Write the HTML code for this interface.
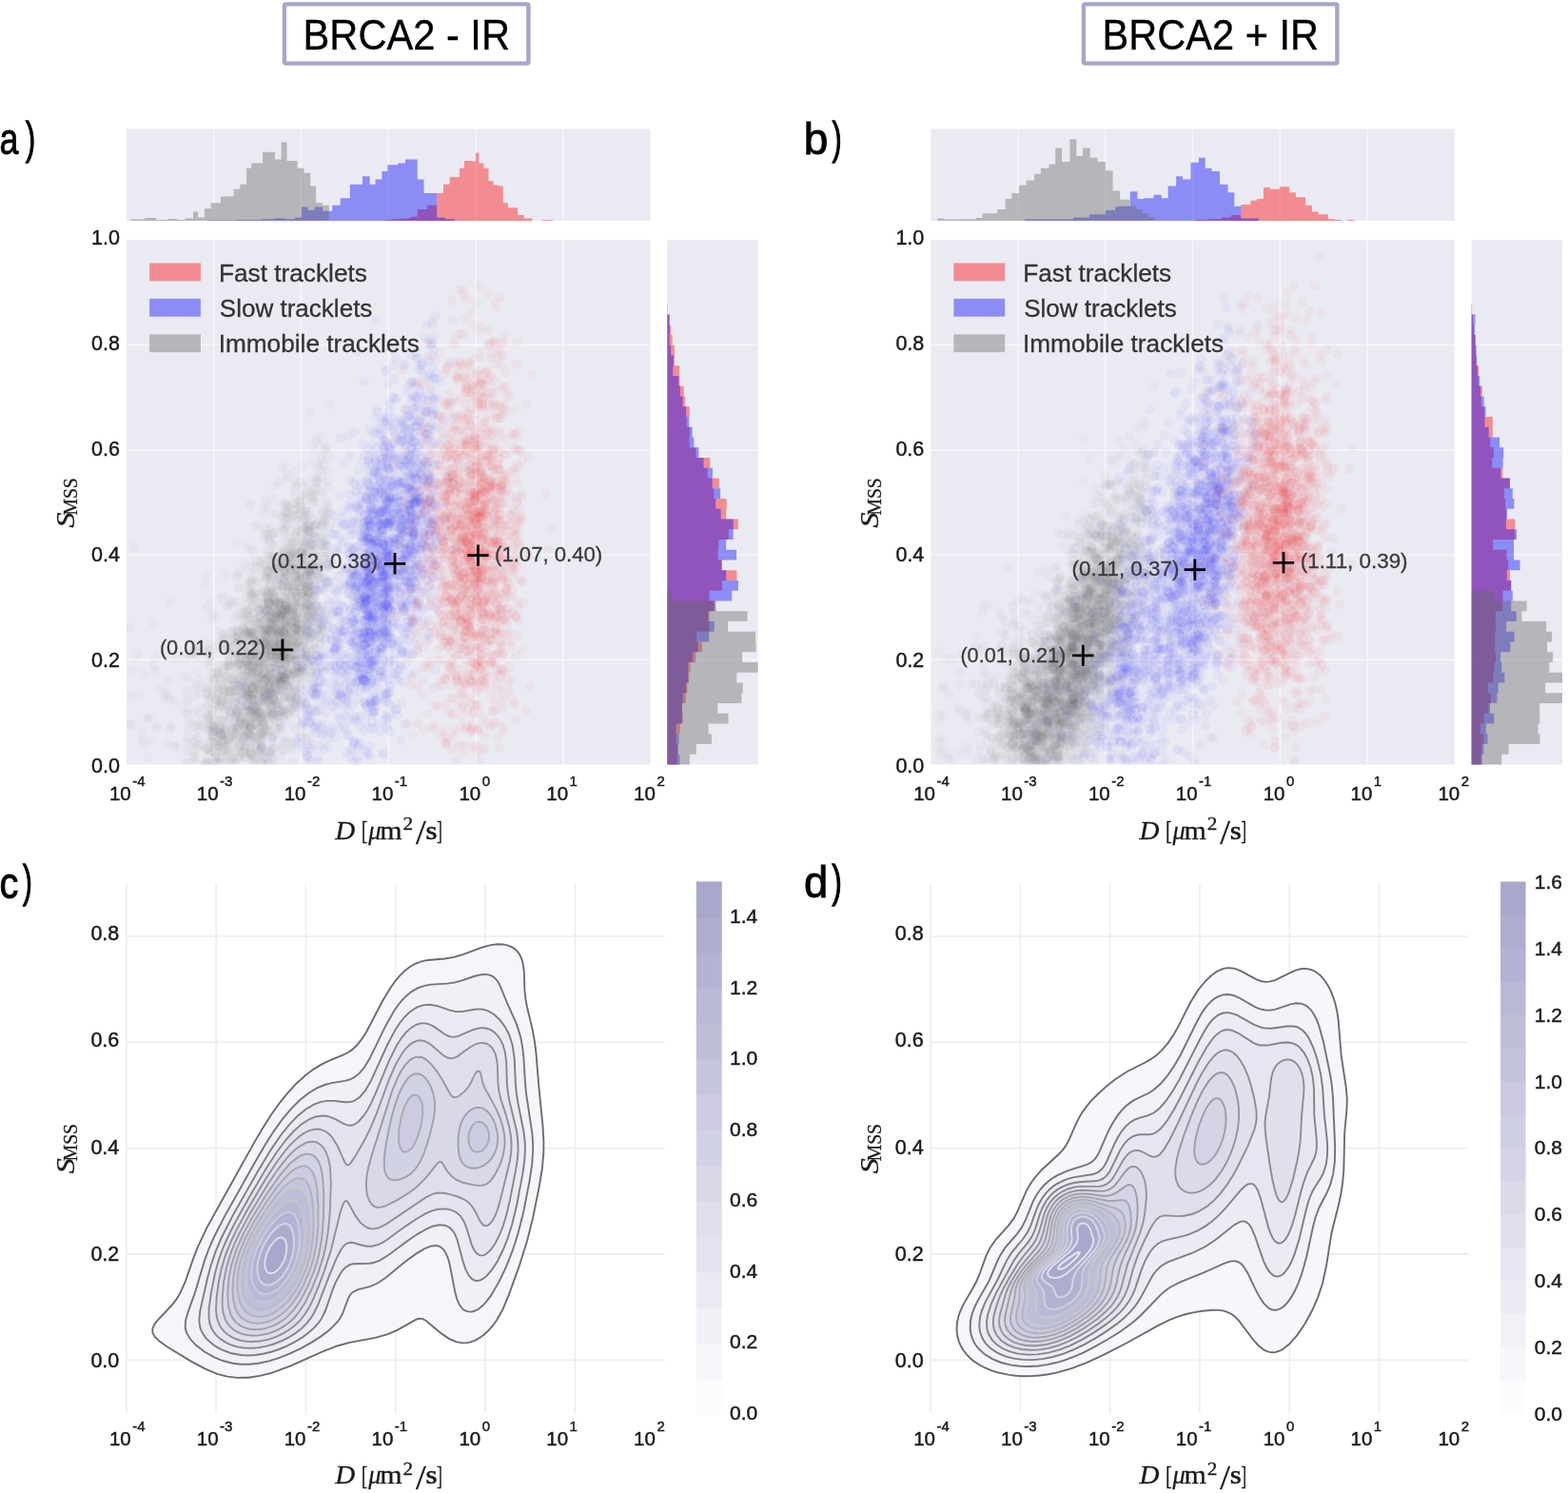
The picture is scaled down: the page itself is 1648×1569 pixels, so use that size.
<!DOCTYPE html><html><head><meta charset="utf-8"><style>html,body{margin:0;padding:0;background:#fff;}svg{display:block;}</style></head><body><svg width="1648" height="1569" viewBox="0 0 1648 1569">
<rect width="1648" height="1569" fill="#ffffff"/>
<rect x="298.9" y="4.4" width="256.5" height="62.2" fill="#fff" stroke="#A6A6CB" stroke-width="4.4" rx="1.5"/>
<text x="318.57" y="52.4" font-size="44.5" fill="#000" font-family="'Liberation Sans', Arial, Helvetica, sans-serif" textLength="217.44" lengthAdjust="spacingAndGlyphs" stroke="#000" stroke-width="0.35">BRCA2 - IR</text>
<rect x="1138.9" y="4.4" width="266.5" height="62.2" fill="#fff" stroke="#A6A6CB" stroke-width="4.4" rx="1.5"/>
<text x="1158.58" y="52.4" font-size="44.5" fill="#000" font-family="'Liberation Sans', Arial, Helvetica, sans-serif" textLength="227.47" lengthAdjust="spacingAndGlyphs" stroke="#000" stroke-width="0.35">BRCA2 + IR</text>
<text x="-0.41" y="162.4" font-size="47" fill="#000" font-family="'Liberation Sans', Arial, Helvetica, sans-serif" textLength="19.96" lengthAdjust="spacingAndGlyphs" stroke="#000" stroke-width="0.9">a</text>
<text x="27.1" y="160.6" font-size="47" fill="#000" font-family="'Liberation Sans', Arial, Helvetica, sans-serif" textLength="10.12" lengthAdjust="spacingAndGlyphs" stroke="#000" stroke-width="1.3">)</text>
<text x="844.71" y="162.3" font-size="47" fill="#000" font-family="'Liberation Sans', Arial, Helvetica, sans-serif" textLength="25.58" lengthAdjust="spacingAndGlyphs" stroke="#000" stroke-width="0.9">b</text>
<text x="874.7" y="160.5" font-size="47" fill="#000" font-family="'Liberation Sans', Arial, Helvetica, sans-serif" textLength="9.86" lengthAdjust="spacingAndGlyphs" stroke="#000" stroke-width="1.3">)</text>
<text x="-0.59" y="943.6" font-size="47" fill="#000" font-family="'Liberation Sans', Arial, Helvetica, sans-serif" textLength="19.88" lengthAdjust="spacingAndGlyphs" stroke="#000" stroke-width="0.9">c</text>
<text x="24.01" y="941.8" font-size="47" fill="#000" font-family="'Liberation Sans', Arial, Helvetica, sans-serif" textLength="9.74" lengthAdjust="spacingAndGlyphs" stroke="#000" stroke-width="1.3">)</text>
<text x="844.89" y="943.3" font-size="47" fill="#000" font-family="'Liberation Sans', Arial, Helvetica, sans-serif" textLength="25.21" lengthAdjust="spacingAndGlyphs" stroke="#000" stroke-width="0.9">d</text>
<text x="874.39" y="941.5" font-size="47" fill="#000" font-family="'Liberation Sans', Arial, Helvetica, sans-serif" textLength="10.25" lengthAdjust="spacingAndGlyphs" stroke="#000" stroke-width="1.3">)</text>
<rect x="133" y="135.5" width="550.5" height="96.5" fill="#EAEAF2"/>
<rect x="133" y="252.3" width="550.5" height="551.1" fill="#EAEAF2"/>
<rect x="701.3" y="252.3" width="95.4" height="551.1" fill="#EAEAF2"/>
<path d="M224.75 135.5V232M224.75 252.3V803.4M316.5 135.5V232M316.5 252.3V803.4M408.25 135.5V232M408.25 252.3V803.4M500 135.5V232M500 252.3V803.4M591.75 135.5V232M591.75 252.3V803.4M133 693.18H683.5M701.3 693.18H796.7M133 582.96H683.5M701.3 582.96H796.7M133 472.74H683.5M701.3 472.74H796.7M133 362.52H683.5M701.3 362.52H796.7" stroke="#F6F6FA" stroke-width="1.5" fill="none"/>
<path d="M404.75 232V231.26H411.55V232ZM411.55 232V230.24H421.74V232ZM421.74 232V229.39H431.94V232ZM431.94 232V227.69H438.73V232ZM438.73 232V220.04H448.93V232ZM448.93 232V215.8H459.12V232ZM459.12 232V203.05H465.92V232ZM465.92 232V193.71H472.71V232ZM472.71 232V186.07H482.91V232ZM482.91 232V176.72H488V232ZM488 232V169.08H495.65V232ZM495.65 232V169.42H499.89V232ZM499.89 232V160.58H503.29V232ZM503.29 232V171.62H508.39V232ZM508.39 232V176.72H513.49V232ZM513.49 232V190.31H518.58V232ZM518.58 232V194.56H523.68V232ZM523.68 232V195.41H528.78V232ZM528.78 232V213.25H533.87V232ZM533.87 232V218.35H544.07V232ZM544.07 232V225.99H550.86V232ZM550.86 232V229.39H559.36V232ZM569.55 232V231.26H581.44V232Z" fill="#ff0000" fill-opacity="0.4"/>
<path d="M218.35 232V231.43H248.93V232ZM248.93 232V231.09H274.41V232ZM274.41 232V230.24H288V232ZM288 232V229.39H299.89V232ZM299.89 232V230.24H310.09V232ZM310.09 232V228.54H316.88V232ZM316.88 232V217.5H323.68V232ZM323.68 232V220.89H330.48V232ZM330.48 232V217.5H338.97V232ZM338.97 232V221.74H349.16V232ZM349.16 232V215.8H357.66V232ZM357.66 232V208.15H367.85V232ZM367.85 232V193.71H384.84V232ZM384.84 232V185.22H388.24V232ZM388.24 232V194.56H395.04V232ZM395.04 232V188.61H401.83V232ZM401.83 232V180.97H409.99V232ZM380.97 232V185.22H388.61V232ZM388.61 232V193.71H394.56V232ZM394.56 232V188.61H401.36V232ZM401.36 232V180.12H407.3V232ZM407.3 232V173.32H418.35V232ZM418.35 232V171.62H425.99V232ZM425.99 232V167.38H438.73V232ZM438.73 232V188.61H445.53V232ZM445.53 232V203.05H459.12V232ZM459.12 232V228.54H467.61V232ZM467.61 232V230.24H477.81V232Z" fill="#0000ff" fill-opacity="0.4"/>
<path d="M136.8 232V230.58H152.09V232ZM152.09 232V229.05H163.98V232ZM163.98 232V230.92H175.87V232ZM175.87 232V229.9H186.07V232ZM186.07 232V230.92H194.56V232ZM194.56 232V229.39H203.05V232ZM203.05 232V222.59H208.15V232ZM208.15 232V228.54H214.95V232ZM214.95 232V219.19H221.74V232ZM221.74 232V213.25H231.94V232ZM231.94 232V206.45H245.53V232ZM245.53 232V198.81H252.32V232ZM252.32 232V193.71H259.12V232ZM259.12 232V176.72H264.22V232ZM264.22 232V171.62H276.11V232ZM276.11 232V159.73H288.85V232ZM288.85 232V167.38H295.65V232ZM295.65 232V149.54H301.59V232ZM301.59 232V169.08H312.64V232ZM312.64 232V176.72H319.43V232ZM319.43 232V181.82H326.23V232ZM326.23 232V195.41H332.17V232ZM332.17 232V213.25H338.97V232ZM338.97 232V215.8H345.77V232Z" fill="#666666" fill-opacity="0.4"/>
<path d="M701.3 792.65H711.45V803.4H701.3ZM701.3 781.91H712.05V792.65H701.3ZM701.3 771.16H710.53V781.91H701.3ZM701.3 760.41H714.63V771.16H701.3ZM701.3 749.67H717.67V760.41H701.3ZM701.3 738.92H716.69V749.67H701.3ZM701.3 728.17H720.78V738.92H701.3ZM701.3 717.43H722.28V728.17H701.3ZM701.3 706.68H723.86V717.43H701.3ZM701.3 695.94H725.5V706.68H701.3ZM701.3 685.19H731.16V695.94H701.3ZM701.3 674.44H738.04V685.19H701.3ZM701.3 663.7H732.15V674.44H701.3ZM701.3 652.95H745.27V663.7H701.3ZM701.3 642.2H745.54V652.95H701.3ZM701.3 631.46H751.55V642.2H701.3ZM701.3 620.71H745.65V631.46H701.3ZM701.3 609.96H758.86V620.71H701.3ZM701.3 599.22H774.41V609.96H701.3ZM701.3 588.47H758.49V599.22H701.3ZM701.3 577.72H754.62V588.47H701.3ZM701.3 566.98H755.21V577.72H701.3ZM701.3 556.23H765.74V566.98H701.3ZM701.3 545.49H775.74V556.23H701.3ZM701.3 534.74H763.23V545.49H701.3ZM701.3 523.99H763.69V534.74H701.3ZM701.3 513.25H750.39V523.99H701.3ZM701.3 502.5H755.82V513.25H701.3ZM701.3 491.75H743.65V502.5H701.3ZM701.3 481.01H746.28V491.75H701.3ZM701.3 470.26H731.4V481.01H701.3ZM701.3 459.51H724.49V470.26H701.3ZM701.3 448.77H725.03V459.51H701.3ZM701.3 438.02H721.65V448.77H701.3ZM701.3 427.27H724.76V438.02H701.3ZM701.3 416.53H720.18V427.27H701.3ZM701.3 405.78H718.77V416.53H701.3ZM701.3 395.03H714.49V405.78H701.3ZM701.3 384.29H714.08V395.03H701.3ZM701.3 373.54H708.85V384.29H701.3ZM701.3 362.8H708.89V373.54H701.3ZM701.3 352.05H706.69V362.8H701.3ZM701.3 341.3H705.07V352.05H701.3ZM701.3 330.56H703.99V341.3H701.3ZM701.3 319.81H701.8V330.56H701.3Z" fill="#ff0000" fill-opacity="0.4"/>
<path d="M701.3 792.65H714.37V803.4H701.3ZM701.3 781.91H712.69V792.65H701.3ZM701.3 771.16H713.47V781.91H701.3ZM701.3 760.41H710.56V771.16H701.3ZM701.3 749.67H716.56V760.41H701.3ZM701.3 738.92H717.08V749.67H701.3ZM701.3 728.17H717.79V738.92H701.3ZM701.3 717.43H721.06V728.17H701.3ZM701.3 706.68H723.32V717.43H701.3ZM701.3 695.94H723.22V706.68H701.3ZM701.3 685.19H727.86V695.94H701.3ZM701.3 674.44H733.75V685.19H701.3ZM701.3 663.7H745.18V674.44H701.3ZM701.3 652.95H750.71V663.7H701.3ZM701.3 642.2H744.34V652.95H701.3ZM701.3 631.46H750.54V642.2H701.3ZM701.3 620.71H769.24V631.46H701.3ZM701.3 609.96H775.99V620.71H701.3ZM701.3 599.22H763.23V609.96H701.3ZM701.3 588.47H758.65V599.22H701.3ZM701.3 577.72H774.08V588.47H701.3ZM701.3 566.98H763.17V577.72H701.3ZM701.3 556.23H770.62V566.98H701.3ZM701.3 545.49H770.64V556.23H701.3ZM701.3 534.74H757.66V545.49H701.3ZM701.3 523.99H752.18V534.74H701.3ZM701.3 513.25H757.18V523.99H701.3ZM701.3 502.5H748.64V513.25H701.3ZM701.3 491.75H748.87V502.5H701.3ZM701.3 481.01H739.56V491.75H701.3ZM701.3 470.26H734.38V481.01H701.3ZM701.3 459.51H729.3V470.26H701.3ZM701.3 448.77H727.65V459.51H701.3ZM701.3 438.02H724.22V448.77H701.3ZM701.3 427.27H721.2V438.02H701.3ZM701.3 416.53H717.55V427.27H701.3ZM701.3 405.78H714.92V416.53H701.3ZM701.3 395.03H713.26V405.78H701.3ZM701.3 384.29H707.27V395.03H701.3ZM701.3 373.54H707.97V384.29H701.3ZM701.3 362.8H705.11V373.54H701.3ZM701.3 352.05H703.66V362.8H701.3ZM701.3 341.3H703.67V352.05H701.3ZM701.3 330.56H703.36V341.3H701.3Z" fill="#0000ff" fill-opacity="0.4"/>
<path d="M701.3 792.65H724.83V803.4H701.3ZM701.3 781.91H731.75V792.65H701.3ZM701.3 771.16H747.87V781.91H701.3ZM701.3 760.41H744.54V771.16H701.3ZM701.3 749.67H765.59V760.41H701.3ZM701.3 738.92H754.3V749.67H701.3ZM701.3 728.17H779.38V738.92H701.3ZM701.3 717.43H780.76V728.17H701.3ZM701.3 706.68H774.33V717.43H701.3ZM701.3 695.94H796.7V706.68H701.3ZM701.3 685.19H780.16V695.94H701.3ZM701.3 674.44H794.49V685.19H701.3ZM701.3 663.7H794.04V674.44H701.3ZM701.3 652.95H765.04V663.7H701.3ZM701.3 642.2H785.5V652.95H701.3ZM701.3 631.46H752.71V642.2H701.3ZM701.3 620.71H705.97V631.46H701.3Z" fill="#666666" fill-opacity="0.4"/>
<clipPath id="sc0"><rect x="133" y="252.3" width="550.5" height="551.1"/></clipPath>
<g clip-path="url(#sc0)" fill="none" stroke-linecap="round" stroke-width="10.4">
<g stroke="#ff1818" stroke-opacity="0.035">
<path d="M492.5 443h0M513 690.5h0M409 617.5h0M475.5 565.5h0M468 590.5h0M462.5 506h0M472.5 473.5h0M484 606h0M492 509.5h0M497 658.5h0M494 684.5h0M507.5 517.5h0M477 380.5h0M519.5 540h0M439.5 401.5h0M504.5 540.5h0M490 466.5h0M467 659h0M518.5 601h0M541 430.5h0M480.5 485h0M520.5 471h0M526.5 456.5h0M456 598h0M444 540.5h0M468 625.5h0M461 557h0M540.5 575.5h0M499 623h0M432 646h0M547 542.5h0M510.5 443h0M480.5 632h0M518.5 583.5h0M489.5 736h0M475 501.5h0M437.5 521.5h0M506.5 595.5h0M475 538.5h0M493.5 634h0M451.5 527h0M501.5 725.5h0M504 578h0M507.5 404.5h0M489 589.5h0M451 571h0M496 671h0M496.5 478.5h0M525.5 654h0M462 487h0M515.5 764h0M489 648.5h0M471 777.5h0M529.5 590h0M485 558.5h0M510 529.5h0M527 510.5h0M509.5 713.5h0M527.5 704.5h0M542.5 459.5h0M506 419h0M461 694h0M536 628h0M489 495h0M475.5 752h0M528 763.5h0M502 390h0M414.5 647.5h0M501 461h0M438 669.5h0M533 665.5h0M553.5 425h0M532 499h0M510 663.5h0M524.5 439.5h0M440.5 578.5h0M445.5 680h0M480.5 704h0M520 623h0M502.5 495.5h0M543 382.5h0M434.5 559h0M516.5 729.5h0M520 556.5h0M498 529h0M463.5 544h0M454 361h0M444.5 730h0M462 641.5h0M509.5 561.5h0M497 566.5h0M433 712h0M540 599.5h0M498 549.5h0M466 447.5h0M474.5 578.5h0M502.5 647h0M496 328.5h0M546.5 474h0M509.5 632h0M503.5 703h0M477.5 618h0M480.5 452.5h0M516 510h0M506 343h0M497 376.5h0M525 527h0M531.5 611.5h0M432 690h0M478.5 662h0M540 558h0M490 398h0M491.5 409h0M444 591h0M472 647h0M483.5 783h0M516.5 489h0M527 640.5h0M479 689h0M501 740.5h0M501.5 768.5h0M537 716.5h0M514.5 646.5h0M506 606.5h0M469.5 739h0M518.5 422h0M527 371.5h0M528 689.5h0M523.5 775h0M479 515.5h0M522 666.5h0M448 659h0M522 569.5h0M540 737.5h0M511.5 363.5h0M548 522.5h0M553 747h0M505.5 681.5h0M446.5 486.5h0M543.5 359.5h0M492 614h0M489 536h0M493 707.5h0M448 609.5h0M423 599.5h0M527 736h0M471 679h0M469 525h0M527.5 408.5h0M467.5 608.5h0M462 371h0M481.5 721h0M440.5 633h0M423.5 388.5h0M457.5 741.5h0M557 721.5h0M543 488.5h0M460 682.5h0M466.5 422.5h0M447.5 702h0M414.5 461h0M488.5 766.5h0M476.5 766.5h0M452 632h0M460.5 467.5h0M467 714h0M412 585h0M487.5 311h0M479 798.5h0M521 745.5h0M531 352h0M427 530h0M429.5 479.5h0M504.5 301h0M549 683h0M455 766h0M521 323.5h0M472.5 461h0M495 602h0M449 506.5h0M445.5 466.5h0M483 421.5h0M478 438h0M557 584.5h0M462 670h0M495.5 429.5h0M450 750h0M437 618h0M450 448.5h0M434 772h0M555.5 480.5h0M487 575.5h0M461 437.5h0M448.5 375h0M506.5 788.5h0M475.5 599h0M525 312h0M478.5 356.5h0M534 546.5h0M543.5 649h0M467.5 393h0M428.5 760.5h0M446.5 433h0M559 393.5h0M471.5 412.5h0M527 678h0M550 611h0M406 520.5h0M527 384.5h0M487.5 386h0M549.5 633h0M515.5 376.5h0M512 478.5h0M454 409.5h0M417.5 566.5h0M511.5 456h0M516 394.5h0M537 522h0M573 518.5h0M439.5 760h0M479 394.5h0M453.5 338h0M508 755.5h0M524.5 786h0M541 587.5h0M454.5 478h0M405 479.5h0M528 724h0M530.5 478h0M541.5 756h0M530 425h0M576 577.5h0M456 581h0M426 430h0M412.5 490.5h0M484 546.5h0M544 507h0M578.5 555.5h0M464.5 572.5h0M475 316h0M444.5 714.5h0"/>
<path d="M498 541.5h0M472 501h0M508.5 699h0M519 543h0M494 608h0M506 507.5h0M475 632.5h0M513 609.5h0M459.5 589.5h0M525.5 586h0M464.5 617h0M474.5 484h0M500.5 717h0M489 491h0M506.5 519h0M531 461.5h0M500.5 665.5h0M501.5 581.5h0M485.5 552h0M489.5 662.5h0M491.5 649.5h0M503 615h0M485 745h0M527.5 704.5h0M472 531.5h0M460 547.5h0M504.5 415.5h0M512 399.5h0M511 685.5h0M443 534h0M464 476.5h0M514 425.5h0M485 382.5h0M463.5 666.5h0M473 701h0M455 575h0M479.5 609.5h0M509.5 599h0M502.5 678.5h0M538.5 626.5h0M522 566h0M488.5 463.5h0M466.5 569h0M433.5 652h0M453.5 600.5h0M493 574.5h0M498 741h0M486 710h0M501.5 468h0M510.5 638h0M459 508h0M531.5 618h0M453 696.5h0M510.5 572h0M501 630h0M541.5 593.5h0M497.5 499h0M527 508.5h0M504.5 484.5h0M503 371h0M531.5 671h0M493.5 517h0M541 497h0M515.5 624.5h0M464 633.5h0M529 651h0M518.5 494h0M516.5 473h0M489.5 412h0M467 652.5h0M410 646h0M485 626.5h0M482.5 579.5h0M484.5 451.5h0M481 394.5h0M535 552h0M487.5 729.5h0M488 335h0M548.5 542h0M479.5 646.5h0M511.5 587h0M476.5 659h0M517 525h0M517.5 673.5h0M468.5 780h0M540 741h0M460 488.5h0M469 555h0M445 566h0M503 766h0M548 518.5h0M476.5 464.5h0M473 514h0M476.5 596.5h0M452 657.5h0M478 566.5h0M483 534.5h0M439.5 685.5h0M509 560.5h0M449.5 674h0M434 557h0M439 722.5h0M494.5 562.5h0M489.5 475.5h0M517.5 720.5h0M526 681h0M509 445h0M420 639h0M524.5 597h0M546 452h0M516.5 372h0M544.5 569h0M442.5 599h0M498 457h0M529.5 430h0M531.5 733h0M492.5 689.5h0M468 456h0M476 733.5h0M451.5 479h0M433 403.5h0M494 592h0M430.5 593h0M510 535.5h0M471 748h0M511 650h0M473.5 426.5h0M527.5 636.5h0M498 705.5h0M524.5 483.5h0M528 374h0M454 537.5h0M445 588h0M546.5 473h0M416.5 599h0M497.5 402h0M464 679.5h0M494.5 441.5h0M464 438h0M488.5 507h0M449.5 518.5h0M499.5 318.5h0M465 721h0M488.5 783h0M438 634.5h0M484 764h0M519.5 738.5h0M470 384.5h0M527 360h0M433.5 512h0M521.5 662h0M532 407h0M455.5 762.5h0M528 529.5h0M446 404.5h0M543 581.5h0M486 674.5h0M493 528h0M487 305h0M474 685h0M542.5 689.5h0M478.5 436.5h0M445.5 460h0M445.5 767.5h0M450 497h0M516 512.5h0M461 742h0M449 360.5h0M517 455.5h0M520.5 759h0M431.5 621.5h0M461 465.5h0M449 626h0M458 560h0M509 548h0M500.5 789h0M457.5 377h0M521 439h0M471 583.5h0M554 583h0M528.5 575h0M539 644.5h0M474.5 542.5h0M515.5 360.5h0M512.5 308h0M519 413h0M543.5 667h0M448.5 426h0M542.5 529.5h0M483.5 350.5h0M537 540.5h0M425.5 572h0M520.5 317.5h0M489 424.5h0M452 613.5h0M426 473.5h0M427 535.5h0M531.5 391h0M432 668h0M476.5 362h0M429 523h0M501.5 348.5h0M473 673h0M529 768.5h0M520 554.5h0M466 768.5h0M440 502h0M548.5 610.5h0M477 772.5h0M534 715h0M443 437h0M534.5 563.5h0M459.5 523.5h0M513 347h0"/>
<path d="M506.5 539h0M520 545.5h0M478 498.5h0M471 480.5h0M459.5 589.5h0M501.5 615.5h0M498 491.5h0M487.5 664.5h0M527 703h0M500.5 521h0M505 509h0M464.5 495.5h0M497.5 578.5h0M499.5 418h0M478.5 552h0M480 634.5h0M510.5 577h0M501 600.5h0M484 384h0M451 605.5h0M471 699h0M474.5 615.5h0M495.5 544h0M528 500h0M464 668h0M435 654.5h0M486 568h0M515 594.5h0M525.5 665.5h0M500 700h0M494.5 636h0M508 670h0M537 674h0M501.5 726h0M501 679h0M522 647h0M484.5 652.5h0M490 401.5h0M507 638.5h0M449.5 549h0M486.5 601.5h0M468.5 626.5h0M521 614h0M470.5 566.5h0M475.5 584h0M460 640.5h0M467 542.5h0M491 623.5h0M475.5 750h0M480.5 709.5h0M518 427.5h0M482 531h0M491.5 463.5h0M440 539.5h0M520 689h0M504 469.5h0M510.5 706h0M498.5 647.5h0M500 714h0M496 764.5h0M515.5 505.5h0M530.5 564h0M451.5 561.5h0M515 522h0M506.5 403h0M484 729.5h0M491 745.5h0M500 450.5h0M538.5 619h0M526 511h0M486.5 583h0M533 654.5h0M483 473.5h0M522 573h0M524.5 726h0M475.5 453h0M521.5 633.5h0M448 527.5h0M541 537h0M512 413h0M513 554.5h0M488 444.5h0M462 514.5h0M464.5 577h0M475.5 513.5h0M469.5 528h0M493.5 559h0M538 591.5h0M530.5 583h0M454 501.5h0M466 608.5h0M465 653.5h0M444.5 701h0M513 626.5h0M513 453.5h0M525.5 488h0M528.5 624.5h0M490.5 692.5h0M536 727h0M545 634h0M517.5 472h0M490 315h0M495.5 340h0M524 535h0M488 414.5h0M489 503.5h0M518 748h0M544 558.5h0M494 432.5h0M545.5 491.5h0M461.5 447.5h0M516 657.5h0M448 577.5h0M439.5 634.5h0M443 596.5h0M512.5 488.5h0M505 376.5h0M463.5 774h0M522.5 368h0M475.5 788h0M538.5 573.5h0M509.5 440h0M448.5 456.5h0M434 550.5h0M461.5 721h0M509 773.5h0M529 744h0M452.5 469h0M543 522h0M486.5 791.5h0M509 786h0M471 423h0M476 662h0M509.5 392h0M501.5 741h0M487 677.5h0M508 566h0M468.5 388h0M544 471h0M537.5 602.5h0M452 616.5h0M531.5 431.5h0M447.5 483.5h0M450.5 512h0M538.5 643h0M490 720h0M474 675h0M474.5 719.5h0M439.5 607h0M470 467h0M538.5 455h0M474.5 647h0M546 652.5h0M533 551.5h0M519 761h0M525.5 452.5h0M496.5 532.5h0M521.5 439.5h0M442 621.5h0M487 351h0M548.5 548h0M522 382.5h0M460.5 554h0M497 785h0M487.5 519h0M503 798.5h0M535.5 416.5h0M528 406h0M440.5 677.5h0M481 487h0M483 304.5h0M432 720h0M443 402.5h0M531.5 477.5h0M475.5 602.5h0"/>
<path d="M469 484h0M510 539h0M476 501.5h0M457.5 595h0M523 703h0M495.5 613.5h0M476 632h0M479 551h0M502 416h0M508.5 514.5h0M469 618.5h0M465.5 586.5h0M534.5 506.5h0M500.5 577h0M525 547.5h0M498 541h0M490.5 600.5h0M436 650.5h0M480.5 609.5h0M500.5 488.5h0M501.5 681h0M513 582h0M522.5 506.5h0M493.5 565h0M488 669h0M480 573h0M511 610.5h0M499 625h0M515 568.5h0M508 503h0M488 395.5h0M528 608.5h0M491 551h0M470.5 707h0M500 700.5h0M496.5 589h0M484.5 654h0M520 619h0M520 595h0M465.5 568.5h0M507 600h0M446 598h0M509 721.5h0M516.5 672h0M498.5 526.5h0M514.5 633h0M497.5 655.5h0M507.5 645.5h0M464.5 552.5h0M493 713.5h0M496.5 462.5h0M503 551h0M481.5 591h0M480 533h0M524.5 561.5h0M502.5 667h0M535.5 664h0M460.5 658.5h0M547 533h0M516.5 688.5h0M503.5 393.5h0M473 516.5h0M480 481.5h0M444 530h0M513 557h0M520 426.5h0M507 457h0M494 641h0M474 456h0M486.5 467.5h0M462.5 508.5h0M545.5 545h0M470.5 643.5h0M522.5 650.5h0M530 519h0M485 753.5h0M489.5 411.5h0M503 766.5h0M523 493h0M449 696h0M540 563.5h0M462 540h0M467 471.5h0M489 434.5h0M534 645h0M520 525h0M500.5 442h0M480 385.5h0M517 450h0M468 670.5h0M487.5 621.5h0M467 527.5h0M471 655h0M504 404.5h0M488 700.5h0M535 701h0M486.5 741.5h0M452 522h0M496.5 749.5h0M502 472.5h0M543.5 595h0M467.5 440h0M451 572.5h0M451.5 561.5h0M484.5 688.5h0M513.5 473h0M518.5 358h0M539.5 492h0M532.5 619h0M494.5 505.5h0M484 520h0M524 481h0M462 629.5h0M481 715.5h0M489 490.5h0M441 637h0M510.5 709.5h0M449.5 540h0M537.5 679h0M469.5 782h0M514.5 397.5h0M486 728.5h0M430 558h0M488 453.5h0M517.5 746.5h0M530 633.5h0M469.5 424.5h0M529 687.5h0M500.5 784h0M493.5 380h0M533.5 587h0M549 483.5h0M452 505h0M527 439.5h0M444.5 513.5h0M530.5 575.5h0M451.5 486h0M523 376h0M459 494.5h0M457.5 609.5h0M539 457.5h0M542 473.5h0M474 734h0M544.5 639h0M516.5 412.5h0M445.5 450h0M441.5 660.5h0M465 693.5h0M508 429.5h0M514.5 658.5h0M533 414.5h0M520.5 462.5h0M546 609h0M522.5 716.5h0M452.5 636h0"/>
<path d="M517 539.5h0M478 492h0M496.5 618h0M494.5 572.5h0M502.5 540.5h0M514.5 514h0M455.5 591h0M525 549.5h0M507 411.5h0M493 494h0M507 423.5h0M494 419h0M499.5 586.5h0M487.5 668.5h0M480.5 398h0M501 684.5h0M526.5 709h0M512.5 580.5h0M500 517.5h0M461 479h0M503.5 603.5h0M472.5 629.5h0M522.5 587h0M475.5 556.5h0M484.5 652h0M482 601h0M506.5 570h0M508.5 697h0M483.5 638.5h0M479.5 580.5h0M513 609.5h0M482.5 545h0M515 672.5h0M466 568h0M510 529h0M489 530.5h0M465.5 581h0M527 674h0M514 634h0M499.5 465h0M480 619.5h0M498 643.5h0M501 632h0M458.5 546h0M505.5 494h0M474 526h0M518.5 563h0M433.5 660h0M519 688h0M496 483h0M510 718.5h0M469.5 507.5h0M504.5 654h0M478 472h0M489 554.5h0M492.5 605.5h0M474 702.5h0M499 665.5h0M516.5 436h0M481.5 502.5h0M498 452h0M509 620.5h0M519.5 644h0M508.5 554.5h0M464 598h0M495.5 696.5h0M526 653.5h0M534 611h0M532 516h0M498 505.5h0M484.5 565.5h0M524.5 623.5h0M516.5 490h0M468 652.5h0M459.5 521.5h0M537.5 542.5h0M490.5 408h0M505.5 399h0M483.5 517.5h0M478.5 446.5h0M536.5 559.5h0M497 717h0M525.5 572h0M493 435.5h0M466.5 615.5h0M445 572h0M497 741h0M488 682h0M519.5 599h0M544 572.5h0M452 535h0M494.5 766.5h0M528 505h0M454 664.5h0M523.5 523h0M520 358.5h0M467 675.5h0M516 479h0M525 471.5h0M488.5 589.5h0M463 715h0M451 602.5h0M486 714h0M481.5 737h0M482.5 379.5h0M470 431.5h0M517.5 408h0M451.5 562h0M433 550h0M464.5 455.5h0M533.5 639h0M461 635.5h0M442.5 542h0M470 387.5h0M468 774h0M478.5 418.5h0M524.5 425.5h0M439 631h0M490 473.5h0M516.5 457.5h0M539 593h0M511.5 389.5h0M451.5 701h0M542 648h0M443.5 527h0M469.5 539h0M541.5 456h0M473.5 592h0M441 515.5h0M495 392h0M450.5 508h0M439.5 594h0M539 470h0M445.5 455h0M537 496h0M512 760.5h0M543 526.5h0M486.5 458.5h0"/>
<path d="M510.5 518h0M503 544h0M481.5 493.5h0M496 498.5h0M498 614.5h0M455 587.5h0M491.5 571.5h0M499.5 583h0M506.5 688.5h0M513.5 570h0M526 712h0M483 607h0M468 496h0M521.5 548.5h0M508.5 600.5h0M489.5 655.5h0M522.5 515h0M509 529h0M514.5 506.5h0M469.5 626h0M469.5 480.5h0M476.5 589.5h0M499 698h0M496.5 527.5h0M478.5 635h0M476.5 554h0M478.5 575h0M502 634h0M514 582.5h0M492 542h0M503 468.5h0M492 469.5h0M496 594h0M508 644.5h0M474.5 540.5h0M459 555.5h0M470 520.5h0M512 676.5h0M506 722h0M502 423h0M501 488.5h0M523.5 628.5h0M477.5 652h0M495.5 645.5h0M466.5 582h0M468.5 562.5h0M523.5 686h0M518.5 665h0M484 530h0M520 536.5h0M516 698h0M510 622.5h0M499 516.5h0M501.5 668.5h0M515 489.5h0M518 650h0M503 558h0M492 453h0M483 512.5h0M487.5 553h0M486 626h0M520.5 611h0M477 471h0M474 697h0M466 648h0M478.5 710.5h0M497 407.5h0M459 510.5h0M495.5 716.5h0M492 684h0M457.5 525h0M491 440h0M532 648h0M534 514.5h0M481 397h0M522.5 590h0M527.5 570h0M470.5 668.5h0M513.5 478h0M514.5 362h0M497 761h0M544.5 562h0M498 750h0M445 562h0M463 538h0M532.5 619h0M526.5 494h0M460 571h0M531 528.5h0M482.5 482.5h0M446 530.5h0M539.5 536h0M471 507.5h0M523.5 639.5h0M525.5 436h0M486 669.5h0M461 437h0M543 551h0M508.5 709.5h0M475.5 447.5h0M531 556.5h0M531 605.5h0M456.5 663.5h0M437 653h0M474 615.5h0M471 680.5h0M467.5 425.5h0M524.5 475.5h0M491 381.5h0M495 734h0M462.5 599.5h0M500.5 434h0M447.5 574.5h0M510 403h0M507 657.5h0M540.5 586h0M503 455h0M520.5 399.5h0M511 391.5h0M437.5 638h0M528.5 360h0M447.5 507.5h0M514 419h0M500 393h0M518.5 452.5h0M468 782h0"/>
<path d="M515.5 509.5h0M498 609.5h0M491 618h0M497.5 550h0M498 568.5h0M499.5 497h0M495 581.5h0M482.5 498.5h0M463 489h0M502 514.5h0M452.5 589h0M491 662.5h0M509.5 581h0M510.5 597h0M525.5 540h0M505.5 537h0M490 650.5h0M479.5 630.5h0M469.5 479h0M466.5 585.5h0M489 527h0M483.5 554.5h0M483 573h0M478.5 642.5h0M507.5 634.5h0M489 468h0M504.5 693.5h0M481.5 592.5h0M515.5 522.5h0M470 551h0M513 609.5h0M514.5 644.5h0M468.5 501.5h0M457.5 579h0M490 541h0M514.5 570h0M511.5 679.5h0M468.5 518.5h0M504 424h0M476.5 606.5h0M501 470h0M468.5 633h0M475 564.5h0M523 584.5h0M516 698h0M508 560.5h0M503.5 669h0M530 621.5h0M472.5 533h0M509 716.5h0M495.5 629h0M457.5 551.5h0M495 447.5h0M497 592.5h0M522.5 486.5h0M532 707h0M528 515h0M474 710h0M497 404.5h0M470 657.5h0M506.5 411h0M464 565h0M502.5 620.5h0M481.5 454h0M456.5 532h0M526 557h0M521 664h0M509.5 484.5h0M479.5 517h0M495.5 684h0M500 526.5h0M488 394.5h0M495.5 709h0M527 644h0M489 603h0M494.5 481.5h0M468.5 616h0M463 646.5h0M503.5 748h0M481 483h0M485 438h0M528 604h0M509.5 461h0M527.5 529h0M535.5 569h0M477 674.5h0M481 689h0M545 549h0M531 503.5h0M491 506h0M513.5 621h0M526.5 429h0M529 685.5h0M454 513h0M494.5 769h0M513 550.5h0M509.5 655.5h0M537.5 597h0M546.5 572h0M494.5 383.5h0M487 719h0M498.5 721h0M518 471.5h0M472 421.5h0M520.5 362h0M502 646.5h0M542 648h0M507 449h0M464 541.5h0M466.5 601h0M521 634h0"/>
<path d="M512.5 511h0M502 604.5h0M500.5 550.5h0M497.5 491.5h0M488 608h0M495 589h0M510 574h0M491.5 654.5h0M476.5 492h0M500 527.5h0M525.5 540.5h0M484 636.5h0M491 562.5h0M475.5 579.5h0M513 600.5h0M483.5 545h0M511 542h0M479 563h0M513 643.5h0M506.5 587h0M499 471.5h0M497 637h0M503 696.5h0M479.5 652h0M506 426h0M493.5 619.5h0M504 626.5h0M467.5 522.5h0M468 552h0M473.5 627.5h0M500 460h0M508 662h0M508.5 500h0M499 574h0M475 613.5h0M510 558.5h0M483 508h0M490.5 534h0M486.5 478.5h0M525 492.5h0M460.5 595h0M520 568.5h0M497.5 410h0M498 669h0M484.5 467h0M499 506h0M467 472.5h0M523 649h0M480 526h0M524.5 629.5h0M452 525h0M467 567h0M472.5 502.5h0M512 673h0M505.5 482h0M519 526h0M503.5 716h0M525 660.5h0M528.5 508h0M519 477h0M468 712.5h0M479.5 714h0M521.5 584h0M454 552.5h0M490.5 709.5h0M460 656.5h0M513 612h0M451 581.5h0M479.5 592.5h0M519 550h0M486.5 441h0M535.5 613.5h0M480.5 399h0M494.5 516.5h0M518.5 696.5h0M464.5 618h0M527.5 599h0M530 552h0M541.5 563h0M460 629.5h0M477.5 449.5h0M505.5 401.5h0M529 575h0M472 673h0M460.5 533h0M483 680.5h0M462 510h0M462.5 645.5h0M528.5 435h0M540.5 601.5h0M522 686h0M511.5 464h0M521.5 426.5h0M494.5 681h0M475 694h0M510.5 450.5h0M517.5 710.5h0M470.5 539h0M490 763h0M541.5 548h0M532.5 640.5h0"/>
<path d="M491 579h0M487 612h0M504.5 508.5h0M498.5 536.5h0M517.5 511.5h0M484.5 634h0M508 544.5h0M505 497.5h0M525.5 541.5h0M515 577.5h0M502.5 611.5h0M503.5 578.5h0M494 521h0M484.5 552.5h0M472.5 557.5h0M510 532h0M492.5 658.5h0M487 566h0M496 547.5h0M505 701.5h0M511.5 603h0M481.5 601h0M482.5 645.5h0M504.5 637h0M486.5 538h0M473 545h0M493.5 640.5h0M472 494h0M491 468h0M474.5 589h0M507 668h0M469.5 633.5h0M500 562.5h0M507.5 651h0M472 517h0M499 600h0M466 576.5h0M494 488h0M505.5 479h0M523.5 646h0M500 405.5h0M484 507h0M524 569h0M452 590h0M496 629.5h0M480.5 621.5h0M461.5 562.5h0M502.5 425.5h0M505 521.5h0M507.5 715h0M494 716h0M521.5 665.5h0M525.5 522h0M453.5 550h0M477 480h0M504.5 680.5h0M503 463.5h0M466 528h0M450 526h0M522.5 492.5h0M524 585h0M512.5 469.5h0M494 500h0M480 715.5h0M491 677h0M467.5 506.5h0M468 713h0M489 403.5h0M516 694.5h0M465.5 611h0M518 553.5h0M484.5 435.5h0M542 554.5h0M518 629h0M476 462.5h0M464 482h0M477 669h0M521 707h0M532.5 595.5h0M454.5 514h0M531.5 627.5h0M481 525.5h0M468 675.5h0M530 553h0M525.5 676h0M528 609.5h0M507 590h0M462.5 665.5h0M517 481h0M455 579h0M494 447h0M517.5 616.5h0M532 505h0M477.5 700.5h0M497 768h0"/>
<path d="M501 579h0M496.5 543.5h0M492 586h0M509.5 518h0M489 569h0M521 514.5h0M484.5 626.5h0M477 637.5h0M498.5 532h0M510 610h0M517 571.5h0M509.5 534h0M493.5 659h0M480 557h0M524.5 546.5h0M512.5 505h0M504.5 598.5h0M475.5 501.5h0M473 547h0M493 614.5h0M475 579h0M521 533h0M494.5 518h0M495.5 646.5h0M502 703.5h0M506.5 651h0M510 628.5h0M512.5 584h0M495 497.5h0M478.5 518h0M518.5 647h0M485 604h0M502.5 561.5h0M501.5 637h0M506 665h0M497.5 416h0M479.5 533.5h0M466 520h0M501 479h0M485 651h0M502.5 692.5h0M490.5 462h0M469.5 626.5h0M506 493h0M484.5 545.5h0M529.5 651.5h0M466.5 570h0M479 616h0M500.5 399.5h0M527.5 665.5h0M473 470h0M512.5 480h0M455 550.5h0M524.5 584h0M486.5 479.5h0M518 595.5h0M480.5 711h0M477 594h0M517 673h0M516.5 696h0M449 528.5h0M504.5 467.5h0M529 498h0M526.5 558.5h0M509.5 428h0M481.5 440h0M484.5 681.5h0M529 602.5h0M518.5 618.5h0M469.5 674h0M532.5 622.5h0M482 662h0M465 505h0M466.5 537.5h0M496.5 716.5h0M467.5 610h0M452.5 599.5h0M489.5 670.5h0M501.5 677.5h0M488.5 406.5h0M535.5 541.5h0M519 491h0M512 547h0"/>
<path d="M502 538h0M492 585.5h0M512 512h0M479 639.5h0M489.5 569.5h0M509.5 582h0M492 528.5h0M493 547.5h0M503.5 520h0M522 506h0M474.5 548h0M512.5 567.5h0M474.5 492.5h0M490 662.5h0M483.5 629h0M504 614h0M478.5 565h0M478.5 583.5h0M521 546.5h0M512.5 500h0M488.5 616h0M506 648.5h0M512.5 630h0M505.5 598h0M506.5 696h0M520.5 533h0M510 672.5h0M478.5 603h0M502 638h0M498 469.5h0M502 505h0M518.5 607h0M482.5 654h0M501.5 557.5h0M468.5 522h0M467 633h0M500 484h0M481 511h0M520 638.5h0M472 503.5h0M523 572h0M465.5 573.5h0M464 560.5h0M481 528.5h0M492 495.5h0M508 661.5h0M485.5 464.5h0M527 520.5h0M463 549h0M502 425h0M504 402.5h0M475.5 614h0M513.5 484h0M480.5 475.5h0M520 697.5h0M528 585.5h0M500.5 626h0M506 712.5h0M457 530.5h0M451.5 559h0M501.5 573h0M490.5 676h0M495.5 696.5h0M520.5 660h0M470.5 470.5h0M489 719h0M494.5 600h0M472 671.5h0M532.5 651.5h0M454 598.5h0M493.5 412h0"/>
<path d="M496 535.5h0M505.5 543.5h0M518 516h0M475 631.5h0M493.5 570.5h0M503 580.5h0M519 576.5h0M492 524h0M493 551.5h0M487 588.5h0M487 653h0M481.5 496.5h0M502 604.5h0M505.5 513h0M471 500h0M470 557.5h0M490 630h0M498.5 617.5h0M469 543.5h0M524.5 545h0M515 646.5h0M476.5 584.5h0M506 638h0M474 571.5h0M520.5 501h0M481.5 543h0M502.5 699.5h0M502 592.5h0M506.5 568h0M513 666.5h0M518.5 565.5h0M506.5 501h0M478.5 645.5h0M483.5 609.5h0M498.5 460h0M493 476h0M465.5 520.5h0M484.5 513.5h0M526.5 640.5h0M504.5 554.5h0M510 527h0M519.5 534.5h0M507 479h0M519 609h0M459 558.5h0M472 615h0M473.5 530.5h0M497 668.5h0M529.5 587.5h0M448.5 532.5h0M473.5 478.5h0M497 409h0M507 425h0M491 684.5h0M494.5 498.5h0M476.5 597.5h0M513 587h0M502.5 489.5h0M462 626h0M478 672.5h0M492.5 598.5h0M492.5 641.5h0M454.5 547.5h0M505.5 686.5h0M521.5 626.5h0M465 582.5h0M488.5 718h0"/>
<path d="M508.5 517h0M481 630.5h0M490.5 580.5h0M505 537.5h0M494 542h0M484 653.5h0M497 567.5h0M504.5 582h0M506 506h0M468 547.5h0M492 634.5h0M507 642h0M475 557h0M475 498.5h0M486.5 550.5h0M504 612.5h0M495.5 593h0M521 570h0M484.5 565.5h0M509.5 631h0M490.5 527.5h0M517.5 508h0M493 660.5h0M501 551.5h0M485.5 602h0M490 615.5h0M467.5 511h0M478 516h0M494.5 512.5h0M484 505.5h0M500 697h0M522.5 637h0M499 471.5h0M499 496.5h0M468 576h0M515.5 664.5h0M471 624h0M475.5 587.5h0M472.5 526h0M521 606h0M506.5 671.5h0M483 474.5h0M519.5 649h0M525 532h0M522 552.5h0M527.5 579h0M495 461h0M515.5 481h0M509 417.5h0M460.5 558h0M530 594.5h0M482.5 681h0M510 566h0M502.5 485.5h0M471.5 640h0M527.5 513.5h0M470.5 468.5h0M508 597h0M497.5 709h0M518.5 495h0M479 538h0"/>
<path d="M494.5 580.5h0M495 544h0M515 510.5h0M508 541.5h0M500.5 522.5h0M487 564.5h0M502 569h0M494 653.5h0M488 663h0M489.5 640h0M511 584.5h0M474.5 630.5h0M503 602h0M501 620.5h0M474 556h0M513.5 647h0M508 633.5h0M472 519.5h0M488 533.5h0M473 543.5h0M491.5 594.5h0M527 511h0M502 552.5h0M476 499h0M497.5 696h0M489 620.5h0M517.5 570h0M480 581h0M508 477.5h0M489 608h0M505.5 497.5h0M499 470h0M513 525.5h0M506 663h0M466.5 574h0M479.5 599.5h0M518 611h0M477.5 477.5h0M497.5 509.5h0M480.5 510.5h0M525 640h0M490 478.5h0M527.5 575.5h0M480.5 647.5h0M510.5 419h0M470 617h0M462 547h0M475.5 678h0M518 626h0M522.5 600.5h0"/>
<path d="M504 546.5h0M496.5 585h0M492 545.5h0M500.5 519.5h0M505 530h0M491.5 571.5h0M483.5 661h0M484.5 645h0M512.5 582.5h0M493.5 653h0M488.5 630h0M501.5 601h0M515.5 504.5h0M490.5 534h0M501 563h0M479 570h0M507.5 631.5h0M515 649.5h0M484 555.5h0M507 617h0M487 618.5h0M475.5 507.5h0M502 691h0M484.5 599.5h0M527 513h0M484.5 581.5h0M503 576h0M505.5 703.5h0M475 634h0M470 529.5h0M507 496.5h0M513.5 600h0M467 547h0M512 516.5h0M514 567h0M474 592.5h0M498.5 461h0M469 564h0M487 511.5h0M506.5 642.5h0M496.5 668h0M519 530h0M518 612.5h0M473.5 476.5h0M510 667h0M493.5 488h0M527.5 644.5h0M528.5 608h0M472.5 645h0M513.5 483.5h0M471.5 493h0"/>
<path d="M492.5 585h0M494 574h0M511 537.5h0M498 541h0M496 562h0M502.5 608.5h0M500.5 522h0M486.5 646.5h0M500 596h0M507.5 506.5h0M491.5 660.5h0M484.5 628h0M484 551.5h0M508.5 584h0M502.5 630h0M481.5 572.5h0M480 503.5h0M470 516h0M519.5 512h0M482 599h0M504.5 553h0M474 557h0M488.5 528.5h0M501 491.5h0M473.5 543.5h0M507.5 567h0M511 642h0M524 569.5h0M491 606.5h0M506.5 694h0M491 466h0M513.5 630.5h0M521 609h0M517.5 525.5h0M478.5 655h0M490.5 513.5h0M475 583.5h0M514 594.5h0"/>
<path d="M487 566h0M492.5 588h0M495.5 551.5h0M513 540.5h0M498.5 571h0M508.5 503h0M505 514.5h0M484.5 578h0M505 597h0M492.5 650.5h0M503.5 608.5h0M494 535h0M479 637.5h0M483 550h0M502 525.5h0M507.5 578.5h0M491.5 639h0M508 628.5h0M479 623.5h0M470.5 506.5h0M519 507h0M487 604h0M493 624h0M509.5 555h0M468.5 521h0M473 577h0M520 573.5h0M495.5 663h0M527.5 516.5h0M465 545h0M493 462.5h0M479 591h0M508.5 646h0M505 488h0M495.5 496.5h0M475.5 648h0"/>
<path d="M498 579.5h0M495.5 552h0M503 537.5h0M485.5 563h0M489.5 656.5h0M486 544h0M497 519h0M506 563.5h0M485 575.5h0M498.5 599.5h0M499 611.5h0M506 504.5h0M499 628.5h0M483.5 618.5h0M472.5 513.5h0M506 526h0M484 595.5h0M479.5 553.5h0M524 513h0M475.5 630h0M508.5 588h0M513 514h0M522 578.5h0M484.5 644.5h0M510 612.5h0M497.5 669h0M480.5 606h0M523.5 565h0"/>
<path d="M494 582.5h0M503 544h0M496.5 570.5h0M504 515h0M495.5 601.5h0M505 593.5h0M511 502h0M491.5 559.5h0M508.5 580h0M484.5 569h0M498.5 525.5h0M481 546h0M489 626h0M500 633.5h0M491 535.5h0M475.5 508.5h0M506 563.5h0M502.5 619.5h0M508.5 532h0M486.5 608h0M475 556.5h0M478 629h0M506 608h0M492.5 655.5h0M488.5 669.5h0M519.5 569h0M483 590.5h0"/>
<path d="M502.5 544h0M495 585h0M490 568h0M502 519.5h0M494.5 607h0M505 576h0M487 541h0M488.5 595.5h0M481 575h0M505 560.5h0M502 497.5h0M475 508h0M506 625.5h0M508.5 507.5h0M493.5 526.5h0M509 531.5h0M492 630h0M479 550.5h0M483.5 612h0M518 583.5h0M494.5 554.5h0M506 606h0M500.5 638h0M489.5 649h0M495 664.5h0"/>
<path d="M506.5 545.5h0M492.5 584h0M498.5 606.5h0M484.5 569h0M500.5 594h0M492.5 541.5h0M498 522h0M493 558h0M505 575.5h0M508.5 516h0M510 527h0M501.5 631h0M476.5 542.5h0M476.5 505h0M503 619h0M506 495.5h0M510.5 585.5h0M487.5 618.5h0M522.5 573.5h0"/>
<path d="M500 544h0M492 574.5h0M512.5 543h0M500 588h0M502.5 606.5h0M497 519.5h0M487 564.5h0M500.5 559.5h0M514.5 510.5h0M509.5 579.5h0M497 639h0M490 537.5h0M502 623h0M489.5 607.5h0M472 512h0"/>
<path d="M501 540h0M490 577.5h0M499 552h0M501 599h0M488.5 566h0M498.5 526h0M502.5 587.5h0M499.5 613h0M499.5 567h0M510 516.5h0M513 535.5h0M485 612.5h0"/>
<path d="M509 539h0M492.5 574h0M499.5 545.5h0M490 586.5h0M502 593h0M505 606.5h0M490 558h0M501 561h0M498.5 518h0M496.5 534.5h0"/>
<path d="M496 583h0M493 547.5h0M484.5 582h0M500.5 538h0M490.5 569h0M502 606h0M505 549.5h0M496.5 559.5h0M480 559.5h0M502 527h0M498 595.5h0M506.5 566.5h0M502.5 513h0M492 521h0"/>
<path d="M491 583.5h0M500 547.5h0M498.5 597.5h0M503 610h0M492.5 571.5h0M488.5 556h0M506.5 517h0M500 561h0M504 537h0M504 583h0"/>
<path d="M495 580h0M503 540.5h0M487.5 563h0M498 613.5h0M503 555h0M498.5 519h0M499 602h0"/>
<path d="M493 589h0M500 610h0M505 542.5h0M498.5 562.5h0M486 580.5h0M488.5 568h0M499 599h0M496 533.5h0"/>
<path d="M497 585h0M489.5 576.5h0M502.5 543h0M507 602h0M499.5 523.5h0M496 562h0"/>
<path d="M495.5 578h0M502 550.5h0M506 537h0"/>
<path d="M493 583h0M495 571h0M500.5 537.5h0"/>
</g>
<g stroke="#1818ff" stroke-opacity="0.035">
<path d="M406.5 492.5h0M368 586.5h0M406.5 443h0M368.5 605h0M396 584h0M406.5 542.5h0M437 417h0M354 706h0M429.5 529.5h0M442 453.5h0M372 550h0M379.5 677h0M433.5 463.5h0M315.5 781.5h0M317 701h0M436 480.5h0M371.5 800h0M466 441.5h0M388 516.5h0M341.5 654h0M388 669h0M388 547.5h0M386.5 485h0M361.5 638h0M282 802.5h0M427.5 583h0M387 600h0M354 549.5h0M406.5 622h0M388 709h0M398 652h0M420 546h0M347.5 611h0M407.5 569h0M402.5 606h0M422.5 489.5h0M432.5 401.5h0M418 659h0M418 612.5h0M294.5 607h0M389 611h0M336.5 616.5h0M409.5 588h0M390 535h0M409 667.5h0M387 688h0M341 717.5h0M363 699.5h0M451 547.5h0M332.5 730h0M372 652h0M418.5 508.5h0M437 595.5h0M390 623h0M438 510.5h0M399 705h0M428.5 431h0M378 631.5h0M448 574.5h0M368 504.5h0M420.5 519.5h0M359.5 668.5h0M354 738h0M416.5 630h0M356 719h0M367 686h0M317.5 752.5h0M332 711h0M450 586.5h0M390.5 736h0M391.5 455.5h0M421 441h0M419 563.5h0M393 494.5h0M356.5 765h0M445.5 523h0M434 653.5h0M382.5 565.5h0M431 553h0M329.5 666h0M453.5 445h0M279.5 662h0M397 433h0M423.5 639.5h0M355 579.5h0M442 498h0M355.5 753.5h0M425.5 383h0M381 719h0M372 668h0M366.5 574h0M429.5 619h0M404 638h0M386.5 795.5h0M406.5 761h0M342 740h0M369.5 527.5h0M414 398h0M391 759h0M290.5 740h0M458 467h0M366.5 748.5h0M327.5 787.5h0M424.5 670.5h0M409 524.5h0M375.5 369.5h0M456.5 619.5h0M320.5 554h0M391.5 466.5h0M375.5 734.5h0M347.5 666.5h0M409.5 727h0M326.5 692.5h0M395 572h0M420.5 683h0M436 576h0M401.5 504.5h0M375.5 758h0M328.5 637.5h0M322.5 657h0M319 733.5h0M341 768.5h0M374.5 515.5h0M432.5 631h0M447.5 669.5h0M342.5 573.5h0M414 368.5h0M250 739.5h0M375 701h0M420 597.5h0M413 453.5h0M290.5 695.5h0M407 481h0M413.5 384h0M351.5 561.5h0M394 560.5h0M364.5 726.5h0M437.5 541h0M409.5 432h0M251.5 720h0M399.5 594.5h0M445 393.5h0M382 768h0M451.5 357.5h0M465 564h0M430.5 606h0M332.5 747h0M443.5 560h0M369.5 786h0M402 682.5h0M475 423h0M449 506.5h0M386 505h0M329 573.5h0M407 555.5h0M470.5 502h0M368.5 616.5h0M332.5 681.5h0M365 772h0M276 734h0M384.5 658h0M275 783h0M454.5 417.5h0M455.5 489h0M355 647.5h0M444 622h0M405 464h0M265.5 741h0M459 398.5h0M422.5 463h0M416 709.5h0M464 529h0M448 342h0M461 604.5h0M361 487h0M386 646h0M449.5 610h0M444 641h0M410 695.5h0M453.5 532.5h0M396 717h0M425.5 760.5h0M430.5 709.5h0M411 742.5h0M455 368h0M257 774.5h0M456.5 639h0M438 683h0M433.5 442.5h0M335 592h0M298 756h0M346.5 596.5h0M376.5 494h0M285 775h0M448 432.5h0M307.5 680.5h0M381 587.5h0M443.5 381.5h0M354.5 623h0M352.5 680.5h0M413.5 417.5h0M417 534h0M400 516h0M392 634.5h0M459.5 515h0M394 748h0M368.5 562h0M352 695h0M240.5 747.5h0M358 460.5h0M293.5 634.5h0M429.5 499h0M294 710.5h0M403 793h0M426.5 697.5h0M372.5 712h0M317 714.5h0M326 799.5h0M382.5 400.5h0M422 739h0M437.5 370.5h0M476 337h0M284.5 726.5h0M278 641.5h0M455 722.5h0M332.5 551h0M347.5 540h0M340.5 787h0M394 336.5h0M346 635.5h0M477 576.5h0M377.5 536.5h0M232 770h0M472 381.5h0M330.5 764.5h0M421.5 778h0M372.5 454h0M388.5 784h0M359 537.5h0M468.5 546h0M458 705h0M290.5 649.5h0M298 779.5h0M398.5 664h0M263 530.5h0M451 652h0M338.5 691.5h0M357.5 520.5h0M457 332h0M418 476.5h0M250.5 761h0"/>
<path d="M391.5 588h0M318.5 785h0M386.5 683.5h0M433 422.5h0M427 542.5h0M358 698.5h0M401 490.5h0M420.5 489.5h0M412 565.5h0M391.5 525h0M383 478h0M428 412.5h0M376.5 801h0M413 589.5h0M390 554h0M395.5 662h0M421.5 554h0M373.5 661.5h0M392 649.5h0M346 651h0M409 614.5h0M404 549.5h0M410 602h0M399 706h0M428.5 584.5h0M381.5 638.5h0M430.5 600.5h0M394 626h0M355 642.5h0M361 733.5h0M443 447h0M399 538.5h0M429 530h0M438.5 504h0M390 613.5h0M401.5 439.5h0M415.5 439h0M408 663.5h0M428 612h0M336 716.5h0M386.5 501.5h0M411.5 676h0M368 582h0M387.5 573h0M403.5 695.5h0M439 554.5h0M413 540h0M334 649.5h0M418 523.5h0M398.5 638.5h0M437 402h0M383.5 740.5h0M383 697h0M412 631h0M431 658.5h0M454.5 464.5h0M455.5 549.5h0M445 571.5h0M451.5 503.5h0M432 469.5h0M402.5 577h0M321 662h0M375.5 606h0M405.5 756.5h0M335.5 746h0M398 515h0M432 573.5h0M384 759h0M454 523h0M380 619h0M443 480.5h0M381 715h0M381.5 670.5h0M325 760h0M362 551h0M392.5 730.5h0M353.5 619.5h0M440.5 524.5h0M406.5 525.5h0M381.5 515h0M425.5 447.5h0M372 757h0M412.5 505.5h0M405 734h0M443.5 464.5h0M404 651h0M423.5 505.5h0M341 569.5h0M447 538h0M355 678h0M334.5 692.5h0M372.5 631h0M432 489.5h0M338 764.5h0M348 724.5h0M427.5 631.5h0M344 611h0M410 480.5h0M393.5 599.5h0M355.5 605h0M361.5 662.5h0M432 513h0M280 796.5h0M317.5 701h0M346 701h0M367 690.5h0M410 719h0M352.5 578h0M328 728h0M445 420h0M444.5 651.5h0M429.5 686h0M403 471.5h0M362.5 721.5h0M418 461.5h0M442.5 597h0M388 451h0M377.5 533h0M363.5 765.5h0M431.5 644h0M399.5 681.5h0M446.5 354.5h0M398 501.5h0M405.5 389h0M391 749h0M458 488h0M459 568h0M466.5 462h0M274.5 786.5h0M342 672h0M345.5 737h0M377.5 727h0M348.5 770h0M364.5 791h0M337.5 637.5h0M429.5 436h0M375 682h0M378 558h0M414 578.5h0M388 540.5h0M325 565.5h0M378 781.5h0M271.5 749h0M460 436h0M376.5 593h0M414.5 699h0M413.5 450.5h0M337 783.5h0M350.5 542h0M351.5 711.5h0M407.5 403.5h0M281 729h0M453.5 384.5h0M294.5 763.5h0M400 458h0M456 594h0M449.5 395h0M446.5 623h0M438 377.5h0M337 620h0M285 781h0M321 739h0M423 717h0M373.5 547.5h0M368.5 642.5h0M420 622.5h0M417.5 745h0M311 733.5h0M367.5 519.5h0M454 606h0M372.5 700.5h0M377.5 650.5h0M455 340.5h0M458 534h0M370.5 741.5h0M387 489.5h0M350 561h0M364 597h0M452.5 636h0M445 586h0M414 418h0M394.5 480.5h0M334 661.5h0M448.5 433h0M322 689h0M451.5 671h0M416.5 377h0M334 800.5h0M361 569h0M346.5 687h0M349.5 593h0M436.5 677h0M413 643.5h0M371 506.5h0M436.5 706.5h0M401 564.5h0M452.5 407.5h0M458 450h0M403 791h0M352 631h0M327 597.5h0M399.5 768.5h0M325.5 634.5h0M463 401.5h0M295 724.5h0M365.5 615h0M476 439.5h0M417 655.5h0M363 709.5h0M255 716.5h0M457 420.5h0M254.5 736.5h0M368 479.5h0M389 793h0M297.5 712.5h0M366 458h0M357.5 755.5h0M395.5 429h0M366 531.5h0M477.5 509h0M290 703h0M319.5 546.5h0"/>
<path d="M389.5 596h0M422 545.5h0M409.5 588h0M404.5 663.5h0M416.5 567h0M409 615h0M396.5 652.5h0M393 584h0M416 483h0M358.5 688h0M395 621h0M420.5 556.5h0M404.5 568h0M409.5 550h0M389.5 533h0M391.5 700h0M393.5 518h0M436.5 582h0M431.5 600.5h0M388 631h0M400.5 539h0M424 575.5h0M402 599.5h0M381.5 611.5h0M368.5 699h0M387.5 559.5h0M424 533.5h0M311.5 779.5h0M396.5 449h0M430 489.5h0M433.5 523h0M445.5 552h0M377.5 666.5h0M434.5 429h0M426 611h0M371 590.5h0M382.5 678.5h0M388.5 665h0M395.5 684.5h0M396.5 639h0M433.5 563.5h0M373 604.5h0M331 722h0M453 451h0M368.5 654h0M324.5 786.5h0M385.5 750h0M411.5 639.5h0M443.5 570h0M436 464.5h0M404 500h0M451.5 499h0M379 510.5h0M389 738.5h0M436.5 448.5h0M388 545h0M419.5 510.5h0M391 501.5h0M360 543h0M452.5 528h0M402 481h0M422 499.5h0M407.5 650.5h0M370 549.5h0M442 540h0M338 772.5h0M326 752h0M423 456.5h0M356 642h0M420.5 599.5h0M410 676h0M410 523.5h0M433.5 552h0M449.5 462.5h0M407.5 448.5h0M348.5 734h0M331 666.5h0M339.5 651.5h0M423 634h0M427 476h0M381 713.5h0M374 627.5h0M359 705.5h0M353.5 674h0M435.5 629.5h0M411 472h0M367 757h0M402.5 693h0M423 685.5h0M405 462.5h0M358.5 728.5h0M372.5 725.5h0M390.5 571.5h0M379 569h0M398 551h0M433 401h0M388 479h0M445.5 484.5h0M449 580h0M425 665.5h0M378.5 641h0M395.5 728h0M350.5 661h0M368.5 795.5h0M446 592.5h0M457 352.5h0M425.5 587.5h0M382 467.5h0M456 510.5h0M364 718h0M379.5 696h0M453.5 541h0M425.5 622.5h0M432.5 510h0M375.5 529.5h0M433.5 654.5h0M458 562.5h0M408 714.5h0M333 689h0M361.5 618h0M363.5 740h0M384 725.5h0M343.5 611.5h0M331.5 565.5h0M436.5 499h0M352.5 775h0M338 737.5h0M366 773h0M351.5 719h0M441.5 412.5h0M369 674h0M405.5 765h0M324.5 655h0M409 728h0M424.5 442h0M419 703.5h0M444.5 603.5h0M382.5 652.5h0M454 374h0M336 701.5h0M417 751.5h0M455 430.5h0M452 392.5h0M349.5 764h0M455.5 606.5h0M317.5 733h0M459 594h0M442 384.5h0M348 694h0M377.5 781.5h0M450.5 666h0M405 627.5h0M378.5 580h0M453 628h0M444.5 656.5h0M396 470.5h0M318.5 688h0M277.5 730.5h0M405.5 752h0M287.5 774h0M391.5 765h0M334 795.5h0M413 577.5h0M367.5 575h0M319 666.5h0M361.5 663h0M346.5 583.5h0M397.5 673h0M417 419h0M333 620.5h0M452.5 363h0M332.5 636h0M432.5 373h0M438 613.5h0M360 601h0M354.5 561h0M346 784.5h0M342.5 671h0M402 705h0M450.5 616.5h0M409.5 739h0M317.5 700h0M335 599h0M355.5 576h0M405.5 390h0M445 639.5h0M459 418h0M424 384.5h0M317.5 759h0M333.5 760.5h0M412.5 537.5h0M343.5 749h0M422 649h0M406 511h0M434 687h0M378.5 763h0M407.5 436h0M385 790.5h0"/>
<path d="M408 584h0M430.5 548.5h0M382.5 594h0M402.5 607.5h0M414.5 554h0M403 568h0M399 666.5h0M379 637h0M401 650h0M420 566.5h0M389 603h0M426.5 578.5h0M398.5 622h0M397.5 536h0M428.5 598.5h0M412.5 597.5h0M400 551h0M401 596.5h0M425.5 483.5h0M389 703h0M426.5 611.5h0M381.5 565h0M386 627.5h0M435.5 559h0M383.5 678h0M398 513h0M378 659.5h0M441 524h0M414.5 482h0M391.5 657.5h0M432.5 419.5h0M386 577h0M330 723h0M400.5 634.5h0M386 615.5h0M400.5 705.5h0M450 498.5h0M370 600h0M441 466.5h0M412.5 507.5h0M372.5 675h0M385.5 524.5h0M451 557h0M410 669.5h0M438.5 495h0M383.5 548.5h0M409.5 624h0M426 528.5h0M426.5 514h0M424.5 463.5h0M439.5 576h0M312.5 776h0M452 521.5h0M363.5 551h0M426.5 494.5h0M411 641.5h0M439.5 541h0M425 449.5h0M323 794.5h0M405 522h0M404 474.5h0M375.5 701.5h0M384.5 689h0M347 768.5h0M358 731h0M361.5 637.5h0M362.5 652h0M400.5 488h0M450.5 450.5h0M372 620h0M433.5 635h0M363 692.5h0M323.5 749.5h0M362.5 712h0M427 687h0M373.5 716h0M430.5 438h0M358 677h0M396 736.5h0M385.5 719.5h0M409 683h0M392.5 496h0M332.5 763h0M352.5 700h0M421 624h0M403.5 443h0M394 681.5h0M387.5 483.5h0M448.5 596.5h0M416.5 522.5h0M387.5 508h0M363 752.5h0M421.5 635.5h0M386 536h0M393 748.5h0M413.5 539.5h0M375.5 795.5h0M336.5 689h0M439 649h0M452 569.5h0M340.5 717h0M336.5 653.5h0M351 619.5h0M405 729.5h0M438 448h0M355.5 666h0M414.5 708h0M421.5 660h0M438 511.5h0M378.5 752h0M366 583.5h0M368.5 533.5h0M450 485h0M387 647h0M395 456h0M349.5 643.5h0M456.5 545h0M409.5 752h0M453 433h0M382.5 738.5h0M326 693.5h0M442 607.5h0M397 586h0M373 508.5h0M338.5 731h0M396 693h0M455.5 398h0M387.5 472h0M444 383.5h0M372.5 778h0M450 416h0M437.5 589.5h0M412.5 465.5h0M332 706.5h0M340 617.5h0M438 665h0M352 744h0M414.5 608.5h0M454 472h0M328.5 782.5h0M389.5 766.5h0M454.5 587h0M415 693.5h0M322.5 663.5h0M454.5 360.5h0M429.5 672.5h0M410 425.5h0M434 476h0M360.5 763.5h0M345 592.5h0M429 405h0M438 618h0M441.5 409h0M410 768.5h0M358.5 567.5h0M317.5 762h0M313.5 699.5h0M311 727h0"/>
<path d="M408.5 590.5h0M393 595.5h0M409.5 566.5h0M402 660h0M408.5 550.5h0M378 630.5h0M404 607h0M432.5 585.5h0M408.5 619.5h0M402.5 647.5h0M420.5 554h0M404 538h0M430.5 547.5h0M431 479h0M396 511.5h0M435 562.5h0M369.5 655h0M387 608.5h0M407.5 670h0M434.5 606h0M433.5 529h0M381 674h0M391 622.5h0M399.5 698h0M384 687h0M404.5 482h0M397 568h0M449 529.5h0M371 606.5h0M432 619h0M420.5 604.5h0M388.5 657h0M399.5 527h0M422 538h0M430 518.5h0M408.5 633h0M417 506h0M430 460h0M389 558h0M421.5 568h0M446.5 555.5h0M394.5 669h0M442 545h0M386.5 638h0M387.5 546.5h0M365 703h0M405 498h0M449 489h0M442 578h0M355 736.5h0M437 428h0M385 523.5h0M431 574h0M353 642.5h0M423.5 639h0M435.5 448h0M451.5 501h0M406.5 577.5h0M354 675.5h0M412.5 522h0M397.5 637h0M386 701.5h0M420.5 487h0M393.5 738h0M423.5 685.5h0M374 617.5h0M327 758h0M331.5 728h0M345 775h0M384 715h0M380 570h0M393.5 496.5h0M376.5 549.5h0M380 506.5h0M406.5 439.5h0M396 720.5h0M382 593.5h0M373.5 643.5h0M412.5 688.5h0M357.5 694.5h0M366 731.5h0M409 470h0M418 584.5h0M419.5 617h0M412 707h0M436.5 635.5h0M360.5 552.5h0M428.5 659h0M449.5 456h0M418.5 674.5h0M368.5 720h0M407.5 729.5h0M339 686h0M458 578.5h0M431.5 502.5h0M404 455.5h0M328 694.5h0M388 583.5h0M434 415.5h0M358 664.5h0M330 743h0M341.5 643.5h0M393.5 438.5h0M371 586.5h0M363.5 598h0M317 774.5h0M368.5 673.5h0M338 656.5h0M338.5 706.5h0M331.5 770h0M395 683.5h0M412.5 655.5h0M442 515.5h0M457.5 594h0M397 709h0M391 751h0M374 518h0M421 700h0M422.5 446h0M383.5 788.5h0M450.5 379h0M458.5 391.5h0M390.5 534h0M407.5 754h0M438.5 376.5h0M358.5 614h0M372.5 561h0M372 780.5h0M392.5 475h0M377 537h0M457 564.5h0M373 754.5h0M456.5 428.5h0M438.5 388h0M326.5 652.5h0M421 467.5h0M339.5 760.5h0M318.5 742h0M330.5 620.5h0M415.5 455.5h0M355 720.5h0M317 687.5h0M380.5 484.5h0M444.5 474.5h0M397 760.5h0M432 491.5h0M447 437h0M425.5 429.5h0M323 794h0M409.5 422h0M454.5 546h0M445 600.5h0M416.5 746h0M348 589h0M373 694.5h0"/>
<path d="M409.5 594h0M420 565.5h0M400.5 550h0M406.5 617.5h0M437.5 551h0M425 542h0M429.5 576h0M397.5 640h0M403.5 572h0M394.5 611h0M380 635h0M396 653h0M397 520.5h0M427 587h0M395 594.5h0M405 535.5h0M403.5 662h0M432.5 525h0M377 665h0M391 674h0M378 680h0M413 550h0M378.5 609.5h0M413 582h0M394.5 697h0M389 510.5h0M435.5 607h0M388 566.5h0M417.5 606h0M387 547.5h0M433 459.5h0M391 631h0M371 653.5h0M370.5 600h0M399.5 480.5h0M452 557.5h0M445 524h0M377 623h0M393 535h0M423.5 507h0M356.5 728.5h0M378.5 696.5h0M416 672h0M432.5 629h0M408 492h0M445 566h0M355 644h0M353 670h0M406 605h0M437.5 476h0M323.5 752h0M419.5 489.5h0M385.5 521h0M417 527h0M386 741h0M409 638.5h0M389.5 718.5h0M421 464h0M400 506.5h0M396 734.5h0M449.5 498.5h0M438.5 488h0M382.5 708h0M402 628.5h0M363 700.5h0M369 639h0M383.5 594.5h0M395.5 491.5h0M440 443h0M422 684h0M423.5 642.5h0M364 671h0M331 765.5h0M438 418.5h0M426 478.5h0M416 444h0M403 711.5h0M420.5 622h0M387 646.5h0M429.5 662.5h0M411.5 512.5h0M419 710.5h0M407 679h0M369.5 545.5h0M435.5 500.5h0M400 584h0M458 570h0M321 725h0M340.5 646.5h0M369 717h0M410.5 481h0M331 731.5h0M453 447.5h0M434 564h0M405 724.5h0M330.5 695.5h0M404.5 441.5h0M350 684.5h0M436 514h0M413.5 652h0M407.5 698.5h0M361.5 742.5h0M446.5 510.5h0M449.5 543h0M381 577h0M345.5 700h0M366.5 581h0M349.5 741.5h0M335.5 715h0M362.5 615h0M442.5 388.5h0M400.5 561h0M374.5 532.5h0M452 480.5h0M407 467h0M399.5 454.5h0M345.5 658.5h0M376.5 785h0M454 532h0M438.5 639.5h0M437 405.5h0M315.5 743h0M426.5 598h0M426.5 438h0M452 399h0M442.5 582h0M397.5 685.5h0M442 617h0M432.5 650h0M375.5 753h0M447.5 429.5h0M455 420h0M320 790h0M451 460h0M440.5 593.5h0M331 615h0"/>
<path d="M420.5 556h0M414 594.5h0M403 551.5h0M401.5 571h0M393 615h0M404 599.5h0M405 663h0M398.5 530h0M383.5 631h0M405 614.5h0M437 525h0M436 592.5h0M388 603h0M408.5 581.5h0M403 638.5h0M392.5 515h0M416 545.5h0M386.5 681.5h0M405.5 538.5h0M377.5 599.5h0M398 589h0M393.5 649.5h0M409.5 625.5h0M425.5 583h0M436 552.5h0M382.5 663h0M434 617.5h0M393.5 696h0M372 675h0M414 569h0M430.5 537h0M425 571.5h0M389 537h0M406.5 651.5h0M386 549h0M436 572h0M453.5 556.5h0M395.5 487.5h0M451.5 525.5h0M386 567.5h0M399 506h0M370.5 625h0M409.5 476.5h0M425 598h0M406.5 488h0M353 728h0M425 520h0M364.5 731h0M422.5 612.5h0M372 655.5h0M387.5 525.5h0M413 499h0M437.5 484.5h0M378 700.5h0M426 453h0M434.5 463.5h0M395 628.5h0M356.5 677h0M415 512h0M420.5 482.5h0M386.5 711h0M413.5 527h0M446.5 568.5h0M375.5 689h0M429.5 509.5h0M355.5 708h0M371.5 639h0M444 603h0M454 507h0M389.5 734.5h0M395 672.5h0M368.5 613h0M398 712h0M435.5 433h0M426 639.5h0M385 723h0M358 661.5h0M437.5 634h0M414 637h0M412 676.5h0M449 488.5h0M326.5 753.5h0M442.5 498.5h0M352 642.5h0M443.5 456.5h0M375 715.5h0M418.5 714.5h0M405 701.5h0M333.5 723h0M364.5 692h0M405.5 728h0M426.5 666.5h0M385.5 584h0M413.5 605.5h0M392.5 747h0M366.5 705h0M369.5 556h0M425.5 678h0M400.5 686.5h0M446 538.5h0M374 581h0M420.5 463h0M428.5 650.5h0M339 706.5h0M399 451h0M412 446.5h0M334 689.5h0M429.5 498h0M331.5 648h0M363 646h0M443.5 417.5h0M401.5 464h0M444.5 444.5h0M362.5 596.5h0M375.5 534.5h0M421.5 702.5h0M370 789h0M329.5 700h0M386.5 494h0M455.5 396h0M454.5 436h0"/>
<path d="M426 557h0M410.5 570h0M406.5 548.5h0M411 592h0M390.5 607h0M406 622h0M426 591.5h0M397.5 576h0M439.5 527.5h0M396.5 522h0M407.5 535.5h0M400.5 596.5h0M383 628h0M403.5 635.5h0M401.5 563h0M386.5 593.5h0M393 505.5h0M383.5 676.5h0M406 609.5h0M419.5 603.5h0M434 515h0M387 652h0M372 603.5h0M399 662h0M427 543h0M435.5 568h0M421 533h0M388 696.5h0M438.5 549h0M429.5 616h0M410 665.5h0M422 575.5h0M398 541.5h0M388 618h0M419 514.5h0M369.5 663h0M383 639h0M389.5 566h0M382.5 554.5h0M381.5 664h0M357 731h0M405.5 514h0M445.5 561h0M371.5 652h0M374.5 700.5h0M394 483h0M409 492.5h0M435 471.5h0M370 626.5h0M383.5 541h0M381.5 712.5h0M433.5 604.5h0M435 458.5h0M434.5 584.5h0M416.5 617.5h0M423.5 491h0M385 525h0M452.5 528h0M450.5 509h0M421 458h0M427 634.5h0M404.5 474h0M394.5 737h0M454.5 576h0M442 491h0M377 616.5h0M418 680h0M404.5 675.5h0M355 669.5h0M435.5 502.5h0M370.5 676.5h0M436 441.5h0M447.5 456h0M452 551h0M318.5 758.5h0M324.5 746h0M358 697h0M405.5 736.5h0M348 680.5h0M328 730h0M368.5 724h0M415 642.5h0M423.5 445h0M404.5 707.5h0M410.5 721h0M440.5 425h0M403.5 648.5h0M443.5 538.5h0M375.5 574.5h0M415.5 479.5h0M391.5 717.5h0M358.5 636h0M395 688h0M425.5 659h0M415 502h0M376.5 586.5h0M334 709h0M440 631h0M361 550.5h0M383.5 737.5h0M337 691.5h0M364 708h0M387 581h0M409 693h0M395.5 494.5h0M429.5 481.5h0M367 535h0M347 704h0M379.5 689h0M359 653.5h0M406.5 446h0M372 780h0M366 738.5h0M404 462.5h0M455 435.5h0"/>
<path d="M423 558h0M408 566h0M408.5 546.5h0M390 615.5h0M416 590.5h0M402 591h0M397 545.5h0M404.5 625h0M402 612.5h0M394 604.5h0M398.5 560h0M436 527.5h0M401.5 643.5h0M392.5 528h0M384 626h0M407.5 535.5h0M385.5 597.5h0M396 653.5h0M398.5 576.5h0M386 671h0M435.5 561h0M433 516h0M429.5 599h0M369 602h0M406.5 666h0M384.5 697.5h0M427 582h0M426 546.5h0M401.5 513h0M381 687h0M441.5 576h0M392 586h0M384.5 638h0M446.5 556h0M385 567.5h0M395 631.5h0M371.5 652h0M425 609.5h0M366.5 624h0M433 471.5h0M409 490h0M386.5 554.5h0M421 536h0M423 507.5h0M373 700.5h0M355.5 729h0M386 508.5h0M390.5 714.5h0M410 600.5h0M383 541.5h0M413.5 616.5h0M437 546h0M411.5 523h0M429 483h0M375 664h0M395 497h0M368.5 613h0M381.5 608h0M412 505.5h0M427 638.5h0M407 654.5h0M379.5 521.5h0M410 579h0M438 505h0M411 468.5h0M390.5 743.5h0M431 451.5h0M437 610.5h0M348.5 673h0M444.5 490h0M429 623h0M356 659.5h0M433.5 438h0M402 680.5h0M405.5 729.5h0M395.5 665h0M455.5 503h0M447 530h0M366.5 728h0M331.5 729h0M351 684.5h0M380.5 722h0M417.5 677.5h0M444 433.5h0M372 634.5h0M373 679h0M353 701.5h0M371 576h0M385 655h0M432 653h0M444 451.5h0M394.5 485h0M436 416.5h0M322 744h0M410 636h0M353 635h0M418.5 479.5h0M455 573h0M337.5 702h0M419 572h0M368 556h0M324.5 759h0M437.5 589.5h0M422.5 687.5h0M405.5 713h0M416.5 647.5h0M452.5 519.5h0M450 421h0"/>
<path d="M409.5 550h0M424.5 562.5h0M388.5 608h0M403.5 592h0M429 552h0M418 598.5h0M390 620.5h0M408 537.5h0M407 637h0M379 633.5h0M401.5 559.5h0M409 571.5h0M396 648.5h0M390 674.5h0M402 611.5h0M390 571h0M438.5 516.5h0M408.5 621h0M388 660.5h0M389 587.5h0M390 694.5h0M404 666h0M424.5 576.5h0M425 538.5h0M407 526.5h0M436.5 566.5h0M434 527h0M449.5 563h0M396 539.5h0M436 593h0M394 632.5h0M369.5 660h0M424 587.5h0M378 600h0M383 549h0M390.5 718h0M417 492.5h0M379 708.5h0M426 509h0M400 489.5h0M432 486.5h0M379 652.5h0M437 475.5h0M404.5 504h0M436 464.5h0M388.5 514h0M431 615h0M422 527.5h0M435.5 577.5h0M425.5 469h0M369.5 697h0M434.5 604h0M419.5 632h0M414 517h0M445 503.5h0M395.5 524.5h0M374.5 673.5h0M433 449h0M410.5 471.5h0M374 615h0M442.5 546h0M379.5 526h0M411.5 582.5h0M454.5 549.5h0M348.5 671.5h0M391 741h0M422.5 458h0M358 732h0M353.5 686.5h0M401 679.5h0M405 737h0M399.5 710h0M398 580h0M369 647.5h0M379.5 684.5h0M366.5 623.5h0M349.5 660.5h0M372 575.5h0M428.5 653.5h0M443 488.5h0M333.5 721.5h0M433.5 497.5h0M374 718.5h0M389 486.5h0M449.5 575h0M335 694.5h0M452 458h0M378.5 563h0M355 704h0M430.5 437h0M438.5 427.5h0M441.5 442h0M457.5 530.5h0M413.5 658h0M413 677.5h0"/>
<path d="M402.5 593.5h0M407.5 583.5h0M426 593.5h0M409 604.5h0M384 631.5h0M400.5 537h0M405.5 634.5h0M390 669h0M398 560.5h0M387.5 607.5h0M407 547.5h0M416 570h0M399.5 617h0M418 548.5h0M380.5 620.5h0M402.5 572h0M431.5 545.5h0M437 527h0M391 572h0M393 656h0M405.5 645.5h0M406.5 668h0M387.5 689.5h0M402.5 524h0M437.5 574.5h0M385 593.5h0M433 561h0M384.5 711h0M420.5 534h0M389 538h0M375.5 655.5h0M385.5 551.5h0M413 484h0M425 500.5h0M362 653h0M414.5 524.5h0M394 702h0M374 605.5h0M427 485.5h0M404.5 491h0M428.5 515h0M430 583h0M389 517h0M417 509h0M435 611h0M437 598.5h0M451 562h0M399.5 506.5h0M413.5 617.5h0M380.5 698.5h0M386 646.5h0M393 638h0M402.5 470.5h0M424.5 641.5h0M429 462h0M382 563.5h0M352 681h0M449 511h0M422 448.5h0M442.5 547.5h0M408.5 657h0M393.5 736.5h0M364 736.5h0M379 681h0M373 666.5h0M442 491h0M440 443h0M380 529.5h0M394 584h0M420.5 604.5h0M355.5 696h0M368.5 677.5h0M414.5 466h0M400.5 680.5h0M333.5 728.5h0M426.5 625.5h0M427 571h0M373.5 643h0M439.5 469.5h0M370.5 578h0"/>
<path d="M410.5 592h0M396 591.5h0M385 633.5h0M406 534h0M408 638h0M389.5 607h0M404 574h0M413.5 565.5h0M401 544h0M422.5 596h0M426.5 551h0M384.5 670h0M395.5 623h0M436 517.5h0M407 618.5h0M394.5 556h0M379.5 620.5h0M390.5 567.5h0M430 530.5h0M390 647h0M404 670h0M394 694h0M432 584.5h0M387.5 682h0M406 656h0M444.5 573.5h0M404 604h0M435 567.5h0M387.5 658h0M384 591.5h0M404.5 521.5h0M381 709.5h0M442 528.5h0M398 489.5h0M421.5 512h0M433.5 542h0M418 544h0M430 612h0M392.5 517h0M387 546h0M419.5 526h0M424.5 576h0M369.5 649h0M432 505h0M390.5 533h0M374 603h0M409 553h0M425 483h0M410.5 510.5h0M369 662.5h0M435.5 598.5h0M383 559h0M377 695h0M409.5 474h0M424.5 631.5h0M435.5 455h0M393.5 580h0M457 557.5h0M427 468h0M413.5 490.5h0M387 721.5h0M444.5 500h0M392 706h0M352 682h0M367.5 613.5h0M375 681.5h0M450.5 546.5h0M362.5 700.5h0M389 739h0M444.5 482.5h0M338.5 729h0M400 682.5h0M398.5 732h0M397 634.5h0M329.5 719.5h0M435 625h0"/>
<path d="M399.5 595h0M376 628.5h0M396.5 611.5h0M404 533.5h0M383 604.5h0M415 572.5h0M399.5 635.5h0M406.5 584.5h0M395.5 575h0M432.5 543h0M417.5 559h0M406.5 550.5h0M387 662h0M379.5 671.5h0M403 564.5h0M407.5 611h0M425 596h0M436.5 531h0M386.5 691h0M391.5 539h0M431.5 579h0M391 561h0M401 624h0M386.5 648.5h0M402.5 658h0M415 540h0M387 629h0M442.5 521.5h0M400.5 670.5h0M388.5 550h0M383.5 715.5h0M416 603h0M428.5 559.5h0M409 522.5h0M440 560h0M428.5 513h0M388.5 591.5h0M420.5 521h0M411 510h0M431.5 616.5h0M396 511.5h0M389 680h0M435.5 482.5h0M391.5 523.5h0M407 490.5h0M376 615h0M434 496.5h0M416 621h0M443.5 575h0M398 497h0M412.5 671.5h0M425 489.5h0M389.5 703.5h0M421.5 584h0M410 641h0M424 641.5h0M443.5 603.5h0M444 504.5h0M383 575h0M429 450.5h0M362.5 655h0M430 461.5h0M366.5 609h0M403.5 468h0M451 492.5h0M352.5 682h0M395.5 741.5h0M366.5 668.5h0M403 690h0M450.5 549.5h0M374.5 692h0M381.5 529h0M446.5 537.5h0M378 543.5h0M372.5 705.5h0"/>
<path d="M403 590h0M382 624.5h0M406 536h0M414.5 566h0M395 570h0M383 636h0M390.5 616h0M387.5 669.5h0M408 639.5h0M431 536.5h0M405.5 573.5h0M433 595h0M426.5 549.5h0M407 609.5h0M397 552h0M386.5 689h0M384.5 599h0M388.5 648h0M437 525h0M386.5 559h0M391 588.5h0M382.5 713.5h0M404.5 523h0M413 598h0M405.5 655.5h0M392.5 540.5h0M437 571h0M423 588.5h0M397 627h0M422 526.5h0M428.5 512h0M428.5 578.5h0M407.5 621.5h0M426.5 605h0M412 549.5h0M435 558.5h0M429 478h0M393.5 521.5h0M396 599h0M406 483.5h0M404 504.5h0M402 666.5h0M435.5 503h0M375.5 606h0M418.5 506.5h0M391.5 700.5h0M374.5 672h0M421.5 617h0M442.5 494h0M430 489h0M447 563.5h0M376 649h0M423 637h0M381.5 547h0M362 663.5h0M417.5 539h0M402 678.5h0M429.5 455h0M390.5 739.5h0M358 684.5h0M380.5 702h0M457 554h0M451.5 503.5h0M376 684.5h0M370.5 616h0M432.5 618.5h0M390 510.5h0"/>
<path d="M398.5 593.5h0M385 631h0M407 580h0M408 558h0M410.5 544h0M398 570.5h0M407.5 641.5h0M387 569.5h0M388 605.5h0M387.5 664.5h0M399 611.5h0M403 534.5h0M421.5 556.5h0M382.5 677h0M431.5 532h0M389 695h0M409.5 629h0M399 546.5h0M379.5 598h0M391.5 651.5h0M440.5 524.5h0M410 608.5h0M382 716h0M402 518h0M423 599.5h0M412 526.5h0M431 578h0M388.5 616.5h0M435 561.5h0M396.5 632.5h0M409.5 592h0M420 507.5h0M430.5 514.5h0M394 581.5h0M390 524h0M419.5 568h0M375 619.5h0M400 663.5h0M376.5 693.5h0M436.5 546.5h0M379.5 555.5h0M383.5 587h0M407.5 505.5h0M371.5 607h0M397.5 496h0M423 587h0M408.5 492.5h0M421.5 539.5h0M385 539h0M430.5 500.5h0M442.5 570.5h0M432.5 607.5h0M406.5 675.5h0M424.5 485h0M444 506.5h0M428 634.5h0M402 482h0M432 618.5h0M438 597.5h0M385 742.5h0M431.5 471.5h0M359.5 663h0"/>
<path d="M406 591h0M376.5 637h0M392 627.5h0M396.5 607h0M406.5 635.5h0M397.5 569.5h0M388 663.5h0M408.5 569h0M400 554h0M401 537.5h0M383 609.5h0M390 596.5h0M409.5 619.5h0M424 548h0M384.5 692h0M408.5 527h0M432 538h0M385.5 569h0M390.5 645.5h0M411.5 601h0M382.5 715.5h0M435.5 522.5h0M379.5 623h0M391.5 674h0M406 514.5h0M419 591h0M417 535.5h0M432 579h0M421 575.5h0M390.5 542.5h0M422.5 561h0M435 559h0M430 511.5h0M411.5 549h0M424.5 521.5h0M398.5 658.5h0M375.5 596.5h0M386.5 586h0M436 496h0M382 556h0M431.5 612h0M387 703h0M408 664.5h0M434 485h0M389.5 528.5h0M409.5 498.5h0M398.5 618h0M407 481.5h0M403.5 675h0M394.5 517.5h0M424 601.5h0M405.5 648h0M394 686h0M368 610h0M444.5 503.5h0M395.5 499.5h0"/>
<path d="M400.5 597.5h0M382 630.5h0M402.5 638h0M398.5 612h0M409 583.5h0M391.5 666h0M386 641h0M386.5 609h0M387 596h0M416 552.5h0M405.5 529.5h0M393 565.5h0M397.5 540.5h0M431 535h0M387 692.5h0M398.5 575.5h0M431 523.5h0M407.5 513.5h0M417.5 604h0M378 707.5h0M396 554h0M429.5 550h0M418 535h0M425.5 562.5h0M441 564h0M442 530.5h0M392.5 655h0M403 625h0M377 616.5h0M414.5 628h0M440 517h0M437 581h0M423.5 585.5h0M413.5 568.5h0M380.5 670h0M416.5 615h0M392 678h0M409.5 543h0M423 507.5h0M388.5 580.5h0M427.5 611.5h0M405.5 656.5h0M402 672.5h0M381 565.5h0M441 497.5h0M370 604.5h0M388.5 704h0M385 521.5h0M390 532h0M434 487h0"/>
<path d="M400 599.5h0M385 631h0M396 588.5h0M393.5 613.5h0M406.5 635h0M383 671h0M388 601.5h0M404.5 617h0M387 566.5h0M423 548.5h0M400.5 577h0M413.5 573.5h0M434.5 528h0M409.5 533.5h0M432 540.5h0M394 547h0M390.5 697.5h0M411.5 545h0M409 522.5h0M386.5 650.5h0M417.5 590h0M388 711h0M417 560h0M382.5 611.5h0M384 682h0M432.5 555h0M396 667.5h0M433.5 581h0M408 505h0M399 644.5h0M397.5 558.5h0M432.5 502.5h0M377 710h0M396.5 535h0M421 505.5h0M388.5 579.5h0M416 602.5h0M431.5 514.5h0M373.5 600h0M427.5 609.5h0M381.5 588h0M407 660h0M398.5 517h0"/>
<path d="M406.5 607.5h0M387.5 666h0M392.5 613h0M383 629h0M401 585.5h0M386.5 600h0M386.5 564h0M401.5 639h0M408.5 629.5h0M404.5 618.5h0M437.5 529.5h0M406.5 528.5h0M390 637.5h0M395.5 537.5h0M395 575.5h0M435.5 541.5h0M403 552.5h0M422 552h0M391.5 648.5h0M381.5 715h0M400 598h0M422 594.5h0M388 552h0M409.5 541h0M410.5 515h0M430.5 559h0M420 583h0M431.5 573.5h0M421 565h0M391 693.5h0M377 612h0M384 679h0M406.5 574h0M381 700.5h0M383 583h0M418 528h0M406 667h0M428.5 513h0"/>
<path d="M401.5 600h0M376 637h0M385.5 612.5h0M395.5 589h0M389 624h0M406.5 615.5h0M387.5 599h0M392 569h0M405.5 636.5h0M390.5 667h0M435 529.5h0M408.5 529h0M402 546h0M387.5 647.5h0M421 560.5h0M422.5 546h0M385.5 714.5h0M407.5 587h0M395 556h0M436 554.5h0M426.5 585.5h0M412 554h0M417 594.5h0M377.5 666h0M433 565.5h0M405 573.5h0M402 519h0M374.5 616h0M394 692h0M411 512.5h0M382 678.5h0M405 666h0M383.5 562h0M385 700h0M425 604h0M416 571.5h0M388.5 636.5h0"/>
<path d="M405 597h0M381 630h0M394 620.5h0M403.5 584h0M395.5 608h0M386.5 564.5h0M404.5 643.5h0M382 660.5h0M384.5 603h0M386 675h0M409.5 526.5h0M400 630h0M392.5 542h0M388 643.5h0M431.5 536.5h0M385.5 590.5h0M408.5 553.5h0M423 553.5h0M436 522.5h0M414 590.5h0M383.5 617h0M387 552.5h0M393 665.5h0M381 713h0M428 572h0M404 571h0M435.5 562h0M407.5 617h0M393 694h0M389 576.5h0M401.5 514.5h0M415 574h0M417.5 542.5h0M428 587h0M434.5 551h0M406.5 670h0"/>
<path d="M401.5 605h0M386 622.5h0M385 610.5h0M384.5 664.5h0M383.5 640h0M397.5 630.5h0M406 519h0M403 545h0M407.5 639h0M425 538.5h0M392 586.5h0M423.5 552h0M413 527.5h0M394.5 568h0M408.5 585h0M438 527h0M389 675.5h0M404 621h0M389.5 552h0M422 590h0M407 556.5h0M383 568.5h0M434.5 545h0M433.5 581h0M420 577.5h0M382 708h0M384 651h0M429 564h0M373 615.5h0M392.5 694.5h0M397.5 666.5h0M398 648.5h0"/>
<path d="M379.5 626.5h0M397.5 612.5h0M388.5 601.5h0M385.5 614h0M381 640.5h0M387.5 674h0M390.5 629.5h0M406.5 635.5h0M391.5 646.5h0M392.5 548h0M433 539h0M397 592h0M394.5 567.5h0M383 663.5h0M408 550h0M426 558h0M409 580.5h0M410 520h0M441 521h0M402.5 538h0M422 585h0M404 624h0M409.5 594h0M415.5 534.5h0M390 698h0M378 708h0M389.5 579h0M408.5 607h0M431 570.5h0M395 663h0M384 558.5h0M391 714h0"/>
<path d="M404.5 605h0M391.5 606h0M386 621.5h0M381 668h0M393.5 670h0M403 627.5h0M387.5 640.5h0M395.5 590.5h0M410 586h0M430.5 536.5h0M396.5 547.5h0M415 548.5h0M388.5 565.5h0M404.5 645h0M377.5 632.5h0M434.5 524.5h0M402.5 573.5h0M425 558h0M390 653h0M377 716h0M402 557.5h0M406.5 531.5h0M410 617h0M379.5 607.5h0M402.5 660.5h0M431 575.5h0"/>
<path d="M401 605h0M390 623.5h0M381.5 606.5h0M388.5 673h0M389.5 596.5h0M392 643.5h0M399.5 585h0M432 535h0M399 550.5h0M409 629.5h0M438 523h0M388.5 558h0M409.5 547h0M394 570h0M399 538.5h0M384.5 660h0M376.5 626h0M426 545.5h0M430 558.5h0M387.5 583h0M402 616.5h0M403.5 641.5h0M408 592h0M408 577h0M378 717h0M409.5 530h0"/>
<path d="M385 613.5h0M386 631h0M399 606.5h0M389.5 665h0M430.5 530.5h0M395 594.5h0M406 579.5h0M393 645.5h0M391.5 546h0M406 626.5h0M432.5 543.5h0M402 555.5h0M394.5 568h0M407.5 591h0M409.5 547h0M403 530.5h0M383 601h0M420 550.5h0M374 617h0M441.5 532.5h0"/>
<path d="M385 614.5h0M402 600h0M383.5 628.5h0M385.5 641h0M382.5 670h0M394.5 591h0M405.5 581h0M435 532.5h0M402 623.5h0M389.5 553h0M405.5 549.5h0M397.5 565.5h0M432 545.5h0M399 540.5h0M396.5 669.5h0M390 604.5h0M393 652.5h0M404.5 634.5h0M421 541.5h0"/>
<path d="M387.5 616h0M385 631.5h0M397.5 608.5h0M401.5 586h0M390 648.5h0M382.5 665.5h0M406 632.5h0M388.5 550h0M404 573.5h0M402.5 550h0M387 596h0M387 564h0M407 599h0M436 527h0"/>
<path d="M393 612h0M404.5 609h0M383 638.5h0M405.5 585h0M382.5 667h0M395.5 549.5h0M385 626.5h0M383.5 651h0M408 630.5h0M394.5 639.5h0M395 571.5h0M382 611h0M407 596.5h0M394 589.5h0M429.5 532.5h0M443 530h0"/>
<path d="M392 620.5h0M383 614h0M401 609.5h0M400.5 586.5h0M389.5 663.5h0M383.5 633.5h0M405.5 550h0M393.5 644.5h0M405 635.5h0M389.5 570h0M390.5 595.5h0"/>
<path d="M387 605.5h0M397 620.5h0M406 581.5h0M389 631h0M404.5 602h0M400.5 557h0M392 662h0M384 646h0M390 588h0"/>
<path d="M386 612h0M405 583h0M405 603h0M387 629h0M403 557h0M386.5 649.5h0"/>
<path d="M394.5 611h0M399.5 600h0M382 627.5h0M390.5 641h0M408.5 579h0"/>
<path d="M392 611h0M402.5 605.5h0"/>
<path d="M404.5 605.5h0M390 605.5h0"/>
<path d="M399.5 600.5h0"/>
</g>
<g stroke="#606060" stroke-opacity="0.03">
<path d="M324.5 688.5h0M300 657h0M234 732.5h0M286.5 621.5h0M261.5 726h0M297.5 682.5h0M278.5 732.5h0M295.5 590h0M287.5 750.5h0M328 708h0M163.5 765h0M250.5 661h0M222.5 695.5h0M226.5 757h0M321.5 604h0M272 642h0M234 779h0M213 755.5h0M295 614.5h0M289.5 509.5h0M311 584.5h0M328 657h0M287 796h0M251 604h0M286 649h0M298 577.5h0M250.5 725h0M251 617h0M300.5 774.5h0M319 555.5h0M237.5 757.5h0M277.5 668.5h0M312.5 676.5h0M300 713.5h0M224.5 723.5h0M333 507.5h0M284 702h0M256.5 762h0M302 696h0M265.5 698h0M251.5 712.5h0M273.5 712h0M293 637h0M314 507.5h0M176 715.5h0M312.5 645.5h0M331.5 620h0M335 605.5h0M268 630.5h0M309 721h0M281 605h0M266 746h0M290 665.5h0M256 683h0M277 533.5h0M330 521.5h0M306.5 733.5h0M251.5 698h0M329.5 564.5h0M335.5 673h0M234.5 672.5h0M291.5 559.5h0M211 713.5h0M219 801.5h0M240 696.5h0M313.5 658h0M137 760.5h0M223 780.5h0M306 746.5h0M226 741h0M331.5 633.5h0M221 631h0M275.5 655h0M307.5 787h0M275.5 757h0M257 784.5h0M282 634.5h0M283.5 585h0M242 742.5h0M321 668h0M304 601h0M309.5 766.5h0M283.5 691h0M327 727.5h0M234.5 711.5h0M163.5 690.5h0M268 686h0M270.5 797h0M313.5 533.5h0M279.5 557.5h0M340 700h0M313 632.5h0M334.5 492.5h0M344.5 594h0M205 797.5h0M313 701h0M246.5 801.5h0M307 615.5h0M274.5 771.5h0M308.5 799.5h0M263.5 602.5h0M246 773h0M340 545h0M137 659.5h0M290 719.5h0M329 545h0M270.5 783h0M215.5 615h0M196.5 725h0M197.5 775.5h0M243 680h0M337 770h0M225 768h0M253 741h0M289.5 736h0M338 573h0M192.5 710.5h0M327.5 592.5h0M234 626.5h0M287 777h0M262.5 670h0M319 521h0M262 655h0M318.5 569.5h0M302 542.5h0M289.5 764h0M210 729h0M286.5 679h0M257.5 644h0M237 603.5h0M337 481h0M221.5 707.5h0M263 613.5h0M263 577.5h0M274.5 620.5h0M191 744h0M227.5 648h0M323.5 778h0M344.5 630.5h0M258.5 796h0M176 781.5h0M148.5 778h0M138.5 704.5h0M319.5 622.5h0M274 592.5h0M325 643h0M301.5 530.5h0M302 502.5h0M342.5 469.5h0M201.5 687.5h0M144.5 687.5h0M296.5 787h0M212.5 743.5h0M343 615h0M152 708.5h0M344 506h0M179.5 766h0M291 540h0M219.5 675.5h0M155.5 795h0M317 737.5h0M322.5 582.5h0M202 758.5h0M332 463.5h0M334 748.5h0M164 706h0M185.5 692.5h0M156.5 755.5h0M345.5 533h0M305 559h0M177.5 734.5h0M345.5 425h0M321.5 761h0M251.5 672h0M207.5 784.5h0M239.5 637.5h0M324 797.5h0M318 490.5h0M235 797h0M138 731.5h0M303 668h0M268 553h0M249 752.5h0M141 574.5h0M339 656h0M310 687.5h0M345.5 557.5h0M162 656h0M179 632h0M325.5 433.5h0M248 570.5h0M300.5 646h0M286.5 524h0M338.5 584.5h0M283 568.5h0M250 631.5h0M262 774h0M337 645h0M159.5 778h0M168.5 724.5h0M196.5 789h0M246 650h0M297 490.5h0"/>
<path d="M299.5 676.5h0M290.5 593.5h0M270 738.5h0M282.5 621.5h0M227.5 779.5h0M336.5 661h0M290 643.5h0M296.5 618.5h0M312 586h0M302 658.5h0M314 612h0M256.5 698h0M223.5 713.5h0M322.5 605h0M275 726h0M235.5 788.5h0M299.5 712h0M286 702.5h0M337 517h0M246.5 669h0M255.5 660.5h0M282 662h0M309 636.5h0M276.5 637h0M318.5 680h0M324 622h0M264.5 646.5h0M310.5 668h0M264 754.5h0M259.5 719.5h0M217.5 728.5h0M298.5 567h0M239 682.5h0M233.5 723.5h0M228.5 767h0M299 687.5h0M326.5 521.5h0M287 748.5h0M220 790h0M325.5 647.5h0M302 647.5h0M301.5 779h0M308 741h0M278.5 651h0M300 605.5h0M283.5 789.5h0M258 733h0M274.5 673h0M267.5 622.5h0M247 753h0M318.5 704h0M213.5 763.5h0M317 549h0M268 707h0M249 724.5h0M280.5 600.5h0M222.5 752h0M317 763.5h0M252.5 789h0M256.5 677h0M299.5 732.5h0M299.5 630h0M220 691h0M330.5 672.5h0M329 690h0M299.5 698.5h0M277 760.5h0M340.5 620h0M197 802.5h0M269.5 773.5h0M286.5 736h0M336.5 564.5h0M239.5 740h0M340.5 689.5h0M256 776h0M260 635h0M274 590.5h0M293 666h0M229 675.5h0M340 488h0M324.5 559h0M343 595.5h0M332 701h0M284 715.5h0M317.5 536.5h0M236.5 704h0M266.5 685.5h0M243 767h0M282 688.5h0M279.5 578h0M321 633h0M212.5 781.5h0M284.5 553h0M263.5 788h0M333 577h0M298.5 753h0M197.5 735h0M202.5 788.5h0M290.5 725.5h0M300 533h0M297 581.5h0M308.5 598.5h0M332.5 724h0M341.5 548h0M316.5 506.5h0M270.5 552h0M196.5 748.5h0M243 631h0M329 596h0M337.5 642.5h0M296 765h0M340 606.5h0M324 662h0M321.5 580h0M318 724.5h0M235 666h0M266 664.5h0M263 609h0M216 800.5h0M310.5 692.5h0M266.5 801.5h0M207.5 706h0M330.5 502h0M288.5 678.5h0M307 543.5h0M244.5 714h0M205.5 771.5h0M344.5 536.5h0M322.5 782h0M281 803.5h0M285.5 540h0M217 605h0M240.5 801.5h0M315.5 569h0M313.5 656h0M198 714h0M278.5 526h0M161 699.5h0M312.5 626h0M174.5 730h0M321.5 738.5h0M227.5 800h0M258.5 573.5h0M236 751h0M263 594h0M295.5 554.5h0M277 561.5h0M273 696.5h0M185.5 784.5h0M249 647h0M248 689h0M344.5 573h0M251 618.5h0M217 639h0M196.5 687h0M227 734.5h0M309 495h0M183.5 736.5h0M337 459.5h0M309.5 515h0M328 486h0M342.5 471.5h0M146.5 730.5h0M239.5 777.5h0M165.5 762h0M293.5 506h0M205 679.5h0M206 722.5h0M155 754.5h0M312 713h0M180 763.5h0M331.5 749h0M151.5 781h0M249 606h0M209.5 750.5h0M139 762h0M232 629h0M294.5 795h0M330 472.5h0M150.5 770h0M222.5 651h0"/>
<path d="M300.5 678.5h0M301 666h0M309 652.5h0M331 654h0M240.5 785h0M228.5 704.5h0M293 713h0M284 725.5h0M304.5 582h0M327.5 605.5h0M264 735h0M297 642.5h0M271.5 749h0M249 662h0M324 626.5h0M253.5 706.5h0M307.5 706.5h0M292 627h0M320.5 614.5h0M257.5 721.5h0M314.5 603h0M283 650h0M273 723h0M262 764h0M297.5 598.5h0M306 690.5h0M319.5 643h0M340 663.5h0M232 772h0M284 613h0M281 672h0M273.5 641h0M315.5 664.5h0M283.5 740.5h0M225.5 790.5h0M221.5 762h0M291.5 687h0M247.5 750h0M220 734.5h0M311.5 743h0M291 700.5h0M278.5 660.5h0M239 677.5h0M303 619h0M252 691h0M256.5 678h0M287 757h0M319.5 586.5h0M290 662.5h0M322.5 695h0M302 731.5h0M318.5 678h0M278 698h0M282 711h0M314.5 558.5h0M246.5 736.5h0M278.5 594h0M310.5 627.5h0M288.5 584h0M265 708.5h0M196 801h0M269 674.5h0M232.5 756h0M248.5 775h0M315.5 532.5h0M332 709.5h0M330.5 640.5h0M285.5 790.5h0M264 687.5h0M260 786.5h0M240 725.5h0M329.5 568h0M221.5 689h0M280.5 628h0M302.5 719h0M344 572.5h0M330 517.5h0M241 700h0M345.5 481.5h0M317 521.5h0M320 709h0M336.5 677h0M263 650.5h0M276.5 684h0M302 568.5h0M202.5 780h0M295 542.5h0M338 494h0M337.5 552h0M247 761.5h0M220 779h0M304.5 752h0M267.5 596.5h0M330 580h0M260.5 619.5h0M266 797h0M251 795.5h0M275 785.5h0M336.5 597h0M284.5 768h0M344 539.5h0M241.5 633.5h0M246.5 716h0M222.5 745.5h0M324 550.5h0M298.5 788.5h0M302.5 532.5h0M293.5 747.5h0M207.5 762h0M277.5 567.5h0M332.5 529h0M329 668.5h0M216 723.5h0M315 721h0M333.5 505h0M342.5 585.5h0M262.5 665.5h0M197 750h0M345.5 612h0M217 802h0M260 631.5h0M276 803h0M197.5 767h0M252.5 643h0M197 737.5h0M304.5 550h0M233.5 741h0M281.5 532h0M319 573h0M345 511.5h0M221 713.5h0M235 802.5h0M229 726h0M204 679h0M230.5 663.5h0M288 560h0M273.5 763.5h0M258.5 747.5h0M279 553.5h0M183 784.5h0M172.5 733.5h0M271 610h0M206.5 691h0M323.5 775.5h0M265 775.5h0M266 578h0M232.5 715.5h0M330 732h0M333.5 465.5h0M307 781h0M295.5 766h0M309.5 506h0M223.5 643.5h0M342.5 650.5h0M288.5 802.5h0M308 592.5h0M326.5 746h0M290.5 572.5h0M326 719.5h0M252 600.5h0"/>
<path d="M320.5 612.5h0M293 712h0M270.5 742h0M261 700.5h0M312.5 655.5h0M296.5 643.5h0M256.5 717h0M285 650.5h0M325 596.5h0M251 670h0M281 722.5h0M303.5 684h0M311.5 576h0M290.5 682.5h0M249 706h0M299 665.5h0M259.5 731h0M267.5 644h0M273.5 753.5h0M273 676h0M225.5 763.5h0M336.5 663h0M227.5 782h0M284.5 665.5h0M303 591h0M296 626.5h0M315 636.5h0M286 635h0M269.5 720h0M285 744.5h0M301.5 616h0M299.5 699h0M275 701.5h0M328.5 681.5h0M273 655.5h0M317 587.5h0M278.5 597h0M240 794.5h0M260.5 771.5h0M250 685.5h0M313 713.5h0M298 601h0M264 759.5h0M220 732.5h0M249.5 745.5h0M331.5 615.5h0M306 731h0M310 702.5h0M238.5 740h0M258.5 659.5h0M325 711.5h0M240.5 754h0M246 730h0M267.5 782.5h0M307.5 645h0M297 724.5h0M233.5 697.5h0M265.5 690h0M328 630h0M240 780.5h0M327.5 641h0M327.5 571h0M284.5 618h0M310 743.5h0M267.5 794h0M227 795.5h0M236.5 767h0M308 672.5h0M204.5 779h0M298.5 580h0M338.5 483h0M251.5 764h0M286 585h0M274 628h0M324 671h0M204.5 794.5h0M230 708h0M234 674h0M257 789.5h0M316 531h0M283 791.5h0M263 610.5h0M317 679.5h0M318.5 691h0M345.5 594h0M275.5 770.5h0M311 605.5h0M219.5 685h0M318.5 624h0M288 696h0M316.5 558h0M292 765h0M293 783.5h0M216.5 787.5h0M300.5 528.5h0M276 801h0M268.5 586.5h0M333 502h0M294.5 751h0M326 549h0M279.5 685h0M342 564h0M339 537h0M301 551.5h0M230 749.5h0M339 518h0M218.5 752.5h0M205.5 762.5h0M238.5 715.5h0M340 608.5h0M300.5 562.5h0M217 803h0M332.5 586.5h0M307 761.5h0M280 561.5h0M323 507h0M321 740.5h0M215.5 697h0M339.5 548h0M309.5 541.5h0M328.5 522.5h0M300 654.5h0M305 785h0M239 636.5h0M277 540.5h0M230 724.5h0M334.5 651.5h0M261 748.5h0M175 726.5h0M213.5 721.5h0M288.5 731.5h0M259 627.5h0M344 494.5h0M287.5 574h0M257.5 593.5h0M255 647h0M204.5 730h0M324 658.5h0M320.5 772.5h0M196 692h0M204.5 747h0M345 640.5h0M205.5 685h0M301.5 498.5h0M284.5 606.5h0M261 676.5h0M311 511h0M345 580.5h0"/>
<path d="M265.5 749.5h0M309.5 658h0M323.5 613h0M314.5 597.5h0M254 717h0M283 723.5h0M297 640.5h0M301 715h0M308.5 692.5h0M285 655h0M271.5 759.5h0M307 646h0M305 585h0M280.5 671.5h0M297 682.5h0M258.5 694h0M295.5 595.5h0M267 729.5h0M281 707.5h0M280.5 750h0M291 615.5h0M271.5 661.5h0M303 612h0M226 783.5h0M250 663h0M284 738.5h0M223.5 764h0M235 759.5h0M295.5 662h0M296 705h0M250 701.5h0M318 638h0M317.5 582.5h0M310.5 705h0M302 624h0M327 664h0M250.5 676.5h0M304 670h0M253.5 754h0M305.5 733h0M285 687h0M217.5 730.5h0M326.5 706.5h0M326 600h0M283 633h0M245 726h0M268.5 718h0M260.5 683h0M235.5 772h0M266.5 786.5h0M328.5 643h0M261 667h0M329.5 680.5h0M269 675.5h0M255.5 775h0M292.5 730.5h0M307 745h0M279.5 622h0M278.5 645h0M308 569.5h0M316.5 679h0M269 706h0M331.5 564.5h0M318 627h0M208 775.5h0M227.5 712h0M269 595.5h0M286 583h0M240 683h0M239.5 788h0M267 773.5h0M229 729.5h0M329 630.5h0M266 623.5h0M254.5 650h0M241.5 694.5h0M261 739h0M282.5 600.5h0M292 747h0M323 556.5h0M250 797h0M241 748.5h0M278 770h0M296.5 530.5h0M278.5 788h0M319 541.5h0M313.5 723h0M268 638h0M274.5 801.5h0M266 649.5h0M332.5 549.5h0M227 796.5h0M297 542.5h0M231 742.5h0M340 587.5h0M240 710h0M313.5 527h0M287 796.5h0M219.5 752h0M265.5 612h0M344 529.5h0M338 662.5h0M274 690h0M291 758.5h0M211.5 762h0M299 558h0M247.5 765h0M328 693.5h0M332 513h0M335.5 607h0M283 561.5h0M203.5 795h0M198 759h0M221 683.5h0M247 739h0M237 669.5h0M335 489h0M338 502h0M342 473.5h0M222.5 700.5h0M321.5 517h0M243.5 634.5h0M320 570h0M203.5 685.5h0M329.5 526h0M215 802.5h0M320.5 651h0M292 772h0M328 718.5h0M206 719h0M315.5 772.5h0M315.5 668h0M345.5 554.5h0M342.5 567h0M196 780h0M313 551.5h0"/>
<path d="M328 607h0M306.5 654.5h0M301.5 636.5h0M295 711h0M282 724.5h0M293.5 661h0M271.5 670.5h0M261.5 716.5h0M275.5 753h0M316 615.5h0M286.5 624.5h0M281 649h0M263 748.5h0M230.5 782.5h0M261.5 691.5h0M301 681h0M253 725.5h0M293.5 743h0M232 762h0M263.5 765.5h0M256.5 663h0M299.5 611h0M277 706.5h0M248 677h0M274 659.5h0M250 694h0M309.5 730h0M316 708h0M315 640.5h0M306.5 581.5h0M294 691.5h0M332.5 596.5h0M326.5 703.5h0M273.5 739.5h0M306 596h0M288 674.5h0M325 622.5h0M278.5 633h0M320.5 683.5h0M248 778h0M268.5 682h0M327 664h0M266 730h0M265 702h0M335.5 637.5h0M249.5 747h0M292 592h0M319 656h0M294.5 649.5h0M314 674.5h0M323.5 569.5h0M312.5 628.5h0M262.5 779.5h0M230 712h0M270.5 788.5h0M239.5 726.5h0M277.5 691h0M320.5 594.5h0M309 570h0M254 758h0M286.5 752h0M224 727h0M283 578.5h0M240 701h0M297 727h0M261 795h0M244.5 713h0M241 686.5h0M260.5 644.5h0M275.5 766.5h0M238.5 743.5h0M305 692.5h0M223 769.5h0M324.5 537.5h0M282 789.5h0M217.5 755h0M279 591.5h0M322 582.5h0M218.5 786.5h0M280.5 608h0M330.5 558.5h0M248.5 789.5h0M304.5 544.5h0M225 795.5h0M259.5 613h0M275.5 620.5h0M294 760.5h0M245.5 661h0M282.5 802h0M266 632.5h0M217.5 743.5h0M243.5 799.5h0M336 570.5h0M304.5 745h0M208 766h0M321.5 525.5h0M329.5 514.5h0M340 536.5h0M301.5 669h0M206 801.5h0M343 612.5h0M301.5 624.5h0M226 681.5h0M309.5 523h0M235.5 671h0M286.5 561h0M338 667h0M337 678h0M329.5 652.5h0M268.5 603.5h0M252 637.5h0M341.5 580.5h0M243 763.5h0M331.5 690h0M315.5 741h0M298 557h0M215 685h0M312.5 557.5h0M207.5 787.5h0M289 772h0M322 551.5h0M305 716h0M304 704h0M304 533.5h0"/>
<path d="M301.5 651.5h0M311.5 660.5h0M297.5 637h0M323.5 605h0M284 723.5h0M253 721.5h0M259 708h0M265.5 720h0M226.5 787.5h0M284.5 710h0M293 683.5h0M234.5 779h0M271.5 753h0M295 672h0M264 740h0M232.5 757h0M282 747.5h0M286 659.5h0M257.5 757h0M297 704h0M265.5 768h0M269 695h0M304.5 714h0M278.5 670.5h0M304 685h0M313.5 635h0M309 739h0M297.5 600.5h0M297 615.5h0M258 674.5h0M316.5 649h0M246.5 663h0M316 585.5h0M304.5 585.5h0M305.5 627h0M271.5 730.5h0M312.5 612.5h0M282 639h0M243 675h0M299.5 732.5h0M286 623.5h0M269.5 683h0M276 652h0M315 703h0M245 768h0M287.5 735h0M326 671h0M331.5 637h0M264 665h0M313.5 597.5h0M249 699.5h0M323.5 621.5h0M282 682h0M311.5 675h0M288.5 592.5h0M223.5 765h0M325.5 573.5h0M232.5 733h0M274.5 777h0M251 734.5h0M319 542h0M262.5 784h0M273.5 791.5h0M248 747.5h0M321 689h0M286 696h0M259 642.5h0M306 573.5h0M293.5 747.5h0M325 553.5h0M337 595.5h0M240 720h0M242.5 797.5h0M301 537.5h0M286 608h0M317 718.5h0M270.5 591h0M234.5 704.5h0M225 714.5h0M239.5 687.5h0M277 601h0M219 736h0M297 550h0M272 710.5h0M217.5 801.5h0M230.5 744h0M249 787.5h0M267 803h0M209.5 783h0M335.5 647.5h0M329.5 585h0M315.5 526h0M340 553.5h0M326 516.5h0M333.5 506.5h0M252.5 684.5h0M282.5 760.5h0M337 607h0M265.5 611h0M288.5 785.5h0M218 683h0M230 802h0M339 571.5h0M343 526.5h0M264 625.5h0M232.5 667.5h0M258 795h0M338.5 659h0M310.5 559.5h0M285 563h0M275 624h0M205.5 682.5h0M336 541.5h0M291 646.5h0M329.5 527.5h0"/>
<path d="M299 644h0M301.5 659.5h0M317.5 609h0M278.5 733h0M260 710.5h0M294 715.5h0M292.5 632h0M288.5 705.5h0M275.5 720.5h0M261.5 742h0M278.5 664h0M274 757h0M251 721h0M285.5 753h0M304 710h0M232.5 768.5h0M263.5 762.5h0M234.5 788.5h0M315.5 659h0M307 689h0M258.5 694.5h0M290 690.5h0M277.5 678.5h0M290 655.5h0M271 703.5h0M290 727h0M243.5 672h0M293.5 602h0M301 585.5h0M300 679.5h0M255.5 660.5h0M266.5 674.5h0M303.5 630.5h0M304.5 731h0M320 645.5h0M310.5 622h0M261.5 730h0M243.5 773.5h0M314.5 589.5h0M321.5 628.5h0M271.5 655h0M304.5 611h0M281 647.5h0M333 601.5h0M318 578.5h0M293.5 668.5h0M336.5 669h0M275.5 744h0M314.5 674h0M293 739h0M223 789h0M283 623h0M323.5 701h0M327 615.5h0M247.5 763h0M240 695h0M236 731.5h0M322 536.5h0M282.5 599.5h0M256 753.5h0M223 759.5h0M278.5 690.5h0M257 643.5h0M222.5 732h0M264 774h0M326.5 678h0M276 795.5h0M246 744h0M309 563.5h0M237 712.5h0M307.5 536h0M333.5 637.5h0M249 798h0M292.5 615.5h0M300.5 552.5h0M302.5 748h0M331.5 553h0M251.5 781.5h0M312.5 701.5h0M275 771.5h0M264.5 793.5h0M222.5 744.5h0M224 802h0M276 783.5h0M329 573.5h0M226 706.5h0M250 687h0M284.5 588h0M343 547h0M271.5 641.5h0M262 620.5h0M300.5 699.5h0M267.5 686h0M269.5 612h0M338.5 580h0M341 592.5h0M305.5 599.5h0M309.5 640h0M335.5 655.5h0M282.5 566.5h0M319.5 513h0M326 665.5h0M338 563.5h0M328 590h0M286.5 787.5h0M224 776.5h0M322 689h0M312.5 547h0M229 721h0"/>
<path d="M298 650.5h0M304 639h0M283 718h0M264.5 700.5h0M293 664.5h0M269.5 745.5h0M299 710.5h0M319.5 605.5h0M257 747.5h0M285 656h0M296.5 689.5h0M278 673.5h0M255.5 710.5h0M271.5 713h0M272.5 765.5h0M278.5 704.5h0M290.5 631.5h0M278.5 731h0M312.5 660h0M311 736h0M292 609h0M247.5 725.5h0M321 639h0M245 679h0M290.5 677.5h0M271 686h0M305.5 612.5h0M276.5 754.5h0M232 764.5h0M299 729h0M261 734.5h0M304 594h0M232 786h0M268 664.5h0M228 775h0M260.5 770h0M311 648h0M330 612h0M294 584h0M287.5 642.5h0M322 593.5h0M286 739.5h0M313 687h0M251.5 697h0M314 619.5h0M326.5 649.5h0M283 617.5h0M275.5 626h0M292 596.5h0M276 646h0M316 579.5h0M250 765.5h0M323.5 663.5h0M322.5 628h0M313 674h0M327.5 574h0M315 703h0M290.5 751h0M218.5 786h0M218.5 768h0M284.5 688h0M309 724h0M324.5 542.5h0M230 738.5h0M258 722h0M264 675h0M240.5 776.5h0M236 725h0M221 756h0M265.5 797h0M333.5 669h0M242 750h0M218.5 723h0M289 700h0M250.5 665.5h0M313.5 540h0M255.5 792h0M325 558.5h0M245.5 802h0M229 708h0M310 749.5h0M277 793h0M328.5 683h0M307 571.5h0M239.5 700h0M241.5 713h0M273.5 779h0M261 648.5h0M335.5 642.5h0M281.5 585h0M301 544h0M266 637h0M259 759h0M309 529h0M258.5 687h0M243.5 737.5h0M227 801.5h0M279.5 600.5h0M338 550.5h0M337 595h0M242.5 789.5h0M284.5 570.5h0M265 620.5h0M284 768h0M269 724.5h0M339.5 573.5h0"/>
<path d="M296 645h0M299 669.5h0M301 634.5h0M262 742.5h0M297.5 702h0M286 715.5h0M315 607.5h0M300 685h0M308.5 711.5h0M278.5 658.5h0M263.5 693h0M276 726h0M269.5 668h0M277.5 761h0M279 705h0M310.5 653.5h0M301 604h0M291.5 612h0M282.5 679h0M289.5 598.5h0M289.5 691.5h0M282.5 634h0M295.5 657h0M315.5 663.5h0M258.5 727h0M287 735h0M236 768.5h0M308 620.5h0M327.5 645h0M247.5 671h0M262.5 762h0M273 749h0M302.5 733.5h0M256.5 706h0M322.5 634.5h0M247 725.5h0M296 583.5h0M234.5 784.5h0M267 717h0M324 597.5h0M252.5 692.5h0M289.5 623h0M251 766.5h0M321 576.5h0M288 666.5h0M224.5 768h0M282.5 647h0M276.5 688.5h0M297.5 715h0M274.5 775h0M287.5 749.5h0M323.5 622h0M325.5 672h0M259.5 778h0M324.5 697.5h0M243 698.5h0M308 676.5h0M235 721h0M307 583.5h0M311 695h0M324 541h0M242 754.5h0M272.5 790.5h0M220.5 779h0M321 686h0M236.5 680h0M233 796h0M312.5 738.5h0M294 726h0M222.5 725h0M301 750.5h0M256 662h0M326.5 562.5h0M234 737.5h0M330.5 552h0M281 608.5h0M313 593h0M312 567.5h0M303 539.5h0M331 609.5h0M257 790h0M321.5 711h0M267.5 652.5h0M311.5 725h0M220 791h0M273 641h0M333 572.5h0M228 706h0M219 755h0M262 640.5h0M331.5 584h0M266 627h0M284.5 787h0M245 796.5h0M267.5 679h0M276 585.5h0M338.5 660h0M313 528.5h0M244.5 775.5h0M250.5 746.5h0M343 544.5h0M327.5 661h0"/>
<path d="M298 648h0M300 661h0M297 712h0M264.5 745h0M283.5 721.5h0M296.5 635.5h0M264 690.5h0M276.5 712h0M278 731.5h0M278 657.5h0M255 698h0M288 664h0M295 690.5h0M317 606.5h0M268 766h0M272 700h0M262 732.5h0M295 675.5h0M307.5 641.5h0M311 659h0M234 772h0M292 622h0M281 680h0M261.5 718h0M326 639h0M308 708.5h0M301.5 723h0M248 721h0M317 632.5h0M307 596h0M299.5 608.5h0M308.5 688.5h0M278 756.5h0M287 595h0M249.5 671.5h0M260 757.5h0M320.5 584.5h0M284.5 742h0M321 649.5h0M322.5 669.5h0M281.5 632h0M272 673h0M287.5 700h0M284.5 646h0M260.5 663.5h0M291 752h0M225.5 764.5h0M326.5 600h0M294 585.5h0M324 615.5h0M250 767.5h0M312 733.5h0M241.5 698.5h0M306 582h0M320 706h0M312 676.5h0M324.5 572h0M315 540h0M237 728.5h0M308.5 618h0M250 750.5h0M321 691h0M233.5 788.5h0M252 785h0M233.5 741h0M296.5 741h0M277 773.5h0M267.5 799.5h0M323.5 552.5h0M275 785.5h0M273.5 646.5h0M247 709.5h0M218 787.5h0M330.5 626.5h0M226 716h0M284 608.5h0M256 652.5h0M277.5 618.5h0M299 543h0M243.5 685.5h0M331.5 583h0M336.5 607.5h0M222.5 750h0M264 628.5h0M335 558h0M259.5 640.5h0M284 793.5h0M266 778.5h0M247.5 733.5h0M258 680h0M310.5 564h0M236.5 676.5h0M226 800.5h0M334 659h0"/>
<path d="M296.5 704h0M295 716.5h0M281 712h0M296 645h0M305 637.5h0M285.5 666h0M294.5 682.5h0M263 744.5h0M260 695h0M283 734h0M283.5 653.5h0M310 658h0M300.5 672.5h0M314.5 616.5h0M269.5 718h0M242 765h0M321 602.5h0M269.5 706.5h0M278.5 677.5h0M297 616h0M268.5 660h0M233 773h0M279.5 689.5h0M325 637.5h0M252 716h0M257.5 728h0M298.5 658.5h0M313.5 668.5h0M269 762h0M301 601.5h0M287 638.5h0M300.5 590.5h0M321 625.5h0M258.5 766h0M284 593.5h0M315 707h0M266.5 677.5h0M324.5 661.5h0M281.5 627h0M318.5 647.5h0M324 590.5h0M312 580.5h0M285 616.5h0M309.5 682.5h0M304 692.5h0M298 746.5h0M326.5 578.5h0M253.5 756h0M310.5 738.5h0M285.5 751h0M229 758.5h0M255.5 670.5h0M320.5 537h0M269 735h0M231 720.5h0M237.5 788h0M300 576h0M243 727.5h0M323.5 696.5h0M284 701h0M228 736h0M243.5 664.5h0M237.5 711h0M328 559.5h0M274 787h0M224.5 780h0M272.5 773.5h0M277 798h0M298.5 627.5h0M253.5 791.5h0M304.5 723.5h0M283 762h0M251.5 776h0M271 633.5h0M218 767h0M322 681.5h0M272 649h0M286 604.5h0M319 569h0M253 683h0M246.5 697h0M262 643.5h0M280.5 723h0M263.5 623h0M230.5 797h0M311 594.5h0M243 747h0M300.5 538.5h0M330 648h0M296 731.5h0M325.5 615h0"/>
<path d="M297.5 710h0M284.5 720.5h0M305.5 643h0M276 711h0M293 692h0M291.5 648h0M262.5 689h0M285.5 663.5h0M260.5 740.5h0M279.5 736h0M286.5 681.5h0M301.5 661.5h0M313 664h0M262.5 725h0M267 750.5h0M307.5 631.5h0M325 610.5h0M278 651h0M292 635h0M311 609.5h0M250.5 716.5h0M297.5 675h0M253.5 732h0M301.5 724h0M270 701h0M312 598.5h0M224 773h0M255 700.5h0M274 765.5h0M323.5 635.5h0M299.5 602.5h0M284.5 594.5h0M310.5 706.5h0M283 697h0M280 623.5h0M281.5 640.5h0M328 594.5h0M310 682h0M327 623h0M291.5 620.5h0M258 759.5h0M274 671h0M312 695.5h0M262 770.5h0M298 748.5h0M261 669.5h0M303 590.5h0M312 734.5h0M327.5 669h0M284.5 746.5h0M319.5 583.5h0M301 578.5h0M233 780h0M234 765h0M261 657h0M240.5 730.5h0M243 792.5h0M234.5 741h0M245 770.5h0M330.5 646.5h0M322 533h0M316 623h0M264 711h0M324.5 558h0M249.5 750h0M293 738h0M274.5 790h0M263.5 791.5h0M278.5 610h0M241 705.5h0M249.5 669h0M325 686h0M326.5 572h0M311 542h0M268 628.5h0M319.5 649h0M227 791.5h0M252 783.5h0M222.5 761h0M246.5 693.5h0M229 731h0"/>
<path d="M306.5 708.5h0M283 714h0M301 641h0M289 659h0M294 719h0M290.5 644.5h0M302 690.5h0M267.5 696h0M275 664.5h0M311 652h0M277.5 737h0M298 666.5h0M287.5 681.5h0M264.5 734h0M263.5 750h0M267 708h0M305 606h0M254 730.5h0M249.5 714h0M309 667.5h0M287.5 628h0M254.5 692.5h0M309.5 631.5h0M285 728.5h0M321.5 628h0M325.5 603.5h0M292.5 597h0M265.5 723h0M294 698.5h0M232.5 770h0M318.5 613h0M321.5 661h0M262.5 765h0M319 639h0M302.5 677h0M306 589.5h0M313.5 682h0M263 664.5h0M297.5 614.5h0M317.5 705h0M297.5 745.5h0M309 576h0M305.5 736.5h0M283.5 749h0M268.5 674.5h0M280 695h0M252 753h0M319 594h0M243.5 781.5h0M278 642h0M286 670.5h0M249 764h0M242.5 727h0M332 591.5h0M228 786h0M250.5 670h0M226.5 739h0M323 556.5h0M277.5 760.5h0M235 700.5h0M269 784h0M219.5 764h0M255.5 778.5h0M279.5 604h0M253 794.5h0M305 721h0M328 619h0M309 619.5h0M253 742h0M321 579h0M310 535h0M280 773.5h0M293.5 584h0M320 692.5h0M329 644h0M320 545h0M314.5 729h0M258.5 652.5h0M270 651h0M267.5 623h0"/>
<path d="M299 711.5h0M301.5 648.5h0M291.5 662h0M284.5 706h0M290 722h0M281 668h0M297 697h0M278 734h0M287.5 641h0M262 699.5h0M285.5 685h0M316.5 656h0M274.5 711h0M268.5 727h0M301 635h0M267.5 752h0M300.5 675.5h0M307.5 665h0M259 740.5h0M263 686.5h0M282.5 655.5h0M314 606h0M303 616.5h0M252.5 691h0M248.5 731h0M322.5 638h0M270.5 658h0M229 767.5h0M325.5 624h0M300.5 605.5h0M233.5 778h0M311 711h0M328 593.5h0M273 695h0M287 599h0M263.5 667h0M309.5 695h0M258 768.5h0M245.5 716.5h0M317.5 686.5h0M304.5 584.5h0M295.5 747h0M258.5 711h0M287.5 628h0M320.5 671.5h0M330.5 604.5h0M312.5 624h0M318 581h0M257.5 724h0M273 678.5h0M246 755.5h0M276.5 635h0M232.5 735.5h0M234 794.5h0M308.5 727h0M318 561h0M284.5 751h0M275.5 762h0M243 770h0M257.5 783.5h0M303.5 572h0M279 607h0M248.5 675h0M303 738h0M288 587.5h0M312.5 643.5h0M264 793h0M270 777.5h0M318.5 701.5h0M315.5 593h0"/>
<path d="M299 715h0M293 665h0M304 639.5h0M293.5 645.5h0M291 707h0M306.5 651.5h0M288.5 689h0M261 699.5h0M291.5 724.5h0M280.5 678.5h0M282.5 716.5h0M282.5 661h0M262 753.5h0M264.5 726.5h0M279 739.5h0M297.5 676h0M301 690h0M273.5 701.5h0M315 604h0M306.5 667.5h0M262 685.5h0M265.5 742h0M292.5 634.5h0M316.5 662.5h0M253.5 735.5h0M278.5 727h0M246.5 720.5h0M281.5 642.5h0M317 616h0M223 773h0M331 599h0M321 626.5h0M321 641h0M306.5 702.5h0M254.5 670h0M301.5 596.5h0M267 674h0M265 663h0M290 608h0M299 746.5h0M310.5 580h0M265.5 773.5h0M319.5 677h0M235.5 777h0M250 698.5h0M308 679.5h0M279.5 628.5h0M275.5 753.5h0M306 627h0M225.5 762h0M288 753.5h0M325.5 655h0M253.5 768.5h0M265.5 715.5h0M226.5 735h0M304 615h0M250 753h0M315.5 692.5h0M299.5 580.5h0M286.5 597.5h0M238 763h0M240 734.5h0M325.5 557h0M318 590h0M277.5 765.5h0M242.5 666.5h0M308.5 736h0M272.5 650.5h0M258 785h0M291 738h0M274.5 781h0"/>
<path d="M291.5 715h0M305 708.5h0M288 659.5h0M302.5 640h0M291 643.5h0M308.5 655h0M278.5 707.5h0M297 688h0M287.5 675h0M285 730.5h0M276 662.5h0M277 741.5h0M259.5 729.5h0M280.5 684.5h0M299 675.5h0M269 693h0M258.5 699h0M268 758.5h0M311 597.5h0M276.5 721h0M286.5 631h0M312.5 665.5h0M260.5 685.5h0M294 703.5h0M224 773h0M308.5 616h0M329 594h0M325.5 634.5h0M301.5 720h0M312.5 695.5h0M257.5 662.5h0M314.5 631h0M253 759.5h0M293 592h0M298 664.5h0M303 606h0M265 708.5h0M324.5 613.5h0M266 669.5h0M239.5 777h0M296 751.5h0M250 707.5h0M261 747.5h0M299 629.5h0M309.5 580h0M257.5 771h0M279.5 641h0M246.5 720h0M250 691.5h0M249 748.5h0M318 573h0M314 679h0M318 560h0M281.5 696.5h0M239 733.5h0M274.5 770.5h0M281.5 752h0M253.5 675h0M323.5 653.5h0M288.5 603.5h0M266.5 655.5h0M299 736h0M228.5 784h0M230 741h0M262 792.5h0M252.5 782.5h0M331 623.5h0"/>
<path d="M292 718.5h0M298 662.5h0M299.5 640.5h0M302.5 706.5h0M284.5 664.5h0M288.5 647h0M294.5 692h0M282 730.5h0M280 713h0M266.5 736h0M291 674h0M281.5 689h0M270.5 695.5h0M311.5 661h0M305 651h0M264 707.5h0M309.5 606h0M265.5 749.5h0M279.5 654.5h0M303 673.5h0M270.5 720h0M282.5 631.5h0M331.5 598.5h0M307 630h0M231 766h0M323.5 640.5h0M259 693h0M266 665.5h0M311 694h0M299 611h0M256.5 759.5h0M278 678.5h0M295.5 589.5h0M322.5 669h0M321.5 618h0M237 784h0M316 580.5h0M319.5 596h0M286.5 742h0M314.5 705.5h0M330.5 626h0M241 719.5h0M321 567h0M258 724.5h0M248 769.5h0M288.5 755.5h0M278 751h0M303 721h0M272 640h0M267.5 760.5h0M304 577.5h0M262 774.5h0M282 768.5h0M282.5 701.5h0M302 748.5h0M286.5 620.5h0M250.5 675h0M290 599.5h0M265 791h0M251.5 743h0M326 553.5h0"/>
<path d="M288.5 658h0M291.5 712.5h0M300.5 632h0M295.5 646.5h0M298.5 687h0M307.5 644h0M281.5 674.5h0M267 735h0M274 713.5h0M263.5 691h0M277 698h0M300.5 676h0M305.5 665h0M287 688.5h0M287.5 725h0M314 607.5h0M261 708.5h0M287.5 736h0M267 754h0M289 634.5h0M318.5 655h0M300.5 704h0M309 596.5h0M326 604h0M261.5 665.5h0M232.5 772.5h0M311 693h0M296 609h0M263 765.5h0M266 724h0M314 619.5h0M281.5 643.5h0M269.5 655.5h0M296.5 592h0M250.5 698h0M300 621h0M317 578h0M295 747h0M258.5 745.5h0M316.5 704.5h0M323.5 636h0M282.5 624.5h0M316.5 666.5h0M254 756h0M324.5 615.5h0M254 773.5h0M300 720.5h0M318 679h0M280 748h0M254.5 729h0M277 769.5h0M289.5 701.5h0M238 722.5h0M305.5 743h0M269.5 679h0M323 565h0"/>
<path d="M289 662h0M300 636.5h0M299 647.5h0M301.5 714h0M301 694.5h0M278.5 668h0M269 745.5h0M292 684h0M264.5 701h0M265.5 734.5h0M310.5 655.5h0M284 711.5h0M284 651h0M305 677h0M276 729h0M289.5 727.5h0M270.5 711.5h0M269.5 687h0M264 665.5h0M262.5 757h0M289.5 631.5h0M275.5 700.5h0M313.5 637h0M324 600h0M308 704.5h0M311.5 606.5h0M298 607.5h0M232 772h0M255.5 688.5h0M322.5 624.5h0M266 722.5h0M304.5 588.5h0M311 622.5h0M289.5 740.5h0M280.5 680.5h0M299 620.5h0M319 672h0M317.5 577.5h0M305.5 666h0M277.5 635h0M293.5 753.5h0M257.5 710h0M249 773h0M322.5 613.5h0M279.5 768h0M260.5 768.5h0M328 645h0M234.5 726h0M320 697h0M247.5 758.5h0M271 775.5h0M275.5 756h0"/>
<path d="M298.5 641h0M291.5 668.5h0M288 654h0M297 707.5h0M297.5 691h0M279.5 661h0M267 736h0M290.5 681.5h0M269 694.5h0M301.5 660.5h0M273 746.5h0M275.5 708h0M300.5 718.5h0M313 649.5h0M258.5 729h0M282 721.5h0M312 670.5h0M278 684.5h0M263.5 705.5h0M259 665.5h0M283 633h0M317 603h0M267.5 719h0M268.5 672.5h0M266.5 761.5h0M306.5 614.5h0M283.5 695h0M318 627h0M282.5 737.5h0M300.5 600.5h0M310.5 707.5h0M258.5 747.5h0M296.5 589h0M225 772h0M309 584.5h0M251.5 696.5h0M240.5 775h0M309.5 687h0M274 649h0M314.5 638h0M252 758.5h0M258 774h0M321.5 587h0M280 765.5h0M294 612h0M325 648h0M242.5 726h0M329 625h0M322.5 665h0"/>
<path d="M284.5 661.5h0M296.5 638h0M299 651h0M298 691.5h0M308 643h0M297 668.5h0M292.5 681.5h0M299 712h0M260.5 691h0M275.5 711.5h0M271.5 754.5h0M287 716.5h0M315 656.5h0M284.5 644h0M271 686.5h0M288.5 729.5h0M286 691h0M272 730.5h0M254.5 703h0M269.5 743.5h0M259 672.5h0M261.5 726.5h0M275.5 698h0M310.5 599h0M280 677.5h0M315 610.5h0M283 628h0M258 765.5h0M308.5 674h0M271.5 660h0M258.5 740.5h0M306.5 703.5h0M326.5 602h0M299.5 598.5h0M301.5 621h0M285.5 744h0M306.5 579.5h0M223 768.5h0M326.5 631.5h0M265 706.5h0M323.5 617.5h0M230.5 778h0M322.5 646.5h0M312 628h0M274.5 637.5h0M315.5 691h0"/>
<path d="M301.5 636h0M293 665.5h0M292 647.5h0M290.5 689h0M296 718h0M300 695.5h0M289.5 708h0M279 668.5h0M303 653.5h0M302.5 707h0M268.5 753h0M275 712h0M289 677.5h0M265.5 694h0M313 646h0M276.5 737.5h0M315.5 662.5h0M265 727h0M284 728.5h0M260 666.5h0M283 633.5h0M277.5 687h0M268.5 673.5h0M316 618h0M307.5 674.5h0M321 601h0M256.5 762h0M310 607h0M296.5 590h0M257.5 709h0M313 701.5h0M315 581.5h0M313 634h0M292.5 738.5h0M227.5 769h0M304 622.5h0M238 778.5h0M259 742.5h0M265 772.5h0"/>
<path d="M301.5 651h0M286 654h0M308.5 637h0M288 673h0M297.5 688.5h0M296 632h0M293 643h0M298 714.5h0M298 665h0M303.5 700.5h0M283 717h0M310 661h0M268.5 744h0M273.5 702h0M269.5 690h0M282 682.5h0M274 727h0M267 668h0M261 698h0M264.5 717h0M262 730.5h0M314.5 611h0M289 707.5h0M280.5 736.5h0M278.5 664h0M283 636.5h0M282.5 625h0M291.5 599h0M308 673h0M262.5 764.5h0M304 586.5h0M311.5 622h0M317.5 593.5h0M317 705h0M236.5 770h0M327 605h0M277 758.5h0M304.5 598h0M323 647.5h0M319.5 637h0"/>
<path d="M297 655h0M290.5 644h0M283.5 661.5h0M297.5 688h0M296 675h0M300.5 637h0M295 717h0M311 647.5h0M284.5 677.5h0M296 704h0M270.5 688.5h0M274.5 719h0M309.5 660.5h0M270 751.5h0M283.5 704.5h0M271 705h0M270.5 738.5h0M285 691h0M262 730.5h0M281 731h0M268 666.5h0M318.5 620.5h0M310.5 604h0M282 631h0M258 699.5h0M256 721h0M310 679h0M258.5 761.5h0M296.5 596h0M314 587.5h0M322.5 603.5h0M286 746h0M313 707h0M307.5 622h0M322.5 636h0M257 666h0"/>
<path d="M291 654h0M292.5 666h0M293.5 697h0M293.5 641h0M302.5 688.5h0M293 712.5h0M282 672h0M294.5 678h0M289.5 723h0M305 710h0M307 639.5h0M267.5 743h0M266.5 723.5h0M302 657h0M271 689.5h0M311 664h0M275 710h0M276 750h0M285.5 685h0M282 647h0M266 699.5h0M282 735h0M320.5 617h0M278 661.5h0M257.5 731.5h0M288 628h0M264 765h0M261 712h0M264.5 663.5h0M301 592.5h0M309.5 613h0M316.5 600h0"/>
<path d="M294 658h0M297.5 633.5h0M293 686.5h0M295 646.5h0M296 719h0M293 675h0M280.5 665.5h0M299 696h0M311 649h0M307.5 663.5h0M274 676h0M268.5 694h0M272.5 736h0M268.5 716.5h0M286.5 707h0M280.5 641.5h0M286 730h0M266.5 753h0M303.5 682h0M298.5 708h0M321.5 617.5h0M278 688h0M259 723h0M279.5 720.5h0M309.5 633h0M306 597h0M259 664.5h0M325 598h0M260 703h0M306.5 586h0M318.5 660h0"/>
<path d="M284.5 663.5h0M288 690.5h0M295 658.5h0M297.5 641.5h0M297 684h0M285.5 719h0M286 650.5h0M306.5 653.5h0M296.5 721.5h0M279.5 675.5h0M267 703.5h0M271.5 735.5h0M274.5 695h0M270 749h0M284 635.5h0M300 709h0M263.5 721.5h0M282.5 737.5h0M271 684.5h0M309.5 667h0M308 681.5h0M293.5 671h0M316.5 623.5h0M318.5 610h0M278 708h0M261.5 759h0M307 693.5h0M310 603h0M324.5 600h0"/>
<path d="M295.5 649h0M299 635.5h0M291 692.5h0M286.5 657h0M298.5 676h0M288.5 715.5h0M285 681.5h0M279.5 667h0M285.5 642h0M299 659.5h0M305 690.5h0M269.5 746h0M264.5 731h0M281 727.5h0M314 656.5h0M277.5 715h0M268 702.5h0M310.5 645.5h0M278.5 693.5h0M300 708h0M261.5 687h0M312.5 672h0M268.5 762.5h0M258.5 719h0M323.5 617h0M324 600.5h0"/>
<path d="M292 642.5h0M287 655.5h0M301.5 692.5h0M291 688h0M301 652h0M304.5 640h0M292 721.5h0M291 667h0M278 674h0M262.5 734h0M312 653.5h0M305.5 663.5h0M293 631.5h0M278.5 726.5h0M273 741.5h0M279 715.5h0M260.5 746.5h0M269 708.5h0M275 662h0M278.5 702.5h0M265.5 722h0M260 695.5h0M297 707h0M303.5 677h0M287 733.5h0M282 633.5h0"/>
<path d="M300 643.5h0M287.5 651.5h0M294 678h0M293.5 697.5h0M288 638h0M283 682h0M279.5 661.5h0M295 664.5h0M297.5 712.5h0M286 728h0M284.5 711h0M273 749h0M266.5 727h0M307 687.5h0M276.5 719h0M307.5 653.5h0M262 688h0M273 697.5h0M272 672h0M262 700.5h0"/>
<path d="M299.5 644.5h0M293.5 677.5h0M294.5 690.5h0M277 677.5h0M294 663.5h0M284 655h0M277 725.5h0M294 634h0M294 716.5h0M282.5 709h0M266.5 730h0M259.5 697h0M282.5 641h0M277.5 694.5h0M269.5 750h0M310.5 662h0M276.5 665.5h0M307 678.5h0M305 695.5h0M287 732.5h0"/>
<path d="M303 642h0M290 640h0M298.5 680h0M288 669.5h0M293.5 697.5h0M293.5 652h0M286 684.5h0M281.5 720h0M278 733h0M294.5 711h0M269 718.5h0M261.5 732h0M298 663h0M276 673.5h0M265.5 704.5h0M266.5 746h0"/>
<path d="M300.5 641.5h0M292.5 674.5h0M299.5 684h0M286 689.5h0M285.5 729h0M301.5 658.5h0M289 649.5h0M289.5 634.5h0M276.5 716.5h0M290 718.5h0M281 661.5h0M278.5 676.5h0M256 727h0M272 727.5h0M262.5 699.5h0"/>
<path d="M298.5 640.5h0M293.5 666.5h0M298.5 690h0M283 677h0M294.5 678.5h0M289 652h0M285.5 713h0M309 647.5h0M272 722.5h0M287 689.5h0M289 631h0M271 699h0M304 657.5h0"/>
<path d="M300.5 691.5h0M307.5 637h0M283 669h0M293 635.5h0M295 665h0M296 647h0M294 677h0M278.5 681.5h0M278 715h0M294.5 714h0M283 643.5h0M285 658h0M273 726.5h0M306.5 657h0"/>
<path d="M302.5 684h0M298.5 644.5h0M287.5 675.5h0M291.5 716.5h0M281 712.5h0M296 662h0M291.5 633.5h0M302.5 671.5h0M285 660h0M292 692h0M287.5 649h0"/>
<path d="M296.5 690h0M295 649h0M283.5 672h0M309 647h0M284.5 711h0M300 638h0M296 711.5h0M300.5 667.5h0"/>
<path d="M289 675h0M303.5 640h0M292 655.5h0M301 671.5h0M290 717.5h0M285.5 664.5h0M297.5 688.5h0M278 676h0"/>
<path d="M290 684.5h0M294 669h0M296.5 644.5h0M294 656h0M301 694h0"/>
<path d="M294.5 652.5h0M307 642h0M285 675.5h0M299.5 666h0"/>
<path d="M292 677.5h0M289 646.5h0M300.5 654h0M301 668.5h0"/>
<path d="M292.5 680.5h0"/>
</g>
</g>
<rect x="157.1" y="276.5" width="53.8" height="18.8" fill="#ff0000" fill-opacity="0.4"/>
<text x="229.9" y="295.5" font-size="26.5" fill="#333333" font-family="'Liberation Sans', Arial, Helvetica, sans-serif" textLength="156.04" lengthAdjust="spacingAndGlyphs" stroke="#333" stroke-width="0.3">Fast tracklets</text>
<rect x="157.1" y="313.9" width="53.8" height="18.8" fill="#0000ff" fill-opacity="0.4"/>
<text x="230.83" y="332.8" font-size="26.5" fill="#333333" font-family="'Liberation Sans', Arial, Helvetica, sans-serif" textLength="160.55" lengthAdjust="spacingAndGlyphs" stroke="#333" stroke-width="0.3">Slow tracklets</text>
<rect x="157.1" y="351.3" width="53.8" height="18.8" fill="#666666" fill-opacity="0.4"/>
<text x="229.64" y="369.9" font-size="26.5" fill="#333333" font-family="'Liberation Sans', Arial, Helvetica, sans-serif" textLength="211.22" lengthAdjust="spacingAndGlyphs" stroke="#333" stroke-width="0.3">Immobile tracklets</text>
<path d="M285.7 682.8H308.1M296.9 671.6V694" stroke="#000" stroke-width="2.8"/>
<text x="167.9" y="688.1" font-size="21.5" fill="#3a3a3a" font-family="'Liberation Sans', Arial, Helvetica, sans-serif" textLength="111" lengthAdjust="spacingAndGlyphs" stroke="#3a3a3a" stroke-width="0.3">(0.01, 0.22)</text>
<path d="M403.8 592.3H426.2M415 581.1V603.5" stroke="#000" stroke-width="2.8"/>
<text x="284.78" y="597" font-size="21.5" fill="#3a3a3a" font-family="'Liberation Sans', Arial, Helvetica, sans-serif" textLength="112.43" lengthAdjust="spacingAndGlyphs" stroke="#3a3a3a" stroke-width="0.3">(0.12, 0.38)</text>
<path d="M491.2 583.6H513.6M502.4 572.4V594.8" stroke="#000" stroke-width="2.8"/>
<text x="520.07" y="589.5" font-size="21.5" fill="#3a3a3a" font-family="'Liberation Sans', Arial, Helvetica, sans-serif" textLength="113.05" lengthAdjust="spacingAndGlyphs" stroke="#3a3a3a" stroke-width="0.3">(1.07, 0.40)</text>
<rect x="978.3" y="135.5" width="550.5" height="96.5" fill="#EAEAF2"/>
<rect x="978.3" y="252.3" width="550.5" height="551.1" fill="#EAEAF2"/>
<rect x="1546.6" y="252.3" width="95.4" height="551.1" fill="#EAEAF2"/>
<path d="M1070.05 135.5V232M1070.05 252.3V803.4M1161.8 135.5V232M1161.8 252.3V803.4M1253.55 135.5V232M1253.55 252.3V803.4M1345.3 135.5V232M1345.3 252.3V803.4M1437.05 135.5V232M1437.05 252.3V803.4M978.3 693.18H1528.8M1546.6 693.18H1642M978.3 582.96H1528.8M1546.6 582.96H1642M978.3 472.74H1528.8M1546.6 472.74H1642M978.3 362.52H1528.8M1546.6 362.52H1642" stroke="#F6F6FA" stroke-width="1.5" fill="none"/>
<path d="M1256.55 232V231.09H1270.14V232ZM1270.14 232V230.24H1283.73V232ZM1283.73 232V228.54H1293.93V232ZM1293.93 232V225.99H1304.12V232ZM1304.12 232V214.95H1314.31V232ZM1314.31 232V210.7H1321.11V232ZM1321.11 232V209H1327.91V232ZM1327.91 232V197.11H1334.7V232ZM1334.7 232V198.81H1344.89V232ZM1344.89 232V196.26H1355.09V232ZM1355.09 232V202.21H1361.88V232ZM1361.88 232V207.3H1372.08V232ZM1372.08 232V215.8H1378.87V232ZM1378.87 232V222.59H1385.67V232ZM1385.67 232V225.14H1395.86V232ZM1395.86 232V230.24H1402.66V232ZM1402.66 232V231.09H1409.45V232ZM1416.25 232V231.09H1423.05V232Z" fill="#ff0000" fill-opacity="0.4"/>
<path d="M1076.94 232V230.58H1127.91V232ZM1127.91 232V228.54H1144.89V232ZM1144.89 232V225.14H1161.88V232ZM1161.88 232V220.89H1172.08V232ZM1172.08 232V217.5H1187.37V232ZM1175 232V216.65H1187.74V232ZM1187.74 232V201.36H1195.39V232ZM1195.39 232V209H1202.18V232ZM1202.18 232V208.15H1212.38V232ZM1212.38 232V204.75H1220.87V232ZM1220.87 232V208.15H1227.67V232ZM1227.67 232V195.41H1236.16V232ZM1236.16 232V185.22H1242.96V232ZM1242.96 232V188.61H1251.45V232ZM1251.45 232V170.77H1259.95V232ZM1259.95 232V165.68H1266.74V232ZM1266.74 232V176.72H1273.54V232ZM1273.54 232V180.12H1282.03V232ZM1282.03 232V193.71H1290.53V232ZM1290.53 232V202.21H1297.32V232ZM1297.32 232V216.65H1304.12V232ZM1304.12 232V229.39H1322.81V232Z" fill="#0000ff" fill-opacity="0.4"/>
<path d="M985.19 232V229.39H991.99V232ZM991.99 232V230.58H1008.98V232ZM1008.98 232V230.24H1025.97V232ZM1025.97 232V228.88H1032.76V232ZM1032.76 232V224.29H1048.05V232ZM1048.05 232V220.04H1056.55V232ZM1056.55 232V209H1063.35V232ZM1063.35 232V203.05H1070.99V232ZM1070.99 232V194.56H1078.64V232ZM1078.64 232V189.46H1087.13V232ZM1087.13 232V182.67H1093.93V232ZM1093.93 232V176.72H1102.42V232ZM1102.42 232V172.47H1109.22V232ZM1109.22 232V155.48H1116.01V232ZM1116.01 232V169.93H1124.51V232ZM1124.51 232V146.14H1131.3V232ZM1131.3 232V163.98H1138.1V232ZM1138.1 232V155.48H1145.74V232ZM1145.74 232V165.68H1153.39V232ZM1153.39 232V169.93H1161.88V232ZM1161.88 232V179.27H1169.53V232ZM1169.53 232V200.51H1177.17V232ZM1177.17 232V209.85H1187.37V232ZM1187.4 232V216.5H1194V232ZM1194 232V220H1200.5V232ZM1200.5 232V224H1207V232ZM1207 232V228H1213.5V232Z" fill="#666666" fill-opacity="0.4"/>
<path d="M1546.6 792.65H1556.46V803.4H1546.6ZM1546.6 781.91H1557.24V792.65H1546.6ZM1546.6 771.16H1559.06V781.91H1546.6ZM1546.6 760.41H1555.96V771.16H1546.6ZM1546.6 749.67H1559.5V760.41H1546.6ZM1546.6 738.92H1564.39V749.67H1546.6ZM1546.6 728.17H1566.96V738.92H1546.6ZM1546.6 717.43H1563.79V728.17H1546.6ZM1546.6 706.68H1569.25V717.43H1546.6ZM1546.6 695.94H1570.63V706.68H1546.6ZM1546.6 685.19H1572.01V695.94H1546.6ZM1546.6 674.44H1570.88V685.19H1546.6ZM1546.6 663.7H1571.27V674.44H1546.6ZM1546.6 652.95H1572.36V663.7H1546.6ZM1546.6 642.2H1571.85V652.95H1546.6ZM1546.6 631.46H1579.27V642.2H1546.6ZM1546.6 620.71H1579.43V631.46H1546.6ZM1546.6 609.96H1588V620.71H1546.6ZM1546.6 599.22H1587.03V609.96H1546.6ZM1546.6 588.47H1585.14V599.22H1546.6ZM1546.6 577.72H1583.42V588.47H1546.6ZM1546.6 566.98H1569.24V577.72H1546.6ZM1546.6 556.23H1592.1V566.98H1546.6ZM1546.6 545.49H1592.34V556.23H1546.6ZM1546.6 534.74H1583V545.49H1546.6ZM1546.6 523.99H1582.18V534.74H1546.6ZM1546.6 513.25H1581.01V523.99H1546.6ZM1546.6 502.5H1587.03V513.25H1546.6ZM1546.6 491.75H1579.49V502.5H1546.6ZM1546.6 481.01H1568.24V491.75H1546.6ZM1546.6 470.26H1569.87V481.01H1546.6ZM1546.6 459.51H1566.3V470.26H1546.6ZM1546.6 448.77H1568.79V459.51H1546.6ZM1546.6 438.02H1568.79V448.77H1546.6ZM1546.6 427.27H1559.96V438.02H1546.6ZM1546.6 416.53H1556.8V427.27H1546.6ZM1546.6 405.78H1557.95V416.53H1546.6ZM1546.6 395.03H1553.68V405.78H1546.6ZM1546.6 384.29H1554.24V395.03H1546.6ZM1546.6 373.54H1551.52V384.29H1546.6ZM1546.6 362.8H1550.91V373.54H1546.6ZM1546.6 352.05H1550.29V362.8H1546.6ZM1546.6 341.3H1548.96V352.05H1546.6ZM1546.6 330.56H1548.01V341.3H1546.6Z" fill="#ff0000" fill-opacity="0.4"/>
<path d="M1546.6 792.65H1557.58V803.4H1546.6ZM1546.6 781.91H1559.38V792.65H1546.6ZM1546.6 771.16H1563.49V781.91H1546.6ZM1546.6 760.41H1561.8V771.16H1546.6ZM1546.6 749.67H1570.25V760.41H1546.6ZM1546.6 738.92H1566.01V749.67H1546.6ZM1546.6 728.17H1573.42V738.92H1546.6ZM1546.6 717.43H1574.68V728.17H1546.6ZM1546.6 706.68H1581.42V717.43H1546.6ZM1546.6 695.94H1578.32V706.68H1546.6ZM1546.6 685.19H1577.14V695.94H1546.6ZM1546.6 674.44H1587.36V685.19H1546.6ZM1546.6 663.7H1591.53V674.44H1546.6ZM1546.6 652.95H1583.19V663.7H1546.6ZM1546.6 642.2H1593.73V652.95H1546.6ZM1546.6 631.46H1588.23V642.2H1546.6ZM1546.6 620.71H1589.83V631.46H1546.6ZM1546.6 609.96H1588.41V620.71H1546.6ZM1546.6 599.22H1583.75V609.96H1546.6ZM1546.6 588.47H1597.56V599.22H1546.6ZM1546.6 577.72H1591.03V588.47H1546.6ZM1546.6 566.98H1590.99V577.72H1546.6ZM1546.6 556.23H1593.95V566.98H1546.6ZM1546.6 545.49H1582.92V556.23H1546.6ZM1546.6 534.74H1584.13V545.49H1546.6ZM1546.6 523.99H1591.39V534.74H1546.6ZM1546.6 513.25H1589.82V523.99H1546.6ZM1546.6 502.5H1586.9V513.25H1546.6ZM1546.6 491.75H1577.41V502.5H1546.6ZM1546.6 481.01H1579.74V491.75H1546.6ZM1546.6 470.26H1580.29V481.01H1546.6ZM1546.6 459.51H1576.1V470.26H1546.6ZM1546.6 448.77H1564.68V459.51H1546.6ZM1546.6 438.02H1560.63V448.77H1546.6ZM1546.6 427.27H1561.6V438.02H1546.6ZM1546.6 416.53H1559.67V427.27H1546.6ZM1546.6 405.78H1556.05V416.53H1546.6ZM1546.6 395.03H1555.26V405.78H1546.6ZM1546.6 384.29H1552.77V395.03H1546.6ZM1546.6 373.54H1552.17V384.29H1546.6ZM1546.6 362.8H1551.63V373.54H1546.6ZM1546.6 352.05H1551V362.8H1546.6ZM1546.6 341.3H1550.1V352.05H1546.6ZM1546.6 330.56H1550.49V341.3H1546.6ZM1546.6 319.81H1547.1V330.56H1546.6Z" fill="#0000ff" fill-opacity="0.4"/>
<path d="M1546.6 792.65H1578.17V803.4H1546.6ZM1546.6 781.91H1585.65V792.65H1546.6ZM1546.6 771.16H1618.45V781.91H1546.6ZM1546.6 760.41H1616.59V771.16H1546.6ZM1546.6 749.67H1618.22V760.41H1546.6ZM1546.6 738.92H1618.13V749.67H1546.6ZM1546.6 728.17H1642V738.92H1546.6ZM1546.6 717.43H1624.04V728.17H1546.6ZM1546.6 706.68H1642V717.43H1546.6ZM1546.6 695.94H1628.32V706.68H1546.6ZM1546.6 685.19H1632.08V695.94H1546.6ZM1546.6 674.44H1626.01V685.19H1546.6ZM1546.6 663.7H1631.17V674.44H1546.6ZM1546.6 652.95H1625.15V663.7H1546.6ZM1546.6 642.2H1599.36V652.95H1546.6ZM1546.6 631.46H1604.74V642.2H1546.6ZM1546.6 620.71H1569.52V631.46H1546.6Z" fill="#666666" fill-opacity="0.4"/>
<clipPath id="sc845"><rect x="978.3" y="252.3" width="550.5" height="551.1"/></clipPath>
<g clip-path="url(#sc845)" fill="none" stroke-linecap="round" stroke-width="10.4">
<g stroke="#ff1818" stroke-opacity="0.035">
<path d="M1337.5 691.5h0M1290 697h0M1354.5 576h0M1342.5 589h0M1344 544h0M1332.5 711h0M1325.5 635h0M1350.5 677h0M1333 492h0M1321.5 556.5h0M1347 528.5h0M1348.5 517.5h0M1304.5 419.5h0M1319 708.5h0M1366 550h0M1366 562h0M1366 745.5h0M1313.5 641h0M1337.5 474.5h0M1311.5 660.5h0M1342 435.5h0M1313.5 540h0M1306.5 372.5h0M1354.5 587.5h0M1323.5 500.5h0M1304 597h0M1323 728.5h0M1344.5 415.5h0M1340.5 567.5h0M1368 532.5h0M1352 560h0M1316 593h0M1360 655.5h0M1394.5 367h0M1340 556.5h0M1380 601.5h0M1313 523.5h0M1334.5 511h0M1365.5 464h0M1339 651h0M1293 647h0M1396 496.5h0M1387.5 586h0M1367 618h0M1318.5 439h0M1330.5 741h0M1295 578h0M1392.5 420.5h0M1329 595h0M1326.5 469h0M1341 452.5h0M1368 686h0M1276 568h0M1354 496.5h0M1352 644.5h0M1341 631.5h0M1300.5 384h0M1327 659.5h0M1366 585.5h0M1361 601h0M1367 632.5h0M1376.5 582h0M1375 644h0M1353.5 457.5h0M1352 320h0M1315 680.5h0M1357 540h0M1276.5 519.5h0M1308.5 611.5h0M1328.5 396.5h0M1392.5 609.5h0M1298 505h0M1359.5 523.5h0M1350.5 688.5h0M1365.5 506.5h0M1291.5 517.5h0M1306.5 553.5h0M1294.5 609.5h0M1314.5 621.5h0M1353 441.5h0M1380.5 454.5h0M1337.5 667.5h0M1298 473h0M1365.5 451h0M1381.5 623h0M1360 768.5h0M1274.5 585.5h0M1293.5 590.5h0M1355 622h0M1322 696h0M1352.5 469.5h0M1269.5 428h0M1347.5 736h0M1377 406.5h0M1369 673h0M1324 515h0M1369.5 573h0M1305 455.5h0M1323.5 613.5h0M1358 706.5h0M1357 385.5h0M1322 455.5h0M1385 438h0M1314.5 772.5h0M1395.5 656.5h0M1314.5 580.5h0M1353.5 745.5h0M1389 559h0M1305.5 324.5h0M1334.5 379h0M1406.5 669h0M1384.5 512.5h0M1338.5 390.5h0M1276 531.5h0M1382 471h0M1308.5 481h0M1378 501h0M1344 607.5h0M1297.5 680.5h0M1327.5 574h0M1382 300h0M1331 362h0M1324.5 670.5h0M1327 544h0M1332.5 442.5h0M1376 737.5h0M1371 439h0M1368.5 492.5h0M1257 504h0M1385 574.5h0M1310.5 568h0M1352 480.5h0M1327.5 429.5h0M1389 647h0M1338.5 425h0M1342.5 718h0M1303.5 696h0M1341.5 499h0M1347 372h0M1393 482h0M1290.5 632h0M1367.5 417.5h0M1323.5 533.5h0M1381.5 695.5h0M1391.5 447.5h0M1346 335h0M1340 778h0M1360 798.5h0M1262 548h0M1394.5 394.5h0M1421.5 470h0M1361.5 785h0M1340 680.5h0M1364.5 726h0M1362 370h0M1315.5 386h0M1358.5 757h0M1282.5 451h0M1261.5 682.5h0M1319 403h0M1382 424.5h0M1332 524.5h0M1328 684h0M1420 593h0M1356.5 352.5h0M1281 669h0M1321.5 482h0M1372.5 383h0M1331.5 625.5h0M1314 468.5h0M1346 348.5h0M1307.5 493.5h0M1353.5 424.5h0M1270.5 411h0M1283 541.5h0M1384.5 529.5h0M1374.5 523.5h0M1401 565h0M1380.5 724.5h0M1304 648.5h0M1384.5 544.5h0M1375 480h0M1284 503h0M1377.5 554.5h0M1312 508.5h0M1270.5 629.5h0M1302.5 350.5h0M1318.5 350h0M1324.5 648.5h0M1409.5 534.5h0M1359.5 301h0M1381 712h0M1392.5 752.5h0M1384 759.5h0M1399 580h0M1286 414h0M1325.5 756h0M1344.5 703.5h0M1418 493h0M1300 737.5h0M1297.5 446.5h0M1404 593h0M1300.5 543.5h0M1378 659.5h0M1286 388h0M1388.5 329h0M1386 269.5h0M1395.5 630.5h0M1363.5 478.5h0M1363.5 395.5h0M1404 404.5h0M1336.5 766.5h0M1405.5 372h0M1394 735h0M1405.5 621.5h0M1277 639.5h0M1290.5 373h0M1382 490h0M1306 670.5h0M1266.5 486.5h0M1300.5 529h0M1334 340h0M1376.5 327h0M1339.5 320.5h0M1276.5 776h0M1369.5 713h0M1377.5 361.5h0M1267 391.5h0M1260.5 534h0M1261 659h0M1379.5 683h0M1351.5 407h0M1393 704.5h0M1342 753.5h0M1388.5 380h0M1394.5 674h0M1293.5 423.5h0M1296.5 563h0M1322 313.5h0M1311.5 310h0M1305 398.5h0M1331 412h0M1285.5 715h0M1339.5 404h0M1352.5 633.5h0M1311.5 757.5h0M1393.5 468.5h0M1281.5 686h0M1362.5 335.5h0M1285.5 561h0M1347.5 660.5h0M1305 748.5h0M1369 317h0M1302 630.5h0M1339.5 463.5h0M1264 467h0M1408 635h0M1328.5 783h0"/>
<path d="M1336.5 685h0M1342 592h0M1329 501.5h0M1321.5 631.5h0M1346.5 527.5h0M1373 559.5h0M1352 565.5h0M1344 441.5h0M1335.5 489.5h0M1369 528.5h0M1354.5 549.5h0M1327.5 513.5h0M1305 606h0M1345.5 469h0M1360 651h0M1334.5 472.5h0M1360 589.5h0M1291.5 692h0M1339 640.5h0M1341.5 695h0M1394 489.5h0M1305 637h0M1356 673h0M1350 421h0M1351.5 642h0M1307.5 653.5h0M1326.5 590h0M1354.5 516h0M1332 603.5h0M1352 495.5h0M1363 740h0M1338.5 536h0M1347 679.5h0M1312 705.5h0M1345.5 668h0M1334 572.5h0M1364.5 453.5h0M1324 670h0M1345.5 652.5h0M1319 551h0M1360 576.5h0M1306 526.5h0M1284.5 512h0M1299.5 588.5h0M1368.5 464.5h0M1329 647.5h0M1317 499.5h0M1358.5 685h0M1338 551.5h0M1385.5 613.5h0M1311 619h0M1377 622h0M1355 601h0M1339 414h0M1383.5 575h0M1371 602.5h0M1371.5 500.5h0M1339 452.5h0M1370.5 444h0M1341 428h0M1326.5 451h0M1356 477h0M1323.5 704h0M1367 542.5h0M1342.5 506h0M1315.5 591.5h0M1319.5 574.5h0M1352.5 710h0M1344.5 579h0M1319 658.5h0M1367.5 616h0M1390 451.5h0M1371 405h0M1367 630.5h0M1323 488h0M1284.5 588h0M1318 715.5h0M1347.5 613.5h0M1353.5 536.5h0M1281 561h0M1323.5 465h0M1320.5 526h0M1305 461h0M1384.5 509.5h0M1334 750h0M1368 511h0M1298.5 371h0M1331.5 626.5h0M1316.5 646.5h0M1323 438h0M1324 745h0M1334 401h0M1375.5 485.5h0M1376.5 646h0M1393 440.5h0M1312 420.5h0M1394 606.5h0M1382 521.5h0M1307.5 557h0M1350 410h0M1368.5 420.5h0M1305 472.5h0M1388 476h0M1344.5 625h0M1315 450h0M1357 621h0M1324 539.5h0M1336.5 370h0M1384 397h0M1318 380.5h0M1317 735.5h0M1339 785.5h0M1305 570.5h0M1371 679.5h0M1332.5 720.5h0M1321.5 683.5h0M1386 691.5h0M1353.5 330.5h0M1400 670.5h0M1345 391h0M1295.5 508.5h0M1337.5 347.5h0M1390 595.5h0M1353 698.5h0M1316 607.5h0M1309.5 767h0M1388.5 629h0M1347 363.5h0M1301 493h0M1311.5 515.5h0M1329 561h0M1335 522h0M1381 440h0M1388.5 656.5h0M1381.5 539.5h0M1370.5 655.5h0M1353 452h0M1285 542.5h0M1266 635h0M1355 373.5h0M1267.5 504.5h0M1307.5 676.5h0M1281 413.5h0M1382.5 495.5h0M1375 586.5h0M1372.5 573.5h0M1309.5 318.5h0M1338.5 329.5h0M1306.5 382h0M1331 658.5h0M1322 395.5h0M1398 500.5h0M1328.5 693h0M1360.5 728h0M1283.5 500.5h0M1310.5 399.5h0M1382.5 423h0M1360 662.5h0M1387 640h0M1285 449h0M1357 393.5h0M1387.5 372.5h0M1280.5 530.5h0M1357.5 438.5h0M1285.5 461h0M1391 533h0M1376 726.5h0M1289.5 627h0M1393 565h0M1395 417h0M1353 308h0M1395 514h0M1313.5 481h0M1300 393h0M1309 581h0M1290 638.5h0M1341.5 712h0M1385 557h0M1351.5 738h0M1312 354h0M1327 422h0M1305 665h0M1277 621h0M1368 378.5h0M1357 346.5h0M1386 705.5h0M1291.5 667h0M1358.5 762h0M1363.5 710.5h0M1323 359h0M1388.5 724.5h0M1362.5 356.5h0M1303 538.5h0M1323.5 409.5h0M1381 463.5h0M1316.5 757h0M1340.5 380.5h0M1309.5 690h0M1373 336.5h0M1285.5 605h0M1325 614.5h0M1373.5 759.5h0M1380 354h0M1394 548.5h0M1307 441h0M1264 417h0M1296.5 559h0M1321.5 345.5h0M1347.5 484h0M1327.5 731.5h0M1351.5 774.5h0M1305.5 729h0M1376 698.5h0M1299 432h0M1258 486h0M1361 801.5h0M1277 636h0"/>
<path d="M1340 583.5h0M1340.5 535h0M1333 685h0M1346 593.5h0M1351 550h0M1362.5 586h0M1334.5 465h0M1328.5 638.5h0M1331.5 507h0M1346.5 634h0M1319 515.5h0M1365 550h0M1364 531.5h0M1352 651h0M1325.5 474.5h0M1321 593h0M1316 704.5h0M1331 562.5h0M1323.5 546h0M1345.5 416h0M1340 696.5h0M1345 449h0M1342 497h0M1321.5 674.5h0M1352 572.5h0M1330.5 627.5h0M1340.5 653h0M1368.5 474.5h0M1374.5 525.5h0M1347.5 663h0M1371.5 451.5h0M1362.5 510.5h0M1310.5 523h0M1333.5 487.5h0M1351 518h0M1356 606h0M1297.5 655.5h0M1364.5 564.5h0M1334.5 519h0M1314 653.5h0M1310.5 613.5h0M1314.5 633.5h0M1311.5 545h0M1374.5 596.5h0M1359.5 641h0M1330 449h0M1318 500.5h0M1368 611.5h0M1335.5 431h0M1373 639h0M1387 456h0M1385 617h0M1327.5 612h0M1361.5 683.5h0M1368.5 500.5h0M1352.5 690.5h0M1358.5 488.5h0M1305.5 600.5h0M1373 440h0M1311.5 559h0M1316 579h0M1289.5 595.5h0M1332.5 597.5h0M1367.5 738.5h0M1347.5 674.5h0M1363 629.5h0M1317.5 444h0M1351 468h0M1320.5 461.5h0M1373.5 574h0M1295.5 691.5h0M1353 532.5h0M1325 532.5h0M1320.5 432h0M1310.5 422.5h0M1328.5 737.5h0M1346.5 621.5h0M1334 673h0M1352 502.5h0M1387 584.5h0M1361 448h0M1401 492h0M1304.5 467h0M1301.5 504h0M1340 382.5h0M1351.5 708.5h0M1328 651.5h0M1363 701h0M1367.5 652.5h0M1385.5 487.5h0M1334 417.5h0M1338 553h0M1333 719.5h0M1350.5 439h0M1317 484h0M1374 543.5h0M1345 332h0M1313 378.5h0M1378.5 466h0M1388.5 525h0M1324.5 406h0M1353 389.5h0M1308.5 493h0M1296.5 527h0M1344 346h0M1325 664h0M1351.5 583.5h0M1340.5 785.5h0M1305 581h0M1283 518.5h0M1329 576.5h0M1336.5 366.5h0M1373 664h0M1307 642.5h0M1390.5 651.5h0M1376.5 627h0M1303 480h0M1346 479h0M1374 488h0M1301 553.5h0M1360 669.5h0M1336.5 399.5h0M1358 617.5h0M1314.5 395.5h0M1385 695h0M1342 564.5h0M1393.5 639.5h0M1385.5 571.5h0M1378.5 421.5h0M1288.5 547.5h0M1315.5 763.5h0M1344.5 608.5h0M1370 400.5h0M1331.5 708.5h0M1379 506h0M1328.5 759h0M1308.5 455.5h0M1365 411h0M1360.5 366.5h0M1308 687h0M1355 428.5h0M1374.5 557h0M1297.5 456.5h0M1393 602.5h0M1297 608h0M1366.5 763h0M1307 669.5h0M1356 402.5h0M1376 685.5h0M1389.5 499.5h0M1384.5 433.5h0M1307 533.5h0M1390.5 555.5h0M1306.5 444.5h0M1398.5 666.5h0M1337 747.5h0M1384.5 662.5h0M1288.5 495.5h0M1364 713.5h0M1317.5 604.5h0M1331.5 324h0M1390 471.5h0M1326 697.5h0M1351.5 762h0M1317.5 737.5h0M1288 560h0M1387.5 684h0M1306.5 368h0M1381 402h0M1289.5 664h0"/>
<path d="M1343 532.5h0M1344 585.5h0M1335 694h0M1354.5 556h0M1325 515.5h0M1336 473.5h0M1347.5 648h0M1328.5 633h0M1368 558h0M1322 502.5h0M1334 569h0M1352 542h0M1342 681.5h0M1343.5 460.5h0M1364 531.5h0M1363.5 576h0M1370.5 507h0M1339 497.5h0M1357 602.5h0M1349.5 507.5h0M1337 658h0M1368.5 472h0M1325.5 621.5h0M1342.5 408h0M1354 568.5h0M1346.5 442.5h0M1364 518h0M1305.5 616h0M1348.5 490.5h0M1374 547.5h0M1342 631h0M1307.5 634h0M1328.5 458.5h0M1313.5 554.5h0M1321.5 643.5h0M1341.5 602h0M1334 705.5h0M1309.5 518h0M1349.5 419h0M1329 607h0M1385 606.5h0M1369 633h0M1363.5 587.5h0M1326 593h0M1311 650.5h0M1371 599.5h0M1372 449.5h0M1339.5 515h0M1351.5 470.5h0M1356 665h0M1326 679h0M1336.5 543.5h0M1328.5 553.5h0M1366.5 492.5h0M1384 447h0M1375.5 613h0M1372 647h0M1368.5 439h0M1328 668h0M1356 676h0M1342 555h0M1361.5 617.5h0M1347 617.5h0M1315.5 542h0M1318.5 531h0M1296 596h0M1329 485h0M1380.5 579.5h0M1370.5 740h0M1321.5 574.5h0M1331 441.5h0M1361 644.5h0M1352 705h0M1309 585h0M1308.5 602.5h0M1307.5 414h0M1304.5 426.5h0M1379 494.5h0M1324.5 654.5h0M1344 374.5h0M1334.5 646h0M1331.5 528h0M1352 525.5h0M1382 470h0M1324 469.5h0M1300 475h0M1309.5 574h0M1323 716h0M1290 586h0M1333 747h0M1312.5 671.5h0M1313 699.5h0M1395.5 449.5h0M1339 425h0M1378 523h0M1340.5 347.5h0M1360.5 687.5h0M1380.5 629h0M1318.5 438.5h0M1316 452.5h0M1316.5 480.5h0M1318 403h0M1395.5 491.5h0M1303 527.5h0M1364 729.5h0M1306.5 497h0M1375.5 480.5h0M1369.5 661h0M1389 698h0M1328 430.5h0M1387.5 649.5h0M1302 507.5h0M1290 517h0M1319.5 735h0M1359 396h0M1309.5 768h0M1388 517.5h0M1360.5 482h0M1395 528h0M1357.5 447.5h0M1298.5 575h0M1388 480h0M1354.5 382.5h0M1382.5 431h0M1360 412h0M1353.5 632h0M1331 367.5h0M1394.5 629h0M1301.5 670h0M1354.5 458.5h0M1392 552h0M1337.5 450.5h0M1382 595h0M1359.5 763.5h0M1308 682.5h0M1290.5 701h0M1337.5 391.5h0M1376.5 535h0M1367 712.5h0M1394 659.5h0M1276.5 512h0M1336 758h0M1347.5 718h0M1375 678.5h0M1377.5 418.5h0M1328.5 413.5h0M1309.5 710h0M1391 671.5h0M1296.5 545h0M1362 425h0M1291 685h0M1397.5 598h0M1297.5 563h0"/>
<path d="M1339 534h0M1322 634h0M1336.5 635h0M1354 644.5h0M1371 552.5h0M1342 576h0M1342 450h0M1355.5 543h0M1334 564.5h0M1325.5 513.5h0M1337 684h0M1352.5 527.5h0M1358 507.5h0M1364.5 535.5h0M1359.5 592.5h0M1356 572h0M1341 658.5h0M1358.5 555.5h0M1365 606h0M1341 466.5h0M1305 614h0M1344 547h0M1323 604h0M1344.5 491.5h0M1328 480h0M1317.5 547h0M1306.5 518h0M1369.5 573.5h0M1347.5 593.5h0M1350 682.5h0M1345 507.5h0M1330.5 625.5h0M1335 587.5h0M1349.5 415.5h0M1334.5 501.5h0M1383 609.5h0M1371 447h0M1375.5 472.5h0M1334.5 648h0M1318.5 649h0M1352 462.5h0M1320.5 453h0M1324 593h0M1369.5 641h0M1348.5 625.5h0M1367 465.5h0M1315 502h0M1376.5 595h0M1310 562.5h0M1326 680.5h0M1369.5 523.5h0M1338 605.5h0M1374.5 503.5h0M1305.5 547.5h0M1364 626h0M1318 614h0M1356 489.5h0M1310 531h0M1323 557.5h0M1327 694h0M1326 494h0M1335.5 519.5h0M1380.5 620.5h0M1310.5 631.5h0M1338.5 409.5h0M1352 604h0M1338.5 376.5h0M1319 572.5h0M1325.5 660h0M1311.5 593.5h0M1362 476h0M1350.5 708.5h0M1367.5 653.5h0M1332 545.5h0M1317.5 712h0M1353.5 671h0M1346 564.5h0M1377.5 490.5h0M1352 434h0M1386.5 478.5h0M1328.5 462h0M1313.5 677.5h0M1321.5 527h0M1297.5 579h0M1366 666.5h0M1333.5 436.5h0M1353 655.5h0M1352 445h0M1389.5 699.5h0M1313 475h0M1349 382.5h0M1358.5 692.5h0M1386 454h0M1342.5 425.5h0M1382.5 520h0M1339 339h0M1292.5 502.5h0M1389.5 631h0M1368 585.5h0M1325 724h0M1394 487h0M1384 544h0M1308.5 699.5h0M1348 479.5h0M1336 673h0M1383.5 585h0M1317.5 428.5h0M1315.5 443h0M1331.5 714.5h0M1340.5 353h0M1300.5 649.5h0M1314.5 764h0M1342 699.5h0M1299 595.5h0M1324 403h0M1370.5 410.5h0M1388 646.5h0M1306.5 427.5h0M1378.5 659.5h0M1355 616.5h0M1279.5 517h0M1337 756h0M1379 429.5h0M1316 463.5h0M1339.5 617.5h0M1389.5 508h0M1305.5 686.5h0M1325.5 581.5h0M1377.5 673h0M1377.5 686h0M1312 604.5h0M1390.5 673h0M1323.5 741h0M1351 583h0M1296.5 540.5h0M1394 657.5h0M1289.5 602.5h0M1379 532.5h0M1362.5 744.5h0"/>
<path d="M1343 535h0M1341.5 640h0M1339.5 575h0M1325.5 642h0M1350 551h0M1359 579.5h0M1351 502h0M1333.5 511.5h0M1321.5 518.5h0M1334 457.5h0M1328.5 567h0M1342 655h0M1352.5 518h0M1365 589h0M1346.5 453.5h0M1362 538h0M1326.5 599h0M1355 604.5h0M1307.5 527h0M1346.5 592.5h0M1347.5 465.5h0M1330.5 625.5h0M1348.5 487.5h0M1341 676.5h0M1352.5 570.5h0M1315.5 626h0M1337.5 560h0M1349 423h0M1312.5 550.5h0M1321.5 460h0M1371 565h0M1338.5 493.5h0M1324 502h0M1330 473h0M1310.5 611.5h0M1389.5 614h0M1341 603h0M1333.5 588h0M1376 617h0M1351.5 632h0M1362.5 647.5h0M1314 644.5h0M1330.5 609.5h0M1340.5 616h0M1323 539.5h0M1374.5 649h0M1353 674h0M1359.5 561.5h0M1337 547h0M1364.5 510h0M1366 634.5h0M1375 501.5h0M1324.5 550.5h0M1372.5 526.5h0M1322.5 659h0M1380 604h0M1355 619.5h0M1366 447h0M1352.5 409.5h0M1313 499h0M1331 484.5h0M1340.5 442.5h0M1340 693h0M1363.5 472h0M1328.5 683h0M1374.5 463.5h0M1307 636h0M1377 554h0M1307.5 515.5h0M1352.5 477h0M1354 689h0M1315.5 562.5h0M1314.5 573.5h0M1334 528.5h0M1319 486.5h0M1337.5 414.5h0M1380.5 478.5h0M1322 701h0M1373 538h0M1329.5 667.5h0M1353.5 654h0M1319.5 585h0M1371 666h0M1392 456h0M1304 598h0M1346.5 343.5h0M1349 713.5h0M1376.5 585.5h0M1368 600h0M1360 712h0M1300.5 571h0M1335 431h0M1350.5 701.5h0M1324.5 733.5h0M1308.5 585h0M1341 378h0M1312 670.5h0M1365.5 549h0M1316 473h0M1326 444.5h0M1307.5 654h0M1359.5 492h0M1321 424.5h0M1305 423h0M1384 655.5h0M1384.5 577.5h0M1402.5 493h0M1386 529.5h0M1387.5 636h0M1356 439h0M1284.5 519h0M1301.5 498h0M1315.5 715h0M1326 396.5h0M1316.5 406h0M1345.5 665.5h0M1298 508.5h0M1313.5 693h0M1352 391h0M1294 591h0M1367 677h0M1303.5 620h0M1368.5 482h0M1335 711.5h0M1381 512h0M1335 361.5h0M1315.5 601.5h0M1366 689.5h0M1295 547h0"/>
<path d="M1338 525.5h0M1334 575h0M1340 584.5h0M1331 635h0M1347.5 550h0M1347 534.5h0M1355.5 512h0M1336.5 453h0M1332 562h0M1340 660h0M1344 641.5h0M1332 512.5h0M1361.5 501h0M1360 530.5h0M1361 588h0M1351 572.5h0M1301.5 521h0M1346 490h0M1347.5 599.5h0M1339 627h0M1362.5 569h0M1330.5 606h0M1325 452.5h0M1357.5 609h0M1314 519h0M1314.5 557.5h0M1329 620.5h0M1339.5 466h0M1360 553h0M1366 617h0M1313.5 503.5h0M1341 683.5h0M1321 539h0M1344.5 513.5h0M1312.5 642h0M1377 617.5h0M1361 542h0M1375.5 636.5h0M1314.5 619.5h0M1356 680h0M1326 489.5h0M1305.5 604.5h0M1356 472h0M1356.5 636h0M1375 496h0M1347.5 419h0M1333 480.5h0M1334.5 536.5h0M1316 658.5h0M1377 463.5h0M1318.5 598h0M1328.5 547.5h0M1352 650.5h0M1346.5 669h0M1373 599.5h0M1377.5 548.5h0M1355 622h0M1318 572.5h0M1339 502.5h0M1347.5 443.5h0M1369.5 476.5h0M1379 528h0M1334 417.5h0M1306 567.5h0M1343 614h0M1331 676.5h0M1341.5 432h0M1365.5 646.5h0M1311.5 531.5h0M1325 585h0M1311 545h0M1316 460.5h0M1337 595.5h0M1364 456h0M1374 586h0M1361.5 659h0M1328.5 654.5h0M1375 441h0M1374.5 510h0M1349 457.5h0M1300.5 615h0M1355.5 705h0M1394.5 454h0M1328.5 470h0M1300.5 508h0M1336 695.5h0M1321 711h0M1390 610h0M1366.5 676h0M1328.5 430h0M1346.5 478h0M1359 444.5h0M1362.5 694h0M1367.5 628h0M1358 483.5h0M1299.5 639h0M1347.5 696h0M1371.5 536.5h0M1317.5 432h0M1283 518.5h0M1307 588.5h0M1339.5 379h0M1315 483h0M1346.5 389.5h0M1325.5 692h0M1313.5 674.5h0M1300.5 577.5h0M1312.5 700h0M1377 574h0M1392.5 632h0M1384 594h0"/>
<path d="M1340.5 581h0M1343.5 570h0M1354 552.5h0M1331.5 565h0M1334 459h0M1361 502h0M1334 642h0M1348.5 523.5h0M1353 585h0M1356.5 569h0M1350 512h0M1349 648h0M1333.5 519h0M1341 596.5h0M1341 499h0M1329 605.5h0M1317.5 510h0M1339 539h0M1334.5 629.5h0M1370 534h0M1338.5 656.5h0M1366 581h0M1356.5 595.5h0M1337 484h0M1305 525.5h0M1340.5 473h0M1362.5 519.5h0M1325 620h0M1314.5 553h0M1339.5 556.5h0M1369.5 616h0M1370.5 629h0M1371.5 497.5h0M1344 446.5h0M1382 609.5h0M1355.5 534h0M1351 491.5h0M1372.5 565h0M1347.5 460h0M1348.5 688h0M1335.5 674.5h0M1330 499.5h0M1316.5 596h0M1351.5 672.5h0M1329 581.5h0M1321 634.5h0M1317.5 653h0M1349 606.5h0M1326.5 547h0M1309.5 631.5h0M1348 625h0M1352 413.5h0M1364 546h0M1321 482h0M1309.5 645h0M1370.5 592.5h0M1317 535.5h0M1320 574.5h0M1360.5 639h0M1360.5 476h0M1378 545.5h0M1375.5 472.5h0M1373 459.5h0M1328.5 684h0M1386 623h0M1309 569.5h0M1306 500.5h0M1328 529.5h0M1344.5 435h0M1319.5 463.5h0M1327.5 663.5h0M1374.5 520h0M1378.5 640h0M1316 607.5h0M1336.5 693.5h0M1364.5 649.5h0M1374 445h0M1319 521.5h0M1356.5 661h0M1334 428h0M1317.5 496.5h0M1351.5 426.5h0M1360 624h0M1324 446.5h0M1352 700.5h0M1336.5 414.5h0M1359.5 452h0M1328.5 703h0M1298 514h0M1302 601.5h0M1382 502h0M1368.5 664h0M1378 576.5h0M1305 693h0M1306 676.5h0M1338.5 371.5h0M1321 426h0M1284.5 525.5h0M1349 385.5h0M1371 678h0M1311 473h0M1361 606h0"/>
<path d="M1340.5 585.5h0M1332.5 463h0M1337 564h0M1353.5 504.5h0M1353.5 517h0M1354.5 544.5h0M1345 555h0M1344.5 573.5h0M1330.5 578h0M1335 633h0M1360.5 585.5h0M1363 561.5h0M1338.5 510.5h0M1314 519.5h0M1355 595.5h0M1353.5 532h0M1333 595.5h0M1326 454h0M1325 565h0M1332.5 652.5h0M1338.5 451h0M1324 632h0M1325 515h0M1343.5 470h0M1370 617h0M1348 653.5h0M1369 574h0M1332 608h0M1321 611h0M1323.5 548.5h0M1340.5 490.5h0M1340.5 542.5h0M1370 540.5h0M1330 536.5h0M1322.5 500.5h0M1335.5 682h0M1350.5 667h0M1367 635h0M1319 648.5h0M1311 603h0M1364 521.5h0M1356.5 573h0M1339.5 665h0M1343 623h0M1377 501h0M1347.5 604.5h0M1310 628h0M1378 549h0M1305 530.5h0M1318 583h0M1313 556.5h0M1349 686h0M1355 469h0M1360.5 610h0M1340.5 523.5h0M1358 645.5h0M1346.5 415h0M1317 483.5h0M1309.5 502h0M1311.5 572.5h0M1361 481.5h0M1376.5 478h0M1371.5 600h0M1318 530h0M1351 633h0M1320 595h0M1375.5 464h0M1321.5 468.5h0M1330.5 479h0M1370.5 437h0M1330.5 702.5h0M1304.5 644.5h0M1313.5 455.5h0M1340 437h0M1357.5 492.5h0M1366.5 449h0M1356.5 420h0M1342.5 696.5h0M1389.5 610.5h0M1350.5 442.5h0M1321.5 437.5h0M1371.5 651.5h0M1319 707.5h0M1326 667h0M1372 586.5h0M1366.5 665.5h0M1318.5 680h0M1375 516.5h0M1350 705.5h0M1347.5 426.5h0M1383.5 623.5h0M1310.5 671h0M1376 671.5h0M1350 455.5h0"/>
<path d="M1344 577.5h0M1340.5 591h0M1349.5 514.5h0M1355 494h0M1358 526h0M1347.5 553h0M1339.5 639.5h0M1360 507h0M1332 556.5h0M1348.5 540.5h0M1361 563h0M1332 517.5h0M1337 566.5h0M1331.5 577h0M1329 643h0M1324.5 625.5h0M1355.5 591h0M1343.5 456h0M1337 610.5h0M1335.5 471.5h0M1331 655.5h0M1338 547h0M1332.5 600h0M1365.5 581.5h0M1362 613h0M1333 533h0M1350 643h0M1331 453.5h0M1345 653.5h0M1316.5 509.5h0M1352 469.5h0M1305.5 524h0M1344.5 629h0M1372.5 609.5h0M1314.5 546.5h0M1317.5 603h0M1337.5 442.5h0M1337 485h0M1365 535h0M1328 493h0M1348 601h0M1324.5 613.5h0M1329.5 506.5h0M1325 542.5h0M1315 531h0M1317 587h0M1372.5 556.5h0M1374.5 633h0M1362 646.5h0M1345.5 683h0M1377 504.5h0M1366 472h0M1333.5 676h0M1308.5 563.5h0M1361.5 629h0M1319.5 455.5h0M1350 564.5h0M1320 658h0M1306 623h0M1314.5 643.5h0M1317.5 483h0M1352 410.5h0M1320.5 472h0M1308.5 497.5h0M1362 551.5h0M1331 700h0M1365.5 458h0M1307.5 576h0M1378.5 467.5h0M1362.5 601.5h0M1350 437h0M1309.5 611h0M1319 571h0M1344 528h0M1368.5 515h0M1328.5 431.5h0M1358.5 444h0M1320 443.5h0M1350 425h0M1385.5 610.5h0M1337 411h0M1373.5 492.5h0M1384 551.5h0M1347 696h0M1364.5 673h0M1380.5 595h0M1354.5 664h0"/>
<path d="M1338.5 581.5h0M1337 594.5h0M1350 582.5h0M1334.5 562.5h0M1355 520h0M1347.5 535h0M1339 510h0M1354 561.5h0M1321 626h0M1343 546h0M1366 570.5h0M1343 638.5h0M1330 604.5h0M1357.5 597.5h0M1357 507h0M1343 473h0M1325 636.5h0M1337 658h0M1355 544.5h0M1349.5 498h0M1341 458.5h0M1321 554.5h0M1326.5 507.5h0M1362 534h0M1376.5 616.5h0M1328.5 455.5h0M1337 494h0M1326.5 518.5h0M1313.5 519h0M1368 586h0M1320.5 658h0M1341.5 626h0M1320.5 538h0M1329.5 468.5h0M1315 615.5h0M1336.5 446.5h0M1352 607.5h0M1355.5 649.5h0M1307.5 552.5h0M1325 584h0M1356.5 474.5h0M1362 623.5h0M1358 636.5h0M1309 502h0M1305.5 529h0M1309 593h0M1331.5 673.5h0M1342.5 678h0M1327 486.5h0M1346 571.5h0M1377.5 554h0M1376.5 605h0M1369.5 525h0M1370 478.5h0M1331.5 550h0M1368 545.5h0M1371.5 631h0M1354.5 461.5h0M1310 636.5h0M1366.5 513h0M1366.5 557h0M1341 606.5h0M1366.5 464h0M1339.5 691h0M1371 448.5h0M1380.5 503.5h0M1305 573h0M1349.5 485.5h0M1316 602h0M1323.5 568h0M1351 410.5h0M1331.5 616.5h0M1381 467.5h0M1332.5 646h0M1392 614.5h0M1375 577h0M1364 496.5h0M1311 482h0M1342 522.5h0M1340.5 432.5h0M1319.5 495h0M1362 612.5h0M1322 705h0M1372 650.5h0M1350 441h0M1355.5 664.5h0"/>
<path d="M1339 591.5h0M1348.5 511.5h0M1349 525h0M1340.5 576.5h0M1337.5 558.5h0M1346 546h0M1358.5 567h0M1325 603.5h0M1320 617h0M1342.5 636h0M1330.5 627h0M1329.5 568h0M1330.5 644h0M1362 511h0M1345.5 462.5h0M1350 497h0M1351.5 589.5h0M1364 577h0M1324.5 505.5h0M1339 655h0M1314.5 515.5h0M1330 488h0M1334 474h0M1361.5 529.5h0M1338.5 533.5h0M1344 451.5h0M1327 534h0M1355 601.5h0M1334 544h0M1371 564.5h0M1315 628.5h0M1323.5 552.5h0M1310.5 554.5h0M1339.5 608.5h0M1333.5 462h0M1310.5 535h0M1355.5 477h0M1336 511h0M1348 619h0M1363 623.5h0M1319 643h0M1320 583.5h0M1356.5 651h0M1332 667h0M1357.5 550.5h0M1302.5 521h0M1330.5 682.5h0M1311 654h0M1378 617.5h0M1345.5 685.5h0M1367.5 470.5h0M1311 594.5h0M1314 494.5h0M1333.5 445.5h0M1347.5 563.5h0M1370 549h0M1322 469h0M1310 572.5h0M1370.5 453.5h0M1354.5 539h0M1366.5 588.5h0M1368 607h0M1364.5 641h0M1322 659h0M1350.5 415.5h0M1322 448.5h0M1364 444.5h0M1376 507.5h0M1304.5 504.5h0M1377.5 496.5h0M1363 497h0M1371 522h0M1343 485h0M1334.5 432.5h0M1377.5 587.5h0"/>
<path d="M1341 596h0M1354 527h0M1332 558.5h0M1344.5 548h0M1353.5 538h0M1337 570.5h0M1349 574.5h0M1356.5 562.5h0M1343 584h0M1328.5 606h0M1344.5 515h0M1331 628h0M1344.5 490h0M1328 511.5h0M1365 536h0M1349.5 466h0M1329.5 465.5h0M1328 499.5h0M1344.5 628h0M1362.5 598.5h0M1338 480.5h0M1345.5 648.5h0M1366 569.5h0M1313 551.5h0M1327 577.5h0M1318 629.5h0M1334 543h0M1322.5 644h0M1361.5 610h0M1311.5 510.5h0M1313 526.5h0M1357 503h0M1367 625.5h0M1330.5 662h0M1354.5 585h0M1361 479.5h0M1316.5 585.5h0M1378.5 559h0M1315 608.5h0M1334.5 679h0M1346.5 683h0M1338.5 442h0M1351.5 601h0M1323 542h0M1361 649h0M1341.5 613h0M1356.5 492h0M1319 654.5h0M1360.5 514h0M1371.5 469.5h0M1359 548h0M1337.5 532.5h0M1308.5 562.5h0M1366 585.5h0M1321.5 565h0M1371 637.5h0M1323 616.5h0M1312.5 493h0M1372 480.5h0M1326 477.5h0M1305 576h0M1355 411.5h0M1353.5 621.5h0M1335 639h0M1379 500.5h0M1323.5 530h0M1352.5 637.5h0M1373 511h0M1376.5 616.5h0M1350.5 452.5h0M1300 531h0M1330.5 592h0M1366 453h0M1307.5 635.5h0"/>
<path d="M1349 592h0M1349 532h0M1338 585.5h0M1341.5 564h0M1355 516.5h0M1364 568h0M1340.5 553h0M1350.5 577h0M1345 487.5h0M1332 604h0M1329.5 631.5h0M1330.5 558h0M1340 515h0M1322 512h0M1328.5 570h0M1368.5 527.5h0M1331.5 506h0M1322 611.5h0M1336 458h0M1363 596.5h0M1354.5 547h0M1308 549h0M1334 621h0M1322.5 549.5h0M1347 628h0M1366.5 615.5h0M1317 652h0M1349 470h0M1305.5 531h0M1353 607h0M1315.5 636h0M1333.5 669.5h0M1343 677.5h0M1328 539.5h0M1349.5 657.5h0M1374 624h0M1332.5 476h0M1348.5 642h0M1324.5 593h0M1316 582h0M1368 474h0M1367.5 547.5h0M1314 562h0M1333 443.5h0M1359.5 496.5h0M1361.5 579h0M1360.5 634.5h0M1333 643h0M1318 497.5h0M1346 446h0M1362.5 647.5h0M1311.5 519.5h0M1319 476.5h0M1374.5 501h0M1331 528.5h0M1380 551.5h0M1324.5 456h0M1383 508h0M1317.5 532.5h0M1356 483.5h0M1374 589.5h0M1334.5 685.5h0M1370.5 514h0"/>
<path d="M1347 595.5h0M1333.5 579.5h0M1353.5 532.5h0M1363 563.5h0M1347 569h0M1350 552h0M1349 584h0M1347.5 519.5h0M1347.5 489.5h0M1330.5 624h0M1332.5 636h0M1322 604h0M1322.5 502h0M1329.5 566h0M1338 543.5h0M1308.5 552h0M1320 620h0M1322.5 554h0M1332 458h0M1334.5 485.5h0M1337 500.5h0M1361 599.5h0M1367.5 528h0M1309.5 526.5h0M1316 511.5h0M1366.5 618.5h0M1335 519.5h0M1353 612.5h0M1321 639h0M1347.5 681.5h0M1338.5 471h0M1359.5 468h0M1339.5 605.5h0M1360 580.5h0M1340 557h0M1317 589.5h0M1348.5 623.5h0M1367.5 479h0M1355 510h0M1353 652.5h0M1311 652.5h0M1337 666.5h0M1330.5 676h0M1308.5 571.5h0M1363.5 501.5h0M1366 551.5h0M1329.5 533.5h0M1329.5 648h0M1309 500.5h0M1335.5 591.5h0M1339 655.5h0M1370 575h0M1334 444h0M1322.5 524.5h0M1345.5 449h0M1359 643h0M1377.5 552.5h0M1322.5 469.5h0M1373 586h0"/>
<path d="M1340 591.5h0M1338 569.5h0M1358.5 566.5h0M1341.5 546h0M1354 524h0M1348 534.5h0M1351 491.5h0M1350.5 509h0M1355.5 580.5h0M1323 607h0M1325.5 622.5h0M1354.5 595.5h0M1318.5 510h0M1328.5 496.5h0M1339.5 485h0M1338 517.5h0M1321.5 555.5h0M1333.5 556.5h0M1371 566.5h0M1370.5 529.5h0M1355 547.5h0M1345.5 602h0M1340.5 621.5h0M1328 540h0M1360.5 618.5h0M1354 609h0M1345 475h0M1344.5 558.5h0M1315 618.5h0M1361.5 469.5h0M1334.5 457.5h0M1338.5 642.5h0M1321 646.5h0M1334 475h0M1313.5 634.5h0M1328 583h0M1333 612h0M1366 594h0M1348.5 631h0M1357.5 654.5h0M1310.5 569h0M1325.5 673.5h0M1348.5 687h0M1331 660h0M1337.5 506h0M1310 522h0M1362 539h0M1323.5 593.5h0M1361 503h0M1330.5 528h0M1372 475.5h0M1311 494.5h0M1366 606h0M1359 635h0M1369 550h0M1322.5 471.5h0M1371.5 518h0"/>
<path d="M1337.5 588h0M1337.5 569.5h0M1345 536h0M1358.5 559h0M1337 599h0M1348 573h0M1348.5 593h0M1341.5 552.5h0M1359 530.5h0M1350.5 519h0M1342.5 492h0M1325.5 600h0M1341 511h0M1334.5 626h0M1363 573h0M1329.5 549.5h0M1315 548h0M1322.5 559h0M1323 507h0M1330.5 610.5h0M1337.5 480.5h0M1317 629h0M1329 516.5h0M1350 624h0M1340.5 462h0M1367 615h0M1367.5 471.5h0M1352.5 607.5h0M1329.5 457h0M1319 615.5h0M1369 562.5h0M1350 473h0M1338 644.5h0M1315.5 578.5h0M1364 548h0M1352.5 503.5h0M1324 587.5h0M1355.5 656h0M1329.5 668h0M1307 568h0M1353 487.5h0M1343 677.5h0M1324 649h0M1324 534.5h0M1327 637.5h0M1309 517h0M1368 595h0M1361.5 585.5h0M1311.5 496.5h0"/>
<path d="M1341.5 582.5h0M1333.5 570.5h0M1342 601h0M1363 564h0M1351.5 563.5h0M1346 545h0M1346 531.5h0M1355 523.5h0M1353.5 585.5h0M1354.5 597h0M1322 606h0M1346.5 510.5h0M1350.5 488h0M1311.5 552h0M1329 555h0M1332.5 624h0M1332.5 539.5h0M1317 508h0M1365.5 537h0M1330 510h0M1353 614.5h0M1366 577.5h0M1362.5 621h0M1335.5 483.5h0M1348.5 625h0M1342.5 466.5h0M1318.5 569h0M1319.5 634h0M1329 455h0M1340 559h0M1322 618h0M1354 465h0M1328 643h0M1331.5 661.5h0M1335.5 521h0M1340 634h0M1327 584.5h0M1330.5 597h0M1321.5 655.5h0M1357.5 547.5h0"/>
<path d="M1342.5 573.5h0M1347.5 588h0M1364 568h0M1342 562.5h0M1330.5 574.5h0M1352 529h0M1347.5 551h0M1322.5 604h0M1354 598h0M1345 539h0M1353 566.5h0M1337 584.5h0M1348.5 517h0M1330.5 563.5h0M1362.5 522.5h0M1314.5 553.5h0M1337 547.5h0M1338 603.5h0M1346.5 491.5h0M1319 510.5h0M1335 476.5h0M1323 544.5h0M1345.5 506h0M1352 611h0M1360.5 621h0M1352 629h0M1333 618.5h0M1334 449.5h0M1332 501h0M1309 567.5h0M1354.5 470.5h0M1339 527.5h0M1333 667h0M1336 637h0M1317.5 586h0M1364.5 537.5h0"/>
<path d="M1345 596h0M1344 578.5h0M1355.5 568.5h0M1329 572h0M1349.5 537h0M1343 546.5h0M1355 523.5h0M1367.5 569.5h0M1342 511.5h0M1325.5 609.5h0M1335.5 555h0M1342 489.5h0M1342.5 567h0M1369 529h0M1341 608.5h0M1331.5 586h0M1317 549.5h0M1337.5 475h0M1352 554.5h0M1355 607.5h0M1319.5 562h0M1334 624.5h0M1330.5 457h0M1331 502.5h0M1355 508h0M1356 590.5h0M1324 536.5h0M1346.5 633h0M1313.5 577h0M1319 503h0M1366.5 619.5h0"/>
<path d="M1351.5 572.5h0M1348.5 586h0M1339.5 537h0M1354.5 531.5h0M1333 578.5h0M1339.5 569.5h0M1347 550.5h0M1353.5 600h0M1362 567.5h0M1328 603.5h0M1351 514h0M1341.5 602h0M1330.5 556h0M1337.5 490.5h0M1331 477.5h0M1339.5 467h0M1314 557h0M1333.5 614h0M1334 450.5h0M1342 624h0M1335 507.5h0M1321 572h0M1323.5 535.5h0M1317.5 510.5h0M1349.5 610.5h0M1319.5 546h0M1327 632h0M1356.5 624h0M1339.5 640h0M1330 591h0M1366.5 529h0M1349.5 489h0"/>
<path d="M1355 565.5h0M1347 577h0M1353 594.5h0M1340 586h0M1348 538.5h0M1337.5 547.5h0M1350 524h0M1331 610h0M1330.5 565.5h0M1359 530.5h0M1341 603h0M1326.5 548.5h0M1335 485h0M1340 558.5h0M1355.5 550.5h0M1359.5 518h0M1328.5 501.5h0M1352 628.5h0M1340 623.5h0M1352.5 507h0M1344.5 473h0M1316 569.5h0M1331.5 578h0M1338 634.5h0M1335 459h0"/>
<path d="M1344 578h0M1357.5 567.5h0M1349.5 539h0M1339 546h0M1352.5 600.5h0M1349 517.5h0M1338 595h0M1331 563.5h0M1324 551h0M1338.5 479.5h0M1343.5 612h0M1348.5 558.5h0M1354 527.5h0M1322 611.5h0M1340.5 493h0M1344.5 506.5h0M1353.5 587.5h0M1350.5 630.5h0M1339 535h0M1338.5 631h0"/>
<path d="M1350 573.5h0M1350 586h0M1338 585h0M1349.5 532.5h0M1361 563.5h0M1355.5 518.5h0M1353.5 602h0M1333.5 603.5h0M1333.5 573.5h0M1344 516h0M1339.5 545.5h0M1333 555.5h0M1337 487h0M1321 564h0M1354 552.5h0"/>
<path d="M1350 580.5h0M1343.5 569h0M1359 570h0M1350.5 528.5h0M1349.5 540.5h0M1349 593.5h0M1335.5 580h0M1347 518h0M1330.5 562h0M1345 606.5h0M1323.5 552.5h0M1343 550h0M1336 593.5h0M1331 543h0M1330.5 614h0"/>
<path d="M1341 574.5h0M1354.5 534.5h0M1348.5 517h0M1344 538.5h0M1359 571.5h0M1349 564.5h0M1348 550h0M1344 598.5h0M1331.5 567h0M1349.5 583.5h0M1332.5 555.5h0M1356.5 597.5h0M1330.5 613.5h0M1333.5 593h0"/>
<path d="M1346.5 576.5h0M1347.5 538h0M1356.5 520.5h0M1344.5 522h0M1327.5 569h0M1340 556.5h0M1329 554h0M1364.5 566.5h0M1341.5 603h0M1327.5 610.5h0"/>
<path d="M1343.5 572.5h0M1353 541h0M1341 584h0M1347.5 522h0M1341 538h0M1333 553h0M1365.5 565h0M1345 553h0M1358.5 573.5h0"/>
<path d="M1351.5 572h0M1337.5 580h0M1350 540h0M1348.5 516h0M1339.5 536h0M1332 562h0M1338.5 549.5h0M1354.5 528.5h0M1357 560h0"/>
<path d="M1344.5 575.5h0M1347.5 532.5h0M1349 514.5h0M1358 521.5h0M1336.5 557h0M1357.5 570.5h0"/>
<path d="M1353 539.5h0M1342.5 577.5h0M1351.5 520.5h0M1342.5 534.5h0M1346.5 560.5h0"/>
<path d="M1355 532.5h0M1337 577.5h0M1349.5 542.5h0M1343 518.5h0M1350 568h0"/>
<path d="M1355.5 534.5h0M1338 569.5h0M1347 511.5h0M1344.5 540.5h0"/>
<path d="M1353 534.5h0"/>
</g>
<g stroke="#1818ff" stroke-opacity="0.035">
<path d="M1276 529h0M1246 568h0M1272 545h0M1187 658.5h0M1261.5 385.5h0M1268 581h0M1246.5 510h0M1245.5 592h0M1234 560.5h0M1208 585h0M1180 701h0M1221 726.5h0M1291.5 597h0M1103.5 800h0M1246 724.5h0M1166 688h0M1247.5 631h0M1256.5 684h0M1281 674h0M1282.5 508h0M1251.5 710.5h0M1215 667.5h0M1192 701h0M1220 610h0M1282.5 618h0M1238.5 653.5h0M1264.5 520h0M1259 651h0M1233 686h0M1221 625h0M1163 785h0M1204 537.5h0M1231 543.5h0M1292 495.5h0M1205 565.5h0M1236.5 581.5h0M1150.5 777.5h0M1177.5 648h0M1268 444h0M1273 480h0M1210 651h0M1199.5 758h0M1092 760.5h0M1162 763.5h0M1289 576h0M1209.5 599.5h0M1163.5 601.5h0M1181.5 556.5h0M1232 593.5h0M1256.5 614h0M1208 624h0M1177.5 686.5h0M1242 679.5h0M1139 730h0M1220.5 743h0M1265 668.5h0M1265.5 561h0M1292.5 538.5h0M1281.5 406.5h0M1224.5 584.5h0M1279 553.5h0M1169.5 741.5h0M1275 601h0M1167 753.5h0M1201.5 609h0M1247 642h0M1236 516h0M1197 594.5h0M1151 699h0M1256.5 531.5h0M1254.5 603h0M1242 667h0M1169.5 718.5h0M1185 782.5h0M1290 481h0M1264 459h0M1149.5 669.5h0M1203.5 741.5h0M1183 723h0M1300 587h0M1177 763h0M1148.5 744h0M1218 680h0M1295.5 445h0M1214 516h0M1258.5 507h0M1242 548.5h0M1246 619h0M1278 572.5h0M1181.5 609h0M1247 476h0M1208.5 782h0M1224 458h0M1185 673.5h0M1191 743h0M1275.5 653h0M1107.5 770.5h0M1204.5 697.5h0M1281 450h0M1279 423h0M1219 500.5h0M1210 799.5h0M1193.5 635.5h0M1295.5 422h0M1130 638h0M1288.5 373h0M1140 792.5h0M1299 661.5h0M1238.5 707.5h0M1253.5 579h0M1221 639h0M1303 504.5h0M1206.5 478.5h0M1121 721.5h0M1270 399.5h0M1272.5 689.5h0M1266 624h0M1137.5 683.5h0M1316 445.5h0M1234.5 487.5h0M1132.5 714.5h0M1258 590.5h0M1264 495h0M1229 716h0M1226 651h0M1299 400h0M1210.5 549.5h0M1210 717.5h0M1275.5 741h0M1322 341h0M1201.5 683h0M1246.5 424.5h0M1213.5 759.5h0M1164.5 650h0M1292.5 349.5h0M1165.5 666h0M1198 671.5h0M1249 489h0M1292.5 521.5h0M1120.5 758h0M1155.5 710.5h0M1253.5 443.5h0M1276 466.5h0M1188.5 619h0M1201.5 517.5h0M1110 686.5h0M1249 658h0M1229.5 675h0M1226.5 532.5h0M1089 777.5h0M1221.5 705h0M1122 746h0M1293.5 558h0M1166.5 631.5h0M1149.5 799h0M1256 401h0M1239 467.5h0M1196 769.5h0M1237.5 739.5h0M1224.5 780h0M1176 501.5h0M1288 649.5h0M1193.5 714h0M1077.5 746.5h0M1232 626.5h0M1239 609h0M1126.5 734.5h0M1197 797.5h0M1142 707.5h0M1213 529.5h0M1278.5 633h0M1286.5 312.5h0M1237 788.5h0M1290.5 467.5h0M1079.5 771h0M1314.5 413h0M1260 470.5h0M1287 696h0M1185.5 799.5h0M1202.5 642.5h0M1260.5 418.5h0M1240.5 536h0M1228 570.5h0M1294.5 612h0M1305.5 381h0M1266 636h0M1257.5 547h0M1233 755.5h0M1280 709h0M1303.5 526h0M1303 486.5h0M1277 590h0M1097.5 674h0M1145 656.5h0M1134.5 760.5h0M1240.5 436.5h0M1156.5 722h0M1277.5 494.5h0M1253.5 733.5h0M1261 695h0M1242.5 693.5h0M1250 456h0M1173 622.5h0M1158 551h0M1134 772.5h0M1230.5 393h0M1274 721.5h0M1197.5 731.5h0M1303.5 470.5h0M1306.5 555.5h0M1298 456h0M1129 673.5h0M1268 750.5h0M1103.5 755h0M1191.5 688.5h0M1132.5 701.5h0M1270.5 413.5h0M1108 667h0M1217 467h0M1271.5 511.5h0M1307 539.5h0M1303.5 319.5h0M1180 587.5h0M1157 611h0M1261.5 482.5h0M1222 803.5h0M1234.5 413.5h0M1209 729.5h0M1226 694.5h0M1227.5 662.5h0M1280.5 436.5h0M1078 698.5h0M1315 509.5h0M1256 745h0M1147 764h0M1170.5 676h0M1185 494.5h0M1316.5 471.5h0M1186.5 755h0M1319.5 457h0M1279.5 380h0M1079.5 803h0M1252 673h0M1195.5 583.5h0M1272.5 775.5h0M1120.5 644.5h0M1249 522.5h0M1303.5 675h0M1166.5 801h0M1137 607.5h0M1283.5 393h0M1088.5 688.5h0M1295 686.5h0M1262.5 710.5h0M1154.5 641.5h0M1261.5 782.5h0M1217.5 563h0M1110.5 618.5h0M1177.5 636h0M1178 572h0M1318.5 649h0M1231 503.5h0M1175.5 776.5h0M1168 729.5h0M1158 562.5h0M1108.5 714h0M1294 637h0M1209.5 770.5h0M1177 479h0M1101 727h0M1188 543.5h0M1267.5 762.5h0M1102.5 697.5h0M1183 521.5h0M1249 758.5h0M1252 557.5h0M1130 576h0M1255.5 801.5h0M1242 767h0M1225 475.5h0M1294 386h0M1283.5 661h0M1228.5 443.5h0M1208.5 430.5h0M1138.5 629h0M1119 769h0M1216 489h0M1279.5 340.5h0"/>
<path d="M1269.5 534.5h0M1216.5 721.5h0M1197.5 656h0M1251.5 575h0M1217.5 587h0M1258.5 717h0M1262 549.5h0M1181.5 697h0M1262 686.5h0M1265.5 579.5h0M1233 657h0M1265 433.5h0M1235 568.5h0M1294.5 596.5h0M1275 613h0M1265.5 668h0M1233.5 536h0M1224 629.5h0M1228.5 596.5h0M1165 732h0M1209.5 659h0M1205 599.5h0M1246.5 637.5h0M1288 532.5h0M1284.5 569.5h0M1249 560h0M1179.5 740.5h0M1243 521h0M1287 584.5h0M1270.5 559.5h0M1259.5 608.5h0M1280.5 520.5h0M1258 514.5h0M1244.5 592.5h0M1215.5 614h0M1281 543.5h0M1295.5 486h0M1164.5 709.5h0M1185 667h0M1197 767h0M1296 548h0M1214.5 681.5h0M1268.5 523h0M1163 778.5h0M1180 647h0M1204 530.5h0M1252 650.5h0M1190.5 602.5h0M1200 623h0M1239 679h0M1283.5 509.5h0M1288.5 448h0M1241.5 609h0M1206.5 760h0M1239.5 622.5h0M1265 467h0M1175.5 766h0M1263 596.5h0M1288 498h0M1171 612h0M1221 739h0M1283.5 599h0M1273 570.5h0M1298.5 573.5h0M1171 752.5h0M1200 743.5h0M1243 725h0M1148.5 743h0M1201 705h0M1261 502h0M1241.5 705.5h0M1190.5 718.5h0M1284 654.5h0M1217.5 640.5h0M1253.5 676.5h0M1285.5 424.5h0M1275.5 475.5h0M1172.5 678.5h0M1190 734.5h0M1279.5 694.5h0M1081.5 760h0M1235 512.5h0M1166.5 690.5h0M1246.5 544h0M1144 772h0M1145 685h0M1189 627.5h0M1276 628h0M1129 638h0M1282 487h0M1176.5 722.5h0M1203 689h0M1242.5 489h0M1267.5 448h0M1228.5 556.5h0M1206 670.5h0M1216 542h0M1134 737h0M1251.5 479h0M1184.5 684h0M1141 725.5h0M1265.5 490h0M1273 502.5h0M1184.5 757.5h0M1279.5 643h0M1212.5 476h0M1277 462h0M1213.5 695.5h0M1142 791h0M1191.5 646h0M1229.5 690h0M1231 580h0M1303 500h0M1243.5 467h0M1267 399.5h0M1261 627.5h0M1282.5 673.5h0M1210.5 557h0M1198 590.5h0M1272.5 588h0M1298.5 427h0M1184 784.5h0M1234 636.5h0M1274 410h0M1158.5 761.5h0M1223.5 491h0M1253 701h0M1297.5 520h0M1201.5 472h0M1150 718h0M1227.5 725.5h0M1272 735.5h0M1264.5 418.5h0M1229 706h0M1132 677h0M1258.5 457.5h0M1170.5 663.5h0M1303 346.5h0M1249.5 440h0M1182.5 797h0M1245.5 502.5h0M1229.5 749.5h0M1176.5 557.5h0M1226.5 617h0M1140 703.5h0M1154 697h0M1310.5 480.5h0M1287 471h0M1286.5 555h0M1253.5 528.5h0M1268.5 643h0M1291.5 616h0M1220 663.5h0M1172.5 634h0M1200 790h0M1180 506.5h0M1205 581h0M1299.5 389.5h0M1315 442.5h0M1213.5 500.5h0M1295.5 650.5h0M1238 787h0M1294.5 701h0M1291.5 345.5h0M1217.5 512h0M1205.5 633.5h0M1302 533h0M1247 736h0M1157.5 603.5h0M1165 646.5h0M1211.5 792h0M1221 776.5h0M1242 430.5h0M1292 369h0M1274 684h0M1251.5 665.5h0M1112.5 689h0M1299 470.5h0M1216 750h0M1296.5 413.5h0M1285.5 403.5h0M1260 389h0M1179 711.5h0M1296 457h0M1152.5 731.5h0M1168.5 792.5h0M1284 355.5h0M1195.5 754h0M1187.5 584h0M1201.5 777.5h0M1179 622.5h0M1311 513.5h0M1217.5 708.5h0M1247.5 455h0M1205.5 645.5h0M1263 377h0M1124.5 724h0M1289.5 322.5h0M1241 391.5h0M1303.5 402h0M1284.5 391.5h0M1208 735h0M1193 696h0M1288 634.5h0M1151 667.5h0M1084.5 704h0M1188 491.5h0M1168 597h0M1266.5 699.5h0M1318 457.5h0M1239.5 666h0M1159.5 748.5h0M1204 568.5h0M1085.5 773h0M1121.5 751h0M1251 619.5h0M1267 725.5h0M1086.5 801h0M1115 778h0M1105 733.5h0M1235.5 411.5h0M1185.5 570.5h0M1260.5 740h0M1267 654h0M1302 633.5h0M1200.5 543h0M1132 663.5h0M1250.5 794.5h0M1224.5 798h0M1175 588.5h0M1241 755.5h0M1244 690h0M1108 761.5h0M1111.5 799h0M1095 754h0M1252 409h0M1300 440h0M1097 718h0M1150.5 649h0M1130.5 781.5h0M1254 751h0"/>
<path d="M1274 534.5h0M1187 654h0M1218.5 719.5h0M1259 708.5h0M1201.5 656h0M1258.5 584h0M1264 659h0M1228 601h0M1270.5 572.5h0M1219 658h0M1257 667.5h0M1259 557h0M1245 642.5h0M1247.5 574h0M1295.5 605.5h0M1291 586.5h0M1228.5 628h0M1261.5 536h0M1278 619.5h0M1269 609.5h0M1275.5 551h0M1279.5 520h0M1239 653h0M1242.5 598.5h0M1233 545.5h0M1240.5 565.5h0M1177 734.5h0M1292.5 492.5h0M1178.5 638.5h0M1226 616h0M1189 745.5h0M1207.5 627h0M1217 605h0M1154.5 707h0M1256.5 639.5h0M1256.5 601h0M1259.5 685h0M1280 583h0M1273.5 593.5h0M1177 661.5h0M1162.5 753h0M1182.5 701.5h0M1261 465.5h0M1289.5 506.5h0M1286 598.5h0M1234.5 518h0M1204.5 603.5h0M1150 747.5h0M1178.5 773.5h0M1259.5 617.5h0M1237 505.5h0M1194 704.5h0M1247 556h0M1176.5 751.5h0M1154 772h0M1249.5 524h0M1254.5 650.5h0M1161 741.5h0M1214.5 762.5h0M1181 677h0M1265 518h0M1242 714.5h0M1199 534.5h0M1298.5 447.5h0M1234.5 665.5h0M1210.5 644h0M1194 597h0M1196 633h0M1277 426h0M1270 451.5h0M1193 664.5h0M1285.5 455.5h0M1289.5 553h0M1205 676h0M1268.5 692h0M1250 732h0M1290.5 530h0M1176.5 715.5h0M1212.5 692.5h0M1272.5 500.5h0M1246.5 544h0M1245 678h0M1156 692.5h0M1130 631h0M1278.5 479h0M1243 489.5h0M1257 492h0M1187.5 729h0M1283.5 566.5h0M1229.5 675.5h0M1266.5 480h0M1215 593.5h0M1290 476.5h0M1275.5 637h0M1218 682h0M1239 703h0M1280.5 406.5h0M1275.5 468h0M1300.5 428.5h0M1234 686.5h0M1242.5 620h0M1268 628.5h0M1191 718.5h0M1144.5 677h0M1171 691.5h0M1160.5 717h0M1302.5 541h0M1197 754h0M1229 570.5h0M1208.5 705.5h0M1272 561.5h0M1215 495h0M1259 569h0M1176 614h0M1216 733h0M1231.5 581.5h0M1301 484.5h0M1290 660.5h0M1279.5 657h0M1191.5 795.5h0M1201.5 714.5h0M1150 722.5h0M1235 746h0M1209.5 567.5h0M1239.5 529.5h0M1243 471h0M1246.5 586.5h0M1213 545.5h0M1225.5 646.5h0M1257.5 438.5h0M1244.5 790h0M1206 616h0M1165.5 635h0M1314 453h0M1298 618.5h0M1253.5 719h0M1221 789h0M1226 703.5h0M1284 444h0M1270 676h0M1268.5 438h0M1236 729.5h0M1205 785.5h0M1189.5 772h0M1211 515h0M1288 624.5h0M1302 553h0M1211.5 580h0M1255 628.5h0M1262 427h0M1203 798.5h0M1286.5 647h0M1256 507.5h0M1246 694h0M1280 690.5h0M1143 779h0M1228 557h0M1201 584.5h0M1198.5 690.5h0M1260.5 384.5h0M1190 584.5h0M1235 462h0M1215.5 670.5h0M1295 376.5h0M1103 690.5h0M1224.5 756.5h0M1300.5 387.5h0M1199 644h0M1312 478h0M1309.5 441h0M1175.5 551h0M1141.5 735.5h0M1292.5 418h0M1258 697.5h0M1184.5 623h0M1166.5 676.5h0M1300.5 507h0M1212.5 745h0M1135 671h0M1154.5 608.5h0M1288.5 678.5h0M1151.5 790.5h0M1295 691.5h0M1169 785h0M1248.5 445h0M1222 516.5h0M1139 691h0M1206 725h0M1207.5 477.5h0M1299.5 403h0M1222 536.5h0M1284 540h0M1290 343h0M1280.5 384h0M1297 518.5h0M1169.5 797.5h0M1139.5 796h0M1265 724.5h0M1318.5 466.5h0M1193 611h0M1118 741.5h0M1296 564h0M1123.5 773.5h0M1295.5 461h0M1195 564.5h0M1263.5 741h0M1228.5 498.5h0M1125.5 727h0M1152 665h0M1302 578.5h0M1128 749.5h0M1289.5 429.5h0M1104.5 734h0M1182 690h0M1200.5 743.5h0M1180 794h0M1181.5 598.5h0M1287 356.5h0M1192.5 544h0M1170.5 706h0M1257.5 756.5h0M1267.5 411h0M1093.5 798h0"/>
<path d="M1266.5 528h0M1266 579.5h0M1254 710h0M1260.5 558.5h0M1244 644.5h0M1250 563h0M1277 604.5h0M1228 623h0M1281 544.5h0M1280.5 621h0M1249 598h0M1288 589h0M1260 674.5h0M1184.5 741h0M1227.5 601h0M1295.5 489.5h0M1234.5 653.5h0M1180.5 659.5h0M1197 660h0M1207.5 649.5h0M1202.5 630.5h0M1217 610h0M1215 663.5h0M1279 521.5h0M1275 568h0M1250.5 580h0M1236.5 541.5h0M1184.5 701h0M1264 541h0M1289.5 504.5h0M1239 564.5h0M1276.5 587h0M1277.5 509.5h0M1169.5 738.5h0M1280 555.5h0M1258.5 655.5h0M1255.5 693.5h0M1259 616.5h0M1179 686h0M1211.5 727h0M1205.5 616.5h0M1193 596h0M1208 765h0M1178.5 766.5h0M1189 674h0M1192 650h0M1197 699h0M1241 553.5h0M1295 529.5h0M1204.5 604.5h0M1267.5 517h0M1265.5 453h0M1279 463h0M1270.5 470.5h0M1155.5 747h0M1248 682h0M1191 756h0M1286 450.5h0M1175.5 640.5h0M1193 726.5h0M1171 711.5h0M1176.5 675h0M1152.5 781.5h0M1237.5 592h0M1260.5 489.5h0M1272 499.5h0M1296.5 551.5h0M1189.5 714.5h0M1218.5 650.5h0M1282.5 490h0M1239 515h0M1265.5 597.5h0M1241.5 716h0M1269 424h0M1285 476h0M1221 698h0M1296.5 475.5h0M1286 416h0M1156 760.5h0M1226.5 572.5h0M1214 715h0M1247.5 659.5h0M1227.5 720h0M1250 624.5h0M1235.5 697h0M1214.5 630h0M1213.5 689h0M1239 607h0M1284 532.5h0M1280 432.5h0M1257.5 589h0M1199.5 525h0M1266.5 692h0M1271 662.5h0M1276 409.5h0M1268 649h0M1178.5 780h0M1160.5 688.5h0M1240.5 630.5h0M1210 590.5h0M1201 748.5h0M1237 676.5h0M1300.5 428.5h0M1249.5 465h0M1237 496.5h0M1189 785.5h0M1262 630.5h0M1240 480h0M1249 531h0M1278 695.5h0M1190 636h0M1175 726h0M1229.5 685.5h0M1295 602h0M1181 622h0M1282 655.5h0M1275 632h0M1220 538.5h0M1217.5 551h0M1206 705.5h0M1291.5 617h0M1249 498.5h0M1235 526h0M1171.5 756h0M1256.5 734.5h0M1156.5 710.5h0M1242.5 742.5h0M1299.5 591h0M1263.5 721.5h0M1237 578h0M1259 642h0M1291.5 563.5h0M1231.5 641h0M1206 737.5h0M1257.5 508.5h0M1144 725.5h0M1184 800h0M1228.5 505h0M1288.5 575h0M1227.5 707.5h0M1171.5 628.5h0M1211 675h0M1206.5 795.5h0M1215.5 783h0M1227 731.5h0M1295 442h0M1215 515.5h0M1310.5 488.5h0M1144.5 741.5h0M1306 540h0M1261 442.5h0M1236.5 665.5h0M1196 767h0M1254 547.5h0M1221.5 766.5h0M1271 681.5h0M1183 609h0M1216.5 744.5h0M1190 687h0M1301.5 391.5h0M1289 404h0M1272.5 441.5h0M1150 695h0M1105.5 690h0M1162.5 727.5h0M1203 569h0M1179 547.5h0M1187.5 577.5h0M1251 476.5h0M1123.5 772h0M1304.5 520h0M1184 588.5h0M1205.5 543.5h0M1270.5 484h0M1164 785h0M1164.5 771.5h0M1223.5 588.5h0M1279 388h0M1133 794h0M1194 614.5h0M1295 377.5h0M1133 739.5h0M1297.5 462.5h0M1152 611.5h0M1171 698.5h0M1165 797h0M1291.5 541h0M1168 616h0M1240.5 755.5h0M1249.5 518.5h0M1204.5 483.5h0M1153 674.5h0M1244 451.5h0M1301.5 451h0"/>
<path d="M1256.5 707h0M1266 532.5h0M1229 624.5h0M1271 578h0M1282 542.5h0M1277 610h0M1272 620h0M1178.5 738h0M1270.5 521h0M1267.5 563h0M1204 652.5h0M1250 572h0M1228.5 592.5h0M1283 522.5h0M1237 640h0M1252.5 605h0M1291.5 509.5h0M1280.5 511h0M1247.5 653h0M1236 538.5h0M1282 577.5h0M1277 595h0M1295 597h0M1290 495.5h0M1255 683h0M1240.5 661.5h0M1175.5 662h0M1188.5 656.5h0M1256 558h0M1222 606.5h0M1254 539.5h0M1214.5 615h0M1260 616.5h0M1271 544h0M1209.5 603h0M1161.5 740.5h0M1288 562.5h0M1238.5 555h0M1193 705.5h0M1261.5 510.5h0M1275.5 459h0M1207 625h0M1227.5 546h0M1260 664.5h0M1194.5 596h0M1261.5 589h0M1191.5 672h0M1274.5 474h0M1187 727.5h0M1217 655h0M1259.5 491h0M1172 768.5h0M1193.5 745h0M1183 643.5h0M1269.5 500.5h0M1261.5 448.5h0M1182.5 686h0M1240 592.5h0M1233.5 566h0M1221.5 724.5h0M1297.5 533h0M1261.5 648.5h0M1173.5 710h0M1291 482h0M1288.5 453h0M1182 702.5h0M1184 767.5h0M1262 474h0M1161 714.5h0M1214 711.5h0M1201.5 698.5h0M1241 698h0M1159.5 774.5h0M1191 757.5h0M1248 516h0M1171 680h0M1245 632h0M1195 634.5h0M1170 691.5h0M1246.5 675.5h0M1265 602.5h0M1216 681.5h0M1288.5 468h0M1294 545.5h0M1228 693.5h0M1163 755h0M1238.5 710h0M1284 406.5h0M1207.5 641h0M1208.5 690h0M1230 681h0M1242 611.5h0M1212 585h0M1281 426.5h0M1266 637h0M1150 748h0M1269 420.5h0M1304 491.5h0M1180.5 753.5h0M1274 652.5h0M1170 779.5h0M1175.5 622h0M1302.5 479.5h0M1235 522.5h0M1266.5 688h0M1247 490.5h0M1213.5 766.5h0M1223.5 576h0M1226 713h0M1209.5 753.5h0M1252.5 467h0M1283.5 442h0M1274.5 399h0M1296.5 521h0M1244.5 735.5h0M1292.5 425h0M1198.5 780.5h0M1279.5 697.5h0M1287 617h0M1259 628h0M1213 791h0M1220 670h0M1233 604.5h0M1231 651h0M1278.5 487h0M1157 696h0M1279.5 630.5h0M1270 673.5h0M1213.5 742.5h0M1284 647.5h0M1297 584.5h0M1224.5 558.5h0M1194 645.5h0M1184.5 779.5h0M1238 724.5h0M1252.5 641.5h0M1306 423.5h0M1252 439.5h0M1187.5 621h0M1177.5 610.5h0M1217.5 699h0M1236 578h0M1194.5 795h0M1141 735h0M1150.5 708h0M1271 442h0M1210.5 535h0M1213.5 553h0M1169.5 728h0M1211.5 566.5h0M1198 663h0M1245 530h0M1290.5 660.5h0M1234.5 489.5h0M1196 571.5h0M1291 391h0M1264 460h0M1181 589h0M1220 631h0M1241 475.5h0M1179 798h0M1236 506h0M1199.5 717h0M1198 606.5h0M1209.5 523h0M1257 695.5h0M1295 411.5h0M1249 586h0M1277.5 557h0M1133.5 725h0M1146 777.5h0M1249.5 716.5h0"/>
<path d="M1222.5 627.5h0M1276.5 537.5h0M1253 567h0M1235.5 619.5h0M1266 553h0M1175 737h0M1276 515h0M1249 580h0M1272.5 569.5h0M1225.5 590.5h0M1246 651h0M1184 667h0M1262 677.5h0M1276 613h0M1267 592h0M1248 710.5h0M1213 611.5h0M1264.5 540h0M1285.5 551h0M1194 706.5h0M1241 563h0M1245.5 547.5h0M1190.5 654h0M1178.5 656h0M1186.5 600.5h0M1272.5 525.5h0M1194 672.5h0M1259 665h0M1240.5 594.5h0M1209.5 657h0M1261.5 575h0M1237.5 664h0M1276 628.5h0M1183.5 728.5h0M1256.5 597.5h0M1191 587h0M1284 465.5h0M1258 651.5h0M1186 749h0M1251 491h0M1266 474h0M1263.5 617h0M1222 729.5h0M1295 595h0M1202 622.5h0M1241 640h0M1294.5 501h0M1289.5 525.5h0M1242 532h0M1253 609h0M1174 689.5h0M1163 751h0M1283 574.5h0M1283.5 494h0M1231 547.5h0M1258.5 520.5h0M1206.5 711h0M1157.5 773.5h0M1234 692.5h0M1152.5 741.5h0M1297.5 485.5h0M1211 695.5h0M1169.5 715h0M1267 455.5h0M1229 536h0M1241.5 677.5h0M1219.5 684h0M1299 541h0M1248 622h0M1291 453.5h0M1231.5 608h0M1178.5 703h0M1278.5 452h0M1220 662.5h0M1265 493h0M1174.5 766h0M1189.5 638h0M1194 738h0M1244.5 512h0M1277.5 476h0M1177 779.5h0M1254 532h0M1296.5 468h0M1187.5 692h0M1278.5 586h0M1215.5 719.5h0M1259 713h0M1280.5 427.5h0M1255 554.5h0M1252.5 687h0M1287 606.5h0M1233.5 630.5h0M1273.5 655h0M1205 683.5h0M1216 642h0M1208.5 592h0M1265 696h0M1161.5 690.5h0M1177.5 641h0M1184.5 681h0M1200 646h0M1174.5 615h0M1214 673h0M1294 566h0M1278 599.5h0M1234.5 575.5h0M1228.5 645h0M1290.5 408h0M1229.5 711h0M1267 420h0M1195 756h0M1287.5 440.5h0M1247 476.5h0M1251 462.5h0M1223 575.5h0M1283 646.5h0M1264 631h0M1254 738h0M1239 487h0M1241.5 720h0M1268.5 443.5h0M1249 698h0M1281 689h0M1312 485h0M1206.5 746h0M1237 742.5h0M1277.5 666.5h0M1190.5 780.5h0M1209.5 767.5h0M1219.5 601h0M1293.5 513.5h0M1288.5 476.5h0M1210 797h0M1193 718.5h0M1202.5 602h0M1212 540h0M1201.5 789.5h0M1166 676h0M1150.5 698.5h0M1267 643h0M1267.5 506h0M1211 734.5h0M1209.5 566.5h0M1186 769h0M1273 465.5h0M1278 700h0M1213 755.5h0M1155.5 724h0M1208 529.5h0M1296 584h0M1246 501h0M1282 563h0M1222 695h0M1292.5 656h0M1156.5 784.5h0M1229 677.5h0M1217 516.5h0M1239.5 467.5h0M1303.5 523.5h0M1283.5 383h0M1219.5 554h0M1153 758h0M1182.5 623h0M1190.5 802h0M1229.5 562.5h0M1205 550.5h0M1298 421.5h0M1253 635h0M1287 622h0M1198.5 662h0M1230 509.5h0"/>
<path d="M1271 540.5h0M1280 514.5h0M1263 571h0M1177.5 739.5h0M1246 581h0M1244.5 655h0M1275 558.5h0M1250.5 558h0M1183 659.5h0M1202.5 608.5h0M1278 615.5h0M1267.5 512.5h0M1270 602.5h0M1266.5 670.5h0M1241 567.5h0M1186 601.5h0M1276 573.5h0M1166 738.5h0M1254.5 707h0M1279.5 530.5h0M1289.5 544.5h0M1261.5 654.5h0M1251 669h0M1230.5 627h0M1259 593h0M1191.5 650h0M1197 704h0M1237 556h0M1244 592.5h0M1284 460h0M1175 671.5h0M1177.5 696h0M1269 463.5h0M1180.5 684.5h0M1201 627.5h0M1242 644h0M1216 660h0M1292 580h0M1275 584.5h0M1189 726.5h0M1235 542.5h0M1232.5 591h0M1245.5 536.5h0M1254.5 485h0M1227.5 692.5h0M1244.5 609h0M1265.5 616h0M1255.5 545.5h0M1243 714.5h0M1258 530.5h0M1291.5 494.5h0M1226.5 614.5h0M1223 727.5h0M1230 659h0M1294.5 468.5h0M1255.5 684h0M1193 746h0M1239.5 692h0M1255.5 496.5h0M1179 717.5h0M1283 503.5h0M1289.5 482.5h0M1214.5 711h0M1272 497h0M1256 469.5h0M1257.5 519h0M1159.5 752.5h0M1213.5 620.5h0M1300.5 543h0M1286.5 592h0M1218.5 681.5h0M1239.5 521.5h0M1239.5 673.5h0M1270.5 646.5h0M1218 647h0M1270.5 629.5h0M1288.5 558.5h0M1154.5 780.5h0M1293.5 524.5h0M1179.5 645h0M1145 747.5h0M1224 583h0M1248.5 634h0M1294.5 451h0M1281 428h0M1202 641h0M1200.5 669.5h0M1181 620.5h0M1167 716.5h0M1203.5 683h0M1259 642.5h0M1268 523.5h0M1195.5 594h0M1184.5 757.5h0M1269 452.5h0M1226.5 551.5h0M1255.5 623h0M1293 604.5h0M1222.5 603h0M1242.5 623h0M1185.5 704.5h0M1283 404h0M1246.5 512h0M1276 661.5h0M1228.5 570.5h0M1239.5 485.5h0M1288.5 441.5h0M1278 482h0M1161 695.5h0M1209 701h0M1261 439h0M1285.5 633h0M1255.5 608.5h0M1239 496.5h0M1176.5 728.5h0M1233 708h0M1153 768.5h0M1214 792.5h0M1231.5 720.5h0M1189 634.5h0M1270.5 423h0M1192 693h0M1266 481.5h0M1215 592h0M1177.5 779h0M1215 632h0M1279.5 688.5h0M1168.5 684.5h0M1204.5 587.5h0M1200 793.5h0M1281.5 648h0M1210.5 536h0M1189.5 782h0M1302.5 495h0M1194 580h0M1173 765.5h0M1208.5 568h0M1272 410.5h0M1193 770.5h0M1199.5 755.5h0M1261.5 557h0M1229.5 530.5h0M1264 700.5h0M1234 605h0M1150 715.5h0M1287.5 381h0M1242.5 466.5h0"/>
<path d="M1282.5 511.5h0M1256 567h0M1268 571.5h0M1255.5 581h0M1252 652h0M1279.5 607h0M1190 667h0M1184 735.5h0M1239 561.5h0M1272 561h0M1272 593h0M1247.5 551.5h0M1258 673.5h0M1270 545.5h0M1225.5 633h0M1274 528h0M1243 590h0M1271 511.5h0M1288.5 555h0M1261.5 603.5h0M1291 543h0M1248 710.5h0M1179 657.5h0M1281 538h0M1184.5 691.5h0M1158 743h0M1284 579.5h0M1189 649.5h0M1242 646h0M1186.5 705h0M1232.5 599h0M1179.5 672h0M1285 466h0M1231.5 588h0M1256 617.5h0M1243 670h0M1285.5 489.5h0M1263.5 648h0M1257.5 520h0M1259.5 485.5h0M1286 525.5h0M1289 451h0M1221 619h0M1261 553.5h0M1230 661h0M1218 731.5h0M1243 606.5h0M1272.5 468h0M1251 540h0M1194 605h0M1233 686h0M1212 653.5h0M1233.5 538h0M1198 709h0M1171.5 715.5h0M1255.5 592.5h0M1276.5 650.5h0M1239.5 698h0M1208.5 607.5h0M1292.5 504.5h0M1171.5 734.5h0M1294.5 532.5h0M1279.5 627h0M1147 741h0M1210.5 639.5h0M1199.5 620.5h0M1257.5 702h0M1201.5 745h0M1180.5 750h0M1296.5 595h0M1250.5 692.5h0M1224.5 579.5h0M1271 634.5h0M1222.5 681h0M1237.5 635.5h0M1197.5 642.5h0M1227.5 700.5h0M1289.5 567h0M1251 499.5h0M1209 683h0M1242 518.5h0M1246 472.5h0M1262 456.5h0M1231.5 672h0M1262.5 473.5h0M1279 431.5h0M1273 617.5h0M1223 606.5h0M1214 713.5h0M1293.5 439h0M1197 658h0M1302 544h0M1277.5 499.5h0M1277 455h0M1261 533.5h0M1286 478.5h0M1183.5 723h0M1160 689h0M1236 621h0M1286 617.5h0M1270.5 663.5h0M1229 713h0M1286 401.5h0M1239 573h0M1197 587h0M1254.5 632.5h0M1201 673h0M1195.5 754.5h0M1217.5 549.5h0M1208 695h0M1185 778.5h0M1179.5 620.5h0M1171.5 772h0M1214 673h0M1246.5 529h0M1175 702.5h0M1285 591.5h0M1291.5 605.5h0M1242 658h0M1289 426h0M1158 777h0M1202 534.5h0M1274 482h0M1222 595h0M1182.5 635h0M1237.5 479.5h0M1228.5 569h0M1236 494.5h0M1181 761h0M1209 583.5h0"/>
<path d="M1282 511.5h0M1266 570.5h0M1254 565.5h0M1248.5 656.5h0M1257 579.5h0M1277.5 610.5h0M1181.5 733h0M1271.5 555.5h0M1272.5 600h0M1252 677h0M1283 549h0M1245 589.5h0M1234.5 556h0M1267 523h0M1234.5 631.5h0M1282.5 537h0M1187.5 701h0M1179.5 660.5h0M1274 586h0M1263.5 610h0M1284.5 573.5h0M1246 716h0M1197 707h0M1195 656h0M1295 553.5h0M1253.5 596.5h0M1271 541h0M1256 485h0M1254 552h0M1228 604.5h0M1280 524.5h0M1242 615.5h0M1287.5 458.5h0M1256 618.5h0M1283 492.5h0M1223 683h0M1247 642h0M1263.5 503.5h0M1183.5 676h0M1186.5 600.5h0M1242.5 669h0M1266.5 461.5h0M1192 738.5h0M1294.5 539.5h0M1208.5 710.5h0M1267 490h0M1217.5 628h0M1165.5 736h0M1209.5 645.5h0M1178.5 719.5h0M1243 701.5h0M1155 743.5h0M1261 656h0M1252.5 516.5h0M1293.5 526.5h0M1200.5 637h0M1176 686.5h0M1272.5 623.5h0M1282.5 480.5h0M1241 538h0M1272.5 649.5h0M1292 504h0M1162 718h0M1284.5 601h0M1295.5 493h0M1264 679h0M1218.5 723h0M1228 620.5h0M1185.5 747.5h0M1214.5 661h0M1195.5 625h0M1201 690h0M1255 464h0M1194.5 669.5h0M1231 666h0M1219 579h0M1221 709h0M1283 560.5h0M1233 644.5h0M1232.5 589h0M1266 639h0M1278.5 635.5h0M1217.5 672h0M1261 700.5h0M1176.5 708.5h0M1242.5 570h0M1230 534.5h0M1287 443h0M1238 599.5h0M1220 596.5h0M1191.5 725h0M1261 667h0M1269.5 436h0M1216 607h0M1190.5 685.5h0M1228 697h0M1191 764.5h0M1262 589.5h0M1296.5 590h0M1265.5 476h0M1249.5 474.5h0M1285.5 408.5h0M1251.5 497.5h0M1174 648.5h0M1157.5 686.5h0M1232 722h0M1230 545.5h0M1256 533h0M1203.5 602.5h0M1238.5 517.5h0M1287 424.5h0M1231.5 572h0M1229.5 655h0M1189 642h0M1178.5 623.5h0M1195 779.5h0M1274 669h0M1253 688.5h0M1207 587h0M1192.5 580.5h0M1278.5 469.5h0M1169.5 675h0M1237.5 689.5h0M1288.5 612.5h0M1204.5 575.5h0M1237 483.5h0M1223.5 734h0"/>
<path d="M1276.5 518.5h0M1264 573h0M1245.5 567.5h0M1251 654h0M1259.5 557h0M1247.5 578.5h0M1184.5 738h0M1274.5 548h0M1274 603.5h0M1256 672.5h0M1274.5 591h0M1272.5 507.5h0M1248.5 590.5h0M1279 529.5h0M1259 584h0M1232 628.5h0M1238.5 546h0M1281.5 582.5h0M1172.5 658.5h0M1293 545h0M1257.5 599.5h0M1266 530.5h0M1271 559h0M1185.5 695.5h0M1192 712.5h0M1187 666h0M1251.5 485.5h0M1176 730h0M1262 544.5h0M1198 652.5h0M1238 659.5h0M1279.5 496.5h0M1288.5 518.5h0M1234.5 600h0M1291 495h0M1242 613h0M1281.5 455h0M1258.5 516.5h0M1265.5 493h0M1259.5 615h0M1244 673h0M1214.5 618.5h0M1251.5 640.5h0M1231 679.5h0M1277.5 569.5h0M1290 532h0M1282.5 619.5h0M1294 558h0M1239 645h0M1213.5 653.5h0M1215 639.5h0M1175 678h0M1198 627h0M1241.5 532h0M1179.5 708h0M1251.5 539h0M1203.5 707.5h0M1252.5 625h0M1247 707.5h0M1277.5 650.5h0M1196 604h0M1218.5 675.5h0M1219.5 729h0M1269.5 632h0M1223.5 661h0M1161 738.5h0M1290 600.5h0M1267 468h0M1255 500h0M1242 515h0M1266.5 651.5h0M1230 582h0M1203.5 692h0M1263.5 480h0M1248.5 470.5h0M1184 750h0M1267 452h0M1204.5 643h0M1216.5 713h0M1226.5 539.5h0M1198 670.5h0M1228 701h0M1256.5 714h0M1190.5 593h0M1288 471.5h0M1267.5 673h0M1189 683h0M1233 567h0M1219.5 602.5h0M1257.5 683.5h0M1239 717h0M1281.5 442h0M1238 695h0M1214 687.5h0M1182.5 642.5h0M1183 721h0M1295.5 448h0M1271 615.5h0M1167 713h0M1179.5 620.5h0M1303 535h0M1158 752h0M1283.5 405h0M1147.5 738.5h0M1165 684.5h0M1288.5 574h0M1271 430h0"/>
<path d="M1265.5 570h0M1275 511h0M1254.5 569.5h0M1256 656.5h0M1270 546h0M1268 609h0M1265 556h0M1245.5 580h0M1284 551.5h0M1271.5 579.5h0M1251.5 675h0M1266.5 594h0M1258 586h0M1228.5 622.5h0M1286.5 520.5h0M1271.5 529h0M1185.5 742.5h0M1241 556.5h0M1257 492.5h0M1285 579h0M1246 545.5h0M1284.5 450h0M1189 657.5h0M1238.5 588.5h0M1177 731.5h0M1261.5 538.5h0M1291.5 490.5h0M1284.5 505h0M1190.5 706h0M1239.5 636.5h0M1280 600h0M1256.5 645h0M1236.5 600h0M1173.5 662h0M1292.5 531h0M1251.5 614h0M1241 653.5h0M1256 597.5h0M1239 613h0M1180 702.5h0M1200.5 713h0M1274.5 622.5h0M1212.5 644.5h0M1266.5 669.5h0M1235.5 675.5h0M1288.5 566h0M1232 536.5h0M1257.5 516h0M1276 658.5h0M1164 746.5h0M1207 662h0M1178 684.5h0M1222.5 659h0M1245.5 534h0M1218.5 682.5h0M1241.5 708h0M1272 490h0M1185 669h0M1252 703.5h0M1248.5 466.5h0M1176.5 753.5h0M1192 626h0M1272.5 460.5h0M1273.5 636h0M1233 574.5h0M1188 692.5h0M1261 452h0M1254 554h0M1257 634h0M1226.5 703.5h0M1264 470.5h0M1281.5 536h0M1188 729h0M1195 602.5h0M1215.5 631h0M1213.5 727.5h0M1228 592.5h0M1249.5 481.5h0M1285 479h0M1295 544.5h0M1228.5 687.5h0M1243.5 510.5h0M1204 637h0M1212 614.5h0M1190 754.5h0M1243.5 624.5h0M1230 722.5h0M1278 647h0M1201 702h0M1239 521h0M1189.5 644h0M1292 604h0M1215.5 711.5h0M1174.5 624h0M1169 714.5h0M1219.5 581.5h0M1252 686.5h0M1204.5 685.5h0"/>
<path d="M1271.5 572h0M1257 578h0M1278.5 508.5h0M1244 568.5h0M1254.5 563.5h0M1248.5 650h0M1269.5 549h0M1272 590h0M1266 517h0M1279.5 556h0M1286.5 527.5h0M1267 536h0M1258.5 675h0M1270.5 607.5h0M1238.5 582h0M1177.5 736.5h0M1241 599h0M1258.5 492h0M1247 665.5h0M1284.5 569h0M1257.5 616h0M1219.5 621.5h0M1284 449.5h0M1292 509h0M1283 599h0M1183 701.5h0M1292.5 552.5h0M1243.5 615h0M1244.5 539.5h0M1206.5 704h0M1257.5 589.5h0M1195 739h0M1255 549.5h0M1279.5 543.5h0M1286.5 487h0M1275 649h0M1194 648h0M1278.5 627.5h0M1191 711h0M1227 604h0M1212 638h0M1233 649h0M1182.5 725h0M1174 653.5h0M1232 627h0M1198.5 661h0M1239.5 708.5h0M1180 669h0M1229 683.5h0M1241 528h0M1177 682h0M1227 668h0M1260 604h0M1174.5 712h0M1246 683h0M1297 537h0M1253 712.5h0M1192.5 671.5h0M1273.5 496.5h0M1202.5 623h0M1217 651.5h0M1154 746h0M1256 511h0M1227.5 578h0M1262.5 649.5h0M1267.5 622h0M1254 634.5h0M1267 476.5h0M1280 464.5h0M1232 696h0M1188.5 611h0M1195 691.5h0M1250 483.5h0M1294 495.5h0M1188 751.5h0M1223 722h0M1240.5 637.5h0M1263 463h0M1278.5 616.5h0M1185 656h0M1216.5 663.5h0M1231.5 536.5h0M1186.5 638.5h0M1240.5 516h0M1208 683h0M1218.5 692.5h0M1254.5 700h0M1278 520.5h0M1253.5 525h0M1176.5 619h0M1258.5 687h0M1219.5 706.5h0M1213.5 608h0M1236 559h0M1263 661.5h0M1288.5 473h0"/>
<path d="M1263.5 570.5h0M1279.5 515h0M1272.5 577h0M1250 563h0M1253 657.5h0M1267.5 549.5h0M1256 582h0M1255.5 669h0M1272.5 526.5h0M1252.5 680h0M1265 595h0M1277.5 612h0M1276.5 592.5h0M1262.5 610h0M1255.5 483h0M1276 538h0M1238.5 590h0M1295.5 533.5h0M1247 616.5h0M1236.5 601h0M1290.5 452h0M1248.5 602h0M1278 558h0M1185.5 732.5h0M1244 644h0M1181 709h0M1237 544.5h0M1246.5 535h0M1242 660h0M1262.5 515.5h0M1226 620.5h0M1251.5 549.5h0M1181.5 659.5h0M1272 630h0M1174.5 729h0M1230.5 633h0M1193 653.5h0M1198 710h0M1177.5 697.5h0M1292.5 562.5h0M1232.5 652h0M1176 746h0M1287.5 502.5h0M1273 497.5h0M1215.5 649.5h0M1292.5 521.5h0M1235.5 703.5h0M1289 548.5h0M1252.5 711h0M1213.5 638.5h0M1239 625.5h0M1268 653.5h0M1242 673h0M1294.5 489h0M1229 693.5h0M1197.5 621.5h0M1264 490h0M1240 717.5h0M1205.5 662.5h0M1188 678h0M1239 559h0M1188 747h0M1190.5 699h0M1303.5 544h0M1264.5 476h0M1271.5 467h0M1222 600.5h0M1222 682h0M1239 578h0M1260 536.5h0M1199 632.5h0M1282 568.5h0M1213.5 618.5h0M1253 497.5h0M1176 673h0M1241.5 521.5h0M1256.5 622.5h0M1260 465h0M1229 668.5h0M1273 483h0M1216 704.5h0M1214 673.5h0M1260 558h0M1225.5 538h0M1187.5 635h0M1257 644h0M1284.5 480.5h0M1228 722.5h0M1241.5 508h0M1202 694.5h0"/>
<path d="M1268 578.5h0M1280.5 516.5h0M1265 561.5h0M1253.5 570h0M1272 548.5h0M1256.5 654h0M1276.5 586.5h0M1247.5 560h0M1253 582h0M1255 672.5h0M1273 529h0M1265 607.5h0M1278.5 606h0M1264.5 590h0M1283 575h0M1233 597h0M1242.5 588h0M1289.5 527h0M1276.5 504.5h0M1259.5 618h0M1256.5 483.5h0M1283.5 549.5h0M1187 736.5h0M1275.5 617h0M1288.5 454.5h0M1244.5 663.5h0M1245 602.5h0M1260.5 510.5h0M1185 706.5h0M1237 547.5h0M1257 599h0M1175.5 738.5h0M1249 543.5h0M1188 659.5h0M1174.5 710h0M1234 619.5h0M1258.5 550h0M1263 539.5h0M1233 581.5h0M1289 502h0M1242.5 675.5h0M1178.5 727h0M1227 653h0M1236.5 699.5h0M1239 711.5h0M1286.5 593h0M1255 704.5h0M1237.5 648h0M1222.5 629h0M1267 659h0M1290 561.5h0M1297 540h0M1267 479h0M1253.5 642.5h0M1277 492.5h0M1178.5 690.5h0M1244.5 614h0M1196.5 617.5h0M1288 488.5h0M1227.5 680.5h0M1237 570h0M1273 629h0M1217.5 618.5h0M1213 702h0M1276 465h0M1263 460.5h0M1238.5 528.5h0M1228 665h0M1182 676h0M1211 649h0M1202 662h0M1246 519.5h0M1219 598h0M1250 493.5h0M1185 752.5h0M1193 716.5h0M1217 688.5h0M1176.5 652h0"/>
<path d="M1271 568h0M1252 565h0M1282.5 514h0M1264.5 583h0M1274.5 557.5h0M1253 580h0M1269.5 529h0M1261.5 671.5h0M1277.5 588h0M1251 664.5h0M1266 599.5h0M1246 675h0M1241 564.5h0M1261.5 615.5h0M1294 527.5h0M1232 596h0M1245.5 550h0M1179 733h0M1252.5 646.5h0M1286 451h0M1263.5 549h0M1279.5 609h0M1252 596.5h0M1181.5 705.5h0M1283.5 534h0M1271.5 624.5h0M1237 658h0M1263.5 485h0M1245.5 605.5h0M1268.5 512.5h0M1280 576h0M1182 657.5h0M1285 564.5h0M1259 519.5h0M1272 499.5h0M1250 536.5h0M1235.5 626h0M1282 548h0M1256 703h0M1192.5 732h0M1193.5 744.5h0M1226 658h0M1237 641.5h0M1234 609h0M1178 692h0M1290.5 481h0M1228.5 576.5h0M1229.5 707h0M1300 538h0M1238.5 584.5h0M1184.5 669h0M1216 637.5h0M1240.5 703.5h0M1269.5 656h0M1223.5 613.5h0M1275 457.5h0M1167.5 734h0M1236.5 533.5h0M1242 516.5h0M1223.5 681.5h0M1277.5 634h0M1247 635h0M1178.5 749h0M1263.5 632.5h0"/>
<path d="M1249.5 570h0M1276 516.5h0M1266.5 577.5h0M1256 558.5h0M1267.5 557.5h0M1276.5 549.5h0M1261.5 588.5h0M1259.5 677h0M1272 534h0M1247.5 584.5h0M1279 583h0M1262 618h0M1292.5 534h0M1238.5 602.5h0M1284 455h0M1185.5 733h0M1261 605.5h0M1240 542.5h0M1185.5 700.5h0M1229.5 596h0M1283.5 604h0M1243.5 654h0M1252 596h0M1240.5 667h0M1288.5 558h0M1274 597.5h0M1272 626.5h0M1249.5 682h0M1180 712.5h0M1241.5 561.5h0M1288 511h0M1273 502.5h0M1239 621h0M1265.5 485.5h0M1187 664.5h0M1262 540h0M1253.5 517h0M1188.5 649h0M1279 570.5h0M1254 482h0M1251 540h0M1277 613h0M1175 738.5h0M1265 510.5h0M1185 744h0M1249.5 643h0M1238 704.5h0M1254 661.5h0M1226.5 628h0M1232 576h0M1267 459h0M1255 709.5h0M1176.5 726.5h0M1288.5 480h0M1187.5 686.5h0M1216.5 647.5h0M1179.5 655.5h0M1230 652.5h0M1263 526.5h0M1214 634.5h0"/>
<path d="M1279 507.5h0M1252.5 567.5h0M1276 575h0M1266.5 585h0M1265 567.5h0M1270 553h0M1250.5 580.5h0M1272.5 518.5h0M1278.5 530h0M1262 598.5h0M1278 586.5h0M1253 679.5h0M1290.5 526h0M1241.5 591h0M1266.5 540.5h0M1186.5 711h0M1252.5 549.5h0M1239.5 605.5h0M1289 537.5h0M1256.5 667h0M1281 558.5h0M1274.5 603h0M1286 453h0M1236.5 546.5h0M1268 615h0M1181 742h0M1239.5 616.5h0M1176.5 729h0M1255 609h0M1265.5 509.5h0M1176.5 702.5h0M1236.5 649.5h0M1242.5 661h0M1229 623h0M1251 598h0M1253.5 488.5h0M1183 661h0M1281 626.5h0M1258 620h0M1295 561h0M1190.5 726.5h0M1266.5 491.5h0M1267.5 528.5h0M1253 651h0M1255.5 518h0M1246 703.5h0M1239 559.5h0M1267.5 477h0M1248 534.5h0M1268 464h0M1250.5 637h0"/>
<path d="M1256 571.5h0M1280.5 512.5h0M1267.5 578.5h0M1275 548h0M1269 565h0M1257 558.5h0M1268.5 592h0M1269 524h0M1245 562.5h0M1280 573.5h0M1288 533.5h0M1276 533h0M1251 672.5h0M1233.5 598.5h0M1268.5 605h0M1250 543h0M1246 599h0M1245.5 585h0M1255.5 593h0M1241 611h0M1280 604h0M1190 703h0M1286 547.5h0M1293 519.5h0M1260.5 613.5h0M1272 624h0M1240.5 651.5h0M1237.5 626h0M1252 657.5h0M1289.5 559h0M1261.5 547h0M1189 660h0M1174.5 731h0M1279.5 501.5h0M1260.5 534.5h0M1258 483.5h0M1260.5 510h0M1189.5 746h0M1190 733.5h0M1238.5 537.5h0M1263 668.5h0M1180 670.5h0M1278 586h0M1277.5 635h0"/>
<path d="M1254 570.5h0M1281.5 515h0M1259 582.5h0M1266 567h0M1275 550h0M1272 591h0M1258.5 596.5h0M1271 579.5h0M1276 529h0M1247.5 546h0M1249 589.5h0M1295.5 527.5h0M1237.5 589h0M1268 537.5h0M1243.5 604h0M1256 674.5h0M1180.5 706h0M1267.5 521h0M1259.5 551.5h0M1243 563h0M1290.5 537.5h0M1265 611h0M1277.5 605h0M1233.5 628h0M1237 646.5h0M1243.5 618.5h0M1291 561h0M1253.5 656.5h0M1173 738h0M1278 497.5h0M1186 664h0M1237.5 661h0M1279.5 621.5h0M1262 509h0M1257 483h0M1185 725.5h0M1285.5 576h0M1184 741h0M1275 634h0"/>
<path d="M1255 574.5h0M1280.5 513.5h0M1265 582.5h0M1258 561h0M1268.5 551.5h0M1262.5 594.5h0M1277 537.5h0M1246.5 590.5h0M1268 530h0M1277 597.5h0M1273 563.5h0M1235 586.5h0M1243.5 606.5h0M1260.5 669.5h0M1247 672h0M1247.5 542h0M1296 529.5h0M1184 712h0M1244.5 566.5h0M1276 582.5h0M1233 603h0M1243 623h0M1241.5 654h0M1232.5 619.5h0M1253 613.5h0M1266.5 516.5h0M1273 497.5h0M1291 551h0M1277 609.5h0M1187 727.5h0M1258 486.5h0M1187 666.5h0M1265.5 611.5h0M1287 566h0M1269 622.5h0M1174.5 724h0"/>
<path d="M1274 510h0M1270 576.5h0M1271 558h0M1259.5 580.5h0M1247.5 571h0M1274.5 547h0M1269 589h0M1285 513.5h0M1278.5 523.5h0M1259.5 595.5h0M1238.5 594h0M1183 708h0M1239.5 544h0M1251.5 674h0M1246.5 582h0M1258 564h0M1259 546h0M1279 597h0M1237 610.5h0M1250.5 606h0M1262.5 521h0M1281.5 564.5h0M1236.5 624h0M1281 500h0M1284 577h0M1236 568h0M1267 532.5h0M1248 647h0M1294 532.5h0M1259.5 612.5h0M1237 651h0M1174.5 727.5h0"/>
<path d="M1269.5 574h0M1263 584h0M1270 548h0M1275 510h0M1252.5 577.5h0M1256 565.5h0M1277.5 526h0M1260 595.5h0M1267 563h0M1260 668h0M1271.5 595h0M1184 703h0M1243 613h0M1252 550h0M1252 676h0M1247.5 597.5h0M1285.5 518h0M1231.5 595h0M1285 557h0M1235.5 628.5h0M1256.5 518h0M1267.5 535.5h0M1279.5 606.5h0M1239.5 583h0M1254.5 610.5h0"/>
<path d="M1273 583h0M1270 553h0M1282 514h0M1249.5 580h0M1270 522.5h0M1263.5 565.5h0M1257 600.5h0M1270 599.5h0M1270 540.5h0M1259.5 668.5h0M1260 547h0M1254.5 680h0M1238.5 612h0M1282.5 531h0M1232 598h0M1261 577h0M1269 506h0M1246 541.5h0"/>
<path d="M1268.5 576.5h0M1272 557h0M1272 542.5h0M1272 516h0M1255.5 580h0M1278.5 504.5h0M1264.5 600h0M1259.5 555h0M1269.5 529h0M1268.5 589.5h0M1276 604h0M1259 568.5h0M1239 595.5h0M1241.5 611h0M1255.5 540h0M1244.5 582.5h0M1258 666h0M1288.5 511h0M1283.5 521.5h0"/>
<path d="M1277.5 550.5h0M1267 557h0M1249 576.5h0M1273 519h0M1254.5 589h0M1268.5 584h0M1275 508h0M1264.5 569h0M1268 597.5h0M1256.5 600.5h0M1277 529.5h0M1254.5 551h0M1234 616.5h0M1240.5 595.5h0M1263.5 534.5h0"/>
<path d="M1274.5 555h0M1268.5 545.5h0M1268 576h0M1277 506.5h0M1250 578h0M1263.5 562.5h0M1279 523.5h0M1256 596h0M1271.5 594.5h0M1234.5 610h0"/>
<path d="M1275.5 555.5h0M1265.5 578h0M1268.5 545.5h0M1250 576h0M1268.5 598h0M1278.5 529h0M1247.5 596.5h0M1266 563.5h0M1260 605h0M1239 614h0"/>
<path d="M1252.5 569.5h0M1263.5 579h0M1274 597.5h0M1265.5 590.5h0M1260 604h0M1259.5 555.5h0"/>
<path d="M1276 592h0M1263 584.5h0M1266.5 571.5h0M1264.5 599h0M1259.5 555h0"/>
<path d="M1261 564h0M1267 588.5h0M1259.5 577.5h0"/>
<path d="M1271 587h0"/>
</g>
<g stroke="#606060" stroke-opacity="0.03">
<path d="M1099 739h0M1185 624.5h0M1154.5 698.5h0M1085.5 782h0M1172 571h0M1140 617h0M1188.5 568.5h0M1173.5 635h0M1044.5 720h0M1128 650h0M1115 700.5h0M1132.5 778h0M1172 668h0M1159.5 652h0M1110.5 658h0M1060 752.5h0M1144.5 648.5h0M1095 754.5h0M1122.5 629h0M1135 748h0M1199 598.5h0M1037 733h0M1093 663.5h0M1147.5 739h0M1120 718h0M1194.5 616h0M1101.5 764h0M1154.5 718h0M1090.5 765.5h0M1135 676h0M1142.5 704.5h0M1106.5 635.5h0M1090 705h0M1098 691.5h0M1150 755.5h0M1139.5 661h0M1057.5 734.5h0M1113.5 749.5h0M1050.5 744h0M1103 722h0M987 685h0M1128.5 758h0M1104 682h0M1077.5 698h0M1075.5 764.5h0M1168 589h0M1154 588h0M1140.5 586.5h0M1085 744h0M1156.5 677h0M1083 721h0M1128 699.5h0M1039.5 689.5h0M1187.5 485h0M1117 780.5h0M1086 797.5h0M1101.5 704h0M1119.5 687h0M1156 641h0M1169 685h0M1153.5 608h0M1131 715.5h0M1160 625.5h0M1206 547h0M1166.5 726h0M1171 651h0M1090 732.5h0M1154 666h0M1167.5 483h0M1115 606h0M1149 776.5h0M1124.5 672h0M1113.5 733.5h0M1135 689h0M1049.5 766.5h0M1128 736h0M1070 717h0M1037 753h0M1110.5 595h0M1009.5 792h0M1108.5 795h0M1194 515.5h0M1153.5 541.5h0M1149.5 552h0M1166.5 611h0M1074 628h0M1178 597.5h0M1120 641h0M1067.5 774.5h0M1064.5 797.5h0M1061 786h0M1136 638.5h0M1072 681.5h0M1186 606.5h0M1136.5 796.5h0M1165.5 715h0M1008.5 747.5h0M1173 520.5h0M1126 610.5h0M1179.5 561.5h0M1058.5 596.5h0M1164.5 748.5h0M1183 690h0M1113 760.5h0M1140 727h0M1151 563h0M1206 584.5h0M1189.5 537h0M1067.5 652.5h0M1031 782.5h0M1172 541h0M1045.5 795h0M1142 763.5h0M1177 463.5h0M1074.5 787.5h0M1122.5 559h0M1060 709h0M1183 670h0M1071 729h0M1109.5 623.5h0M1052.5 678.5h0M1034.5 797.5h0M1140.5 539.5h0M1103.5 667h0M1112.5 675h0M1192.5 498h0M1135 603.5h0M1099.5 599h0M1162.5 553h0M1077.5 662h0M1095 790h0M1198 639h0M1195 449h0M1098.5 625.5h0M1183.5 526h0M1066 741.5h0M1025.5 718.5h0M1146.5 690.5h0M1202.5 536.5h0M1122 659.5h0M1191 583h0M1204.5 478h0M1109.5 713h0M1196.5 660.5h0M1206 672h0M1092 637h0M1156.5 731h0M1101.5 775h0M1138.5 460.5h0M1057 668h0M1135.5 570.5h0M987.5 759h0M1034 679h0M1081 645.5h0M1204.5 495.5h0M1178.5 582h0M1122.5 768.5h0M1159.5 570.5h0M1156 765h0M1167.5 506h0M1129.5 593h0M997.5 729h0M1043.5 777h0M1147 630.5h0M1164 532h0M1158 516h0M1187 458h0M1176.5 616h0M1033 708h0M1147.5 574.5h0M1084 674.5h0M1125.5 788h0M1026 668.5h0M1064 637h0M1197.5 556h0M1166.5 600h0M1056 698h0M1087 623.5h0M1182 654h0M1100 653h0M1199 574h0M1096 803h0M1147.5 529.5h0M986.5 788.5h0M1116 573h0M1170.5 779.5h0M1001 692h0M1176.5 791.5h0M1173 697.5h0M1211.5 562h0M1212 406h0M1117 803h0M1053 648h0M1048.5 755h0M1032 643.5h0M1205 608h0M1009 707h0M1134 552.5h0M1204.5 511.5h0M1009 719h0M1146.5 482h0M1056.5 722.5h0M1018 759h0M1029 769h0M1211 523.5h0M995.5 797h0M987 776.5h0M1166 796.5h0M1011 686.5h0M1128 581.5h0M1187 637.5h0M1174 734.5h0M1076 752.5h0M1143 715.5h0M1138.5 505.5h0M1181 713.5h0M1119 542h0M1111.5 560h0M1060 687.5h0M1142 786h0"/>
<path d="M1113 634.5h0M1147 645h0M1145.5 622.5h0M1183 614h0M1142 676.5h0M1104 768h0M1140.5 709.5h0M1100 733h0M1114 740h0M1119 707h0M1172 662h0M1088.5 770.5h0M1156 651.5h0M1085.5 667.5h0M1100.5 757h0M1127 761.5h0M1167 632h0M1078.5 786.5h0M1088 699h0M1124 685h0M1115 781.5h0M1137 697.5h0M1048.5 749h0M1092 801h0M1129 635.5h0M1205 619h0M1113.5 690.5h0M1152 697.5h0M1156.5 598h0M1086 724.5h0M1080.5 755h0M1141 732h0M1111.5 724.5h0M1192 574.5h0M1154 712.5h0M1137 747h0M1197 603h0M1196 563h0M1115.5 759h0M1100 674.5h0M1077.5 766h0M1153.5 636h0M1111 613h0M1136.5 608.5h0M1171.5 574.5h0M1126.5 651h0M1074 713h0M1108 713.5h0M1027 752.5h0M1116 671.5h0M1147.5 562.5h0M1146 660h0M1185 560.5h0M1161 667h0M1080 689.5h0M1175.5 639.5h0M1153 587.5h0M1129.5 727h0M1061.5 744.5h0M1074.5 743.5h0M1155.5 677.5h0M1148.5 747.5h0M1127.5 673.5h0M1148 610.5h0M1091 748h0M1126.5 775h0M1181.5 684.5h0M1043 775h0M1110.5 797.5h0M1125 739h0M1127.5 615h0M1174.5 746.5h0M1142 577.5h0M1090.5 712h0M1167 607h0M1169 620h0M1145.5 790.5h0M1077 800.5h0M1185.5 514h0M1035.5 724h0M1066.5 777.5h0M1063.5 700h0M1194.5 592h0M1055.5 781h0M1102.5 788.5h0M1168.5 539h0M1110.5 656h0M1064.5 658h0M1064.5 797.5h0M1199 519h0M1047 789.5h0M1189.5 624.5h0M1160 689.5h0M1125 697.5h0M1133 661.5h0M1203.5 448.5h0M1141 598h0M1039.5 712h0M1106.5 700.5h0M1066 673h0M1162.5 559.5h0M1160 760h0M1062.5 718.5h0M1017 784.5h0M1199.5 550h0M1192.5 504.5h0M1065.5 644.5h0M1060 758h0M1172.5 596h0M1184.5 532.5h0M1185 598h0M1138.5 774h0M1177 651.5h0M1050 723.5h0M1157.5 548.5h0M1200.5 487h0M1166.5 648h0M1122 563.5h0M1064.5 684h0M986 750h0M1094 689h0M1213.5 500h0M1147 765.5h0M1101.5 744.5h0M1143 552h0M1193.5 646h0M1212.5 587h0M1072 729h0M1158 616h0M1088.5 735.5h0M1168.5 681h0M1161 745.5h0M1105 625.5h0M1167 716.5h0M1183.5 660.5h0M1166.5 705h0M1135 803h0M1129.5 711.5h0M1029.5 789h0M1213 545h0M1134.5 791.5h0M1153 723.5h0M1161.5 510.5h0M1090.5 601.5h0M1134 564.5h0M1140.5 635h0M1102 647.5h0M1162 580.5h0M1202.5 635h0M1178 626.5h0M1153 521.5h0M1002 799.5h0M1121 718.5h0M1126.5 603h0M1192.5 465h0M1181.5 582h0M1127.5 590h0M991 723.5h0M1026 679h0M1196.5 531.5h0M1161 499.5h0M1077 643.5h0M1124.5 798.5h0M1006.5 743h0M1171.5 521.5h0M1148 686h0M1166 729.5h0M990.5 779.5h0M1174 506h0M1058.5 732.5h0M1016.5 749h0M1092.5 782h0M1210.5 571.5h0M1170 484.5h0M1083 632.5h0M1148.5 542h0M1035 739h0M1176.5 551.5h0M1182 471h0M1052.5 665h0M1049 683h0M994 692.5h0M1069.5 631h0M1074.5 700h0M1120.5 625h0M1092.5 658h0M1141.5 720.5h0M1133 546h0M1213 474.5h0M1190.5 675.5h0M1050 643h0M1034 636.5h0M989.5 794.5h0M1134 625h0M1041.5 762h0M1108 598h0M1121.5 749.5h0M1200.5 476h0M1020.5 719h0M1034.5 698h0"/>
<path d="M1137.5 626h0M1139 645h0M1149 651h0M1121 711.5h0M1108.5 737.5h0M1149 623h0M1089.5 708h0M1099 770h0M1090.5 753h0M1168.5 640.5h0M1142.5 680.5h0M1106.5 757.5h0M1126 642.5h0M1085 767.5h0M1129 688h0M1140 710.5h0M1110.5 721h0M1089.5 693.5h0M1088.5 785.5h0M1125 626h0M1125.5 752.5h0M1166.5 625h0M1163.5 665h0M1077 748.5h0M1052 753h0M1092.5 672.5h0M1107 682h0M1161 594.5h0M1125 767.5h0M1156 635h0M1202 602.5h0M1189 573.5h0M1147.5 699h0M1176 582h0M1095 737h0M1181 605.5h0M1073.5 772h0M1161 651h0M1196 561h0M1136 738h0M1082 719.5h0M1110.5 705h0M1145.5 605h0M1116.5 789.5h0M1122.5 654.5h0M1119 672.5h0M1120.5 726h0M1158.5 690.5h0M1144.5 753h0M1114 766h0M1137 721.5h0M1135.5 698.5h0M1065 750h0M1136 770h0M1187 615h0M1112 662h0M1136 669h0M1162.5 608.5h0M1079.5 702h0M1130.5 615.5h0M1072.5 759h0M1164.5 576.5h0M1037 755h0M1113.5 801h0M1182.5 523h0M1149 733.5h0M1068.5 714.5h0M1169.5 564.5h0M1071 688.5h0M1104 696h0M1105.5 793h0M1069.5 735.5h0M1075 785.5h0M1119 693h0M1038 795.5h0M1157 567.5h0M1089 657.5h0M1151.5 710.5h0M1094.5 718.5h0M1052.5 775h0M1184.5 594h0M1065 700h0M1113.5 637.5h0M1140 579.5h0M1179 634.5h0M1125 737.5h0M1089.5 797h0M1063.5 680h0M1188 511h0M1158.5 750.5h0M1057.5 799h0M1070 797.5h0M1044.5 743h0M1176 683.5h0M1059.5 762.5h0M1062.5 784h0M1138.5 656h0M1154 677.5h0M1151.5 761.5h0M1071.5 658h0M1058.5 724h0M1152 543h0M1111.5 649.5h0M1177.5 621h0M1196.5 523.5h0M1160 552h0M1141 594.5h0M1178.5 655h0M1112 609h0M1198.5 582.5h0M1095 624.5h0M1142 783h0M1113.5 621.5h0M1125.5 779.5h0M1057.5 660.5h0M1082.5 736.5h0M1126.5 561h0M1147.5 665.5h0M1164 529h0M1139 547.5h0M1150 586h0M1170.5 726h0M1180.5 542.5h0M1191 656.5h0M1193 538h0M1206.5 489.5h0M1037.5 724h0M1047.5 710.5h0M1036.5 779h0M1145 563h0M1205.5 537h0M1150 513.5h0M1166 509h0M1114.5 748h0M1125 796.5h0M1184 557.5h0M1185 692.5h0M991.5 721h0M1203 442.5h0M1102 728h0M1195 474h0M1179 667.5h0M1103 669h0M1192.5 487h0M1211 586.5h0M1201 512.5h0M1110 778.5h0M1126 592.5h0M1093.5 646.5h0M1193 550h0M1048 693.5h0M1017 791h0M1153 773.5h0M1190.5 636h0M1016 752.5h0M1030.5 683h0M998 793h0M1035 767.5h0M1185.5 496.5h0M1146.5 796.5h0M1162.5 715.5h0M1153 722h0M1123 580.5h0M1172 594h0M1144.5 635h0M1077.5 631.5h0M1153 529h0M1074 674.5h0M1174.5 712h0M1038.5 635.5h0M1057 735h0M1036.5 707h0M992 751.5h0"/>
<path d="M1141 638.5h0M1146 655.5h0M1143 626.5h0M1122.5 715.5h0M1120.5 704h0M1146.5 681.5h0M1100 740.5h0M1113 746.5h0M1083 768h0M1142 708h0M1131 698h0M1094 770.5h0M1160 629h0M1131 745h0M1156 695h0M1087 786.5h0M1127.5 684h0M1104 765h0M1110.5 691.5h0M1125.5 641h0M1081 756.5h0M1082.5 704.5h0M1142 743.5h0M1093 726.5h0M1117.5 632h0M1132.5 733h0M1114 733.5h0M1161.5 597h0M1144 694h0M1104.5 726.5h0M1135.5 757h0M1126 777h0M1160.5 664.5h0M1138.5 672h0M1085 739h0M1153.5 588h0M1115 672h0M1150 607h0M1079.5 715.5h0M1128 667.5h0M1101.5 685h0M1070.5 765.5h0M1175.5 645h0M1100.5 707.5h0M1163.5 641h0M1121.5 619h0M1182.5 613h0M1063 752h0M1125.5 652.5h0M1048.5 747.5h0M1179.5 570h0M1172.5 632.5h0M1188 516.5h0M1164.5 653h0M1163.5 569.5h0M1109.5 782.5h0M1112 794.5h0M1138 604.5h0M1147.5 720h0M1125.5 765.5h0M1065.5 740h0M1064 775h0M1162.5 618h0M1167 684.5h0M1153 645h0M1114 758h0M1153.5 749.5h0M1076 778.5h0M1111.5 710.5h0M1091.5 752.5h0M1196.5 573.5h0M1104 638h0M1189 604h0M1081.5 800h0M1044 758h0M1197.5 510h0M1167.5 608h0M1168 695.5h0M1156 769h0M1070 706.5h0M1175 580.5h0M1170.5 556.5h0M1054 782.5h0M1106.5 649h0M1043 798h0M1071 791.5h0M1131 630h0M1084.5 666h0M1075.5 692h0M1148 567h0M1066.5 679.5h0M1159.5 546.5h0M1187 585.5h0M1142 774h0M1066 655.5h0M1179.5 674.5h0M1064 800.5h0M1158 558.5h0M1115 771h0M1135.5 719h0M1065 729h0M1189 559.5h0M1191 530h0M1159.5 712.5h0M1111.5 660.5h0M1144.5 547.5h0M1114 605h0M1131 595.5h0M1178 657h0M1099.5 798h0M1201 601.5h0M1179 692.5h0M1088.5 692.5h0M1146 761h0M1156.5 731.5h0M1160 676h0M1097.5 656h0M1110 619.5h0M1056 765h0M1049 728h0M1200.5 544h0M1157.5 522h0M1200 491h0M1196 647h0M1041 787h0M1073.5 748h0M1183 540.5h0M1186.5 632h0M1034.5 733.5h0M1133 798h0M1142 615h0M1054.5 793.5h0M1149 667.5h0M1144.5 579h0M1061 714.5h0M1036 749.5h0M1165.5 534.5h0M1036 771.5h0M1087.5 677.5h0M1100 667.5h0M1027.5 798h0M1122.5 726.5h0M1163.5 510.5h0M1173 524h0M1209 593h0M1193.5 621.5h0M1210 537.5h0M1056 669h0M1173 592h0M1038.5 718.5h0M1206 581h0M1206 612.5h0M1116.5 562h0M1142.5 593h0M1131 575h0M1169.5 731h0M1055.5 652h0M1099.5 627h0M1137.5 784.5h0M991.5 787.5h0M1076 728.5h0M1085.5 651.5h0M1131 563.5h0M1198.5 477h0M1103 606h0M1014.5 751.5h0M1176 714h0"/>
<path d="M1140 645.5h0M1138.5 625.5h0M1115 709h0M1135.5 705.5h0M1152 655h0M1100 739.5h0M1159.5 635.5h0M1085 776h0M1100.5 758h0M1138 682h0M1127 635.5h0M1127.5 696.5h0M1081.5 748.5h0M1112 755.5h0M1111.5 743h0M1127 685.5h0M1144 671.5h0M1136 754.5h0M1085 720h0M1072.5 771h0M1152.5 593.5h0M1145 741.5h0M1115 726h0M1140 718h0M1151 694.5h0M1127.5 723h0M1150.5 712h0M1161.5 605.5h0M1164.5 657.5h0M1153.5 682h0M1149 607h0M1125.5 747.5h0M1109.5 683.5h0M1138.5 660h0M1129 653h0M1096.5 699h0M1122 783h0M1102 716.5h0M1185 513.5h0M1115 666.5h0M1173 633h0M1183 576.5h0M1089 764h0M1108 785.5h0M1130 736h0M1150 625h0M1095 785.5h0M1108 772.5h0M1131 607.5h0M1038.5 749.5h0M1107 695h0M1115 794h0M1173 650h0M1165.5 622h0M1116.5 639.5h0M1055 744.5h0M1087 794.5h0M1061 755h0M1168.5 575h0M1076.5 733h0M1181 597.5h0M1125 762h0M1089.5 732h0M1165 697h0M1140 694.5h0M1165 683.5h0M1073 783.5h0M1198 568h0M1083.5 698h0M1130 667.5h0M1147.5 580h0M1168 591.5h0M1161 765.5h0M1197.5 609.5h0M1159 563.5h0M1135.5 778h0M1065.5 731.5h0M1145.5 730h0M1047.5 782h0M1072 694h0M1118.5 627.5h0M1073.5 759h0M1152.5 554h0M1133.5 595.5h0M1097 681.5h0M1045 796h0M1171 612h0M1073 712.5h0M1176.5 563.5h0M1192 598.5h0M1167.5 668.5h0M1070.5 663.5h0M1113 615h0M1105.5 637h0M1194 584h0M1147 567.5h0M1075 796.5h0M1176 677h0M1101.5 796h0M1182 613h0M1159 582.5h0M1089 709.5h0M1058 792h0M1051.5 720.5h0M1060.5 685.5h0M1162.5 527h0M1167 718.5h0M1194 529h0M1085.5 674.5h0M1096 651.5h0M1107.5 654.5h0M1155.5 725h0M1144 544.5h0M1158.5 739h0M1184 554.5h0M1050.5 760h0M1141 556.5h0M1096.5 774h0M1207 601h0M1162 753h0M1140 767h0M1182 641.5h0M1029 729h0M1168 556.5h0M1105 671.5h0M1070.5 747h0M1056.5 771h0M1205 540h0M1147 754h0M1127 619h0M1176.5 543h0M1156 670h0M1030 756.5h0M1161 538.5h0M1165.5 509h0M1177.5 525.5h0M1185.5 665.5h0M1197 508h0M1205 588.5h0M1134 583h0M1147.5 636.5h0M1192.5 492h0M1188 626h0M1193.5 548h0M1204 492.5h0M1207.5 513.5h0M1044 737.5h0M1195.5 635.5h0M1135.5 570.5h0M1039.5 773.5h0M1126.5 796h0M1033 798.5h0M1094.5 666.5h0"/>
<path d="M1146 654.5h0M1142 700.5h0M1115.5 719h0M1104 741h0M1130 709h0M1102 762.5h0M1113 705.5h0M1094.5 731h0M1142 618.5h0M1135 644.5h0M1142 674.5h0M1141.5 687h0M1085 777h0M1125.5 679h0M1152.5 635h0M1165.5 631.5h0M1115.5 749h0M1124 690h0M1158.5 654.5h0M1129.5 729h0M1135.5 754.5h0M1080.5 723h0M1071 760.5h0M1087 749.5h0M1136 659.5h0M1132.5 741.5h0M1120.5 653.5h0M1125.5 630.5h0M1091.5 708h0M1147 723.5h0M1085 766h0M1112 793h0M1075 742h0M1093.5 691h0M1141 605.5h0M1155.5 621.5h0M1099 718h0M1160.5 685.5h0M1071.5 772h0M1164 609.5h0M1176 574.5h0M1174.5 618h0M1117.5 738h0M1170.5 644.5h0M1192 521.5h0M1113 764h0M1165.5 665.5h0M1114 782h0M1059 750.5h0M1062.5 737h0M1100 679.5h0M1095.5 773h0M1124.5 613h0M1080 788h0M1152 604h0M1047.5 750h0M1125 786h0M1185.5 568.5h0M1129.5 764h0M1174 678h0M1148.5 590.5h0M1174.5 591h0M1065 781h0M1155.5 698h0M1150.5 737.5h0M1160 587.5h0M1178 654h0M1122.5 642h0M1074 694h0M1041.5 787.5h0M1142 713.5h0M1191 593.5h0M1159.5 643.5h0M1121.5 665h0M1097.5 784h0M1112 692.5h0M1154 560h0M1197 574h0M1179 635.5h0M1112 671.5h0M1142 574.5h0M1194.5 609.5h0M1089.5 802.5h0M1140 772.5h0M1063.5 714h0M1111.5 627.5h0M1164 573.5h0M1143 554.5h0M1100.5 751.5h0M1051.5 775h0M1074.5 713.5h0M1152.5 667.5h0M1071 799.5h0M1110.5 610.5h0M1100.5 700h0M1099.5 797.5h0M1136 593.5h0M1185.5 623h0M1142 631h0M1172 555.5h0M1121.5 773h0M1050 761.5h0M1057 724h0M1159 715h0M1112 638.5h0M1034.5 754h0M1185.5 678h0M1109.5 650.5h0M1091 666.5h0M1159 528.5h0M1195 542.5h0M1175.5 606.5h0M1205 536h0M1149.5 543.5h0M1161 508h0M1163.5 598.5h0M1033 719h0M1069 681.5h0M1072 731h0M1053 678.5h0M1151.5 754h0M1045 799h0M1171 532h0M1058 794.5h0M1107.5 727.5h0M1151 768h0M1205.5 504h0M1182 545h0M1186 646h0M1191.5 508.5h0M1192 488h0M1044 718h0M1168 708.5h0M1127 581.5h0M1130 800.5h0M1082.5 675h0M1136.5 786.5h0"/>
<path d="M1148.5 652h0M1116.5 716h0M1127 709h0M1100 742.5h0M1107 765.5h0M1131.5 639h0M1134 690h0M1086 777.5h0M1143 625.5h0M1098.5 729.5h0M1149 672.5h0M1141 680.5h0M1134 750.5h0M1083.5 757.5h0M1111 733h0M1168 638.5h0M1078 746.5h0M1129 733h0M1113.5 702.5h0M1116 688h0M1123 751.5h0M1120 664h0M1083 717h0M1145.5 638h0M1137 765h0M1150 696.5h0M1086.5 727.5h0M1103 707h0M1142 709.5h0M1164 651.5h0M1095.5 767.5h0M1096 692h0M1136 654.5h0M1144 662.5h0M1124 679.5h0M1109 783.5h0M1110 795h0M1159 606.5h0M1163 664.5h0M1148 719h0M1144.5 598h0M1064.5 775h0M1108.5 751.5h0M1129.5 622.5h0M1062 744h0M1146 614.5h0M1169.5 566.5h0M1173 619h0M1076 770.5h0M1144 756h0M1170.5 605.5h0M1123.5 696.5h0M1178 576h0M1120 650h0M1039 750h0M1069 757h0M1099.5 718h0M1132.5 670h0M1053.5 756h0M1081.5 795.5h0M1161.5 625.5h0M1140.5 737h0M1072.5 733h0M1166 684.5h0M1132.5 719h0M1105 682.5h0M1074.5 704.5h0M1077.5 692.5h0M1191.5 578.5h0M1178 589.5h0M1064.5 790h0M1120 777.5h0M1088.5 703h0M1094 793.5h0M1156 586h0M1187 521h0M1194 595.5h0M1133.5 610h0M1159.5 705h0M1118 761.5h0M1121.5 610h0M1121 632h0M1138.5 781.5h0M1181.5 630h0M1151.5 550h0M1048 740.5h0M1050 773h0M1102 631.5h0M1098 779h0M1154 566h0M1048 795h0M1193 566.5h0M1148 576.5h0M1141.5 561.5h0M1114 674.5h0M1092 681.5h0M1133 585.5h0M1184.5 608.5h0M1063 725h0M1061.5 802h0M1094 753.5h0M1066 687.5h0M1179 647h0M1110.5 622h0M1181 559h0M1052.5 784h0M1172.5 671h0M1166 578h0M1184.5 674.5h0M1101.5 654h0M1100 670.5h0M1188 550.5h0M1158 737h0M1165.5 720.5h0M1131 599h0M1171.5 510.5h0M1166 550.5h0M1156 642h0M1199.5 527h0M1155 682.5h0M1066.5 713.5h0M1204.5 537h0M1178.5 539h0M1173 525h0M1072 671h0M1124.5 793h0M1204.5 502.5h0M1166.5 593h0M1075.5 783.5h0M1188 505.5h0M1166 539.5h0M1028.5 728h0M1126.5 573h0M1052 730h0"/>
<path d="M1152 656h0M1148.5 644h0M1109.5 758h0M1104 740h0M1088.5 774.5h0M1121 716.5h0M1130.5 643h0M1133 701h0M1135.5 625.5h0M1133.5 714.5h0M1143.5 693h0M1148 676.5h0M1093.5 733h0M1121.5 679h0M1128 730h0M1164 636.5h0M1141.5 666h0M1131 755.5h0M1078 718.5h0M1078 747h0M1148.5 703h0M1146.5 618.5h0M1110 725.5h0M1119 659h0M1135.5 739h0M1111.5 698h0M1131 661h0M1169 610.5h0M1132.5 683h0M1119.5 739.5h0M1157 613h0M1090.5 718h0M1148.5 714.5h0M1087.5 763.5h0M1109.5 775.5h0M1063.5 766.5h0M1066.5 751.5h0M1166 658h0M1076.5 779h0M1113.5 786.5h0M1102 710.5h0M1143 604.5h0M1175.5 645h0M1169.5 572h0M1146 725.5h0M1078 797.5h0M1170.5 596.5h0M1098 754h0M1124 693h0M1118.5 645.5h0M1057 745.5h0M1108 682h0M1097.5 697h0M1167.5 674.5h0M1081 729.5h0M1155 688.5h0M1077 686h0M1153.5 592h0M1161.5 623.5h0M1097.5 677.5h0M1089 794h0M1077 760h0M1065.5 735.5h0M1167.5 690h0M1143 634h0M1127.5 769.5h0M1147.5 740h0M1160 648h0M1189 584h0M1126 783.5h0M1062.5 781.5h0M1182 613.5h0M1072.5 707.5h0M1102.5 784.5h0M1107 801h0M1099 768.5h0M1046.5 754h0M1188.5 571h0M1072 696.5h0M1144.5 560.5h0M1127 612.5h0M1159 667h0M1190.5 602.5h0M1123 631h0M1048.5 794.5h0M1048.5 779.5h0M1187.5 519h0M1200 576h0M1172.5 585h0M1137.5 592.5h0M1090.5 688h0M1110 671h0M1138.5 651h0M1150.5 579h0M1183.5 633h0M1201.5 593.5h0M1113 608h0M1176 562h0M1160.5 712.5h0M1067 722h0M1145 757h0M1137.5 581.5h0M1100.5 645h0M1090 705.5h0M1121 704h0M1175.5 547.5h0M1168 509.5h0M1126.5 593.5h0M1196.5 546.5h0M1155.5 565h0M1200.5 533h0M1144 770h0M1056.5 717h0M1100 662h0M1177 623.5h0M1110.5 634.5h0M1179 682.5h0M1184.5 668h0M1157.5 551.5h0M1189 649.5h0M1197.5 510h0"/>
<path d="M1145 656h0M1104.5 752.5h0M1082.5 780.5h0M1119 706.5h0M1104 765h0M1122 643h0M1131.5 712h0M1106.5 733h0M1118 677.5h0M1132 692.5h0M1137 627.5h0M1125.5 738h0M1095.5 774.5h0M1141.5 671.5h0M1079.5 723h0M1129.5 726.5h0M1153 639.5h0M1095 724.5h0M1173 637h0M1146 700.5h0M1142 684h0M1083.5 748h0M1163 630h0M1072.5 743.5h0M1156.5 651h0M1110 715h0M1125.5 630h0M1115.5 750h0M1137 763.5h0M1150 625.5h0M1163 614.5h0M1157.5 665h0M1088.5 738h0M1144.5 715.5h0M1130 655.5h0M1086.5 710h0M1110 784h0M1134.5 642h0M1141 746h0M1171 652h0M1117.5 724h0M1087.5 760h0M1071 771.5h0M1137.5 615h0M1103 692h0M1161 603.5h0M1118 761h0M1128 671h0M1169 568h0M1068.5 759.5h0M1151 609h0M1141.5 600.5h0M1119 657.5h0M1100 704h0M1155.5 681h0M1171.5 679.5h0M1174.5 614.5h0M1118 793h0M1058.5 753h0M1090.5 798.5h0M1116 772.5h0M1114 696h0M1178 588.5h0M1078 803h0M1068.5 785h0M1159 693h0M1097.5 787h0M1069.5 731.5h0M1170 667.5h0M1053.5 738.5h0M1183 575h0M1069 706.5h0M1042.5 744h0M1071 686h0M1191 605.5h0M1079.5 695.5h0M1150.5 584h0M1145.5 555h0M1191.5 520.5h0M1094.5 684h0M1192 565.5h0M1048.5 776h0M1041.5 791h0M1105.5 671.5h0M1128 781.5h0M1202 603h0M1189 584.5h0M1140.5 578.5h0M1176 603h0M1163.5 591.5h0M1155.5 709.5h0M1064.5 721h0M1108 800.5h0M1170.5 553h0M1060 769h0M1160 576h0M1149.5 726.5h0M1119 619.5h0M1077.5 791.5h0M1197.5 576h0M1181.5 559.5h0M1113 636h0M1111 647h0M1184.5 649.5h0M1130 751.5h0M1130.5 595h0M1051.5 761.5h0M1181.5 624.5h0M1165.5 720.5h0M1196 548h0M1091.5 696.5h0M1159 552.5h0M1194 533.5h0M1180.5 547h0M1168.5 706h0M1135.5 566.5h0"/>
<path d="M1150 656h0M1097 747.5h0M1127.5 700.5h0M1085.5 770h0M1112 762h0M1108.5 737.5h0M1115 714h0M1100.5 761h0M1130.5 648.5h0M1130 731h0M1090 727h0M1134 638h0M1135.5 672.5h0M1171 637.5h0M1106 724.5h0M1078.5 757h0M1159.5 644h0M1079.5 722.5h0M1144.5 644.5h0M1127 679.5h0M1072.5 743h0M1147 624h0M1086 783h0M1143.5 705h0M1160.5 614h0M1135.5 624h0M1118.5 743h0M1136 741h0M1150.5 719h0M1119.5 658.5h0M1135.5 660h0M1165.5 660h0M1085.5 744.5h0M1135.5 713h0M1173 618h0M1149.5 673h0M1103.5 708.5h0M1135.5 689.5h0M1103 789.5h0M1096 776h0M1113.5 689h0M1146.5 689h0M1173 569h0M1116 779.5h0M1069 765h0M1066.5 778h0M1134.5 754h0M1123.5 759.5h0M1163 601.5h0M1139.5 608.5h0M1159 679.5h0M1108 750.5h0M1091 796.5h0M1104 697h0M1149.5 601h0M1133.5 769h0M1174 685.5h0M1091 698.5h0M1114 703h0M1167.5 589h0M1096 686.5h0M1050.5 750.5h0M1096.5 736.5h0M1125 721h0M1114.5 795.5h0M1186.5 569h0M1091 710.5h0M1072 690.5h0M1113 643.5h0M1160.5 568.5h0M1072 711h0M1067.5 727.5h0M1180 584.5h0M1115 675h0M1140 724h0M1158.5 627h0M1070 794h0M1164 691h0M1123.5 633h0M1149.5 588h0M1061 757h0M1181.5 610.5h0M1054 771h0M1135 592.5h0M1062 737.5h0M1147.5 577h0M1191.5 604h0M1151.5 559.5h0M1089.5 759h0M1058 785.5h0M1080 801h0M1195.5 522.5h0M1192 591.5h0M1173 651h0M1129 785.5h0M1168 558h0M1154.5 708.5h0M1147.5 752.5h0M1096.5 674.5h0M1176 670.5h0M1124.5 668.5h0M1179.5 553.5h0M1156 729h0M1049 798.5h0M1125 615.5h0M1174.5 600h0M1194.5 544h0M1057.5 722h0M1191 629.5h0M1140 561h0M1043.5 759h0M1168 713h0M1077 700.5h0"/>
<path d="M1155 657.5h0M1129.5 705h0M1105.5 761h0M1078 772h0M1127.5 738h0M1097 730h0M1137.5 671.5h0M1113 741.5h0M1128 645h0M1167.5 638h0M1125 715.5h0M1098 746.5h0M1139 732h0M1128.5 684h0M1116 754.5h0M1080 719h0M1155.5 638h0M1071.5 748.5h0M1139.5 648h0M1153 617.5h0M1101.5 771.5h0M1145.5 626.5h0M1113 706.5h0M1164 610h0M1086.5 746h0M1077.5 783h0M1123 662.5h0M1153.5 721h0M1161.5 667h0M1104 717h0M1128.5 617.5h0M1134.5 658h0M1094.5 783h0M1086 735h0M1121.5 675h0M1168 658h0M1151 674h0M1150.5 687h0M1108 694h0M1135.5 636.5h0M1124 727.5h0M1113 773.5h0M1122 694.5h0M1141 701h0M1146 711h0M1072 734h0M1080.5 759h0M1141 602.5h0M1090.5 772.5h0M1131 750.5h0M1065 769.5h0M1139.5 686h0M1115 649h0M1166 685h0M1094.5 699.5h0M1093 711h0M1166 565.5h0M1083 794h0M1176.5 571h0M1094.5 760h0M1129 761.5h0M1111 727.5h0M1118 788.5h0M1162.5 593h0M1152.5 603h0M1176 615.5h0M1066 787h0M1110 682.5h0M1173.5 589h0M1100 796.5h0M1081.5 692h0M1075 709h0M1055 747h0M1064 758h0M1099.5 678.5h0M1161 698.5h0M1060 729.5h0M1090 802.5h0M1159.5 627.5h0M1112.5 668h0M1042 748h0M1152 585.5h0M1186 584.5h0M1141.5 755.5h0M1192 575h0M1066.5 688h0M1132 779h0M1188 562h0M1146 573h0M1152 563.5h0M1140 744h0M1176.5 630h0M1121.5 634.5h0M1058 778.5h0M1197.5 528h0M1168.5 553.5h0M1191.5 514h0M1174 647h0M1106.5 785.5h0M1198.5 596h0M1063 713.5h0M1165.5 578.5h0M1104 645h0M1092 687h0M1184.5 606h0M1070.5 803h0M1134.5 591h0M1135 721h0M1115 799.5h0M1158.5 709.5h0"/>
<path d="M1149 650.5h0M1129 696h0M1107.5 762h0M1137 705h0M1126 735h0M1096 725.5h0M1099 749.5h0M1120 718.5h0M1145.5 671.5h0M1126.5 681h0M1154.5 636h0M1080.5 723h0M1118 704.5h0M1110 748h0M1159.5 659h0M1079.5 738h0M1166 637h0M1129 649h0M1103 738h0M1093 768.5h0M1121.5 752h0M1133 747.5h0M1151.5 713.5h0M1063 745h0M1137 659.5h0M1139.5 618.5h0M1107.5 723h0M1087 748h0M1168.5 613h0M1139 728.5h0M1153.5 615h0M1114 735.5h0M1107 699.5h0M1113.5 687.5h0M1127 665h0M1081 763h0M1135 637h0M1138.5 681h0M1171 658.5h0M1083.5 780h0M1156 676.5h0M1156.5 688h0M1065.5 757h0M1069.5 768.5h0M1108.5 782.5h0M1160.5 605h0M1116.5 658h0M1127.5 626.5h0M1160.5 623.5h0M1070 781h0M1094.5 701.5h0M1088 795.5h0M1167.5 570.5h0M1094.5 782h0M1124 637h0M1135.5 607.5h0M1143.5 739.5h0M1130.5 763.5h0M1167 683h0M1149.5 600h0M1183 576.5h0M1123 779h0M1144 692.5h0M1148 626h0M1178.5 619.5h0M1158 585.5h0M1176 585.5h0M1058 784.5h0M1109.5 795h0M1093.5 713h0M1165 648h0M1050.5 754h0M1133 715.5h0M1105 680.5h0M1099 802h0M1144 581h0M1084.5 694.5h0M1080.5 706h0M1114.5 672.5h0M1108.5 711h0M1074.5 797h0M1065.5 707.5h0M1169.5 598.5h0M1143 754.5h0M1062 726.5h0M1118.5 765h0M1156 557h0M1104 668h0M1053.5 772h0M1177.5 550h0M1164.5 696.5h0M1152 726.5h0M1181 637h0M1184 560.5h0M1198 525h0M1090 678h0M1077.5 684.5h0M1185 606h0M1114 643.5h0M1069.5 697h0M1155.5 572.5h0"/>
<path d="M1133.5 705h0M1100 759.5h0M1102.5 720.5h0M1150.5 643h0M1127 685.5h0M1093 729h0M1114 755h0M1133 727h0M1118.5 720.5h0M1162.5 654.5h0M1105.5 735.5h0M1143 666.5h0M1127 741h0M1083.5 722.5h0M1135.5 641h0M1162.5 637.5h0M1091 770.5h0M1113 707.5h0M1086 744h0M1105.5 747.5h0M1134 653h0M1148 717.5h0M1136.5 691.5h0M1159.5 615h0M1128.5 672.5h0M1117.5 659.5h0M1147 706.5h0M1081.5 789.5h0M1142.5 628h0M1143.5 677.5h0M1107 689h0M1171.5 628.5h0M1117.5 734h0M1172 606.5h0M1071 747.5h0M1160.5 686h0M1115.5 768h0M1125 753h0M1065 761.5h0M1078.5 756h0M1109.5 781.5h0M1081 776h0M1099.5 702.5h0M1145.5 653h0M1158 665.5h0M1150 691h0M1063.5 773.5h0M1144.5 609.5h0M1123 697.5h0M1164.5 575h0M1171 662h0M1122 642h0M1067.5 787h0M1168.5 564.5h0M1161.5 600h0M1134.5 615h0M1088.5 702.5h0M1167.5 674h0M1075 736.5h0M1071.5 726h0M1126.5 772h0M1074.5 714.5h0M1137.5 749h0M1094.5 800h0M1115 679h0M1145.5 593h0M1111 795h0M1094.5 784.5h0M1173.5 581.5h0M1127 631.5h0M1074 695.5h0M1047.5 745h0M1175.5 595.5h0M1157.5 627.5h0M1182 572.5h0M1122.5 783.5h0M1132 601h0M1151 580h0M1103.5 670h0M1140 738h0M1139.5 571.5h0M1061.5 735h0M1180.5 653h0M1162 698h0M1153 562.5h0M1110 649.5h0M1177.5 617.5h0M1065 707h0M1178 555h0M1093 674.5h0M1140 760h0M1137 716h0"/>
<path d="M1133 696h0M1127.5 709h0M1103.5 730.5h0M1101 769h0M1112.5 713h0M1089 725.5h0M1122 683.5h0M1134.5 685h0M1152 647.5h0M1129 744h0M1076 722h0M1131 732.5h0M1102.5 741.5h0M1139 707.5h0M1139 674h0M1160 660.5h0M1075.5 743.5h0M1143.5 654.5h0M1113 762h0M1131.5 644h0M1115.5 699h0M1117.5 738h0M1102.5 718.5h0M1121 752h0M1100.5 757.5h0M1093 778.5h0M1166 633h0M1114 724.5h0M1124 666.5h0M1166 619.5h0M1084.5 764h0M1125 722h0M1143 640h0M1109.5 685h0M1152.5 713h0M1152.5 697.5h0M1132 656h0M1162.5 608h0M1077.5 788.5h0M1159 679.5h0M1072.5 764h0M1141 724.5h0M1168.5 650.5h0M1064.5 747.5h0M1145.5 618h0M1115 775h0M1078.5 775h0M1137.5 627h0M1092 748.5h0M1094.5 693.5h0M1085 797.5h0M1138.5 606.5h0M1084.5 737h0M1147 682h0M1126 763h0M1156 598h0M1166.5 563h0M1118 648h0M1061 759.5h0M1067 736.5h0M1064 784h0M1174.5 606.5h0M1167.5 575h0M1105 703.5h0M1151.5 669.5h0M1160.5 583.5h0M1111.5 795.5h0M1142.5 752h0M1111.5 673.5h0M1096.5 791h0M1081 709h0M1153 628.5h0M1166 691.5h0M1171 594.5h0M1077.5 690.5h0M1145 590h0M1094 709h0M1096 802h0M1174 664.5h0M1127.5 778h0M1049.5 755.5h0M1185 579.5h0M1125.5 626.5h0M1112 661h0M1061.5 723h0M1183 567h0M1069 706.5h0M1100 674.5h0M1144.5 738.5h0M1108.5 784h0M1147 559h0M1061.5 772.5h0M1148 575.5h0M1176.5 624.5h0"/>
<path d="M1135 705h0M1099.5 722.5h0M1124.5 695.5h0M1114.5 713h0M1091 732h0M1125 683h0M1109.5 733h0M1083 715h0M1157 649h0M1154 638h0M1128.5 735.5h0M1156 662h0M1105 759h0M1143.5 670.5h0M1095.5 768h0M1102 747.5h0M1076.5 740.5h0M1082 750.5h0M1119.5 747h0M1108 701h0M1125 664.5h0M1165.5 619h0M1144.5 659.5h0M1139 731h0M1134.5 644.5h0M1143 634.5h0M1116.5 760.5h0M1127.5 722.5h0M1155 691h0M1080 785h0M1169 655h0M1131.5 748.5h0M1163.5 601.5h0M1170 631.5h0M1070.5 759h0M1156 677h0M1150 705.5h0M1076 771.5h0M1146 648.5h0M1152 607h0M1088.5 778h0M1112 689.5h0M1112.5 776h0M1135.5 624.5h0M1140.5 681.5h0M1139.5 601h0M1090.5 791.5h0M1152 720.5h0M1094 703h0M1124.5 651.5h0M1152.5 594.5h0M1063.5 747h0M1131 760h0M1102 780.5h0M1116 641.5h0M1171 568h0M1064.5 781.5h0M1081.5 798.5h0M1145.5 618h0M1166.5 642.5h0M1175.5 605.5h0M1168 680h0M1125 776.5h0M1099.5 801h0M1110.5 790h0M1058.5 759.5h0M1113.5 665h0M1078.5 703h0M1169 583.5h0M1078.5 691.5h0M1071.5 718.5h0M1153.5 580.5h0M1132 674.5h0M1137.5 692.5h0M1100.5 684h0M1182 576h0M1063 730h0M1159 628h0M1080.5 726h0M1121 628h0M1138.5 718h0M1176 594h0M1142.5 745.5h0M1109.5 677h0M1111 652h0M1150 561h0M1094 756h0M1097 668.5h0M1161 556.5h0M1144 586.5h0"/>
<path d="M1126.5 700.5h0M1137.5 708h0M1090 723.5h0M1107.5 736h0M1110 721.5h0M1154.5 648h0M1135 680.5h0M1123 715.5h0M1128.5 739.5h0M1164.5 660.5h0M1143 670h0M1121.5 683h0M1097 770.5h0M1099 744h0M1112 751.5h0M1150 660h0M1113.5 763h0M1096.5 732.5h0M1080 739.5h0M1080.5 715h0M1114 708h0M1129.5 666.5h0M1132 650.5h0M1143.5 641.5h0M1159.5 612.5h0M1124.5 751.5h0M1116.5 668h0M1085.5 767.5h0M1134 728h0M1108.5 695.5h0M1121 730.5h0M1087.5 756.5h0M1150 628h0M1127 640h0M1080.5 786.5h0M1165.5 602h0M1066 763.5h0M1168.5 648h0M1073.5 774.5h0M1148.5 704h0M1101 757.5h0M1100.5 715h0M1170 616h0M1146.5 726h0M1150 689h0M1137.5 611.5h0M1118 781.5h0M1107 684h0M1091 781h0M1147 602.5h0M1161.5 681h0M1168.5 629h0M1086.5 695.5h0M1074.5 754.5h0M1158.5 696.5h0M1158.5 635.5h0M1137 694.5h0M1063.5 782.5h0M1068 741h0M1088.5 799h0M1114 640h0M1174 568h0M1131.5 768.5h0M1163.5 563.5h0M1134.5 626h0M1119 654h0M1158.5 717h0M1108 773h0M1142 748.5h0M1098 791h0M1155.5 594h0M1169 591.5h0M1156.5 671h0M1096 703.5h0M1143.5 580.5h0M1073 796h0M1135 758h0M1179 583h0M1114.5 795h0M1064 724h0M1167.5 577h0M1158 583h0M1075.5 705h0"/>
<path d="M1126 699h0M1132.5 709h0M1106.5 733.5h0M1100 724h0M1158 644h0M1115 715h0M1084.5 720.5h0M1140 661.5h0M1111 756.5h0M1121.5 739.5h0M1097 751h0M1162 665h0M1149.5 652h0M1124.5 682.5h0M1088 775.5h0M1132.5 741.5h0M1110 744h0M1139.5 698.5h0M1121.5 664.5h0M1141 678.5h0M1149.5 671h0M1113.5 698.5h0M1170 614.5h0M1130 652h0M1093 740h0M1129.5 725h0M1141.5 725h0M1079 752.5h0M1171.5 656.5h0M1099 772.5h0M1126.5 755.5h0M1068 771.5h0M1132 639h0M1086 731.5h0M1083.5 794.5h0M1066 760h0M1104 691.5h0M1150 608.5h0M1147.5 714h0M1131.5 672.5h0M1144 622h0M1154 687h0M1137 602h0M1110 775.5h0M1150 633h0M1069.5 736.5h0M1166 632.5h0M1087.5 695h0M1159 593.5h0M1151.5 700h0M1091 761.5h0M1071 784.5h0M1118.5 643.5h0M1173 575h0M1094.5 714h0M1077 706h0M1118 785h0M1100 784.5h0M1162 676.5h0M1160 623h0M1095.5 799h0M1111.5 672.5h0M1169.5 601h0M1130.5 627h0M1138 753.5h0M1107 794h0M1127.5 773h0M1175 586h0M1151 581.5h0M1167 560h0M1133.5 616h0M1161.5 576.5h0M1073 720.5h0M1178 629.5h0"/>
<path d="M1132.5 704.5h0M1159.5 639.5h0M1102.5 726h0M1117.5 708h0M1155 652.5h0M1107.5 738h0M1145.5 664.5h0M1086 718.5h0M1125 748.5h0M1162.5 662h0M1126.5 736h0M1098.5 745h0M1120.5 681.5h0M1096 768h0M1127 657.5h0M1082.5 729.5h0M1119 668.5h0M1132 668.5h0M1133 685.5h0M1106.5 702h0M1149 643h0M1134.5 645h0M1114.5 722.5h0M1116.5 758.5h0M1166 610.5h0M1069 765h0M1095 757h0M1087.5 778h0M1077 743h0M1138.5 731.5h0M1163 622h0M1141.5 676h0M1072.5 781.5h0M1087 793h0M1142.5 606.5h0M1150 714.5h0M1155 689h0M1112.5 781.5h0M1130 634.5h0M1080.5 756.5h0M1130 717.5h0M1124 694h0M1171 650.5h0M1145.5 703.5h0M1143.5 628.5h0M1154 610.5h0M1122 644.5h0M1109 750h0M1061 756.5h0M1151 597.5h0M1116.5 771h0M1103 684h0M1064.5 736.5h0M1158 677.5h0M1083 767.5h0M1168 571.5h0M1128.5 763.5h0M1100.5 797h0M1165 599h0M1109.5 675h0M1126.5 618.5h0M1100 786h0M1143 653h0M1098.5 711.5h0M1071.5 710h0M1088 705.5h0M1172 630h0M1157 703h0M1167 588h0M1138 754.5h0M1176.5 581.5h0M1178 566.5h0M1062 774.5h0M1129.5 776.5h0M1150.5 584.5h0M1157 562.5h0M1141.5 692.5h0M1169.5 674h0"/>
<path d="M1125 705h0M1137.5 704h0M1132.5 714.5h0M1102.5 736h0M1110.5 720h0M1152 648h0M1114 734.5h0M1162 664.5h0M1082 716.5h0M1138.5 670h0M1126.5 681.5h0M1120.5 747h0M1087 773h0M1091 725h0M1113 705h0M1138 657h0M1127.5 669h0M1132.5 748h0M1152.5 636.5h0M1115.5 682.5h0M1095 746.5h0M1131 732h0M1167.5 641h0M1166 618h0M1129.5 644.5h0M1100.5 776.5h0M1122 718.5h0M1125 656.5h0M1118 758.5h0M1111 693h0M1102 759.5h0M1139.5 638.5h0M1066.5 772h0M1077 744.5h0M1116 663h0M1168 655h0M1084 734h0M1081 787.5h0M1075.5 762h0M1108 747.5h0M1065.5 757h0M1150 664.5h0M1084 753.5h0M1113 772.5h0M1158.5 608.5h0M1144.5 720h0M1143 608h0M1145 681h0M1136.5 690.5h0M1153 689h0M1099 700.5h0M1143.5 620.5h0M1171 605.5h0M1148.5 704.5h0M1164 688.5h0M1161.5 595.5h0M1065.5 785.5h0M1130 632.5h0M1109 786h0M1168.5 678h0M1101 800h0M1176 566h0M1161.5 628.5h0M1085 800h0M1163 563.5h0M1099.5 713.5h0M1127 767h0M1154.5 619.5h0M1156.5 678h0M1176.5 582.5h0M1128.5 619.5h0M1067.5 738.5h0M1166 575h0M1078 706h0M1173 627.5h0M1151.5 586.5h0M1108.5 672h0M1072 727h0"/>
<path d="M1128.5 711.5h0M1098 739h0M1138.5 700h0M1149.5 653.5h0M1118.5 716.5h0M1164 660.5h0M1142.5 665h0M1117 684h0M1160 644.5h0M1123 732.5h0M1107 716.5h0M1119 752.5h0M1096.5 770.5h0M1112.5 698.5h0M1134.5 676h0M1098 724.5h0M1130.5 687.5h0M1131.5 660.5h0M1084.5 781.5h0M1134 727.5h0M1112 732.5h0M1084.5 749.5h0M1120 663h0M1133.5 635h0M1101.5 697h0M1163 610.5h0M1081.5 718h0M1142 642.5h0M1099 753.5h0M1157.5 633.5h0M1085.5 730h0M1127 743.5h0M1115 766h0M1071 759h0M1129.5 648h0M1073.5 775.5h0M1086 795h0M1086 767h0M1168 622h0M1148.5 721h0M1152.5 601.5h0M1127.5 698.5h0M1147.5 683.5h0M1157.5 689h0M1143.5 629h0M1149.5 617.5h0M1132.5 753.5h0M1141 711.5h0M1118.5 777h0M1074.5 734h0M1154.5 669.5h0M1139 605h0M1111 744h0M1166 673.5h0M1059 768.5h0M1068 789h0M1102 791h0M1155.5 709.5h0M1176 607.5h0M1105.5 779h0M1153.5 589h0M1174 564h0M1130 765.5h0M1119.5 633h0M1063 749.5h0M1151.5 699h0M1174.5 648.5h0M1111.5 672h0M1174.5 590.5h0M1139.5 738h0M1163 562.5h0M1062.5 731.5h0M1164 596h0M1106 683.5h0"/>
<path d="M1129 696.5h0M1131.5 709.5h0M1101.5 744.5h0M1103 730h0M1162 655h0M1150 643h0M1142.5 703h0M1141 666.5h0M1122 687.5h0M1127.5 746.5h0M1110.5 715.5h0M1113 699.5h0M1097.5 717h0M1140 648.5h0M1095.5 768h0M1136 733.5h0M1113.5 753.5h0M1164 640.5h0M1077.5 778h0M1091 735h0M1123.5 665.5h0M1130 639h0M1113.5 738h0M1123.5 728.5h0M1078 742.5h0M1152.5 666h0M1086.5 751h0M1080 721h0M1159.5 616h0M1079.5 791h0M1172.5 613.5h0M1122.5 761.5h0M1098 757h0M1104 775h0M1137 680h0M1067 765h0M1150 654h0M1116 775.5h0M1158 630h0M1132 720.5h0M1076 757h0M1165.5 601h0M1146.5 618.5h0M1089.5 783h0M1153.5 712.5h0M1110.5 683h0M1153.5 678h0M1154 599h0M1142.5 602h0M1065 778h0M1141.5 630.5h0M1081 709.5h0M1152 692.5h0M1100 705h0M1105.5 790h0M1102.5 693.5h0M1168.5 625h0M1130 656h0M1088 799h0M1131 624.5h0M1113.5 671.5h0M1164 686.5h0M1136 612.5h0M1175.5 567h0M1166 674h0M1083 767.5h0M1173.5 655h0M1074 731h0M1129 771.5h0M1135.5 756.5h0M1062.5 736h0M1167.5 588.5h0M1148 582h0"/>
<path d="M1126.5 709.5h0M1108 742.5h0M1158 658.5h0M1151 645h0M1123 691h0M1145 673.5h0M1135 697.5h0M1121.5 750h0M1098.5 725h0M1097 744h0M1109 703h0M1112.5 719.5h0M1087.5 771h0M1135 654h0M1100 770h0M1113.5 760.5h0M1127.5 737.5h0M1083.5 782.5h0M1135 723.5h0M1084 742h0M1130.5 639.5h0M1098 759h0M1126.5 672h0M1140.5 708h0M1114 681.5h0M1155.5 617.5h0M1166.5 609h0M1137.5 665h0M1082.5 723h0M1078 754.5h0M1166 645.5h0M1117 772h0M1154 606.5h0M1075 768.5h0M1145 692.5h0M1148.5 633.5h0M1117 658h0M1078 712.5h0M1134 685.5h0M1115.5 732h0M1139 614.5h0M1105.5 688.5h0M1067.5 760h0M1158.5 673.5h0M1164 625.5h0M1140.5 600.5h0M1157 685h0M1159.5 636h0M1171 661h0M1098 705.5h0M1102 788.5h0M1083.5 797h0M1073 737h0M1072.5 787h0M1114.5 669.5h0M1128 626.5h0M1136.5 750.5h0M1155.5 703.5h0M1060 776h0M1155.5 590h0M1175 559.5h0"/>
<path d="M1129 706.5h0M1099.5 740.5h0M1158 657h0M1148 646.5h0M1148 673.5h0M1126 686.5h0M1097.5 719.5h0M1140.5 699h0M1114.5 699.5h0M1109.5 724.5h0M1160.5 643.5h0M1125 751h0M1113 756h0M1121.5 738.5h0M1136.5 667.5h0M1082.5 782h0M1094 771.5h0M1121 720.5h0M1088.5 733.5h0M1130.5 645.5h0M1079 744.5h0M1133 733.5h0M1093.5 750.5h0M1140 636.5h0M1163.5 620.5h0M1077.5 723.5h0M1123 667.5h0M1102 759.5h0M1117 773h0M1113.5 712h0M1146 659h0M1089.5 761h0M1169 656h0M1113.5 688h0M1145 618.5h0M1076 770.5h0M1159.5 607.5h0M1149 709.5h0M1156 630h0M1104 694.5h0M1122.5 762h0M1105 771.5h0M1150.5 688h0M1136.5 604h0M1117 657.5h0M1070 758h0M1139.5 722h0M1148.5 602.5h0M1176.5 611h0M1139 686.5h0M1158 679h0M1109.5 788h0M1098.5 788h0M1077.5 793h0M1059 764.5h0M1125.5 632h0M1113 676h0M1160.5 668h0M1070 733.5h0M1078.5 708.5h0M1088.5 799.5h0M1159 594.5h0"/>
<path d="M1128 709h0M1106.5 742.5h0M1167.5 660.5h0M1148 646.5h0M1147 667h0M1132.5 696.5h0M1118.5 687.5h0M1094 746h0M1117 699h0M1121 746h0M1111 756h0M1160 645h0M1105 696h0M1091 718h0M1111.5 724.5h0M1100 727h0M1134.5 674h0M1090 775.5h0M1109 708.5h0M1080.5 751h0M1127.5 734.5h0M1129.5 661h0M1082.5 784.5h0M1129.5 636h0M1125.5 722h0M1137 651h0M1145.5 701.5h0M1166 620h0M1128 757.5h0M1077 716.5h0M1085 736.5h0M1126 648h0M1110.5 767.5h0M1120.5 776h0M1147.5 616h0M1076.5 765.5h0M1143 626.5h0M1142.5 682h0M1165.5 635h0M1097 759h0M1072 778.5h0M1117.5 673h0M1150 603.5h0M1062 762.5h0M1158.5 672.5h0M1143 713.5h0M1176 608.5h0M1140.5 730h0M1163 605h0M1129.5 684.5h0M1155 629.5h0M1157 656.5h0M1159.5 693.5h0M1091 794.5h0M1072 742h0M1112 785.5h0M1134.5 601.5h0M1104.5 794.5h0M1140.5 637.5h0M1107.5 682.5h0M1102.5 777.5h0M1073.5 729.5h0M1116 660h0M1139 742h0"/>
<path d="M1133.5 704h0M1104.5 743h0M1158 660.5h0M1123.5 690h0M1157.5 643.5h0M1109 703h0M1144 648h0M1092 742h0M1124 713.5h0M1089 721h0M1116.5 759.5h0M1136.5 668.5h0M1104 758.5h0M1102.5 718.5h0M1125.5 676h0M1078.5 749.5h0M1093 777h0M1102.5 731h0M1134.5 729h0M1128 739h0M1147.5 668.5h0M1138 638.5h0M1076.5 787h0M1118 746h0M1169.5 619.5h0M1145.5 696h0M1119.5 726h0M1120.5 702h0M1116 775h0M1142.5 681.5h0M1128.5 646h0M1078.5 735.5h0M1143.5 616.5h0M1113 735h0M1137.5 657.5h0M1087.5 790.5h0M1154 611.5h0M1078.5 768.5h0M1125 662h0M1114.5 668h0M1151 632h0M1112 682h0M1145.5 601h0M1066.5 754.5h0M1093.5 763.5h0M1144 716h0M1158 597.5h0M1104.5 774.5h0M1105 792h0M1153.5 679h0M1156 691h0M1168 639h0M1098 698h0M1125 630h0M1170 656h0M1061 773h0"/>
<path d="M1125 708.5h0M1107.5 733.5h0M1102 743.5h0M1162.5 662h0M1120.5 691h0M1129.5 698h0M1154.5 653h0M1140 703.5h0M1107.5 705.5h0M1133 667.5h0M1103 760.5h0M1091 741h0M1118.5 759h0M1090.5 725.5h0M1093.5 778.5h0M1140 658h0M1112 716h0M1132 740h0M1138 641.5h0M1130 682h0M1116.5 745h0M1161 642h0M1077.5 749.5h0M1134 724h0M1164.5 622.5h0M1148 672h0M1116.5 774.5h0M1123.5 729.5h0M1108.5 694.5h0M1079.5 776.5h0M1150.5 621.5h0M1134 630h0M1170 612h0M1145 611h0M1148 695h0M1079.5 724h0M1084.5 790.5h0M1141.5 685h0M1072 762.5h0M1114.5 665.5h0M1159 610.5h0M1124.5 660.5h0M1159 597.5h0M1126 638h0M1130 650h0M1090.5 761.5h0M1068.5 773h0M1112.5 786h0M1079 737h0M1157 678.5h0M1105.5 776h0M1149.5 710.5h0M1118 677.5h0M1103 792h0"/>
<path d="M1094.5 744h0M1151.5 648.5h0M1106.5 735.5h0M1161 658h0M1130.5 701h0M1114 689.5h0M1134 712.5h0M1127.5 668h0M1125 686.5h0M1115 755.5h0M1103.5 751.5h0M1115 713h0M1119.5 701h0M1134.5 738.5h0M1092 774h0M1093.5 718.5h0M1122 741.5h0M1133.5 640h0M1080.5 740.5h0M1126.5 729h0M1159 639h0M1106 703.5h0M1141 674h0M1148 638h0M1162.5 612.5h0M1143 701h0M1162.5 625h0M1092 731.5h0M1078 785h0M1150.5 661.5h0M1136.5 651h0M1113 724h0M1084.5 757.5h0M1115.5 769.5h0M1151 613h0M1081 772h0M1142.5 624.5h0M1145.5 690h0M1104.5 768.5h0M1069 766.5h0M1159 601h0M1113.5 664h0M1156.5 677.5h0M1105.5 787.5h0M1144.5 602.5h0M1080 724h0M1144 726.5h0M1116.5 675.5h0M1080.5 796h0"/>
<path d="M1099 735.5h0M1158 648h0M1127.5 696.5h0M1144.5 654.5h0M1131 670h0M1109 757h0M1135 711.5h0M1139.5 700.5h0M1115.5 711.5h0M1110.5 696h0M1167.5 660h0M1126 741h0M1128 682h0M1093.5 778.5h0M1102 718.5h0M1155 659.5h0M1141 643h0M1112.5 742.5h0M1128.5 636h0M1089 719.5h0M1125.5 721.5h0M1087.5 736.5h0M1093.5 751.5h0M1078 742.5h0M1121.5 759.5h0M1111.5 730.5h0M1168.5 613.5h0M1138 736.5h0M1132.5 650h0M1163 634.5h0M1072.5 772h0M1086.5 769h0M1142.5 667.5h0M1151 627.5h0M1081.5 788.5h0M1113.5 779.5h0M1109 769h0M1138.5 629.5h0M1145.5 690h0M1151 678h0M1154.5 605h0M1069.5 756.5h0M1166.5 601.5h0M1119 666.5h0M1141.5 607h0M1142 726h0M1141.5 618.5h0M1111 681h0"/>
<path d="M1158.5 652h0M1100.5 734h0M1121.5 703.5h0M1133 666.5h0M1118 754h0M1101 752h0M1121.5 720.5h0M1125.5 686h0M1108.5 696.5h0M1140.5 698h0M1109.5 714.5h0M1088 771h0M1125 741.5h0M1148.5 643.5h0M1134.5 711.5h0M1149 659h0M1134.5 734.5h0M1134.5 636h0M1135 647h0M1083 743h0M1096.5 722h0M1113.5 731.5h0M1081 730h0M1162.5 636h0M1164.5 613h0M1146.5 621h0M1147.5 674.5h0M1084 781.5h0M1101.5 772h0M1093 760h0M1115 778.5h0M1071 767.5h0M1125 765.5h0M1120.5 668.5h0M1167.5 661h0M1141 687h0M1146 608.5h0M1152 599h0M1114 743h0M1075 788.5h0M1076.5 756.5h0M1157.5 623.5h0M1137.5 723h0"/>
<path d="M1165 655h0M1135 671.5h0M1125 713.5h0M1095.5 734.5h0M1114 763h0M1154 650h0M1126.5 694.5h0M1113 697.5h0M1104.5 755.5h0M1116 740.5h0M1133.5 741.5h0M1120 679h0M1133.5 703h0M1128.5 662.5h0M1106 718h0M1079 741.5h0M1125 725.5h0M1089 771h0M1136.5 642h0M1138.5 692h0M1088 722h0M1106.5 734h0M1154 662.5h0M1121 753h0M1142 710h0M1148 638.5h0M1136 631h0M1164.5 642.5h0M1087.5 751.5h0M1164.5 619.5h0M1089.5 784.5h0M1077.5 773.5h0M1146 623h0M1159.5 632h0M1143 655h0M1149.5 674.5h0M1108 776.5h0M1128 651.5h0M1153.5 610h0M1076.5 761h0M1149.5 686.5h0M1101 697.5h0M1110.5 667.5h0"/>
<path d="M1128.5 707.5h0M1160.5 650h0M1100 729.5h0M1111.5 762.5h0M1128 691h0M1127 677.5h0M1123 745.5h0M1149 656.5h0M1129 731.5h0M1107.5 703.5h0M1080.5 744.5h0M1135 663.5h0M1120 717.5h0M1113 687h0M1127.5 641h0M1124 666.5h0M1094.5 773h0M1101.5 754.5h0M1108 718.5h0M1148.5 704h0M1148 644.5h0M1088.5 727h0M1094.5 744.5h0M1158 664h0M1138.5 651.5h0M1144 676.5h0M1115 736h0M1083.5 789.5h0M1134 743h0M1159 626h0M1119 701h0M1159.5 610h0M1143.5 623.5h0M1139.5 710.5h0M1170.5 617h0M1068.5 771h0M1142 693.5h0M1087.5 756.5h0M1157.5 675.5h0M1073 782.5h0M1123 759.5h0M1081 771.5h0M1107.5 786.5h0"/>
<path d="M1130.5 708h0M1095.5 735h0M1118.5 708h0M1163 650h0M1131 670h0M1119 690h0M1110 756h0M1129 742h0M1133.5 693h0M1116.5 738h0M1078.5 746.5h0M1113 723h0M1098 722.5h0M1151 660h0M1133.5 726h0M1127 680.5h0M1144 705h0M1098.5 747.5h0M1108.5 699.5h0M1090 777h0M1134 648.5h0M1087 725.5h0M1138.5 659h0M1150.5 639.5h0M1142 677.5h0M1162.5 618h0M1144.5 619h0M1141 632.5h0M1115 772h0M1130 632h0M1084 789h0M1092.5 764h0M1151.5 628.5h0M1151.5 609.5h0M1123 661.5h0M1073.5 763.5h0M1073.5 782.5h0M1122 757.5h0M1156 679.5h0M1146.5 692.5h0"/>
<path d="M1100.5 737h0M1129 707h0M1121.5 687.5h0M1129.5 718h0M1167 657.5h0M1125 741.5h0M1101.5 760h0M1084.5 738.5h0M1131.5 678.5h0M1131.5 667.5h0M1110 705h0M1081 750h0M1106.5 722h0M1122 728h0M1153.5 649h0M1090.5 773.5h0M1141.5 641h0M1135 731h0M1109 751.5h0M1152.5 664.5h0M1132.5 694h0M1140.5 703h0M1090.5 726.5h0M1105.5 694h0M1166.5 646h0M1154.5 630h0M1170.5 610.5h0M1136.5 657.5h0M1143 628h0M1081.5 791.5h0M1145.5 673h0M1111.5 770.5h0M1132.5 632h0M1093 745.5h0M1167 626h0M1151.5 607h0M1112 733.5h0M1090 762.5h0M1127.5 648.5h0M1066 762h0M1122 760.5h0"/>
<path d="M1101 729h0M1125.5 712h0M1129.5 699h0M1126.5 734h0M1125 746.5h0M1127.5 679.5h0M1113 694h0M1076 740.5h0M1109 754h0M1135.5 671h0M1112.5 705h0M1137.5 709.5h0M1150.5 657h0M1090 772h0M1112 716h0M1100.5 761h0M1139.5 649.5h0M1130.5 661h0M1088.5 750.5h0M1146 702h0M1084.5 722h0M1105.5 740.5h0M1152 670h0M1167.5 644h0M1119.5 724.5h0M1164 611.5h0M1086 733.5h0M1135 725.5h0M1154.5 637h0M1132.5 638h0M1149 619.5h0M1122.5 669h0M1137.5 690h0M1082.5 783.5h0"/>
<path d="M1099 734.5h0M1130 700.5h0M1128.5 732.5h0M1120 747h0M1128.5 713h0M1125.5 688h0M1131 678h0M1104.5 749.5h0M1113 711.5h0M1101 761h0M1107.5 694.5h0M1083 748h0M1139.5 670h0M1110 726h0M1084.5 770.5h0M1141.5 648.5h0M1146 659.5h0M1126 660.5h0M1095 776.5h0M1141 705h0M1079 732.5h0M1114 760.5h0M1111 737.5h0M1152.5 669.5h0M1095.5 722h0M1162 614.5h0M1162 642h0M1153.5 630.5h0M1158.5 656.5h0M1140 717.5h0M1083.5 790.5h0M1121 723.5h0M1141 624h0M1142.5 683.5h0M1130.5 639h0"/>
<path d="M1126 696h0M1125 684h0M1129 741h0M1126 717.5h0M1119 747h0M1103 732.5h0M1126.5 668.5h0M1138 673h0M1116 709h0M1100.5 756.5h0M1111.5 688.5h0M1137.5 713h0M1088.5 779h0M1146.5 651.5h0M1127 729h0M1109 723h0M1084 747.5h0M1149.5 669.5h0M1093 722h0M1117.5 758h0M1160 643.5h0M1148 704.5h0M1107.5 701h0M1135.5 651.5h0M1141 695h0M1163.5 611h0M1107 746.5h0M1083.5 731.5h0M1155 622.5h0M1167.5 652.5h0M1142.5 619.5h0M1087 790h0M1146.5 637h0M1126.5 639.5h0"/>
<path d="M1128 734h0M1117.5 742h0M1129.5 667.5h0M1133.5 704h0M1115.5 689h0M1101.5 749.5h0M1116 717.5h0M1099.5 735.5h0M1127 682h0M1131 717.5h0M1143 666.5h0M1138 646.5h0M1147.5 655h0M1103 723.5h0M1130 746h0M1122 703h0M1088.5 780h0M1079 748.5h0M1152.5 643h0M1089.5 721h0M1105.5 703.5h0M1116 731h0M1167 642.5h0M1096.5 761.5h0M1112.5 753.5h0M1157 629.5h0M1127.5 693h0M1144.5 622h0M1135 634h0"/>
<path d="M1117 740.5h0M1131 740.5h0M1115 686.5h0M1128 671.5h0M1123.5 749.5h0M1123 697h0M1100.5 758h0M1101 732.5h0M1128 719.5h0M1133 709h0M1129 685.5h0M1111 710h0M1077.5 744h0M1148.5 647h0M1089.5 748h0M1140.5 655.5h0M1113 726h0M1097 776h0M1140 698h0M1106.5 748.5h0M1089.5 716.5h0M1088 728.5h0M1158 641h0M1144.5 673h0M1152 623.5h0M1133 645h0M1106 699h0M1079.5 785.5h0M1139.5 718.5h0"/>
<path d="M1120 744h0M1119.5 696.5h0M1129.5 674.5h0M1102.5 725.5h0M1094.5 737h0M1126 715.5h0M1130.5 733h0M1138 706.5h0M1120.5 725.5h0M1126 661h0M1096.5 751.5h0M1080 749.5h0M1143 656.5h0M1091 774h0M1144 643h0M1132 687h0M1133 647.5h0M1108 715.5h0M1090.5 717h0M1108 701.5h0M1146.5 676.5h0M1111.5 751.5h0M1101.5 763.5h0M1161 649.5h0M1108.5 737.5h0M1152.5 631.5h0"/>
<path d="M1122 737.5h0M1118.5 689.5h0M1125.5 680.5h0M1125 700h0M1137.5 668h0M1097.5 737h0M1120.5 720.5h0M1133 732h0M1105 726.5h0M1140.5 712h0M1116 749.5h0M1086.5 747.5h0M1145 646.5h0M1149 660h0M1097 756h0M1097 778h0M1089.5 726.5h0M1108.5 704h0M1110 715.5h0M1089.5 768.5h0M1158.5 649.5h0M1129.5 747h0M1127 664.5h0M1145 627h0M1108.5 738.5h0"/>
<path d="M1124.5 740h0M1120.5 690h0M1128.5 680h0M1119.5 722.5h0M1102.5 732h0M1133.5 706.5h0M1133 717.5h0M1115.5 703.5h0M1082.5 750.5h0M1133.5 659h0M1125 751h0M1108 719h0M1093.5 774.5h0M1147 655h0M1144.5 641h0M1102.5 755.5h0M1146.5 667h0M1110.5 746h0M1135.5 735.5h0"/>
<path d="M1128 739h0M1113.5 691.5h0M1127.5 674.5h0M1112 720h0M1102 739h0M1132.5 697h0M1129.5 724.5h0M1129 708h0M1119 729.5h0M1115.5 703.5h0M1078.5 744.5h0M1088.5 773h0M1083.5 755.5h0M1143.5 708.5h0M1110.5 754h0M1144 676.5h0M1103 765h0M1147 655h0M1148.5 643h0"/>
<path d="M1130 741.5h0M1118 686h0M1128.5 680.5h0M1102 740.5h0M1130.5 704h0M1138.5 713h0M1120 710h0M1111 724.5h0M1133.5 665.5h0M1085 757.5h0M1119 742h0M1076.5 745.5h0M1146.5 673.5h0M1094 780h0"/>
<path d="M1123 739.5h0M1125.5 680.5h0M1130.5 670.5h0M1137 708.5h0M1105 730h0M1097.5 740h0M1119 728h0M1128 696.5h0M1115.5 703.5h0M1078.5 752.5h0M1112.5 747.5h0M1110 716.5h0M1125 715h0M1115.5 692h0"/>
<path d="M1123 736h0M1122 678.5h0M1120 689.5h0M1126.5 705.5h0M1136.5 711h0M1094.5 737.5h0M1115 723.5h0M1127.5 668h0M1134 680.5h0M1082 750h0"/>
<path d="M1131 737.5h0M1127 679h0M1135.5 707h0M1111 725h0M1101.5 738.5h0M1125.5 699h0M1122.5 746.5h0"/>
<path d="M1125 735h0M1120.5 687h0M1126.5 676h0M1100 738h0M1131.5 706.5h0M1118 704.5h0M1109.5 717h0"/>
<path d="M1127 744h0M1130 682h0M1138.5 706h0M1129 699h0M1119 686h0"/>
<path d="M1127.5 741.5h0M1126.5 678.5h0M1129 697h0M1124.5 709h0"/>
<path d="M1131 678.5h0M1125.5 738.5h0"/>
<path d="M1129.5 680h0"/>
<path d="M1126 676h0"/>
</g>
</g>
<rect x="1002.4" y="276.5" width="53.8" height="18.8" fill="#ff0000" fill-opacity="0.4"/>
<text x="1075.2" y="295.5" font-size="26.5" fill="#333333" font-family="'Liberation Sans', Arial, Helvetica, sans-serif" textLength="156.04" lengthAdjust="spacingAndGlyphs" stroke="#333" stroke-width="0.3">Fast tracklets</text>
<rect x="1002.4" y="313.9" width="53.8" height="18.8" fill="#0000ff" fill-opacity="0.4"/>
<text x="1076.13" y="332.8" font-size="26.5" fill="#333333" font-family="'Liberation Sans', Arial, Helvetica, sans-serif" textLength="160.55" lengthAdjust="spacingAndGlyphs" stroke="#333" stroke-width="0.3">Slow tracklets</text>
<rect x="1002.4" y="351.3" width="53.8" height="18.8" fill="#666666" fill-opacity="0.4"/>
<text x="1074.94" y="369.9" font-size="26.5" fill="#333333" font-family="'Liberation Sans', Arial, Helvetica, sans-serif" textLength="211.22" lengthAdjust="spacingAndGlyphs" stroke="#333" stroke-width="0.3">Immobile tracklets</text>
<path d="M1127.1 688.9H1149.5M1138.3 677.7V700.1" stroke="#000" stroke-width="2.8"/>
<text x="1009.4" y="695.5" font-size="21.5" fill="#3a3a3a" font-family="'Liberation Sans', Arial, Helvetica, sans-serif" textLength="110.9" lengthAdjust="spacingAndGlyphs" stroke="#3a3a3a" stroke-width="0.3">(0.01, 0.21)</text>
<path d="M1244.6 598.7H1267M1255.8 587.5V609.9" stroke="#000" stroke-width="2.8"/>
<text x="1126.56" y="604.8" font-size="21.5" fill="#3a3a3a" font-family="'Liberation Sans', Arial, Helvetica, sans-serif" textLength="112.8" lengthAdjust="spacingAndGlyphs" stroke="#3a3a3a" stroke-width="0.3">(0.11, 0.37)</text>
<path d="M1337.8 591.3H1360.2M1349 580.1V602.5" stroke="#000" stroke-width="2.8"/>
<text x="1366.76" y="597" font-size="21.5" fill="#3a3a3a" font-family="'Liberation Sans', Arial, Helvetica, sans-serif" textLength="112.8" lengthAdjust="spacingAndGlyphs" stroke="#3a3a3a" stroke-width="0.3">(1.11, 0.39)</text>
<text x="126" y="811.6" font-size="21.5" text-anchor="end" fill="#1a1a1a" font-family="'Liberation Sans', Arial, Helvetica, sans-serif" stroke="#1a1a1a" stroke-width="0.45">0.0</text>
<text x="126" y="700.7" font-size="21.5" text-anchor="end" fill="#1a1a1a" font-family="'Liberation Sans', Arial, Helvetica, sans-serif" stroke="#1a1a1a" stroke-width="0.45">0.2</text>
<text x="126" y="589.8" font-size="21.5" text-anchor="end" fill="#1a1a1a" font-family="'Liberation Sans', Arial, Helvetica, sans-serif" stroke="#1a1a1a" stroke-width="0.45">0.4</text>
<text x="126" y="478.9" font-size="21.5" text-anchor="end" fill="#1a1a1a" font-family="'Liberation Sans', Arial, Helvetica, sans-serif" stroke="#1a1a1a" stroke-width="0.45">0.6</text>
<text x="126" y="368" font-size="21.5" text-anchor="end" fill="#1a1a1a" font-family="'Liberation Sans', Arial, Helvetica, sans-serif" stroke="#1a1a1a" stroke-width="0.45">0.8</text>
<text x="126" y="257.1" font-size="21.5" text-anchor="end" fill="#1a1a1a" font-family="'Liberation Sans', Arial, Helvetica, sans-serif" stroke="#1a1a1a" stroke-width="0.45">1.0</text>
<text x="114.9" y="841.4" font-size="20.5" text-anchor="start" fill="#1a1a1a" font-family="'Liberation Sans', Arial, Helvetica, sans-serif" stroke="#1a1a1a" stroke-width="0.45">10</text>
<text x="139.2" y="826.1" font-size="15" text-anchor="start" fill="#1a1a1a" font-family="'Liberation Sans', Arial, Helvetica, sans-serif" stroke="#1a1a1a" stroke-width="0.45">-4</text>
<text x="206.77" y="841.4" font-size="20.5" text-anchor="start" fill="#1a1a1a" font-family="'Liberation Sans', Arial, Helvetica, sans-serif" stroke="#1a1a1a" stroke-width="0.45">10</text>
<text x="231.07" y="826.1" font-size="15" text-anchor="start" fill="#1a1a1a" font-family="'Liberation Sans', Arial, Helvetica, sans-serif" stroke="#1a1a1a" stroke-width="0.45">-3</text>
<text x="298.64" y="841.4" font-size="20.5" text-anchor="start" fill="#1a1a1a" font-family="'Liberation Sans', Arial, Helvetica, sans-serif" stroke="#1a1a1a" stroke-width="0.45">10</text>
<text x="322.94" y="826.1" font-size="15" text-anchor="start" fill="#1a1a1a" font-family="'Liberation Sans', Arial, Helvetica, sans-serif" stroke="#1a1a1a" stroke-width="0.45">-2</text>
<text x="390.51" y="841.4" font-size="20.5" text-anchor="start" fill="#1a1a1a" font-family="'Liberation Sans', Arial, Helvetica, sans-serif" stroke="#1a1a1a" stroke-width="0.45">10</text>
<text x="414.81" y="826.1" font-size="15" text-anchor="start" fill="#1a1a1a" font-family="'Liberation Sans', Arial, Helvetica, sans-serif" stroke="#1a1a1a" stroke-width="0.45">-1</text>
<text x="482.38" y="841.4" font-size="20.5" text-anchor="start" fill="#1a1a1a" font-family="'Liberation Sans', Arial, Helvetica, sans-serif" stroke="#1a1a1a" stroke-width="0.45">10</text>
<text x="506.68" y="826.1" font-size="15" text-anchor="start" fill="#1a1a1a" font-family="'Liberation Sans', Arial, Helvetica, sans-serif" stroke="#1a1a1a" stroke-width="0.45">0</text>
<text x="574.25" y="841.4" font-size="20.5" text-anchor="start" fill="#1a1a1a" font-family="'Liberation Sans', Arial, Helvetica, sans-serif" stroke="#1a1a1a" stroke-width="0.45">10</text>
<text x="598.55" y="826.1" font-size="15" text-anchor="start" fill="#1a1a1a" font-family="'Liberation Sans', Arial, Helvetica, sans-serif" stroke="#1a1a1a" stroke-width="0.45">1</text>
<text x="666.12" y="841.4" font-size="20.5" text-anchor="start" fill="#1a1a1a" font-family="'Liberation Sans', Arial, Helvetica, sans-serif" stroke="#1a1a1a" stroke-width="0.45">10</text>
<text x="690.42" y="826.1" font-size="15" text-anchor="start" fill="#1a1a1a" font-family="'Liberation Sans', Arial, Helvetica, sans-serif" stroke="#1a1a1a" stroke-width="0.45">2</text>
<text x="352.19" y="881.9" font-size="28" fill="#1a1a1a" font-family="'Liberation Serif', 'Times New Roman', serif" font-style="italic" textLength="21.01" lengthAdjust="spacingAndGlyphs" stroke="#1a1a1a" stroke-width="0.3">D</text>
<text x="379.7" y="882.2" font-size="28" fill="#1a1a1a" font-family="'Liberation Serif', 'Times New Roman', serif" textLength="6.66" lengthAdjust="spacingAndGlyphs" stroke="#1a1a1a" stroke-width="0.3">[</text>
<text x="387.2" y="881.9" font-size="28" fill="#1a1a1a" font-family="'Liberation Serif', 'Times New Roman', serif" font-style="italic" textLength="13.24" lengthAdjust="spacingAndGlyphs" stroke="#1a1a1a" stroke-width="0.3">&#956;</text>
<text x="399.2" y="881.9" font-size="28" fill="#1a1a1a" font-family="'Liberation Serif', 'Times New Roman', serif" textLength="23.33" lengthAdjust="spacingAndGlyphs" stroke="#1a1a1a" stroke-width="0.3">m</text>
<text x="423.54" y="872.3" font-size="19.5" fill="#1a1a1a" font-family="'Liberation Serif', 'Times New Roman', serif" textLength="10.62" lengthAdjust="spacingAndGlyphs" stroke="#1a1a1a" stroke-width="0.3">2</text>
<text x="436.9" y="887.2" font-size="36" fill="#1a1a1a" font-family="'Liberation Serif', 'Times New Roman', serif" textLength="10.71" lengthAdjust="spacingAndGlyphs" stroke="#1a1a1a" stroke-width="0.3">/</text>
<text x="447.57" y="881.9" font-size="28" fill="#1a1a1a" font-family="'Liberation Serif', 'Times New Roman', serif" textLength="11.98" lengthAdjust="spacingAndGlyphs" stroke="#1a1a1a" stroke-width="0.6">s</text>
<text x="458.98" y="882.2" font-size="28" fill="#1a1a1a" font-family="'Liberation Serif', 'Times New Roman', serif" textLength="5.92" lengthAdjust="spacingAndGlyphs" stroke="#1a1a1a" stroke-width="0.3">]</text>
<text transform="translate(78,554.5) rotate(-90)" x="-0.33" y="0" font-size="28" fill="#1a1a1a" font-family="'Liberation Serif', 'Times New Roman', serif" font-style="italic" textLength="16.32" lengthAdjust="spacingAndGlyphs" stroke="#1a1a1a" stroke-width="0.3">S</text>
<text transform="translate(81.1,541) rotate(-90)" x="-0.59" y="0" font-size="20" fill="#1a1a1a" font-family="'Liberation Serif', 'Times New Roman', serif" textLength="39.3" lengthAdjust="spacingAndGlyphs" stroke="#1a1a1a" stroke-width="0.3">MSS</text>
<text x="971.3" y="811.6" font-size="21.5" text-anchor="end" fill="#1a1a1a" font-family="'Liberation Sans', Arial, Helvetica, sans-serif" stroke="#1a1a1a" stroke-width="0.45">0.0</text>
<text x="971.3" y="700.7" font-size="21.5" text-anchor="end" fill="#1a1a1a" font-family="'Liberation Sans', Arial, Helvetica, sans-serif" stroke="#1a1a1a" stroke-width="0.45">0.2</text>
<text x="971.3" y="589.8" font-size="21.5" text-anchor="end" fill="#1a1a1a" font-family="'Liberation Sans', Arial, Helvetica, sans-serif" stroke="#1a1a1a" stroke-width="0.45">0.4</text>
<text x="971.3" y="478.9" font-size="21.5" text-anchor="end" fill="#1a1a1a" font-family="'Liberation Sans', Arial, Helvetica, sans-serif" stroke="#1a1a1a" stroke-width="0.45">0.6</text>
<text x="971.3" y="368" font-size="21.5" text-anchor="end" fill="#1a1a1a" font-family="'Liberation Sans', Arial, Helvetica, sans-serif" stroke="#1a1a1a" stroke-width="0.45">0.8</text>
<text x="971.3" y="257.1" font-size="21.5" text-anchor="end" fill="#1a1a1a" font-family="'Liberation Sans', Arial, Helvetica, sans-serif" stroke="#1a1a1a" stroke-width="0.45">1.0</text>
<text x="960.2" y="841.4" font-size="20.5" text-anchor="start" fill="#1a1a1a" font-family="'Liberation Sans', Arial, Helvetica, sans-serif" stroke="#1a1a1a" stroke-width="0.45">10</text>
<text x="984.5" y="826.1" font-size="15" text-anchor="start" fill="#1a1a1a" font-family="'Liberation Sans', Arial, Helvetica, sans-serif" stroke="#1a1a1a" stroke-width="0.45">-4</text>
<text x="1052.07" y="841.4" font-size="20.5" text-anchor="start" fill="#1a1a1a" font-family="'Liberation Sans', Arial, Helvetica, sans-serif" stroke="#1a1a1a" stroke-width="0.45">10</text>
<text x="1076.37" y="826.1" font-size="15" text-anchor="start" fill="#1a1a1a" font-family="'Liberation Sans', Arial, Helvetica, sans-serif" stroke="#1a1a1a" stroke-width="0.45">-3</text>
<text x="1143.94" y="841.4" font-size="20.5" text-anchor="start" fill="#1a1a1a" font-family="'Liberation Sans', Arial, Helvetica, sans-serif" stroke="#1a1a1a" stroke-width="0.45">10</text>
<text x="1168.24" y="826.1" font-size="15" text-anchor="start" fill="#1a1a1a" font-family="'Liberation Sans', Arial, Helvetica, sans-serif" stroke="#1a1a1a" stroke-width="0.45">-2</text>
<text x="1235.81" y="841.4" font-size="20.5" text-anchor="start" fill="#1a1a1a" font-family="'Liberation Sans', Arial, Helvetica, sans-serif" stroke="#1a1a1a" stroke-width="0.45">10</text>
<text x="1260.11" y="826.1" font-size="15" text-anchor="start" fill="#1a1a1a" font-family="'Liberation Sans', Arial, Helvetica, sans-serif" stroke="#1a1a1a" stroke-width="0.45">-1</text>
<text x="1327.68" y="841.4" font-size="20.5" text-anchor="start" fill="#1a1a1a" font-family="'Liberation Sans', Arial, Helvetica, sans-serif" stroke="#1a1a1a" stroke-width="0.45">10</text>
<text x="1351.98" y="826.1" font-size="15" text-anchor="start" fill="#1a1a1a" font-family="'Liberation Sans', Arial, Helvetica, sans-serif" stroke="#1a1a1a" stroke-width="0.45">0</text>
<text x="1419.55" y="841.4" font-size="20.5" text-anchor="start" fill="#1a1a1a" font-family="'Liberation Sans', Arial, Helvetica, sans-serif" stroke="#1a1a1a" stroke-width="0.45">10</text>
<text x="1443.85" y="826.1" font-size="15" text-anchor="start" fill="#1a1a1a" font-family="'Liberation Sans', Arial, Helvetica, sans-serif" stroke="#1a1a1a" stroke-width="0.45">1</text>
<text x="1511.42" y="841.4" font-size="20.5" text-anchor="start" fill="#1a1a1a" font-family="'Liberation Sans', Arial, Helvetica, sans-serif" stroke="#1a1a1a" stroke-width="0.45">10</text>
<text x="1535.72" y="826.1" font-size="15" text-anchor="start" fill="#1a1a1a" font-family="'Liberation Sans', Arial, Helvetica, sans-serif" stroke="#1a1a1a" stroke-width="0.45">2</text>
<text x="1197.49" y="881.9" font-size="28" fill="#1a1a1a" font-family="'Liberation Serif', 'Times New Roman', serif" font-style="italic" textLength="21.01" lengthAdjust="spacingAndGlyphs" stroke="#1a1a1a" stroke-width="0.3">D</text>
<text x="1225" y="882.2" font-size="28" fill="#1a1a1a" font-family="'Liberation Serif', 'Times New Roman', serif" textLength="6.66" lengthAdjust="spacingAndGlyphs" stroke="#1a1a1a" stroke-width="0.3">[</text>
<text x="1232.5" y="881.9" font-size="28" fill="#1a1a1a" font-family="'Liberation Serif', 'Times New Roman', serif" font-style="italic" textLength="13.24" lengthAdjust="spacingAndGlyphs" stroke="#1a1a1a" stroke-width="0.3">&#956;</text>
<text x="1244.5" y="881.9" font-size="28" fill="#1a1a1a" font-family="'Liberation Serif', 'Times New Roman', serif" textLength="23.33" lengthAdjust="spacingAndGlyphs" stroke="#1a1a1a" stroke-width="0.3">m</text>
<text x="1268.84" y="872.3" font-size="19.5" fill="#1a1a1a" font-family="'Liberation Serif', 'Times New Roman', serif" textLength="10.62" lengthAdjust="spacingAndGlyphs" stroke="#1a1a1a" stroke-width="0.3">2</text>
<text x="1282.2" y="887.2" font-size="36" fill="#1a1a1a" font-family="'Liberation Serif', 'Times New Roman', serif" textLength="10.71" lengthAdjust="spacingAndGlyphs" stroke="#1a1a1a" stroke-width="0.3">/</text>
<text x="1292.87" y="881.9" font-size="28" fill="#1a1a1a" font-family="'Liberation Serif', 'Times New Roman', serif" textLength="11.98" lengthAdjust="spacingAndGlyphs" stroke="#1a1a1a" stroke-width="0.6">s</text>
<text x="1304.28" y="882.2" font-size="28" fill="#1a1a1a" font-family="'Liberation Serif', 'Times New Roman', serif" textLength="5.92" lengthAdjust="spacingAndGlyphs" stroke="#1a1a1a" stroke-width="0.3">]</text>
<text transform="translate(923.3,554.5) rotate(-90)" x="-0.33" y="0" font-size="28" fill="#1a1a1a" font-family="'Liberation Serif', 'Times New Roman', serif" font-style="italic" textLength="16.32" lengthAdjust="spacingAndGlyphs" stroke="#1a1a1a" stroke-width="0.3">S</text>
<text transform="translate(926.4,541) rotate(-90)" x="-0.59" y="0" font-size="20" fill="#1a1a1a" font-family="'Liberation Serif', 'Times New Roman', serif" textLength="39.3" lengthAdjust="spacingAndGlyphs" stroke="#1a1a1a" stroke-width="0.3">MSS</text>
<path d="M132.8 928.2V1485.5M227.1 928.2V1485.5M321.4 928.2V1485.5M415.7 928.2V1485.5M510 928.2V1485.5M604.3 928.2V1485.5M132.8 1429.2H698.6M132.8 1317.9H698.6M132.8 1206.6H698.6M132.8 1095.3H698.6M132.8 984H698.6" stroke="#EDEDF1" stroke-width="1.6" fill="none"/>
<clipPath id="clip0"><rect x="132.8" y="928.2" width="565.8" height="557.3"/></clipPath>
<g clip-path="url(#clip0)">
<path d="M238.89 1446.6L249.5 1447.89L261.28 1447.68L273.07 1445.94L286.04 1442.56L304.9 1435.61L339.08 1420.46L354.4 1414.48L367.37 1410.91L394.48 1405.94L407.45 1402.11L417.47 1397.9L436.92 1386.97L440.45 1385.74L443.99 1385.92L447.53 1387.7L463.89 1401.38L472.28 1407.08L479.35 1410.18L486.43 1411.4L491.14 1411.12L494.68 1410.34L499.39 1408.55L504.11 1405.93L508.82 1402.46L513.54 1398.09L518.25 1392.69L521.79 1387.8L527.93 1377.03L534.58 1361.38L545.88 1330.07L554.04 1303.99L560.13 1279.64L566.81 1246.6L569.92 1227.47L571.27 1211.82L571.39 1199.64L570.56 1183.99L566.38 1142.25L563.51 1107.47L562.05 1095.3L559.91 1083.13L554.1 1058.78L552.44 1050.08L551.39 1039.65L550.76 1020.52L549.51 1011.83L547.87 1006.61L546.13 1003.13L543 999.03L539.47 996.11L534.75 993.78L528.86 992.44L522.97 992.26L515.89 993.17L506.46 995.7L486.43 1003.15L477 1005.93L467.56 1007.49L449.88 1008.94L442.81 1010.44L435.74 1013.21L429.85 1016.77L425.13 1020.53L420.42 1025.15L415.7 1030.7L410.99 1037.18L402.14 1051.82L385.05 1084.42L380.34 1091.92L374.83 1098.78L369.73 1103.39L365.01 1106.48L359.49 1109.21L344.98 1115.14L337.9 1118.59L329.65 1123.57L321.4 1129.71L311.97 1138.22L302.54 1148.35L294.29 1158.56L284.83 1171.82L276.61 1184.66L267.79 1199.64L217.42 1290.08L207.68 1310.94L202.98 1323.12L194.54 1347.46L188.94 1359.64L185.75 1364.85L181.13 1371.02L164.15 1389.2L161.77 1392.68L160.4 1396.16L160.29 1399.64L160.76 1401.38L162.76 1404.85L168.17 1410.07L175.59 1415.29L199.99 1430.11L215.31 1438.45L228.28 1443.82L238.89 1446.6Z" fill="#f6f6fa" fill-rule="evenodd"/>
<path d="M244.78 1432.71L253.03 1433.69L262.46 1433.7L273.07 1432.44L282.5 1430.36L293.11 1427.04L303.72 1422.86L315.51 1417.3L327.29 1410.81L336.64 1404.85L343.73 1399.64L349.73 1394.42L354.59 1389.2L357.16 1385.72L360.06 1380.51L366.19 1363.85L368.55 1360.15L370.8 1357.9L375.62 1355.34L388.59 1352.16L396.84 1348.51L405.09 1342.96L425.12 1326.6L436.84 1317.9L446.35 1312.18L453.42 1309.45L458.13 1308.96L460.49 1309.33L462.85 1310.31L466.39 1313.41L468.74 1317.18L471.08 1323.12L472.53 1328.33L478.17 1357.17L480.14 1364.85L482.89 1371.31L486.43 1375.73L489.96 1377.88L493.5 1378.61L497.03 1378.25L500.57 1376.95L504.11 1374.78L507.64 1371.77L511.18 1367.94L515.89 1361.62L524.14 1347.63L531.75 1331.81L538.67 1314.42L544.3 1297.03L550.4 1272.68L556.5 1241.38L559.18 1223.99L560.2 1208.34L560.01 1199.64L559.3 1190.95L553.02 1149.21L551.91 1137.04L550.22 1109.21L549.19 1100.52L547.58 1091.82L545.26 1083.13L542.16 1074.43L532.05 1051.82L525.71 1036.17L523.95 1032.69L521.79 1029.54L518.25 1026.35L515.89 1025.12L512.36 1024.17L508.82 1023.97L504.11 1024.52L498.21 1026.03L484.07 1030.8L477 1032.58L469.92 1033.58L453.42 1034.62L446.35 1035.82L439.27 1038.24L432.2 1042.33L427.49 1046.14L422.77 1050.93L418.06 1056.76L413.34 1063.69L405.35 1077.91L388.59 1112.3L382.7 1121.92L377.98 1127.61L373.26 1131.57L368.55 1134.08L362.66 1135.83L348.51 1138.16L341.44 1140L333.19 1143.39L324.94 1148.27L315.51 1155.71L306.08 1165.1L296.65 1176.41L287.22 1189.6L277.79 1204.5L266.5 1223.99L236.25 1277.9L224.7 1300.51L219.41 1312.68L214.93 1324.86L205.1 1357.9L197.03 1380.51L195.14 1387.46L194.68 1394.42L195.25 1397.9L196.44 1401.38L199.99 1407.28L205.83 1413.55L214.85 1420.5L224.74 1426.15L234.17 1430.02L244.78 1432.71Z" fill="#f0f0f7" fill-rule="evenodd"/>
<path d="M253.03 1424.03L260.11 1424.44L268.36 1424.03L276.61 1422.78L284.86 1420.74L293.11 1417.99L301.36 1414.54L309.61 1410.37L317.86 1405.36L323.76 1401.08L329.4 1396.16L334.17 1390.94L337.85 1385.72L342.16 1377.03L349.33 1356.16L353.23 1346.72L357.94 1338.14L360.3 1334.92L363.33 1331.81L367.37 1329.24L370.91 1328.2L388.59 1327.79L393.3 1326.8L399.2 1324.52L408.63 1318.81L427.49 1304.63L438.1 1297.34L447.53 1291.81L454.6 1288.76L461.67 1287.25L467.56 1287.72L472.28 1289.89L475.99 1293.55L478.17 1297.07L480.53 1302.75L486.43 1325.02L489.22 1333.55L492.32 1339.84L495.86 1343.98L498.21 1345.41L500.57 1346L502.93 1345.88L505.28 1345.16L507.64 1343.91L511.18 1341.14L517.07 1334.41L522.97 1325.18L528.86 1313.27L533.87 1300.51L538.29 1286.41L543.25 1265.73L549.16 1234.43L551.18 1220.51L551.9 1208.34L551.63 1199.64L550.45 1189.21L544.49 1159.65L542.82 1149.21L541.88 1138.78L540.73 1112.69L538.7 1098.78L535.51 1088.34L531.22 1079.66L525.32 1071.72L519.43 1066.29L513.54 1062.7L510 1061.35L506.46 1060.59L500.57 1060.44L485.25 1063.09L479.35 1063.15L473.46 1061.87L460.49 1057.35L453.42 1055.99L448.7 1055.91L443.99 1056.61L439.27 1058.17L435.74 1059.95L429.85 1064.21L425.13 1068.86L420.42 1074.71L415.96 1081.39L407.45 1097.28L389.77 1136.16L383.87 1146.08L377.98 1152.95L373.26 1156.28L370.91 1157.3L367.37 1158.13L362.66 1158.26L350.87 1156.92L343.8 1156.91L336.72 1158.19L329.65 1160.88L321.4 1165.76L313.15 1172.46L304.9 1180.88L295.47 1192.51L284.6 1208.34L270.98 1230.95L245.32 1276.16L232.84 1300.51L226.24 1316.16L221.56 1330.07L217.45 1345.73L210.38 1377.03L209.33 1387.46L210.19 1394.42L211.33 1397.9L213.03 1401.38L216.81 1406.59L223.56 1412.76L228.28 1415.91L232.99 1418.42L242.42 1421.97L253.03 1424.03Z" fill="#eaeaf3" fill-rule="evenodd"/>
<path d="M249.5 1415.35L256.57 1416.53L264.82 1416.81L271.89 1416.23L280.14 1414.68L288.4 1412.23L296.65 1408.91L303.72 1405.3L310.79 1400.85L316.82 1396.16L322.17 1390.94L326.38 1385.72L329.71 1380.51L334.7 1370.07L346.15 1340.29L353.23 1323.31L357.94 1314.02L360.3 1310.56L362.66 1308.07L365.01 1306.56L368.55 1305.8L372.09 1306.25L381.52 1309.03L386.23 1309.8L390.95 1309.69L396.84 1308.21L401.56 1306.05L406.27 1303.19L426.31 1288.6L438.1 1280.7L446.35 1275.83L453.42 1272.59L460.49 1270.69L467.56 1270.35L473.46 1271.35L479.35 1273.94L483.92 1277.9L487.6 1283.62L490.21 1290.08L495.86 1308.32L498.21 1313.47L500.57 1316.77L504.11 1319.18L507.64 1319.33L511.18 1317.75L515.89 1313.36L520.61 1306.54L525.32 1297.12L528.86 1287.97L532.4 1276.33L535.93 1261.18L542.18 1229.21L543.8 1218.77L544.57 1208.34L544.21 1197.9L542.75 1187.47L535.59 1157.91L533.7 1147.47L532.9 1138.78L532.17 1116.17L530.76 1105.73L528.86 1098.94L526.5 1093.56L523.04 1088.34L519.43 1084.74L515.89 1082.42L512.36 1080.99L508.82 1080.32L504.11 1080.4L497.03 1082.23L481.71 1088.83L478.17 1089.63L474.64 1089.65L472.28 1089.17L468.74 1087.67L455.78 1078.6L449.88 1075.97L446.35 1075.33L442.81 1075.4L439.27 1076.2L435.74 1077.72L431.02 1080.88L426.31 1085.39L421.59 1091.33L416.88 1098.74L408.63 1115.27L395.66 1146.95L389.77 1159.95L386.23 1166.48L382.7 1171.95L376.8 1178.69L373.26 1181.25L370.91 1182.27L368.55 1182.73L366.19 1182.64L361.48 1181.08L352.05 1175.92L346.15 1173.56L342.62 1172.78L339.08 1172.52L332.01 1173.48L324.94 1176.28L316.69 1181.63L308.43 1189.02L300.18 1198.29L290.75 1210.96L280.14 1227.34L261.59 1258.77L247.02 1284.86L239.2 1300.51L233.96 1312.68L229.63 1324.86L225.81 1338.77L222 1357.9L219.56 1375.29L219.52 1385.72L221 1392.68L222.45 1396.16L224.49 1399.64L227.28 1403.11L231 1406.59L235.35 1409.65L239.35 1411.81L244.78 1414.01L249.5 1415.35Z" fill="#e4e4f0" fill-rule="evenodd"/>
<path d="M264.82 1410.07L273.07 1409.49L281.32 1407.81L289.57 1405.06L297.48 1401.38L304.9 1396.8L310.79 1392.14L316.69 1386.12L321.4 1379.82L325.11 1373.55L329.65 1364.13L335.13 1350.94L341.03 1335.29L348.16 1312.68L357.94 1273.12L360.3 1266.15L361.48 1263.82L362.66 1262.44L363.84 1262.09L365.01 1262.73L366.19 1264.19L373.63 1277.9L378.81 1284.86L383.87 1289.06L386.23 1290.26L389.77 1291.23L392.12 1291.39L395.66 1290.97L399.2 1289.88L402.73 1288.23L408.63 1284.66L447.53 1258.4L454.6 1254.94L458.13 1253.95L461.67 1253.57L467.56 1254.01L474.64 1255.58L481.71 1257.76L487.9 1260.51L492.32 1263.59L495.96 1267.47L499.26 1272.68L504.5 1283.12L507.64 1287.18L508.82 1287.93L511.18 1288.3L513.54 1287.32L515.89 1285.14L518.25 1281.77L520.61 1277.15L522.97 1271.1L525.32 1263.37L535.81 1220.51L537.14 1211.82L537.57 1203.12L537.02 1194.43L535.19 1183.99L532.4 1173.7L526.25 1154.43L524.26 1145.73L523.36 1137.04L522.9 1119.65L521.79 1111.82L520.52 1107.47L518.93 1104L517.07 1101.19L514.71 1098.78L511.18 1096.72L507.64 1095.92L504.11 1096.09L500.57 1097.03L493.98 1100.52L480.53 1110.38L477 1111.89L474.64 1112.27L471.1 1111.81L466.39 1109.44L453.42 1098.25L449.88 1095.78L446.35 1094.12L441.63 1093.32L438.1 1093.8L433.38 1095.89L429.85 1098.54L426.31 1102.14L422.77 1106.7L416.18 1117.91L409.24 1133.56L395.66 1170.52L388.59 1187.18L382.7 1198.82L373.26 1215.36L368.55 1222.37L366.19 1224.29L365.01 1224.36L363.84 1223.61L362.66 1222.04L355.02 1204.86L349.69 1195.98L346.86 1192.69L343.8 1190.05L340.26 1188.01L336.72 1186.88L333.19 1186.52L328.47 1187.08L323.76 1188.68L319.04 1191.18L314.33 1194.51L309.61 1198.59L304.9 1203.37L299 1210.24L289.57 1223.03L277.79 1241.31L260.19 1270.95L248.84 1291.81L242.25 1305.73L236.8 1319.64L232.67 1333.55L229.79 1347.46L227.71 1363.12L227.07 1375.29L227.34 1380.51L228.21 1385.72L230.78 1392.68L232.96 1396.16L235.98 1399.64L240.07 1403.01L243.6 1405.16L248.32 1407.26L253.03 1408.7L258.93 1409.74L264.82 1410.07Z" fill="#dedeec" fill-rule="evenodd"/>
<path d="M260.11 1403.15L266 1403.64L271.89 1403.38L277.79 1402.44L283.68 1400.84L289.57 1398.58L294.48 1396.16L300.09 1392.68L304.9 1388.96L309.61 1384.47L313.04 1380.51L320.02 1370.07L326.99 1356.16L334.07 1338.77L340.04 1319.64L342.41 1309.2L344.2 1298.77L345.67 1286.6L346.78 1272.68L347.84 1243.12L346.97 1227.47L345.81 1220.51L344.4 1215.3L342.62 1210.77L340.22 1206.6L336.72 1202.81L333.19 1200.7L329.65 1199.81L324.94 1200.05L321.4 1201.09L316.69 1203.45L311.97 1206.76L307.25 1210.91L302.54 1215.81L296.65 1222.85L289.57 1232.43L282.5 1242.93L263.23 1274.42L251.09 1297.03L246.31 1307.47L242.86 1316.16L238.05 1331.81L235.05 1347.46L233.59 1364.85L233.66 1371.81L234.43 1378.77L235.75 1383.98L237.16 1387.46L239.17 1390.94L242.42 1394.81L246.21 1397.9L250.68 1400.39L255.39 1402.11L260.11 1403.15ZM393.3 1267.76L395.66 1268.64L398.02 1268.9L401.56 1268.44L405.09 1267.31L418.06 1260.8L429.85 1253.56L436.92 1248.16L444.15 1241.38L450.36 1234.43L459.31 1223.12L461.67 1221.07L462.85 1220.8L464.03 1221.31L465.21 1222.7L470.1 1230.95L474.58 1236.16L479.35 1239.69L486.43 1242.79L498.21 1245.4L502.93 1245.9L506.46 1245.84L510 1244.97L512.36 1243.72L514.71 1241.76L517.07 1239.06L520.61 1233.71L524.14 1226.92L526.5 1221.33L528.47 1215.3L530.35 1204.86L530.55 1199.64L530.11 1192.69L528.48 1183.99L525.12 1173.56L520.61 1163.59L508.95 1142.25L507.13 1137.04L505.37 1128.34L504.11 1126.02L502.93 1125.48L501.75 1125.79L500.57 1126.72L498.5 1130.08L494.44 1138.78L492.2 1142.25L488.78 1146.37L482.89 1151.46L480.53 1152.72L478.17 1153.24L475.82 1152.62L473.46 1150.35L465.17 1135.3L459.68 1126.6L453.42 1118.62L447.53 1113.3L443.99 1111.41L441.63 1110.75L436.92 1110.91L433.38 1112.35L431.02 1113.94L425.54 1119.65L421.59 1125.54L418.24 1131.82L411.77 1147.47L390.31 1215.3L387.01 1227.47L385.69 1234.43L384.96 1241.38L384.94 1248.34L385.51 1253.55L386.79 1258.77L388.59 1262.86L390.95 1265.99L393.3 1267.76Z" fill="#d8d8e9" fill-rule="evenodd"/>
<path d="M260.11 1396.24L264.82 1397.07L270.71 1397.22L275.43 1396.71L281.32 1395.36L287.22 1393.21L291.93 1390.88L296.65 1387.93L301.36 1384.26L308.43 1377L315.75 1366.59L323.13 1352.68L329.65 1337.03L332.56 1328.33L334.92 1319.64L338.14 1302.25L339.9 1281.38L340.26 1255.29L339.25 1237.9L338.15 1230.95L336.81 1225.73L335.51 1222.25L333.19 1218.08L330.66 1215.3L327.29 1213.29L323.76 1212.62L320.22 1213.01L316.69 1214.24L313.15 1216.16L308.43 1219.64L303.72 1224.01L294.29 1234.89L280.14 1254.93L264.92 1279.64L254.73 1298.77L247.32 1316.16L243.05 1330.07L240.37 1343.99L239.23 1359.64L239.97 1371.81L242.17 1380.51L243.79 1383.98L246.09 1387.46L248.32 1389.9L251.85 1392.69L255.39 1394.61L260.11 1396.24ZM412.16 1239.92L414.52 1240.24L418.06 1240.02L421.59 1239.15L425.13 1237.69L431.02 1233.89L434.56 1230.62L437.27 1227.47L441.8 1220.51L445.74 1211.82L449.2 1201.38L453.47 1185.73L455.82 1175.3L456.97 1166.6L456.9 1157.91L455.8 1150.95L453.42 1143.41L449.88 1136.59L447.53 1133.45L445.17 1131.12L442.81 1129.5L440.45 1128.54L436.77 1128.34L434.56 1128.96L432.2 1130.23L428.67 1133.38L425.13 1138.07L421.59 1144.48L418.06 1152.83L414.61 1163.12L411.74 1173.56L408.52 1187.47L405.87 1201.38L404.17 1213.56L403.64 1222.25L404.11 1229.21L405.63 1234.43L408.18 1237.9L409.81 1239.03L412.16 1239.92ZM494.68 1227.57L499.39 1227.78L504.11 1226.81L508.82 1224.64L513.54 1220.97L517.07 1216.79L519.93 1211.82L521.85 1206.6L522.9 1201.38L523.19 1196.17L522.53 1189.21L520.73 1182.25L518.55 1177.04L515.89 1172.49L512.36 1168.24L508.82 1165.5L506.46 1164.39L504.11 1163.83L500.57 1163.93L497.03 1165.12L493.5 1167.37L489.96 1170.84L487.6 1174.11L485.22 1178.78L483.48 1183.99L482.41 1189.21L481.67 1196.17L481.55 1204.86L482.2 1211.82L483.44 1217.03L485.25 1221.02L487.6 1224.02L491.14 1226.45L494.68 1227.57Z" fill="#d2d2e5" fill-rule="evenodd"/>
<path d="M262.46 1389.56L266 1390.36L270.71 1390.71L275.43 1390.35L280.14 1389.36L284.86 1387.75L289.57 1385.5L297.82 1379.81L305.69 1371.81L313.08 1361.38L319.71 1349.2L325.6 1335.29L329.87 1321.38L332.87 1305.73L334.39 1288.34L334.5 1267.47L333.32 1250.08L332.24 1243.12L330.97 1237.9L329.65 1234.21L327.29 1229.96L324.94 1227.46L322.58 1226.07L320.22 1225.45L316.69 1225.62L313.15 1226.78L309.61 1228.74L306.08 1231.34L301.36 1235.64L291.93 1246.44L280.14 1262.79L267.18 1283.55L258.16 1300.51L251.55 1316.16L247.38 1330.07L245.18 1342.25L244.4 1354.42L245.27 1366.59L247.54 1375.29L250.68 1381.17L253.03 1383.98L255.39 1386.03L258.93 1388.18L262.46 1389.56ZM423.95 1210.25L426.31 1210.71L428.67 1210.03L432.2 1207.15L434.56 1203.99L436.92 1199.69L439.27 1193.98L442.81 1181.57L444.41 1170.08L443.97 1161.38L443.11 1157.91L441.58 1154.43L439.27 1151.73L436.92 1150.63L434.56 1150.78L433.38 1151.28L431.02 1153.1L428.67 1156.04L425.06 1163.12L421.36 1175.3L419.37 1187.47L419.07 1197.9L419.42 1201.38L420.42 1205.51L421.85 1208.34L423.95 1210.25ZM499.39 1210.39L501.75 1210.65L504.11 1210.24L506.46 1209.17L508.82 1207.38L511.99 1203.12L513.74 1197.9L514.06 1194.43L513.81 1190.95L512.25 1185.73L511.18 1183.75L508.82 1180.95L506.46 1179.41L504.11 1178.77L500.57 1179.37L498.62 1180.51L496.8 1182.25L493.84 1187.47L492.54 1192.69L492.32 1198.15L493.5 1204.17L495.86 1208.2L497.03 1209.24L499.39 1210.39Z" fill="#cccbe1" fill-rule="evenodd"/>
<path d="M264.82 1382.5L268.36 1383.44L271.89 1383.79L275.43 1383.64L280.14 1382.74L284.86 1381.08L288.4 1379.33L292.08 1377.03L296.53 1373.55L303.72 1366.07L310.77 1356.16L316.69 1345.44L321.75 1333.55L325.49 1321.38L328.17 1307.47L329.5 1291.81L329.45 1276.16L328.1 1260.51L325.93 1250.08L324.7 1246.6L322.58 1242.58L320.22 1239.95L317.86 1238.56L315.51 1238.01L311.97 1238.36L309.61 1239.19L306.08 1241.13L299 1246.96L290.75 1256.09L280.14 1270.38L270.71 1285.14L262.36 1300.51L256.31 1314.42L252.45 1326.6L250.31 1337.03L249.37 1347.46L249.75 1357.9L251.43 1366.59L254.36 1373.55L256.57 1376.69L258.93 1379.07L261.28 1380.79L264.82 1382.5Z" fill="#c6c5de" fill-rule="evenodd"/>
<path d="M268.36 1375.4L274.25 1376.42L277.79 1376.18L281.32 1375.39L288.4 1372.27L295.47 1367.07L302.49 1359.64L308.43 1351.28L313.47 1342.25L317.94 1331.81L321.61 1319.64L323.81 1307.47L324.77 1295.29L324.55 1281.38L323.14 1269.21L320.98 1260.51L319.54 1257.03L317.86 1254.24L315.51 1251.83L313.15 1250.63L310.79 1250.26L308.43 1250.54L306.08 1251.32L302.54 1253.24L295.47 1259.1L288.4 1266.91L280.14 1277.88L271.3 1291.81L264.89 1303.99L259.8 1316.16L256.64 1326.6L254.95 1335.29L254.17 1345.73L254.77 1354.42L256.57 1362.07L259.59 1368.33L263.64 1372.78L268.36 1375.4Z" fill="#c0bfda" fill-rule="evenodd"/>
<path d="M274.25 1368.36L278.96 1368.38L284.86 1366.72L290.75 1363.39L296.65 1358.38L302.54 1351.54L307.25 1344.44L311.94 1335.29L315.26 1326.6L317.63 1317.9L319.36 1307.47L320.02 1297.03L319.63 1286.6L318.39 1277.9L316.42 1270.95L314.77 1267.47L313.15 1265.16L311.96 1263.99L309.61 1262.61L307.25 1262.15L304.9 1262.37L300.18 1264.32L294.29 1268.78L287.22 1276.23L280.14 1285.53L273.07 1296.78L267.6 1307.47L263.45 1317.9L260.97 1326.6L259.49 1335.29L259.15 1343.99L260.11 1351.88L262 1357.9L265.15 1363.12L267.18 1365.15L269.54 1366.77L274.25 1368.36Z" fill="#bab9d7" fill-rule="evenodd"/>
<path d="M276.61 1359.83L281.32 1359.83L286.04 1358.37L290.75 1355.61L295.47 1351.6L300.18 1346.2L304.03 1340.51L307.71 1333.55L310.51 1326.6L312.56 1319.64L314.2 1310.94L314.89 1302.25L314.61 1293.55L313.52 1286.6L311.93 1281.38L309.61 1277.21L308.43 1275.91L306.08 1274.36L302.54 1273.86L297.82 1275.39L293.11 1278.64L287.22 1284.47L281.32 1292L275.92 1300.51L271.46 1309.2L268.01 1317.9L266.01 1324.86L264.76 1331.81L264.38 1338.77L265.09 1345.73L266.67 1350.94L269.54 1355.67L273.07 1358.57L276.61 1359.83Z" fill="#b4b3d3" fill-rule="evenodd"/>
<path d="M277.79 1349.79L281.32 1350.52L284.86 1350L288.4 1348.49L292.33 1345.73L295.85 1342.25L299.8 1337.03L302.78 1331.81L305.07 1326.6L307.25 1319.69L308.43 1313.82L309.05 1307.47L308.87 1300.51L307.98 1295.29L306.08 1290.29L303.72 1287.4L301.36 1286.17L299 1285.97L295.47 1287L291.93 1289.22L287.22 1293.64L283.68 1297.97L279.69 1303.99L276.61 1309.69L273.84 1316.16L270.99 1326.6L270.39 1331.81L270.5 1337.03L271.58 1342.25L273.07 1345.52L275.43 1348.32L277.79 1349.79Z" fill="#aeadd0" fill-rule="evenodd"/>
<path d="M282.5 1337.7L284.86 1338.18L287.22 1337.75L291.29 1335.29L295.47 1330.5L299 1323.58L300.97 1316.16L301.27 1309.2L300.02 1303.99L298.95 1302.25L296.65 1300.67L295.47 1300.48L293.11 1300.95L290.75 1302.25L288.4 1304.28L283.68 1310.47L280.17 1317.9L278.47 1324.86L278.32 1330.07L278.96 1333.31L279.88 1335.29L281.32 1336.99L282.5 1337.7Z" fill="#a8a7cc" fill-rule="evenodd"/>
<path d="MZ" fill="#a8a7cc" fill-rule="evenodd"/>
<path d="M238.89 1446.6L249.5 1447.89L261.28 1447.68L273.07 1445.94L286.04 1442.56L304.9 1435.61L339.08 1420.46L354.4 1414.48L367.37 1410.91L394.48 1405.94L407.45 1402.11L417.47 1397.9L436.92 1386.97L440.45 1385.74L443.99 1385.92L447.53 1387.7L463.89 1401.38L472.28 1407.08L479.35 1410.18L486.43 1411.4L491.14 1411.12L494.68 1410.34L499.39 1408.55L504.11 1405.93L508.82 1402.46L513.54 1398.09L518.25 1392.69L521.79 1387.8L527.93 1377.03L534.58 1361.38L545.88 1330.07L554.04 1303.99L560.13 1279.64L566.81 1246.6L569.92 1227.47L571.27 1211.82L571.39 1199.64L570.56 1183.99L566.38 1142.25L563.51 1107.47L562.05 1095.3L559.91 1083.13L554.1 1058.78L552.44 1050.08L551.39 1039.65L550.76 1020.52L549.51 1011.83L547.87 1006.61L546.13 1003.13L543 999.03L539.47 996.11L534.75 993.78L528.86 992.44L522.97 992.26L515.89 993.17L506.46 995.7L486.43 1003.15L477 1005.93L467.56 1007.49L449.88 1008.94L442.81 1010.44L435.74 1013.21L429.85 1016.77L425.13 1020.53L420.42 1025.15L415.7 1030.7L410.99 1037.18L402.14 1051.82L385.05 1084.42L380.34 1091.92L374.83 1098.78L369.73 1103.39L365.01 1106.48L359.49 1109.21L344.98 1115.14L337.9 1118.59L329.65 1123.57L321.4 1129.71L311.97 1138.22L302.54 1148.35L294.29 1158.56L284.83 1171.82L276.61 1184.66L267.79 1199.64L217.42 1290.08L207.68 1310.94L202.98 1323.12L194.54 1347.46L188.94 1359.64L185.75 1364.85L181.13 1371.02L164.15 1389.2L161.77 1392.68L160.4 1396.16L160.29 1399.64L160.76 1401.38L162.76 1404.85L168.17 1410.07L175.59 1415.29L199.99 1430.11L215.31 1438.45L228.28 1443.82L238.89 1446.6Z" fill="none" stroke="#6c6c6e" stroke-width="1.9"/>
<path d="M244.78 1432.71L253.03 1433.69L262.46 1433.7L273.07 1432.44L282.5 1430.36L293.11 1427.04L303.72 1422.86L315.51 1417.3L327.29 1410.81L336.64 1404.85L343.73 1399.64L349.73 1394.42L354.59 1389.2L357.16 1385.72L360.06 1380.51L366.19 1363.85L368.55 1360.15L370.8 1357.9L375.62 1355.34L388.59 1352.16L396.84 1348.51L405.09 1342.96L425.12 1326.6L436.84 1317.9L446.35 1312.18L453.42 1309.45L458.13 1308.96L460.49 1309.33L462.85 1310.31L466.39 1313.41L468.74 1317.18L471.08 1323.12L472.53 1328.33L478.17 1357.17L480.14 1364.85L482.89 1371.31L486.43 1375.73L489.96 1377.88L493.5 1378.61L497.03 1378.25L500.57 1376.95L504.11 1374.78L507.64 1371.77L511.18 1367.94L515.89 1361.62L524.14 1347.63L531.75 1331.81L538.67 1314.42L544.3 1297.03L550.4 1272.68L556.5 1241.38L559.18 1223.99L560.2 1208.34L560.01 1199.64L559.3 1190.95L553.02 1149.21L551.91 1137.04L550.22 1109.21L549.19 1100.52L547.58 1091.82L545.26 1083.13L542.16 1074.43L532.05 1051.82L525.71 1036.17L523.95 1032.69L521.79 1029.54L518.25 1026.35L515.89 1025.12L512.36 1024.17L508.82 1023.97L504.11 1024.52L498.21 1026.03L484.07 1030.8L477 1032.58L469.92 1033.58L453.42 1034.62L446.35 1035.82L439.27 1038.24L432.2 1042.33L427.49 1046.14L422.77 1050.93L418.06 1056.76L413.34 1063.69L405.35 1077.91L388.59 1112.3L382.7 1121.92L377.98 1127.61L373.26 1131.57L368.55 1134.08L362.66 1135.83L348.51 1138.16L341.44 1140L333.19 1143.39L324.94 1148.27L315.51 1155.71L306.08 1165.1L296.65 1176.41L287.22 1189.6L277.79 1204.5L266.5 1223.99L236.25 1277.9L224.7 1300.51L219.41 1312.68L214.93 1324.86L205.1 1357.9L197.03 1380.51L195.14 1387.46L194.68 1394.42L195.25 1397.9L196.44 1401.38L199.99 1407.28L205.83 1413.55L214.85 1420.5L224.74 1426.15L234.17 1430.02L244.78 1432.71Z" fill="none" stroke="#757578" stroke-width="1.9"/>
<path d="M253.03 1424.03L260.11 1424.44L268.36 1424.03L276.61 1422.78L284.86 1420.74L293.11 1417.99L301.36 1414.54L309.61 1410.37L317.86 1405.36L323.76 1401.08L329.4 1396.16L334.17 1390.94L337.85 1385.72L342.16 1377.03L349.33 1356.16L353.23 1346.72L357.94 1338.14L360.3 1334.92L363.33 1331.81L367.37 1329.24L370.91 1328.2L388.59 1327.79L393.3 1326.8L399.2 1324.52L408.63 1318.81L427.49 1304.63L438.1 1297.34L447.53 1291.81L454.6 1288.76L461.67 1287.25L467.56 1287.72L472.28 1289.89L475.99 1293.55L478.17 1297.07L480.53 1302.75L486.43 1325.02L489.22 1333.55L492.32 1339.84L495.86 1343.98L498.21 1345.41L500.57 1346L502.93 1345.88L505.28 1345.16L507.64 1343.91L511.18 1341.14L517.07 1334.41L522.97 1325.18L528.86 1313.27L533.87 1300.51L538.29 1286.41L543.25 1265.73L549.16 1234.43L551.18 1220.51L551.9 1208.34L551.63 1199.64L550.45 1189.21L544.49 1159.65L542.82 1149.21L541.88 1138.78L540.73 1112.69L538.7 1098.78L535.51 1088.34L531.22 1079.66L525.32 1071.72L519.43 1066.29L513.54 1062.7L510 1061.35L506.46 1060.59L500.57 1060.44L485.25 1063.09L479.35 1063.15L473.46 1061.87L460.49 1057.35L453.42 1055.99L448.7 1055.91L443.99 1056.61L439.27 1058.17L435.74 1059.95L429.85 1064.21L425.13 1068.86L420.42 1074.71L415.96 1081.39L407.45 1097.28L389.77 1136.16L383.87 1146.08L377.98 1152.95L373.26 1156.28L370.91 1157.3L367.37 1158.13L362.66 1158.26L350.87 1156.92L343.8 1156.91L336.72 1158.19L329.65 1160.88L321.4 1165.76L313.15 1172.46L304.9 1180.88L295.47 1192.51L284.6 1208.34L270.98 1230.95L245.32 1276.16L232.84 1300.51L226.24 1316.16L221.56 1330.07L217.45 1345.73L210.38 1377.03L209.33 1387.46L210.19 1394.42L211.33 1397.9L213.03 1401.38L216.81 1406.59L223.56 1412.76L228.28 1415.91L232.99 1418.42L242.42 1421.97L253.03 1424.03Z" fill="none" stroke="#7e7e81" stroke-width="1.9"/>
<path d="M249.5 1415.35L256.57 1416.53L264.82 1416.81L271.89 1416.23L280.14 1414.68L288.4 1412.23L296.65 1408.91L303.72 1405.3L310.79 1400.85L316.82 1396.16L322.17 1390.94L326.38 1385.72L329.71 1380.51L334.7 1370.07L346.15 1340.29L353.23 1323.31L357.94 1314.02L360.3 1310.56L362.66 1308.07L365.01 1306.56L368.55 1305.8L372.09 1306.25L381.52 1309.03L386.23 1309.8L390.95 1309.69L396.84 1308.21L401.56 1306.05L406.27 1303.19L426.31 1288.6L438.1 1280.7L446.35 1275.83L453.42 1272.59L460.49 1270.69L467.56 1270.35L473.46 1271.35L479.35 1273.94L483.92 1277.9L487.6 1283.62L490.21 1290.08L495.86 1308.32L498.21 1313.47L500.57 1316.77L504.11 1319.18L507.64 1319.33L511.18 1317.75L515.89 1313.36L520.61 1306.54L525.32 1297.12L528.86 1287.97L532.4 1276.33L535.93 1261.18L542.18 1229.21L543.8 1218.77L544.57 1208.34L544.21 1197.9L542.75 1187.47L535.59 1157.91L533.7 1147.47L532.9 1138.78L532.17 1116.17L530.76 1105.73L528.86 1098.94L526.5 1093.56L523.04 1088.34L519.43 1084.74L515.89 1082.42L512.36 1080.99L508.82 1080.32L504.11 1080.4L497.03 1082.23L481.71 1088.83L478.17 1089.63L474.64 1089.65L472.28 1089.17L468.74 1087.67L455.78 1078.6L449.88 1075.97L446.35 1075.33L442.81 1075.4L439.27 1076.2L435.74 1077.72L431.02 1080.88L426.31 1085.39L421.59 1091.33L416.88 1098.74L408.63 1115.27L395.66 1146.95L389.77 1159.95L386.23 1166.48L382.7 1171.95L376.8 1178.69L373.26 1181.25L370.91 1182.27L368.55 1182.73L366.19 1182.64L361.48 1181.08L352.05 1175.92L346.15 1173.56L342.62 1172.78L339.08 1172.52L332.01 1173.48L324.94 1176.28L316.69 1181.63L308.43 1189.02L300.18 1198.29L290.75 1210.96L280.14 1227.34L261.59 1258.77L247.02 1284.86L239.2 1300.51L233.96 1312.68L229.63 1324.86L225.81 1338.77L222 1357.9L219.56 1375.29L219.52 1385.72L221 1392.68L222.45 1396.16L224.49 1399.64L227.28 1403.11L231 1406.59L235.35 1409.65L239.35 1411.81L244.78 1414.01L249.5 1415.35Z" fill="none" stroke="#87878b" stroke-width="1.9"/>
<path d="M264.82 1410.07L273.07 1409.49L281.32 1407.81L289.57 1405.06L297.48 1401.38L304.9 1396.8L310.79 1392.14L316.69 1386.12L321.4 1379.82L325.11 1373.55L329.65 1364.13L335.13 1350.94L341.03 1335.29L348.16 1312.68L357.94 1273.12L360.3 1266.15L361.48 1263.82L362.66 1262.44L363.84 1262.09L365.01 1262.73L366.19 1264.19L373.63 1277.9L378.81 1284.86L383.87 1289.06L386.23 1290.26L389.77 1291.23L392.12 1291.39L395.66 1290.97L399.2 1289.88L402.73 1288.23L408.63 1284.66L447.53 1258.4L454.6 1254.94L458.13 1253.95L461.67 1253.57L467.56 1254.01L474.64 1255.58L481.71 1257.76L487.9 1260.51L492.32 1263.59L495.96 1267.47L499.26 1272.68L504.5 1283.12L507.64 1287.18L508.82 1287.93L511.18 1288.3L513.54 1287.32L515.89 1285.14L518.25 1281.77L520.61 1277.15L522.97 1271.1L525.32 1263.37L535.81 1220.51L537.14 1211.82L537.57 1203.12L537.02 1194.43L535.19 1183.99L532.4 1173.7L526.25 1154.43L524.26 1145.73L523.36 1137.04L522.9 1119.65L521.79 1111.82L520.52 1107.47L518.93 1104L517.07 1101.19L514.71 1098.78L511.18 1096.72L507.64 1095.92L504.11 1096.09L500.57 1097.03L493.98 1100.52L480.53 1110.38L477 1111.89L474.64 1112.27L471.1 1111.81L466.39 1109.44L453.42 1098.25L449.88 1095.78L446.35 1094.12L441.63 1093.32L438.1 1093.8L433.38 1095.89L429.85 1098.54L426.31 1102.14L422.77 1106.7L416.18 1117.91L409.24 1133.56L395.66 1170.52L388.59 1187.18L382.7 1198.82L373.26 1215.36L368.55 1222.37L366.19 1224.29L365.01 1224.36L363.84 1223.61L362.66 1222.04L355.02 1204.86L349.69 1195.98L346.86 1192.69L343.8 1190.05L340.26 1188.01L336.72 1186.88L333.19 1186.52L328.47 1187.08L323.76 1188.68L319.04 1191.18L314.33 1194.51L309.61 1198.59L304.9 1203.37L299 1210.24L289.57 1223.03L277.79 1241.31L260.19 1270.95L248.84 1291.81L242.25 1305.73L236.8 1319.64L232.67 1333.55L229.79 1347.46L227.71 1363.12L227.07 1375.29L227.34 1380.51L228.21 1385.72L230.78 1392.68L232.96 1396.16L235.98 1399.64L240.07 1403.01L243.6 1405.16L248.32 1407.26L253.03 1408.7L258.93 1409.74L264.82 1410.07Z" fill="none" stroke="#8f8f95" stroke-width="1.9"/>
<path d="M260.11 1403.15L266 1403.64L271.89 1403.38L277.79 1402.44L283.68 1400.84L289.57 1398.58L294.48 1396.16L300.09 1392.68L304.9 1388.96L309.61 1384.47L313.04 1380.51L320.02 1370.07L326.99 1356.16L334.07 1338.77L340.04 1319.64L342.41 1309.2L344.2 1298.77L345.67 1286.6L346.78 1272.68L347.84 1243.12L346.97 1227.47L345.81 1220.51L344.4 1215.3L342.62 1210.77L340.22 1206.6L336.72 1202.81L333.19 1200.7L329.65 1199.81L324.94 1200.05L321.4 1201.09L316.69 1203.45L311.97 1206.76L307.25 1210.91L302.54 1215.81L296.65 1222.85L289.57 1232.43L282.5 1242.93L263.23 1274.42L251.09 1297.03L246.31 1307.47L242.86 1316.16L238.05 1331.81L235.05 1347.46L233.59 1364.85L233.66 1371.81L234.43 1378.77L235.75 1383.98L237.16 1387.46L239.17 1390.94L242.42 1394.81L246.21 1397.9L250.68 1400.39L255.39 1402.11L260.11 1403.15ZM393.3 1267.76L395.66 1268.64L398.02 1268.9L401.56 1268.44L405.09 1267.31L418.06 1260.8L429.85 1253.56L436.92 1248.16L444.15 1241.38L450.36 1234.43L459.31 1223.12L461.67 1221.07L462.85 1220.8L464.03 1221.31L465.21 1222.7L470.1 1230.95L474.58 1236.16L479.35 1239.69L486.43 1242.79L498.21 1245.4L502.93 1245.9L506.46 1245.84L510 1244.97L512.36 1243.72L514.71 1241.76L517.07 1239.06L520.61 1233.71L524.14 1226.92L526.5 1221.33L528.47 1215.3L530.35 1204.86L530.55 1199.64L530.11 1192.69L528.48 1183.99L525.12 1173.56L520.61 1163.59L508.95 1142.25L507.13 1137.04L505.37 1128.34L504.11 1126.02L502.93 1125.48L501.75 1125.79L500.57 1126.72L498.5 1130.08L494.44 1138.78L492.2 1142.25L488.78 1146.37L482.89 1151.46L480.53 1152.72L478.17 1153.24L475.82 1152.62L473.46 1150.35L465.17 1135.3L459.68 1126.6L453.42 1118.62L447.53 1113.3L443.99 1111.41L441.63 1110.75L436.92 1110.91L433.38 1112.35L431.02 1113.94L425.54 1119.65L421.59 1125.54L418.24 1131.82L411.77 1147.47L390.31 1215.3L387.01 1227.47L385.69 1234.43L384.96 1241.38L384.94 1248.34L385.51 1253.55L386.79 1258.77L388.59 1262.86L390.95 1265.99L393.3 1267.76Z" fill="none" stroke="#98989f" stroke-width="1.9"/>
<path d="M260.11 1396.24L264.82 1397.07L270.71 1397.22L275.43 1396.71L281.32 1395.36L287.22 1393.21L291.93 1390.88L296.65 1387.93L301.36 1384.26L308.43 1377L315.75 1366.59L323.13 1352.68L329.65 1337.03L332.56 1328.33L334.92 1319.64L338.14 1302.25L339.9 1281.38L340.26 1255.29L339.25 1237.9L338.15 1230.95L336.81 1225.73L335.51 1222.25L333.19 1218.08L330.66 1215.3L327.29 1213.29L323.76 1212.62L320.22 1213.01L316.69 1214.24L313.15 1216.16L308.43 1219.64L303.72 1224.01L294.29 1234.89L280.14 1254.93L264.92 1279.64L254.73 1298.77L247.32 1316.16L243.05 1330.07L240.37 1343.99L239.23 1359.64L239.97 1371.81L242.17 1380.51L243.79 1383.98L246.09 1387.46L248.32 1389.9L251.85 1392.69L255.39 1394.61L260.11 1396.24ZM412.16 1239.92L414.52 1240.24L418.06 1240.02L421.59 1239.15L425.13 1237.69L431.02 1233.89L434.56 1230.62L437.27 1227.47L441.8 1220.51L445.74 1211.82L449.2 1201.38L453.47 1185.73L455.82 1175.3L456.97 1166.6L456.9 1157.91L455.8 1150.95L453.42 1143.41L449.88 1136.59L447.53 1133.45L445.17 1131.12L442.81 1129.5L440.45 1128.54L436.77 1128.34L434.56 1128.96L432.2 1130.23L428.67 1133.38L425.13 1138.07L421.59 1144.48L418.06 1152.83L414.61 1163.12L411.74 1173.56L408.52 1187.47L405.87 1201.38L404.17 1213.56L403.64 1222.25L404.11 1229.21L405.63 1234.43L408.18 1237.9L409.81 1239.03L412.16 1239.92ZM494.68 1227.57L499.39 1227.78L504.11 1226.81L508.82 1224.64L513.54 1220.97L517.07 1216.79L519.93 1211.82L521.85 1206.6L522.9 1201.38L523.19 1196.17L522.53 1189.21L520.73 1182.25L518.55 1177.04L515.89 1172.49L512.36 1168.24L508.82 1165.5L506.46 1164.39L504.11 1163.83L500.57 1163.93L497.03 1165.12L493.5 1167.37L489.96 1170.84L487.6 1174.11L485.22 1178.78L483.48 1183.99L482.41 1189.21L481.67 1196.17L481.55 1204.86L482.2 1211.82L483.44 1217.03L485.25 1221.02L487.6 1224.02L491.14 1226.45L494.68 1227.57Z" fill="none" stroke="#a1a1a8" stroke-width="1.9"/>
<path d="M262.46 1389.56L266 1390.36L270.71 1390.71L275.43 1390.35L280.14 1389.36L284.86 1387.75L289.57 1385.5L297.82 1379.81L305.69 1371.81L313.08 1361.38L319.71 1349.2L325.6 1335.29L329.87 1321.38L332.87 1305.73L334.39 1288.34L334.5 1267.47L333.32 1250.08L332.24 1243.12L330.97 1237.9L329.65 1234.21L327.29 1229.96L324.94 1227.46L322.58 1226.07L320.22 1225.45L316.69 1225.62L313.15 1226.78L309.61 1228.74L306.08 1231.34L301.36 1235.64L291.93 1246.44L280.14 1262.79L267.18 1283.55L258.16 1300.51L251.55 1316.16L247.38 1330.07L245.18 1342.25L244.4 1354.42L245.27 1366.59L247.54 1375.29L250.68 1381.17L253.03 1383.98L255.39 1386.03L258.93 1388.18L262.46 1389.56ZM423.95 1210.25L426.31 1210.71L428.67 1210.03L432.2 1207.15L434.56 1203.99L436.92 1199.69L439.27 1193.98L442.81 1181.57L444.41 1170.08L443.97 1161.38L443.11 1157.91L441.58 1154.43L439.27 1151.73L436.92 1150.63L434.56 1150.78L433.38 1151.28L431.02 1153.1L428.67 1156.04L425.06 1163.12L421.36 1175.3L419.37 1187.47L419.07 1197.9L419.42 1201.38L420.42 1205.51L421.85 1208.34L423.95 1210.25ZM499.39 1210.39L501.75 1210.65L504.11 1210.24L506.46 1209.17L508.82 1207.38L511.99 1203.12L513.74 1197.9L514.06 1194.43L513.81 1190.95L512.25 1185.73L511.18 1183.75L508.82 1180.95L506.46 1179.41L504.11 1178.77L500.57 1179.37L498.62 1180.51L496.8 1182.25L493.84 1187.47L492.54 1192.69L492.32 1198.15L493.5 1204.17L495.86 1208.2L497.03 1209.24L499.39 1210.39Z" fill="none" stroke="#aaaab2" stroke-width="1.9"/>
<path d="M264.82 1382.5L268.36 1383.44L271.89 1383.79L275.43 1383.64L280.14 1382.74L284.86 1381.08L288.4 1379.33L292.08 1377.03L296.53 1373.55L303.72 1366.07L310.77 1356.16L316.69 1345.44L321.75 1333.55L325.49 1321.38L328.17 1307.47L329.5 1291.81L329.45 1276.16L328.1 1260.51L325.93 1250.08L324.7 1246.6L322.58 1242.58L320.22 1239.95L317.86 1238.56L315.51 1238.01L311.97 1238.36L309.61 1239.19L306.08 1241.13L299 1246.96L290.75 1256.09L280.14 1270.38L270.71 1285.14L262.36 1300.51L256.31 1314.42L252.45 1326.6L250.31 1337.03L249.37 1347.46L249.75 1357.9L251.43 1366.59L254.36 1373.55L256.57 1376.69L258.93 1379.07L261.28 1380.79L264.82 1382.5Z" fill="none" stroke="#b3b3bc" stroke-width="1.9"/>
<path d="M268.36 1375.4L274.25 1376.42L277.79 1376.18L281.32 1375.39L288.4 1372.27L295.47 1367.07L302.49 1359.64L308.43 1351.28L313.47 1342.25L317.94 1331.81L321.61 1319.64L323.81 1307.47L324.77 1295.29L324.55 1281.38L323.14 1269.21L320.98 1260.51L319.54 1257.03L317.86 1254.24L315.51 1251.83L313.15 1250.63L310.79 1250.26L308.43 1250.54L306.08 1251.32L302.54 1253.24L295.47 1259.1L288.4 1266.91L280.14 1277.88L271.3 1291.81L264.89 1303.99L259.8 1316.16L256.64 1326.6L254.95 1335.29L254.17 1345.73L254.77 1354.42L256.57 1362.07L259.59 1368.33L263.64 1372.78L268.36 1375.4Z" fill="none" stroke="#bcbcc5" stroke-width="1.9"/>
<path d="M274.25 1368.36L278.96 1368.38L284.86 1366.72L290.75 1363.39L296.65 1358.38L302.54 1351.54L307.25 1344.44L311.94 1335.29L315.26 1326.6L317.63 1317.9L319.36 1307.47L320.02 1297.03L319.63 1286.6L318.39 1277.9L316.42 1270.95L314.77 1267.47L313.15 1265.16L311.96 1263.99L309.61 1262.61L307.25 1262.15L304.9 1262.37L300.18 1264.32L294.29 1268.78L287.22 1276.23L280.14 1285.53L273.07 1296.78L267.6 1307.47L263.45 1317.9L260.97 1326.6L259.49 1335.29L259.15 1343.99L260.11 1351.88L262 1357.9L265.15 1363.12L267.18 1365.15L269.54 1366.77L274.25 1368.36Z" fill="none" stroke="#c5c5cf" stroke-width="1.9"/>
<path d="M276.61 1359.83L281.32 1359.83L286.04 1358.37L290.75 1355.61L295.47 1351.6L300.18 1346.2L304.03 1340.51L307.71 1333.55L310.51 1326.6L312.56 1319.64L314.2 1310.94L314.89 1302.25L314.61 1293.55L313.52 1286.6L311.93 1281.38L309.61 1277.21L308.43 1275.91L306.08 1274.36L302.54 1273.86L297.82 1275.39L293.11 1278.64L287.22 1284.47L281.32 1292L275.92 1300.51L271.46 1309.2L268.01 1317.9L266.01 1324.86L264.76 1331.81L264.38 1338.77L265.09 1345.73L266.67 1350.94L269.54 1355.67L273.07 1358.57L276.61 1359.83Z" fill="none" stroke="#cdcdd9" stroke-width="1.9"/>
<path d="M277.79 1349.79L281.32 1350.52L284.86 1350L288.4 1348.49L292.33 1345.73L295.85 1342.25L299.8 1337.03L302.78 1331.81L305.07 1326.6L307.25 1319.69L308.43 1313.82L309.05 1307.47L308.87 1300.51L307.98 1295.29L306.08 1290.29L303.72 1287.4L301.36 1286.17L299 1285.97L295.47 1287L291.93 1289.22L287.22 1293.64L283.68 1297.97L279.69 1303.99L276.61 1309.69L273.84 1316.16L270.99 1326.6L270.39 1331.81L270.5 1337.03L271.58 1342.25L273.07 1345.52L275.43 1348.32L277.79 1349.79Z" fill="none" stroke="#d6d6e3" stroke-width="1.9"/>
<path d="M282.5 1337.7L284.86 1338.18L287.22 1337.75L291.29 1335.29L295.47 1330.5L299 1323.58L300.97 1316.16L301.27 1309.2L300.02 1303.99L298.95 1302.25L296.65 1300.67L295.47 1300.48L293.11 1300.95L290.75 1302.25L288.4 1304.28L283.68 1310.47L280.17 1317.9L278.47 1324.86L278.32 1330.07L278.96 1333.31L279.88 1335.29L281.32 1336.99L282.5 1337.7Z" fill="none" stroke="#dfdfec" stroke-width="1.9"/>
<path d="MZ" fill="none" stroke="#e8e8f6" stroke-width="1.9"/>
</g>
<rect x="731.8" y="1448.6" width="26.9" height="37.9" fill="#fcfcfe"/>
<rect x="731.8" y="1411.3" width="26.9" height="37.9" fill="#f6f6fa"/>
<rect x="731.8" y="1374" width="26.9" height="37.9" fill="#f0f0f7"/>
<rect x="731.8" y="1336.7" width="26.9" height="37.9" fill="#eaeaf3"/>
<rect x="731.8" y="1299.4" width="26.9" height="37.9" fill="#e4e4f0"/>
<rect x="731.8" y="1262.1" width="26.9" height="37.9" fill="#dedeec"/>
<rect x="731.8" y="1224.8" width="26.9" height="37.9" fill="#d8d8e9"/>
<rect x="731.8" y="1187.5" width="26.9" height="37.9" fill="#d2d2e5"/>
<rect x="731.8" y="1150.2" width="26.9" height="37.9" fill="#cccbe1"/>
<rect x="731.8" y="1112.9" width="26.9" height="37.9" fill="#c6c5de"/>
<rect x="731.8" y="1075.6" width="26.9" height="37.9" fill="#c0bfda"/>
<rect x="731.8" y="1038.3" width="26.9" height="37.9" fill="#bab9d7"/>
<rect x="731.8" y="1001" width="26.9" height="37.9" fill="#b4b3d3"/>
<rect x="731.8" y="963.7" width="26.9" height="37.9" fill="#aeadd0"/>
<rect x="731.8" y="926.4" width="26.9" height="37.9" fill="#a8a7cc"/>
<text x="767" y="1491.5" font-size="21" text-anchor="start" fill="#1a1a1a" font-family="'Liberation Sans', Arial, Helvetica, sans-serif" stroke="#1a1a1a" stroke-width="0.45">0.0</text>
<text x="767" y="1417.07" font-size="21" text-anchor="start" fill="#1a1a1a" font-family="'Liberation Sans', Arial, Helvetica, sans-serif" stroke="#1a1a1a" stroke-width="0.45">0.2</text>
<text x="767" y="1342.64" font-size="21" text-anchor="start" fill="#1a1a1a" font-family="'Liberation Sans', Arial, Helvetica, sans-serif" stroke="#1a1a1a" stroke-width="0.45">0.4</text>
<text x="767" y="1268.21" font-size="21" text-anchor="start" fill="#1a1a1a" font-family="'Liberation Sans', Arial, Helvetica, sans-serif" stroke="#1a1a1a" stroke-width="0.45">0.6</text>
<text x="767" y="1193.78" font-size="21" text-anchor="start" fill="#1a1a1a" font-family="'Liberation Sans', Arial, Helvetica, sans-serif" stroke="#1a1a1a" stroke-width="0.45">0.8</text>
<text x="767" y="1119.35" font-size="21" text-anchor="start" fill="#1a1a1a" font-family="'Liberation Sans', Arial, Helvetica, sans-serif" stroke="#1a1a1a" stroke-width="0.45">1.0</text>
<text x="767" y="1044.92" font-size="21" text-anchor="start" fill="#1a1a1a" font-family="'Liberation Sans', Arial, Helvetica, sans-serif" stroke="#1a1a1a" stroke-width="0.45">1.2</text>
<text x="767" y="970.49" font-size="21" text-anchor="start" fill="#1a1a1a" font-family="'Liberation Sans', Arial, Helvetica, sans-serif" stroke="#1a1a1a" stroke-width="0.45">1.4</text>
<path d="M978.1 928.2V1485.5M1072.4 928.2V1485.5M1166.7 928.2V1485.5M1261 928.2V1485.5M1355.3 928.2V1485.5M1449.6 928.2V1485.5M978.1 1429.2H1543.9M978.1 1317.9H1543.9M978.1 1206.6H1543.9M978.1 1095.3H1543.9M978.1 984H1543.9" stroke="#EDEDF1" stroke-width="1.6" fill="none"/>
<clipPath id="clip845"><rect x="978.1" y="928.2" width="565.8" height="557.3"/></clipPath>
<g clip-path="url(#clip845)">
<path d="M1060.61 1444.91L1067.68 1445.76L1075.94 1446.19L1084.19 1446.09L1092.44 1445.48L1101.87 1444.2L1110.12 1442.56L1125.44 1438.3L1141.95 1432.06L1160.81 1423.33L1184.38 1411.22L1217.39 1392.82L1229.17 1387.06L1237.42 1383.81L1245.68 1381.29L1253.93 1379.37L1263.36 1377.79L1273.97 1376.75L1282.22 1376.9L1288.11 1378.06L1294 1380.74L1298.26 1383.98L1302.26 1388.1L1316.4 1407.02L1322.29 1413.74L1328.19 1418.44L1330.55 1419.69L1334.08 1420.88L1337.62 1421.27L1341.15 1420.87L1344.69 1419.74L1348.23 1417.92L1355.3 1412.33L1363.38 1403.11L1371.6 1390.94L1379.18 1377.03L1385.24 1363.12L1389.85 1349.2L1393.76 1331.81L1399.56 1295.29L1406.63 1267.47L1409.28 1255.29L1411.13 1243.12L1412.32 1229.21L1413.15 1190.95L1415.55 1164.86L1415.78 1154.43L1414.66 1142.25L1409.65 1109.21L1406.54 1070.95L1405.14 1062.26L1403.56 1055.3L1401.46 1048.35L1398.69 1041.39L1396.04 1036.17L1392.71 1030.95L1388.32 1025.74L1384.77 1022.64L1381.23 1020.4L1376.52 1018.56L1371.8 1017.89L1367.09 1018.24L1363.55 1019.09L1358.84 1020.82L1339.98 1030.06L1335.26 1031.42L1330.55 1031.85L1325.83 1031.25L1321.12 1029.67L1304.61 1020.58L1299.9 1018.56L1296.36 1017.58L1291.65 1017.12L1286.93 1017.68L1282.22 1019.28L1278.68 1021.16L1273.97 1024.5L1268.07 1029.93L1263.36 1035.23L1258.64 1041.41L1251.08 1053.56L1238.6 1078.37L1233.89 1086.79L1227.99 1095.58L1220.92 1103.88L1215.03 1109.23L1209.13 1113.42L1203.24 1116.78L1184.38 1126.21L1171.41 1134.78L1163.16 1141.39L1154.4 1149.21L1147.51 1156.17L1141.63 1163.12L1137.23 1169.37L1133.69 1175.39L1130.33 1182.25L1123.63 1197.9L1119.68 1204.86L1117.06 1208.34L1112.15 1213.56L1094.8 1229.43L1086.54 1238.99L1082.54 1244.86L1078.62 1251.82L1068.86 1274.2L1065.33 1280.68L1059.56 1288.34L1046.91 1302.25L1040.81 1310.94L1036.48 1319.64L1029.61 1338.77L1026.67 1345.73L1023.05 1352.68L1011.99 1371.81L1008.91 1378.77L1007.21 1383.98L1006.09 1389.2L1005.57 1394.42L1005.66 1399.64L1006.43 1404.85L1007.92 1410.07L1010.25 1415.29L1012.35 1418.77L1015.82 1423.3L1019.91 1427.46L1024.07 1430.87L1028.79 1434.03L1034.68 1437.23L1041.75 1440.2L1047.65 1442.13L1060.61 1444.91Z" fill="#f6f6fb" fill-rule="evenodd"/>
<path d="M1062.97 1434.58L1072.4 1435.76L1081.83 1436.01L1091.26 1435.46L1100.69 1434.12L1110.12 1432.05L1118.37 1429.63L1127.8 1426.21L1138.41 1421.56L1149.02 1416.19L1164.34 1407.52L1176.13 1400.19L1185.56 1393.59L1192.63 1387.96L1199 1382.25L1220.92 1359.63L1225.64 1355.71L1230.35 1352.49L1240.96 1347.08L1264.54 1337.67L1286.93 1327.55L1292.83 1325.58L1297.54 1325.14L1301.08 1325.98L1304.61 1328.29L1306.97 1330.85L1311.69 1338.47L1320.07 1356.16L1323.77 1363.12L1328.19 1369.64L1332.9 1374.25L1335.26 1375.67L1337.62 1376.52L1339.98 1376.81L1342.33 1376.57L1347.05 1374.53L1349.41 1372.75L1352.94 1369.13L1357.27 1363.12L1361.19 1356.03L1364.73 1348.12L1368.16 1338.77L1373.08 1321.38L1379.82 1290.08L1382.41 1279.97L1386.38 1269.21L1394.57 1253.55L1398.24 1244.86L1401.27 1233.4L1402.89 1220.51L1403.14 1204.86L1401.01 1154.43L1400.02 1142.25L1398.21 1130.08L1391.01 1095.3L1386.27 1077.91L1383.59 1071.05L1380.83 1065.74L1377.7 1061.3L1374.16 1057.86L1371.8 1056.31L1368.27 1054.86L1362.37 1054.32L1356.48 1055.44L1339.98 1060.94L1335.26 1061.67L1330.55 1061.65L1325.83 1060.79L1320.31 1058.78L1302.26 1048.53L1297.54 1046.48L1294 1045.47L1289.29 1045.02L1284.57 1045.65L1279.86 1047.45L1276.32 1049.59L1272.79 1052.46L1269.25 1056.11L1265.71 1060.63L1262.38 1065.74L1257.64 1074.43L1240.96 1108.22L1233.89 1120.38L1226.82 1130.71L1219.74 1139.05L1212.67 1145.29L1206.78 1148.99L1193.81 1155.15L1189.1 1157.91L1183.2 1162.48L1178.49 1167.3L1173.65 1173.56L1168.3 1182.25L1163.95 1190.95L1154.91 1211.62L1152.55 1215.65L1150.2 1218.66L1146.66 1221.68L1142.34 1223.99L1121.91 1230.37L1111.3 1235.09L1105.4 1238.74L1101.87 1241.44L1097.15 1245.78L1093.62 1249.8L1089.72 1255.29L1085.9 1262.25L1078.21 1281.38L1073.8 1290.08L1068.86 1296.8L1056.64 1310.94L1051 1319.64L1047.65 1326.6L1039.71 1345.73L1027.84 1366.59L1024.35 1373.55L1021.73 1380.51L1020.1 1387.46L1019.63 1396.16L1020.73 1403.11L1023.44 1410.07L1025.54 1413.55L1028.79 1417.65L1034.68 1423.02L1042.93 1428.14L1052.36 1431.98L1062.97 1434.58Z" fill="#f1f1f7" fill-rule="evenodd"/>
<path d="M1065.33 1427.65L1074.76 1428.92L1085.37 1429.09L1095.97 1428.1L1106.58 1426L1117.19 1422.86L1128.98 1418.18L1140.77 1412.35L1152.55 1405.6L1163.16 1398.9L1173.77 1391.4L1182.02 1384.55L1187.92 1378.69L1193.62 1371.81L1198.31 1364.85L1211.49 1340.38L1215.03 1335.56L1219.74 1331.03L1223.28 1328.63L1227.99 1326.22L1252.75 1317L1265.71 1310.71L1277.5 1303.08L1297.54 1287.13L1303.43 1283.91L1306.97 1283.36L1309.33 1283.95L1312.68 1286.6L1315.04 1290.08L1318.76 1298.51L1328.19 1325.66L1331.72 1332.91L1335.26 1337.86L1338.8 1340.69L1342.33 1341.6L1345.87 1340.73L1348.23 1339.21L1350.58 1336.93L1355.3 1330.04L1357.87 1324.86L1360.67 1317.9L1365.48 1302.25L1372.43 1272.68L1375.34 1262.2L1377.7 1255.77L1380.05 1250.79L1388.3 1237.75L1390.89 1232.69L1393.66 1223.99L1394.94 1215.3L1395.2 1206.6L1394.75 1197.9L1391.91 1171.82L1390.05 1142.25L1388.04 1128.34L1384.28 1112.69L1380.05 1100.25L1375.34 1090.48L1372.71 1086.6L1369.44 1083.05L1364.73 1079.91L1362.37 1079.03L1358.84 1078.36L1352.94 1078.46L1336.44 1080.78L1330.55 1080.67L1325.83 1079.85L1317.58 1076.7L1299.9 1066.7L1292.83 1064.4L1289.29 1064.12L1285.75 1064.55L1282.28 1065.74L1279.86 1067.04L1276.32 1069.72L1273.4 1072.69L1270.43 1076.42L1266.89 1081.8L1261 1092.5L1239.78 1134.11L1232.71 1146.3L1225.64 1156.73L1218.56 1164.86L1212.67 1169.49L1206.78 1172.23L1197.35 1174.88L1192.63 1176.69L1187.92 1179.47L1183.2 1183.6L1178.6 1189.21L1174.95 1194.98L1170.82 1203.12L1163.16 1220.75L1160.35 1225.73L1157.56 1229.21L1153.73 1232.12L1149.02 1233.99L1128.98 1237.11L1123.09 1238.62L1117.19 1240.78L1111.3 1243.78L1107.76 1246.09L1103.05 1249.94L1099.54 1253.55L1095.56 1258.77L1091.63 1265.73L1088.71 1272.68L1083.2 1288.34L1079.8 1295.29L1074.94 1302.25L1063.39 1316.16L1057.93 1324.86L1048.88 1343.99L1035.57 1368.33L1032.02 1377.03L1030.11 1383.98L1029.19 1392.68L1029.98 1399.64L1032.54 1406.59L1035.98 1411.81L1041.21 1417.03L1047.65 1421.37L1055.9 1425.08L1065.33 1427.65Z" fill="#ebebf4" fill-rule="evenodd"/>
<path d="M1068.86 1422.34L1079.47 1423.58L1090.08 1423.35L1101.87 1421.61L1113.66 1418.39L1124.26 1414.3L1137.23 1407.88L1150.2 1400.15L1161.98 1392.13L1170.2 1385.72L1177.31 1379.14L1182.26 1373.55L1187.14 1366.59L1190.03 1361.38L1193.09 1354.42L1199.7 1334.43L1203.24 1325.56L1207.96 1316.88L1210.31 1313.54L1213.85 1309.57L1217.39 1306.72L1222.1 1304.28L1226.82 1302.81L1242.14 1299.45L1249.21 1297.31L1258.64 1293.35L1266.89 1288.61L1273.97 1283.42L1281.04 1277.09L1288.48 1269.21L1304.61 1250.2L1308.15 1246.83L1311.69 1244.5L1315.22 1243.89L1317.58 1244.88L1319.94 1247.4L1322.29 1251.81L1325.83 1262.43L1332.9 1289.36L1335.26 1296.02L1337.62 1300.93L1339.98 1304.24L1341.72 1305.73L1343.51 1306.56L1345.87 1306.53L1349.41 1304.29L1351.76 1301.36L1354.12 1297.24L1357.66 1288.68L1361.19 1277.07L1367.53 1251.82L1370.57 1241.38L1374.16 1231.89L1381.39 1217.03L1383.02 1211.82L1383.81 1206.6L1383.81 1197.9L1381.29 1171.82L1381.02 1143.99L1379.72 1131.82L1377.29 1121.39L1374.16 1112.89L1370.62 1106.31L1365.91 1100.6L1363.55 1098.72L1360.01 1096.82L1354.12 1095.49L1347.05 1095.82L1331.72 1098.57L1324.65 1098.43L1321.12 1097.54L1317.58 1096.05L1302.26 1086.23L1295.18 1082.94L1291.65 1082.23L1288.11 1082.31L1285.01 1083.13L1282.22 1084.48L1278.68 1087.13L1275.14 1090.79L1268.07 1100.76L1258.64 1117.5L1240.96 1152.8L1233.89 1165.94L1226.82 1177.4L1223.28 1182.22L1219.74 1186.24L1215.03 1190.02L1211.49 1191.6L1207.96 1192.27L1198.53 1192.29L1194.99 1192.73L1190.27 1194.41L1185.56 1197.76L1182.02 1201.6L1177.56 1208.34L1166.4 1230.95L1163.16 1235.36L1159.63 1238.42L1156.09 1240.15L1152.55 1241.06L1133.69 1242.3L1127.8 1243.27L1123.09 1244.51L1117.19 1246.81L1112.48 1249.38L1107.76 1252.81L1104.23 1256.15L1099.41 1262.25L1095.59 1269.21L1092.86 1276.16L1087.97 1291.81L1084.9 1298.77L1080.65 1305.33L1070.38 1317.9L1065.55 1324.86L1047.42 1357.9L1041.84 1370.07L1038.03 1382.25L1037.02 1389.2L1037.37 1396.16L1038.22 1399.64L1039.6 1403.11L1042.92 1408.33L1047.65 1413.05L1053.62 1417.03L1060.61 1420.11L1068.86 1422.34Z" fill="#e6e5f1" fill-rule="evenodd"/>
<path d="M1083.01 1418.8L1092.44 1418.38L1101.87 1416.85L1111.3 1414.29L1120.73 1410.74L1131.34 1405.64L1143.12 1398.78L1153.73 1391.64L1163.16 1384.34L1169.28 1378.77L1174.1 1373.55L1178.04 1368.33L1182.1 1361.38L1185.66 1352.68L1191.45 1331.81L1196.17 1318.65L1202.06 1305.32L1207.96 1293.24L1211.49 1286.93L1215.03 1282.03L1218.56 1278.98L1222.1 1277.62L1225.64 1277.33L1238.6 1278.17L1244.5 1277.8L1252.75 1275.99L1259.82 1273.16L1268.07 1268.18L1275.14 1262.32L1282.22 1254.81L1289.73 1244.86L1295.27 1236.16L1300.21 1227.47L1311.29 1204.86L1318.2 1187.47L1319.65 1182.25L1320.68 1175.3L1320.39 1166.6L1318.29 1154.43L1314.79 1140.52L1311.4 1130.08L1307.69 1121.39L1303.69 1114.43L1299.53 1109.21L1295.39 1105.73L1292.83 1104.38L1289.29 1103.51L1286.93 1103.56L1283.4 1104.55L1279.86 1106.61L1276.32 1109.64L1272.79 1113.55L1269.25 1118.26L1263.36 1127.67L1257.46 1138.76L1237.42 1181.68L1229.17 1198.17L1223.28 1208.1L1218.56 1213.64L1215.03 1215.67L1211.49 1215.76L1207.96 1214.42L1200.88 1210.51L1197.35 1209.2L1193.81 1208.84L1190.27 1209.64L1186.74 1211.76L1183.2 1215.35L1179.67 1220.45L1169.77 1237.9L1166.7 1241.57L1163.16 1244.34L1159.63 1245.92L1156.09 1246.7L1134.87 1246.89L1128.98 1247.67L1123.09 1249.22L1117.19 1251.76L1112.48 1254.68L1107.72 1258.77L1103.39 1263.99L1100.28 1269.21L1097.98 1274.42L1091.92 1295.29L1088.9 1302.49L1084.58 1309.2L1074.76 1321.22L1070.04 1327.71L1061.1 1342.25L1054.4 1354.42L1051.25 1361.38L1048.1 1370.07L1045.46 1378.77L1044.04 1385.72L1043.89 1392.68L1045 1397.9L1047.65 1403.34L1052.36 1408.73L1058.25 1412.84L1065.33 1415.93L1073.58 1417.96L1083.01 1418.8ZM1345.87 1262.82L1347.05 1263.18L1349.41 1262.28L1351.76 1259.35L1354.12 1254.48L1358.84 1239.43L1363.27 1220.51L1365.25 1210.08L1366.63 1199.64L1368.11 1171.82L1370.38 1147.47L1370.4 1140.52L1369.64 1133.56L1368.38 1128.34L1366.28 1123.12L1364.18 1119.65L1361.19 1116.38L1357.66 1114.21L1354.12 1113.39L1349.41 1113.97L1344.69 1116.45L1342.33 1118.62L1340.2 1121.39L1337.71 1126.6L1336.02 1133.56L1333.89 1152.69L1330.34 1171.82L1329.53 1178.78L1329.67 1187.47L1330.82 1197.9L1334.65 1223.99L1337.62 1241.22L1341.21 1255.29L1343.51 1260.34L1345.87 1262.82Z" fill="#e0e0ed" fill-rule="evenodd"/>
<path d="M1077.11 1413.71L1083.01 1414.28L1088.9 1414.27L1100.69 1412.75L1112.48 1409.43L1125.44 1403.88L1139.59 1395.81L1153.85 1385.72L1164.34 1376.34L1168.38 1371.81L1172.2 1366.59L1175.2 1361.38L1178.16 1354.42L1185.12 1328.33L1198.36 1295.29L1201.01 1286.6L1202.84 1277.9L1204.76 1260.51L1204.86 1253.55L1204.26 1246.6L1202.74 1239.64L1200.75 1234.43L1198.53 1230.58L1194.99 1227.01L1192.63 1225.96L1190.27 1225.85L1187.92 1226.63L1185.56 1228.24L1182.02 1232.05L1172.53 1244.86L1169.06 1248.06L1165.52 1250.19L1161.98 1251.37L1158.45 1251.87L1137.23 1250.76L1131.34 1251.24L1125.44 1252.55L1119.55 1254.88L1113.66 1258.6L1109.66 1262.25L1105.59 1267.47L1102.75 1272.68L1100.72 1277.9L1095.96 1297.03L1093.46 1303.99L1091.26 1308.08L1088.03 1312.68L1078.29 1324.1L1072.4 1331.72L1066.51 1340.47L1062.37 1347.46L1058.96 1354.42L1056.97 1359.64L1050.7 1382.25L1050.03 1389.2L1050.72 1394.42L1052.82 1399.64L1055.3 1403.11L1059.43 1406.92L1064.72 1410.07L1070.04 1412.13L1077.11 1413.71ZM1250.39 1253.6L1253.93 1253.65L1257.46 1253.08L1261 1251.95L1264.54 1250.27L1271.61 1245.28L1277.5 1239.33L1283.78 1230.95L1289.75 1220.51L1294.37 1210.08L1298.4 1197.9L1301.02 1185.73L1302.09 1175.3L1302.01 1164.86L1300.73 1154.43L1298.08 1143.99L1294.26 1135.3L1290.47 1130.25L1288.11 1128.41L1285.75 1127.4L1283.4 1127.11L1281.04 1127.48L1278.68 1128.46L1275.14 1130.99L1270.43 1136.15L1264.54 1145.23L1258.64 1156.86L1251.53 1173.56L1244.38 1192.69L1238.86 1210.08L1236.74 1218.77L1235.4 1227.47L1235.24 1234.43L1236.25 1240.7L1238.6 1246.18L1241.96 1250.08L1245.68 1252.36L1250.39 1253.6Z" fill="#dadaea" fill-rule="evenodd"/>
<path d="M1074.76 1408.45L1084.19 1409.94L1094.8 1409.57L1106.58 1407.12L1118.37 1402.79L1132.52 1395.4L1145.48 1386.73L1151.38 1382.09L1156.99 1377.03L1164.59 1368.33L1167.95 1363.12L1171.19 1356.16L1173.34 1349.2L1176.25 1335.29L1178.18 1328.33L1180.92 1321.38L1190.55 1300.51L1192.92 1293.55L1194.18 1288.34L1195.5 1276.16L1195.55 1267.47L1195.09 1260.51L1194.26 1255.29L1192.65 1250.08L1191.45 1247.87L1189.1 1245.58L1186.74 1245.03L1184.38 1245.64L1172.59 1253.81L1169.06 1255.48L1165.52 1256.44L1158.45 1256.71L1144.3 1254.74L1138.41 1254.34L1132.52 1254.66L1126.62 1255.87L1121.91 1257.65L1116.96 1260.51L1112.48 1264.34L1108.94 1268.68L1105.73 1274.42L1103.76 1279.64L1099.25 1300.51L1096.69 1307.47L1092.14 1314.42L1078.29 1329.8L1071.48 1338.77L1065.37 1349.2L1062.2 1357.9L1056.48 1382.25L1056.02 1387.46L1056.68 1392.68L1058.95 1397.9L1062.97 1402.49L1068.86 1406.29L1074.76 1408.45ZM1259.82 1222.61L1262.18 1223.66L1265.71 1223.53L1269.25 1221.96L1273.16 1218.77L1276.32 1215.1L1279.86 1209.6L1282.97 1203.12L1285.43 1196.17L1287.16 1189.21L1288.19 1182.25L1288.51 1175.3L1288.22 1170.08L1287.34 1164.86L1285.75 1160.02L1283.4 1156.28L1281.04 1154.57L1278.68 1154.21L1276.32 1154.91L1273.97 1156.54L1270.43 1160.55L1267.71 1164.86L1264.54 1171.19L1259.74 1183.99L1256.29 1197.9L1255.21 1208.34L1255.5 1213.56L1256.28 1217.22L1257.83 1220.51L1259.82 1222.61Z" fill="#d5d4e7" fill-rule="evenodd"/>
<path d="M1080.65 1404.96L1085.37 1405.59L1090.08 1405.72L1099.51 1404.72L1108.94 1402.26L1119.71 1397.9L1131.34 1391.54L1143.12 1383.43L1152.49 1375.29L1159.63 1366.86L1162.95 1361.38L1165.84 1354.42L1167.59 1347.46L1169.88 1333.55L1171.94 1326.6L1174.31 1321.38L1183.82 1303.99L1186.62 1297.03L1188.02 1291.81L1188.94 1283.12L1188.15 1272.68L1186.11 1265.73L1185.07 1263.99L1183.2 1262.17L1180.84 1261.24L1178.49 1261.09L1170.24 1262.05L1164.34 1262.04L1144.3 1258.19L1138.41 1257.68L1133.69 1257.85L1127.8 1258.97L1121.91 1261.34L1117.19 1264.48L1112.48 1269.37L1109.32 1274.42L1106.63 1281.38L1105.08 1288.34L1102.88 1302.25L1100.44 1309.2L1098.35 1312.68L1095.58 1316.16L1083.01 1329.02L1075.94 1337.49L1070.72 1345.73L1068.44 1350.94L1067.43 1354.42L1065.78 1366.59L1062.19 1382.25L1062 1387.46L1062.62 1390.94L1065.15 1396.16L1068.47 1399.64L1074.43 1403.11L1080.65 1404.96Z" fill="#cfcfe3" fill-rule="evenodd"/>
<path d="M1080.65 1399.81L1084.19 1400.68L1088.9 1401.23L1097.15 1400.86L1106.58 1398.81L1116.01 1395.3L1126.62 1389.84L1137.23 1382.89L1146.41 1375.29L1152.77 1368.33L1157.27 1361.38L1160.13 1354.42L1161.68 1347.46L1163.3 1333.55L1165.31 1326.6L1167.95 1321.38L1177.85 1305.73L1180.35 1300.51L1182.06 1295.29L1182.94 1288.34L1182.19 1281.38L1180.33 1276.16L1177.31 1272.34L1172.59 1269.81L1150.2 1262.87L1143.12 1261.3L1137.23 1260.85L1130.16 1261.64L1124.26 1263.72L1118.61 1267.47L1114.84 1271.52L1111.97 1276.16L1109.42 1283.12L1108.35 1288.34L1106.43 1303.99L1105.45 1307.47L1103.84 1310.94L1099.98 1316.16L1086.54 1329.17L1079.6 1337.03L1075.04 1343.99L1072.3 1350.94L1071.73 1354.42L1071.27 1366.59L1068.21 1380.51L1067.97 1383.98L1068.3 1387.46L1069.45 1390.94L1072.4 1395.04L1076.19 1397.9L1080.65 1399.81Z" fill="#cac9e0" fill-rule="evenodd"/>
<path d="M1088.9 1396.19L1095.97 1396.39L1104.23 1395.03L1112.48 1392.36L1120.73 1388.55L1130.16 1382.97L1138.21 1377.03L1145.52 1370.07L1150.2 1363.93L1153.34 1357.9L1155.03 1352.68L1155.95 1347.46L1157.04 1333.55L1158.47 1328.33L1162.22 1321.38L1172.96 1305.73L1175.43 1300.51L1176.83 1295.29L1177.08 1291.81L1176.73 1288.34L1174.98 1283.12L1171.41 1278.15L1166.71 1274.42L1158.45 1269.9L1150.2 1266.42L1143.12 1264.52L1137.23 1263.98L1131.34 1264.59L1125.44 1266.67L1121.91 1268.87L1119.55 1270.91L1116.01 1275.36L1113.83 1279.64L1112.2 1284.86L1111.33 1290.08L1110.25 1303.99L1109.43 1307.47L1107.9 1310.94L1105.51 1314.42L1102.33 1317.9L1090.08 1329.07L1084.19 1335.29L1079.27 1342.25L1077.61 1345.73L1076.57 1349.2L1076.24 1352.68L1077.22 1363.12L1076.63 1368.33L1074.48 1378.77L1074.31 1382.25L1074.81 1385.72L1076.33 1389.2L1079.6 1392.68L1084.19 1395.05L1088.9 1396.19Z" fill="#c4c3dd" fill-rule="evenodd"/>
<path d="M1094.8 1391L1100.69 1390.75L1107.78 1389.2L1116.01 1386.07L1124.26 1381.72L1131.35 1377.03L1138.41 1371.06L1143.81 1364.85L1146.96 1359.64L1148.41 1356.16L1149.77 1350.94L1150.75 1335.29L1152.08 1330.07L1155.94 1323.12L1165.05 1310.94L1168.32 1305.73L1170.55 1300.51L1171.41 1295.29L1171.09 1291.81L1170.03 1288.34L1168.27 1284.86L1165.79 1281.38L1159.63 1275.59L1155.3 1272.68L1151.38 1270.61L1147.84 1269.13L1143.12 1267.78L1138.41 1267.17L1134.87 1267.26L1131.34 1267.88L1127.8 1269.11L1124.56 1270.95L1121.91 1273.13L1118.2 1277.9L1116.55 1281.38L1115.46 1284.86L1114.44 1291.81L1114.03 1303.99L1113.29 1307.47L1111.76 1310.94L1109.32 1314.42L1106.06 1317.9L1094.18 1328.33L1088.86 1333.55L1084.64 1338.77L1082.56 1342.25L1081.19 1345.73L1080.65 1349.2L1081.03 1352.68L1083.14 1361.38L1082.88 1366.59L1081.23 1377.03L1081.66 1382.25L1083.28 1385.72L1086.54 1388.68L1090.08 1390.21L1094.8 1391Z" fill="#bebed9" fill-rule="evenodd"/>
<path d="M1097.15 1384.18L1103.05 1384.37L1108.94 1383.22L1116.01 1380.65L1122.98 1377.03L1128.98 1372.99L1134.37 1368.33L1138.81 1363.12L1141.79 1357.9L1143.83 1350.94L1144.41 1337.03L1145.81 1331.81L1149.95 1324.86L1161.93 1309.2L1164.66 1303.99L1165.97 1298.77L1165.89 1295.29L1165.06 1291.81L1162.69 1286.6L1160.46 1283.12L1157.52 1279.64L1154.91 1277.27L1151.38 1274.74L1147.84 1272.86L1140.77 1270.74L1134.87 1270.62L1128.98 1272.3L1125.56 1274.42L1123.68 1276.16L1120.18 1281.38L1118.47 1286.6L1117.85 1291.81L1117.86 1303.99L1117.14 1307.47L1115.55 1310.94L1113.01 1314.42L1109.65 1317.9L1097.43 1328.33L1092.01 1333.55L1087.88 1338.77L1086.04 1342.25L1085.13 1345.73L1085.35 1349.2L1089.11 1357.9L1089.7 1361.38L1088.94 1371.81L1089.27 1377.03L1090.82 1380.51L1092.44 1382.16L1094.8 1383.48L1097.15 1384.18Z" fill="#b9b8d6" fill-rule="evenodd"/>
<path d="M1103.05 1375.53L1105.4 1375.99L1108.94 1375.9L1112.48 1375.18L1117.19 1373.48L1120.73 1371.71L1125.44 1368.65L1131.4 1363.12L1133.9 1359.64L1136.24 1354.42L1137.17 1349.2L1137.49 1338.77L1139.28 1333.55L1143.94 1326.6L1155.45 1312.68L1159.51 1305.73L1160.82 1300.51L1160.7 1297.03L1159.86 1293.55L1157.71 1288.34L1155.74 1284.86L1153.04 1281.38L1149.03 1277.9L1145.48 1275.92L1140.72 1274.42L1134.87 1274.33L1129.67 1276.16L1125.58 1279.64L1123.42 1283.12L1121.91 1288.1L1121.54 1293.55L1121.9 1303.99L1121.12 1307.47L1119.39 1310.94L1116.72 1314.42L1113.25 1317.9L1096.97 1331.81L1092.47 1337.03L1090.52 1340.51L1089.7 1343.99L1089.83 1345.73L1091.26 1348.96L1095.51 1354.42L1096.4 1356.16L1097.27 1359.64L1097.61 1366.59L1098.33 1370.73L1099.92 1373.55L1103.05 1375.53Z" fill="#b3b2d3" fill-rule="evenodd"/>
<path d="M1113.66 1363.33L1116.5 1363.12L1119.55 1361.88L1121.91 1360.25L1124.2 1357.9L1125.44 1355.93L1126.68 1352.68L1127.78 1343.99L1129.79 1338.77L1134.62 1331.81L1149.96 1314.42L1153.39 1309.2L1154.87 1305.73L1155.53 1302.25L1155.35 1298.77L1153.96 1293.55L1151.79 1288.34L1149.62 1284.86L1147.84 1282.86L1145.48 1280.97L1141.95 1279.24L1138.41 1278.56L1134.87 1278.87L1131.34 1280.42L1128.52 1283.12L1126.73 1286.6L1126 1290.08L1125.92 1293.55L1126.62 1302.25L1126.1 1305.73L1124.62 1309.2L1122.2 1312.68L1118.95 1316.16L1100.54 1331.81L1097.49 1335.29L1095.45 1338.77L1094.84 1342.25L1095.97 1344.95L1098.33 1347.15L1104.32 1350.94L1106.14 1352.68L1107.27 1354.42L1110.12 1361.28L1111.3 1362.42L1113.66 1363.33Z" fill="#aeadcf" fill-rule="evenodd"/>
<path d="M1105.4 1342.53L1108.94 1342.9L1112.48 1342.48L1116.01 1341.33L1120.73 1338.54L1127.8 1332.53L1137.44 1323.12L1142.33 1317.9L1146.33 1312.68L1148.77 1307.47L1149.11 1305.73L1149.04 1302.25L1145.83 1291.81L1143.87 1288.34L1141.95 1286.49L1139.59 1285.44L1137.23 1285.32L1134.87 1286.28L1133.69 1287.46L1132.52 1289.85L1132.21 1291.81L1132.91 1298.77L1132.86 1302.25L1131.83 1305.73L1129.83 1309.2L1127.02 1312.68L1123.51 1316.16L1106.57 1330.07L1102.15 1335.29L1101.37 1337.03L1101.15 1338.77L1101.77 1340.51L1103.05 1341.58L1105.4 1342.53Z" fill="#a8a7cc" fill-rule="evenodd"/>
<path d="M1112.48 1333.67L1113.66 1333.89L1116.01 1333.52L1119.63 1331.81L1124.52 1328.33L1131.69 1321.38L1134.18 1317.9L1134.67 1316.16L1133.69 1315.82L1132.52 1316.12L1129.47 1317.9L1117.15 1326.6L1113.42 1330.07L1112.23 1331.81L1112.48 1333.67Z" fill="#a8a7cc" fill-rule="evenodd"/>
<path d="M1060.61 1444.91L1067.68 1445.76L1075.94 1446.19L1084.19 1446.09L1092.44 1445.48L1101.87 1444.2L1110.12 1442.56L1125.44 1438.3L1141.95 1432.06L1160.81 1423.33L1184.38 1411.22L1217.39 1392.82L1229.17 1387.06L1237.42 1383.81L1245.68 1381.29L1253.93 1379.37L1263.36 1377.79L1273.97 1376.75L1282.22 1376.9L1288.11 1378.06L1294 1380.74L1298.26 1383.98L1302.26 1388.1L1316.4 1407.02L1322.29 1413.74L1328.19 1418.44L1330.55 1419.69L1334.08 1420.88L1337.62 1421.27L1341.15 1420.87L1344.69 1419.74L1348.23 1417.92L1355.3 1412.33L1363.38 1403.11L1371.6 1390.94L1379.18 1377.03L1385.24 1363.12L1389.85 1349.2L1393.76 1331.81L1399.56 1295.29L1406.63 1267.47L1409.28 1255.29L1411.13 1243.12L1412.32 1229.21L1413.15 1190.95L1415.55 1164.86L1415.78 1154.43L1414.66 1142.25L1409.65 1109.21L1406.54 1070.95L1405.14 1062.26L1403.56 1055.3L1401.46 1048.35L1398.69 1041.39L1396.04 1036.17L1392.71 1030.95L1388.32 1025.74L1384.77 1022.64L1381.23 1020.4L1376.52 1018.56L1371.8 1017.89L1367.09 1018.24L1363.55 1019.09L1358.84 1020.82L1339.98 1030.06L1335.26 1031.42L1330.55 1031.85L1325.83 1031.25L1321.12 1029.67L1304.61 1020.58L1299.9 1018.56L1296.36 1017.58L1291.65 1017.12L1286.93 1017.68L1282.22 1019.28L1278.68 1021.16L1273.97 1024.5L1268.07 1029.93L1263.36 1035.23L1258.64 1041.41L1251.08 1053.56L1238.6 1078.37L1233.89 1086.79L1227.99 1095.58L1220.92 1103.88L1215.03 1109.23L1209.13 1113.42L1203.24 1116.78L1184.38 1126.21L1171.41 1134.78L1163.16 1141.39L1154.4 1149.21L1147.51 1156.17L1141.63 1163.12L1137.23 1169.37L1133.69 1175.39L1130.33 1182.25L1123.63 1197.9L1119.68 1204.86L1117.06 1208.34L1112.15 1213.56L1094.8 1229.43L1086.54 1238.99L1082.54 1244.86L1078.62 1251.82L1068.86 1274.2L1065.33 1280.68L1059.56 1288.34L1046.91 1302.25L1040.81 1310.94L1036.48 1319.64L1029.61 1338.77L1026.67 1345.73L1023.05 1352.68L1011.99 1371.81L1008.91 1378.77L1007.21 1383.98L1006.09 1389.2L1005.57 1394.42L1005.66 1399.64L1006.43 1404.85L1007.92 1410.07L1010.25 1415.29L1012.35 1418.77L1015.82 1423.3L1019.91 1427.46L1024.07 1430.87L1028.79 1434.03L1034.68 1437.23L1041.75 1440.2L1047.65 1442.13L1060.61 1444.91Z" fill="none" stroke="#6c6c6e" stroke-width="1.9"/>
<path d="M1062.97 1434.58L1072.4 1435.76L1081.83 1436.01L1091.26 1435.46L1100.69 1434.12L1110.12 1432.05L1118.37 1429.63L1127.8 1426.21L1138.41 1421.56L1149.02 1416.19L1164.34 1407.52L1176.13 1400.19L1185.56 1393.59L1192.63 1387.96L1199 1382.25L1220.92 1359.63L1225.64 1355.71L1230.35 1352.49L1240.96 1347.08L1264.54 1337.67L1286.93 1327.55L1292.83 1325.58L1297.54 1325.14L1301.08 1325.98L1304.61 1328.29L1306.97 1330.85L1311.69 1338.47L1320.07 1356.16L1323.77 1363.12L1328.19 1369.64L1332.9 1374.25L1335.26 1375.67L1337.62 1376.52L1339.98 1376.81L1342.33 1376.57L1347.05 1374.53L1349.41 1372.75L1352.94 1369.13L1357.27 1363.12L1361.19 1356.03L1364.73 1348.12L1368.16 1338.77L1373.08 1321.38L1379.82 1290.08L1382.41 1279.97L1386.38 1269.21L1394.57 1253.55L1398.24 1244.86L1401.27 1233.4L1402.89 1220.51L1403.14 1204.86L1401.01 1154.43L1400.02 1142.25L1398.21 1130.08L1391.01 1095.3L1386.27 1077.91L1383.59 1071.05L1380.83 1065.74L1377.7 1061.3L1374.16 1057.86L1371.8 1056.31L1368.27 1054.86L1362.37 1054.32L1356.48 1055.44L1339.98 1060.94L1335.26 1061.67L1330.55 1061.65L1325.83 1060.79L1320.31 1058.78L1302.26 1048.53L1297.54 1046.48L1294 1045.47L1289.29 1045.02L1284.57 1045.65L1279.86 1047.45L1276.32 1049.59L1272.79 1052.46L1269.25 1056.11L1265.71 1060.63L1262.38 1065.74L1257.64 1074.43L1240.96 1108.22L1233.89 1120.38L1226.82 1130.71L1219.74 1139.05L1212.67 1145.29L1206.78 1148.99L1193.81 1155.15L1189.1 1157.91L1183.2 1162.48L1178.49 1167.3L1173.65 1173.56L1168.3 1182.25L1163.95 1190.95L1154.91 1211.62L1152.55 1215.65L1150.2 1218.66L1146.66 1221.68L1142.34 1223.99L1121.91 1230.37L1111.3 1235.09L1105.4 1238.74L1101.87 1241.44L1097.15 1245.78L1093.62 1249.8L1089.72 1255.29L1085.9 1262.25L1078.21 1281.38L1073.8 1290.08L1068.86 1296.8L1056.64 1310.94L1051 1319.64L1047.65 1326.6L1039.71 1345.73L1027.84 1366.59L1024.35 1373.55L1021.73 1380.51L1020.1 1387.46L1019.63 1396.16L1020.73 1403.11L1023.44 1410.07L1025.54 1413.55L1028.79 1417.65L1034.68 1423.02L1042.93 1428.14L1052.36 1431.98L1062.97 1434.58Z" fill="none" stroke="#747477" stroke-width="1.9"/>
<path d="M1065.33 1427.65L1074.76 1428.92L1085.37 1429.09L1095.97 1428.1L1106.58 1426L1117.19 1422.86L1128.98 1418.18L1140.77 1412.35L1152.55 1405.6L1163.16 1398.9L1173.77 1391.4L1182.02 1384.55L1187.92 1378.69L1193.62 1371.81L1198.31 1364.85L1211.49 1340.38L1215.03 1335.56L1219.74 1331.03L1223.28 1328.63L1227.99 1326.22L1252.75 1317L1265.71 1310.71L1277.5 1303.08L1297.54 1287.13L1303.43 1283.91L1306.97 1283.36L1309.33 1283.95L1312.68 1286.6L1315.04 1290.08L1318.76 1298.51L1328.19 1325.66L1331.72 1332.91L1335.26 1337.86L1338.8 1340.69L1342.33 1341.6L1345.87 1340.73L1348.23 1339.21L1350.58 1336.93L1355.3 1330.04L1357.87 1324.86L1360.67 1317.9L1365.48 1302.25L1372.43 1272.68L1375.34 1262.2L1377.7 1255.77L1380.05 1250.79L1388.3 1237.75L1390.89 1232.69L1393.66 1223.99L1394.94 1215.3L1395.2 1206.6L1394.75 1197.9L1391.91 1171.82L1390.05 1142.25L1388.04 1128.34L1384.28 1112.69L1380.05 1100.25L1375.34 1090.48L1372.71 1086.6L1369.44 1083.05L1364.73 1079.91L1362.37 1079.03L1358.84 1078.36L1352.94 1078.46L1336.44 1080.78L1330.55 1080.67L1325.83 1079.85L1317.58 1076.7L1299.9 1066.7L1292.83 1064.4L1289.29 1064.12L1285.75 1064.55L1282.28 1065.74L1279.86 1067.04L1276.32 1069.72L1273.4 1072.69L1270.43 1076.42L1266.89 1081.8L1261 1092.5L1239.78 1134.11L1232.71 1146.3L1225.64 1156.73L1218.56 1164.86L1212.67 1169.49L1206.78 1172.23L1197.35 1174.88L1192.63 1176.69L1187.92 1179.47L1183.2 1183.6L1178.6 1189.21L1174.95 1194.98L1170.82 1203.12L1163.16 1220.75L1160.35 1225.73L1157.56 1229.21L1153.73 1232.12L1149.02 1233.99L1128.98 1237.11L1123.09 1238.62L1117.19 1240.78L1111.3 1243.78L1107.76 1246.09L1103.05 1249.94L1099.54 1253.55L1095.56 1258.77L1091.63 1265.73L1088.71 1272.68L1083.2 1288.34L1079.8 1295.29L1074.94 1302.25L1063.39 1316.16L1057.93 1324.86L1048.88 1343.99L1035.57 1368.33L1032.02 1377.03L1030.11 1383.98L1029.19 1392.68L1029.98 1399.64L1032.54 1406.59L1035.98 1411.81L1041.21 1417.03L1047.65 1421.37L1055.9 1425.08L1065.33 1427.65Z" fill="none" stroke="#7d7d80" stroke-width="1.9"/>
<path d="M1068.86 1422.34L1079.47 1423.58L1090.08 1423.35L1101.87 1421.61L1113.66 1418.39L1124.26 1414.3L1137.23 1407.88L1150.2 1400.15L1161.98 1392.13L1170.2 1385.72L1177.31 1379.14L1182.26 1373.55L1187.14 1366.59L1190.03 1361.38L1193.09 1354.42L1199.7 1334.43L1203.24 1325.56L1207.96 1316.88L1210.31 1313.54L1213.85 1309.57L1217.39 1306.72L1222.1 1304.28L1226.82 1302.81L1242.14 1299.45L1249.21 1297.31L1258.64 1293.35L1266.89 1288.61L1273.97 1283.42L1281.04 1277.09L1288.48 1269.21L1304.61 1250.2L1308.15 1246.83L1311.69 1244.5L1315.22 1243.89L1317.58 1244.88L1319.94 1247.4L1322.29 1251.81L1325.83 1262.43L1332.9 1289.36L1335.26 1296.02L1337.62 1300.93L1339.98 1304.24L1341.72 1305.73L1343.51 1306.56L1345.87 1306.53L1349.41 1304.29L1351.76 1301.36L1354.12 1297.24L1357.66 1288.68L1361.19 1277.07L1367.53 1251.82L1370.57 1241.38L1374.16 1231.89L1381.39 1217.03L1383.02 1211.82L1383.81 1206.6L1383.81 1197.9L1381.29 1171.82L1381.02 1143.99L1379.72 1131.82L1377.29 1121.39L1374.16 1112.89L1370.62 1106.31L1365.91 1100.6L1363.55 1098.72L1360.01 1096.82L1354.12 1095.49L1347.05 1095.82L1331.72 1098.57L1324.65 1098.43L1321.12 1097.54L1317.58 1096.05L1302.26 1086.23L1295.18 1082.94L1291.65 1082.23L1288.11 1082.31L1285.01 1083.13L1282.22 1084.48L1278.68 1087.13L1275.14 1090.79L1268.07 1100.76L1258.64 1117.5L1240.96 1152.8L1233.89 1165.94L1226.82 1177.4L1223.28 1182.22L1219.74 1186.24L1215.03 1190.02L1211.49 1191.6L1207.96 1192.27L1198.53 1192.29L1194.99 1192.73L1190.27 1194.41L1185.56 1197.76L1182.02 1201.6L1177.56 1208.34L1166.4 1230.95L1163.16 1235.36L1159.63 1238.42L1156.09 1240.15L1152.55 1241.06L1133.69 1242.3L1127.8 1243.27L1123.09 1244.51L1117.19 1246.81L1112.48 1249.38L1107.76 1252.81L1104.23 1256.15L1099.41 1262.25L1095.59 1269.21L1092.86 1276.16L1087.97 1291.81L1084.9 1298.77L1080.65 1305.33L1070.38 1317.9L1065.55 1324.86L1047.42 1357.9L1041.84 1370.07L1038.03 1382.25L1037.02 1389.2L1037.37 1396.16L1038.22 1399.64L1039.6 1403.11L1042.92 1408.33L1047.65 1413.05L1053.62 1417.03L1060.61 1420.11L1068.86 1422.34Z" fill="none" stroke="#858589" stroke-width="1.9"/>
<path d="M1083.01 1418.8L1092.44 1418.38L1101.87 1416.85L1111.3 1414.29L1120.73 1410.74L1131.34 1405.64L1143.12 1398.78L1153.73 1391.64L1163.16 1384.34L1169.28 1378.77L1174.1 1373.55L1178.04 1368.33L1182.1 1361.38L1185.66 1352.68L1191.45 1331.81L1196.17 1318.65L1202.06 1305.32L1207.96 1293.24L1211.49 1286.93L1215.03 1282.03L1218.56 1278.98L1222.1 1277.62L1225.64 1277.33L1238.6 1278.17L1244.5 1277.8L1252.75 1275.99L1259.82 1273.16L1268.07 1268.18L1275.14 1262.32L1282.22 1254.81L1289.73 1244.86L1295.27 1236.16L1300.21 1227.47L1311.29 1204.86L1318.2 1187.47L1319.65 1182.25L1320.68 1175.3L1320.39 1166.6L1318.29 1154.43L1314.79 1140.52L1311.4 1130.08L1307.69 1121.39L1303.69 1114.43L1299.53 1109.21L1295.39 1105.73L1292.83 1104.38L1289.29 1103.51L1286.93 1103.56L1283.4 1104.55L1279.86 1106.61L1276.32 1109.64L1272.79 1113.55L1269.25 1118.26L1263.36 1127.67L1257.46 1138.76L1237.42 1181.68L1229.17 1198.17L1223.28 1208.1L1218.56 1213.64L1215.03 1215.67L1211.49 1215.76L1207.96 1214.42L1200.88 1210.51L1197.35 1209.2L1193.81 1208.84L1190.27 1209.64L1186.74 1211.76L1183.2 1215.35L1179.67 1220.45L1169.77 1237.9L1166.7 1241.57L1163.16 1244.34L1159.63 1245.92L1156.09 1246.7L1134.87 1246.89L1128.98 1247.67L1123.09 1249.22L1117.19 1251.76L1112.48 1254.68L1107.72 1258.77L1103.39 1263.99L1100.28 1269.21L1097.98 1274.42L1091.92 1295.29L1088.9 1302.49L1084.58 1309.2L1074.76 1321.22L1070.04 1327.71L1061.1 1342.25L1054.4 1354.42L1051.25 1361.38L1048.1 1370.07L1045.46 1378.77L1044.04 1385.72L1043.89 1392.68L1045 1397.9L1047.65 1403.34L1052.36 1408.73L1058.25 1412.84L1065.33 1415.93L1073.58 1417.96L1083.01 1418.8ZM1345.87 1262.82L1347.05 1263.18L1349.41 1262.28L1351.76 1259.35L1354.12 1254.48L1358.84 1239.43L1363.27 1220.51L1365.25 1210.08L1366.63 1199.64L1368.11 1171.82L1370.38 1147.47L1370.4 1140.52L1369.64 1133.56L1368.38 1128.34L1366.28 1123.12L1364.18 1119.65L1361.19 1116.38L1357.66 1114.21L1354.12 1113.39L1349.41 1113.97L1344.69 1116.45L1342.33 1118.62L1340.2 1121.39L1337.71 1126.6L1336.02 1133.56L1333.89 1152.69L1330.34 1171.82L1329.53 1178.78L1329.67 1187.47L1330.82 1197.9L1334.65 1223.99L1337.62 1241.22L1341.21 1255.29L1343.51 1260.34L1345.87 1262.82Z" fill="none" stroke="#8d8d92" stroke-width="1.9"/>
<path d="M1077.11 1413.71L1083.01 1414.28L1088.9 1414.27L1100.69 1412.75L1112.48 1409.43L1125.44 1403.88L1139.59 1395.81L1153.85 1385.72L1164.34 1376.34L1168.38 1371.81L1172.2 1366.59L1175.2 1361.38L1178.16 1354.42L1185.12 1328.33L1198.36 1295.29L1201.01 1286.6L1202.84 1277.9L1204.76 1260.51L1204.86 1253.55L1204.26 1246.6L1202.74 1239.64L1200.75 1234.43L1198.53 1230.58L1194.99 1227.01L1192.63 1225.96L1190.27 1225.85L1187.92 1226.63L1185.56 1228.24L1182.02 1232.05L1172.53 1244.86L1169.06 1248.06L1165.52 1250.19L1161.98 1251.37L1158.45 1251.87L1137.23 1250.76L1131.34 1251.24L1125.44 1252.55L1119.55 1254.88L1113.66 1258.6L1109.66 1262.25L1105.59 1267.47L1102.75 1272.68L1100.72 1277.9L1095.96 1297.03L1093.46 1303.99L1091.26 1308.08L1088.03 1312.68L1078.29 1324.1L1072.4 1331.72L1066.51 1340.47L1062.37 1347.46L1058.96 1354.42L1056.97 1359.64L1050.7 1382.25L1050.03 1389.2L1050.72 1394.42L1052.82 1399.64L1055.3 1403.11L1059.43 1406.92L1064.72 1410.07L1070.04 1412.13L1077.11 1413.71ZM1250.39 1253.6L1253.93 1253.65L1257.46 1253.08L1261 1251.95L1264.54 1250.27L1271.61 1245.28L1277.5 1239.33L1283.78 1230.95L1289.75 1220.51L1294.37 1210.08L1298.4 1197.9L1301.02 1185.73L1302.09 1175.3L1302.01 1164.86L1300.73 1154.43L1298.08 1143.99L1294.26 1135.3L1290.47 1130.25L1288.11 1128.41L1285.75 1127.4L1283.4 1127.11L1281.04 1127.48L1278.68 1128.46L1275.14 1130.99L1270.43 1136.15L1264.54 1145.23L1258.64 1156.86L1251.53 1173.56L1244.38 1192.69L1238.86 1210.08L1236.74 1218.77L1235.4 1227.47L1235.24 1234.43L1236.25 1240.7L1238.6 1246.18L1241.96 1250.08L1245.68 1252.36L1250.39 1253.6Z" fill="none" stroke="#95959b" stroke-width="1.9"/>
<path d="M1074.76 1408.45L1084.19 1409.94L1094.8 1409.57L1106.58 1407.12L1118.37 1402.79L1132.52 1395.4L1145.48 1386.73L1151.38 1382.09L1156.99 1377.03L1164.59 1368.33L1167.95 1363.12L1171.19 1356.16L1173.34 1349.2L1176.25 1335.29L1178.18 1328.33L1180.92 1321.38L1190.55 1300.51L1192.92 1293.55L1194.18 1288.34L1195.5 1276.16L1195.55 1267.47L1195.09 1260.51L1194.26 1255.29L1192.65 1250.08L1191.45 1247.87L1189.1 1245.58L1186.74 1245.03L1184.38 1245.64L1172.59 1253.81L1169.06 1255.48L1165.52 1256.44L1158.45 1256.71L1144.3 1254.74L1138.41 1254.34L1132.52 1254.66L1126.62 1255.87L1121.91 1257.65L1116.96 1260.51L1112.48 1264.34L1108.94 1268.68L1105.73 1274.42L1103.76 1279.64L1099.25 1300.51L1096.69 1307.47L1092.14 1314.42L1078.29 1329.8L1071.48 1338.77L1065.37 1349.2L1062.2 1357.9L1056.48 1382.25L1056.02 1387.46L1056.68 1392.68L1058.95 1397.9L1062.97 1402.49L1068.86 1406.29L1074.76 1408.45ZM1259.82 1222.61L1262.18 1223.66L1265.71 1223.53L1269.25 1221.96L1273.16 1218.77L1276.32 1215.1L1279.86 1209.6L1282.97 1203.12L1285.43 1196.17L1287.16 1189.21L1288.19 1182.25L1288.51 1175.3L1288.22 1170.08L1287.34 1164.86L1285.75 1160.02L1283.4 1156.28L1281.04 1154.57L1278.68 1154.21L1276.32 1154.91L1273.97 1156.54L1270.43 1160.55L1267.71 1164.86L1264.54 1171.19L1259.74 1183.99L1256.29 1197.9L1255.21 1208.34L1255.5 1213.56L1256.28 1217.22L1257.83 1220.51L1259.82 1222.61Z" fill="none" stroke="#9e9ea4" stroke-width="1.9"/>
<path d="M1080.65 1404.96L1085.37 1405.59L1090.08 1405.72L1099.51 1404.72L1108.94 1402.26L1119.71 1397.9L1131.34 1391.54L1143.12 1383.43L1152.49 1375.29L1159.63 1366.86L1162.95 1361.38L1165.84 1354.42L1167.59 1347.46L1169.88 1333.55L1171.94 1326.6L1174.31 1321.38L1183.82 1303.99L1186.62 1297.03L1188.02 1291.81L1188.94 1283.12L1188.15 1272.68L1186.11 1265.73L1185.07 1263.99L1183.2 1262.17L1180.84 1261.24L1178.49 1261.09L1170.24 1262.05L1164.34 1262.04L1144.3 1258.19L1138.41 1257.68L1133.69 1257.85L1127.8 1258.97L1121.91 1261.34L1117.19 1264.48L1112.48 1269.37L1109.32 1274.42L1106.63 1281.38L1105.08 1288.34L1102.88 1302.25L1100.44 1309.2L1098.35 1312.68L1095.58 1316.16L1083.01 1329.02L1075.94 1337.49L1070.72 1345.73L1068.44 1350.94L1067.43 1354.42L1065.78 1366.59L1062.19 1382.25L1062 1387.46L1062.62 1390.94L1065.15 1396.16L1068.47 1399.64L1074.43 1403.11L1080.65 1404.96Z" fill="none" stroke="#a6a6ad" stroke-width="1.9"/>
<path d="M1080.65 1399.81L1084.19 1400.68L1088.9 1401.23L1097.15 1400.86L1106.58 1398.81L1116.01 1395.3L1126.62 1389.84L1137.23 1382.89L1146.41 1375.29L1152.77 1368.33L1157.27 1361.38L1160.13 1354.42L1161.68 1347.46L1163.3 1333.55L1165.31 1326.6L1167.95 1321.38L1177.85 1305.73L1180.35 1300.51L1182.06 1295.29L1182.94 1288.34L1182.19 1281.38L1180.33 1276.16L1177.31 1272.34L1172.59 1269.81L1150.2 1262.87L1143.12 1261.3L1137.23 1260.85L1130.16 1261.64L1124.26 1263.72L1118.61 1267.47L1114.84 1271.52L1111.97 1276.16L1109.42 1283.12L1108.35 1288.34L1106.43 1303.99L1105.45 1307.47L1103.84 1310.94L1099.98 1316.16L1086.54 1329.17L1079.6 1337.03L1075.04 1343.99L1072.3 1350.94L1071.73 1354.42L1071.27 1366.59L1068.21 1380.51L1067.97 1383.98L1068.3 1387.46L1069.45 1390.94L1072.4 1395.04L1076.19 1397.9L1080.65 1399.81Z" fill="none" stroke="#aeaeb7" stroke-width="1.9"/>
<path d="M1088.9 1396.19L1095.97 1396.39L1104.23 1395.03L1112.48 1392.36L1120.73 1388.55L1130.16 1382.97L1138.21 1377.03L1145.52 1370.07L1150.2 1363.93L1153.34 1357.9L1155.03 1352.68L1155.95 1347.46L1157.04 1333.55L1158.47 1328.33L1162.22 1321.38L1172.96 1305.73L1175.43 1300.51L1176.83 1295.29L1177.08 1291.81L1176.73 1288.34L1174.98 1283.12L1171.41 1278.15L1166.71 1274.42L1158.45 1269.9L1150.2 1266.42L1143.12 1264.52L1137.23 1263.98L1131.34 1264.59L1125.44 1266.67L1121.91 1268.87L1119.55 1270.91L1116.01 1275.36L1113.83 1279.64L1112.2 1284.86L1111.33 1290.08L1110.25 1303.99L1109.43 1307.47L1107.9 1310.94L1105.51 1314.42L1102.33 1317.9L1090.08 1329.07L1084.19 1335.29L1079.27 1342.25L1077.61 1345.73L1076.57 1349.2L1076.24 1352.68L1077.22 1363.12L1076.63 1368.33L1074.48 1378.77L1074.31 1382.25L1074.81 1385.72L1076.33 1389.2L1079.6 1392.68L1084.19 1395.05L1088.9 1396.19Z" fill="none" stroke="#b6b6c0" stroke-width="1.9"/>
<path d="M1094.8 1391L1100.69 1390.75L1107.78 1389.2L1116.01 1386.07L1124.26 1381.72L1131.35 1377.03L1138.41 1371.06L1143.81 1364.85L1146.96 1359.64L1148.41 1356.16L1149.77 1350.94L1150.75 1335.29L1152.08 1330.07L1155.94 1323.12L1165.05 1310.94L1168.32 1305.73L1170.55 1300.51L1171.41 1295.29L1171.09 1291.81L1170.03 1288.34L1168.27 1284.86L1165.79 1281.38L1159.63 1275.59L1155.3 1272.68L1151.38 1270.61L1147.84 1269.13L1143.12 1267.78L1138.41 1267.17L1134.87 1267.26L1131.34 1267.88L1127.8 1269.11L1124.56 1270.95L1121.91 1273.13L1118.2 1277.9L1116.55 1281.38L1115.46 1284.86L1114.44 1291.81L1114.03 1303.99L1113.29 1307.47L1111.76 1310.94L1109.32 1314.42L1106.06 1317.9L1094.18 1328.33L1088.86 1333.55L1084.64 1338.77L1082.56 1342.25L1081.19 1345.73L1080.65 1349.2L1081.03 1352.68L1083.14 1361.38L1082.88 1366.59L1081.23 1377.03L1081.66 1382.25L1083.28 1385.72L1086.54 1388.68L1090.08 1390.21L1094.8 1391Z" fill="none" stroke="#bfbfc9" stroke-width="1.9"/>
<path d="M1097.15 1384.18L1103.05 1384.37L1108.94 1383.22L1116.01 1380.65L1122.98 1377.03L1128.98 1372.99L1134.37 1368.33L1138.81 1363.12L1141.79 1357.9L1143.83 1350.94L1144.41 1337.03L1145.81 1331.81L1149.95 1324.86L1161.93 1309.2L1164.66 1303.99L1165.97 1298.77L1165.89 1295.29L1165.06 1291.81L1162.69 1286.6L1160.46 1283.12L1157.52 1279.64L1154.91 1277.27L1151.38 1274.74L1147.84 1272.86L1140.77 1270.74L1134.87 1270.62L1128.98 1272.3L1125.56 1274.42L1123.68 1276.16L1120.18 1281.38L1118.47 1286.6L1117.85 1291.81L1117.86 1303.99L1117.14 1307.47L1115.55 1310.94L1113.01 1314.42L1109.65 1317.9L1097.43 1328.33L1092.01 1333.55L1087.88 1338.77L1086.04 1342.25L1085.13 1345.73L1085.35 1349.2L1089.11 1357.9L1089.7 1361.38L1088.94 1371.81L1089.27 1377.03L1090.82 1380.51L1092.44 1382.16L1094.8 1383.48L1097.15 1384.18Z" fill="none" stroke="#c7c7d2" stroke-width="1.9"/>
<path d="M1103.05 1375.53L1105.4 1375.99L1108.94 1375.9L1112.48 1375.18L1117.19 1373.48L1120.73 1371.71L1125.44 1368.65L1131.4 1363.12L1133.9 1359.64L1136.24 1354.42L1137.17 1349.2L1137.49 1338.77L1139.28 1333.55L1143.94 1326.6L1155.45 1312.68L1159.51 1305.73L1160.82 1300.51L1160.7 1297.03L1159.86 1293.55L1157.71 1288.34L1155.74 1284.86L1153.04 1281.38L1149.03 1277.9L1145.48 1275.92L1140.72 1274.42L1134.87 1274.33L1129.67 1276.16L1125.58 1279.64L1123.42 1283.12L1121.91 1288.1L1121.54 1293.55L1121.9 1303.99L1121.12 1307.47L1119.39 1310.94L1116.72 1314.42L1113.25 1317.9L1096.97 1331.81L1092.47 1337.03L1090.52 1340.51L1089.7 1343.99L1089.83 1345.73L1091.26 1348.96L1095.51 1354.42L1096.4 1356.16L1097.27 1359.64L1097.61 1366.59L1098.33 1370.73L1099.92 1373.55L1103.05 1375.53Z" fill="none" stroke="#cfcfdb" stroke-width="1.9"/>
<path d="M1113.66 1363.33L1116.5 1363.12L1119.55 1361.88L1121.91 1360.25L1124.2 1357.9L1125.44 1355.93L1126.68 1352.68L1127.78 1343.99L1129.79 1338.77L1134.62 1331.81L1149.96 1314.42L1153.39 1309.2L1154.87 1305.73L1155.53 1302.25L1155.35 1298.77L1153.96 1293.55L1151.79 1288.34L1149.62 1284.86L1147.84 1282.86L1145.48 1280.97L1141.95 1279.24L1138.41 1278.56L1134.87 1278.87L1131.34 1280.42L1128.52 1283.12L1126.73 1286.6L1126 1290.08L1125.92 1293.55L1126.62 1302.25L1126.1 1305.73L1124.62 1309.2L1122.2 1312.68L1118.95 1316.16L1100.54 1331.81L1097.49 1335.29L1095.45 1338.77L1094.84 1342.25L1095.97 1344.95L1098.33 1347.15L1104.32 1350.94L1106.14 1352.68L1107.27 1354.42L1110.12 1361.28L1111.3 1362.42L1113.66 1363.33Z" fill="none" stroke="#d7d7e4" stroke-width="1.9"/>
<path d="M1105.4 1342.53L1108.94 1342.9L1112.48 1342.48L1116.01 1341.33L1120.73 1338.54L1127.8 1332.53L1137.44 1323.12L1142.33 1317.9L1146.33 1312.68L1148.77 1307.47L1149.11 1305.73L1149.04 1302.25L1145.83 1291.81L1143.87 1288.34L1141.95 1286.49L1139.59 1285.44L1137.23 1285.32L1134.87 1286.28L1133.69 1287.46L1132.52 1289.85L1132.21 1291.81L1132.91 1298.77L1132.86 1302.25L1131.83 1305.73L1129.83 1309.2L1127.02 1312.68L1123.51 1316.16L1106.57 1330.07L1102.15 1335.29L1101.37 1337.03L1101.15 1338.77L1101.77 1340.51L1103.05 1341.58L1105.4 1342.53Z" fill="none" stroke="#e0e0ed" stroke-width="1.9"/>
<path d="M1112.48 1333.67L1113.66 1333.89L1116.01 1333.52L1119.63 1331.81L1124.52 1328.33L1131.69 1321.38L1134.18 1317.9L1134.67 1316.16L1133.69 1315.82L1132.52 1316.12L1129.47 1317.9L1117.15 1326.6L1113.42 1330.07L1112.23 1331.81L1112.48 1333.67Z" fill="none" stroke="#e8e8f6" stroke-width="1.9"/>
</g>
<rect x="1577.1" y="1450" width="26.5" height="35.5" fill="#fcfcfe"/>
<rect x="1577.1" y="1415.1" width="26.5" height="35.5" fill="#f6f6fb"/>
<rect x="1577.1" y="1380.2" width="26.5" height="35.5" fill="#f1f1f7"/>
<rect x="1577.1" y="1345.3" width="26.5" height="35.5" fill="#ebebf4"/>
<rect x="1577.1" y="1310.4" width="26.5" height="35.5" fill="#e6e5f1"/>
<rect x="1577.1" y="1275.5" width="26.5" height="35.5" fill="#e0e0ed"/>
<rect x="1577.1" y="1240.6" width="26.5" height="35.5" fill="#dadaea"/>
<rect x="1577.1" y="1205.7" width="26.5" height="35.5" fill="#d5d4e7"/>
<rect x="1577.1" y="1170.8" width="26.5" height="35.5" fill="#cfcfe3"/>
<rect x="1577.1" y="1135.9" width="26.5" height="35.5" fill="#cac9e0"/>
<rect x="1577.1" y="1101" width="26.5" height="35.5" fill="#c4c3dd"/>
<rect x="1577.1" y="1066.1" width="26.5" height="35.5" fill="#bebed9"/>
<rect x="1577.1" y="1031.2" width="26.5" height="35.5" fill="#b9b8d6"/>
<rect x="1577.1" y="996.3" width="26.5" height="35.5" fill="#b3b2d3"/>
<rect x="1577.1" y="961.4" width="26.5" height="35.5" fill="#aeadcf"/>
<rect x="1577.1" y="926.5" width="26.5" height="35.5" fill="#a8a7cc"/>
<text x="1612.8" y="1492.5" font-size="21" text-anchor="start" fill="#1a1a1a" font-family="'Liberation Sans', Arial, Helvetica, sans-serif" stroke="#1a1a1a" stroke-width="0.45">0.0</text>
<text x="1612.8" y="1422.7" font-size="21" text-anchor="start" fill="#1a1a1a" font-family="'Liberation Sans', Arial, Helvetica, sans-serif" stroke="#1a1a1a" stroke-width="0.45">0.2</text>
<text x="1612.8" y="1352.9" font-size="21" text-anchor="start" fill="#1a1a1a" font-family="'Liberation Sans', Arial, Helvetica, sans-serif" stroke="#1a1a1a" stroke-width="0.45">0.4</text>
<text x="1612.8" y="1283.1" font-size="21" text-anchor="start" fill="#1a1a1a" font-family="'Liberation Sans', Arial, Helvetica, sans-serif" stroke="#1a1a1a" stroke-width="0.45">0.6</text>
<text x="1612.8" y="1213.3" font-size="21" text-anchor="start" fill="#1a1a1a" font-family="'Liberation Sans', Arial, Helvetica, sans-serif" stroke="#1a1a1a" stroke-width="0.45">0.8</text>
<text x="1612.8" y="1143.5" font-size="21" text-anchor="start" fill="#1a1a1a" font-family="'Liberation Sans', Arial, Helvetica, sans-serif" stroke="#1a1a1a" stroke-width="0.45">1.0</text>
<text x="1612.8" y="1073.7" font-size="21" text-anchor="start" fill="#1a1a1a" font-family="'Liberation Sans', Arial, Helvetica, sans-serif" stroke="#1a1a1a" stroke-width="0.45">1.2</text>
<text x="1612.8" y="1003.9" font-size="21" text-anchor="start" fill="#1a1a1a" font-family="'Liberation Sans', Arial, Helvetica, sans-serif" stroke="#1a1a1a" stroke-width="0.45">1.4</text>
<text x="1612.8" y="934.1" font-size="21" text-anchor="start" fill="#1a1a1a" font-family="'Liberation Sans', Arial, Helvetica, sans-serif" stroke="#1a1a1a" stroke-width="0.45">1.6</text>
<text x="125.3" y="1436.6" font-size="21.5" text-anchor="end" fill="#1a1a1a" font-family="'Liberation Sans', Arial, Helvetica, sans-serif" stroke="#1a1a1a" stroke-width="0.45">0.0</text>
<text x="125.3" y="1324.55" font-size="21.5" text-anchor="end" fill="#1a1a1a" font-family="'Liberation Sans', Arial, Helvetica, sans-serif" stroke="#1a1a1a" stroke-width="0.45">0.2</text>
<text x="125.3" y="1212.5" font-size="21.5" text-anchor="end" fill="#1a1a1a" font-family="'Liberation Sans', Arial, Helvetica, sans-serif" stroke="#1a1a1a" stroke-width="0.45">0.4</text>
<text x="125.3" y="1100.45" font-size="21.5" text-anchor="end" fill="#1a1a1a" font-family="'Liberation Sans', Arial, Helvetica, sans-serif" stroke="#1a1a1a" stroke-width="0.45">0.6</text>
<text x="125.3" y="988.4" font-size="21.5" text-anchor="end" fill="#1a1a1a" font-family="'Liberation Sans', Arial, Helvetica, sans-serif" stroke="#1a1a1a" stroke-width="0.45">0.8</text>
<text x="114.9" y="1518.8" font-size="20.5" text-anchor="start" fill="#1a1a1a" font-family="'Liberation Sans', Arial, Helvetica, sans-serif" stroke="#1a1a1a" stroke-width="0.45">10</text>
<text x="139.2" y="1503.5" font-size="15" text-anchor="start" fill="#1a1a1a" font-family="'Liberation Sans', Arial, Helvetica, sans-serif" stroke="#1a1a1a" stroke-width="0.45">-4</text>
<text x="206.77" y="1518.8" font-size="20.5" text-anchor="start" fill="#1a1a1a" font-family="'Liberation Sans', Arial, Helvetica, sans-serif" stroke="#1a1a1a" stroke-width="0.45">10</text>
<text x="231.07" y="1503.5" font-size="15" text-anchor="start" fill="#1a1a1a" font-family="'Liberation Sans', Arial, Helvetica, sans-serif" stroke="#1a1a1a" stroke-width="0.45">-3</text>
<text x="298.64" y="1518.8" font-size="20.5" text-anchor="start" fill="#1a1a1a" font-family="'Liberation Sans', Arial, Helvetica, sans-serif" stroke="#1a1a1a" stroke-width="0.45">10</text>
<text x="322.94" y="1503.5" font-size="15" text-anchor="start" fill="#1a1a1a" font-family="'Liberation Sans', Arial, Helvetica, sans-serif" stroke="#1a1a1a" stroke-width="0.45">-2</text>
<text x="390.51" y="1518.8" font-size="20.5" text-anchor="start" fill="#1a1a1a" font-family="'Liberation Sans', Arial, Helvetica, sans-serif" stroke="#1a1a1a" stroke-width="0.45">10</text>
<text x="414.81" y="1503.5" font-size="15" text-anchor="start" fill="#1a1a1a" font-family="'Liberation Sans', Arial, Helvetica, sans-serif" stroke="#1a1a1a" stroke-width="0.45">-1</text>
<text x="482.38" y="1518.8" font-size="20.5" text-anchor="start" fill="#1a1a1a" font-family="'Liberation Sans', Arial, Helvetica, sans-serif" stroke="#1a1a1a" stroke-width="0.45">10</text>
<text x="506.68" y="1503.5" font-size="15" text-anchor="start" fill="#1a1a1a" font-family="'Liberation Sans', Arial, Helvetica, sans-serif" stroke="#1a1a1a" stroke-width="0.45">0</text>
<text x="574.25" y="1518.8" font-size="20.5" text-anchor="start" fill="#1a1a1a" font-family="'Liberation Sans', Arial, Helvetica, sans-serif" stroke="#1a1a1a" stroke-width="0.45">10</text>
<text x="598.55" y="1503.5" font-size="15" text-anchor="start" fill="#1a1a1a" font-family="'Liberation Sans', Arial, Helvetica, sans-serif" stroke="#1a1a1a" stroke-width="0.45">1</text>
<text x="666.12" y="1518.8" font-size="20.5" text-anchor="start" fill="#1a1a1a" font-family="'Liberation Sans', Arial, Helvetica, sans-serif" stroke="#1a1a1a" stroke-width="0.45">10</text>
<text x="690.42" y="1503.5" font-size="15" text-anchor="start" fill="#1a1a1a" font-family="'Liberation Sans', Arial, Helvetica, sans-serif" stroke="#1a1a1a" stroke-width="0.45">2</text>
<text x="352.19" y="1559.4" font-size="28" fill="#1a1a1a" font-family="'Liberation Serif', 'Times New Roman', serif" font-style="italic" textLength="21.01" lengthAdjust="spacingAndGlyphs" stroke="#1a1a1a" stroke-width="0.3">D</text>
<text x="379.7" y="1559.7" font-size="28" fill="#1a1a1a" font-family="'Liberation Serif', 'Times New Roman', serif" textLength="6.66" lengthAdjust="spacingAndGlyphs" stroke="#1a1a1a" stroke-width="0.3">[</text>
<text x="387.2" y="1559.4" font-size="28" fill="#1a1a1a" font-family="'Liberation Serif', 'Times New Roman', serif" font-style="italic" textLength="13.24" lengthAdjust="spacingAndGlyphs" stroke="#1a1a1a" stroke-width="0.3">&#956;</text>
<text x="399.2" y="1559.4" font-size="28" fill="#1a1a1a" font-family="'Liberation Serif', 'Times New Roman', serif" textLength="23.33" lengthAdjust="spacingAndGlyphs" stroke="#1a1a1a" stroke-width="0.3">m</text>
<text x="423.54" y="1549.8" font-size="19.5" fill="#1a1a1a" font-family="'Liberation Serif', 'Times New Roman', serif" textLength="10.62" lengthAdjust="spacingAndGlyphs" stroke="#1a1a1a" stroke-width="0.3">2</text>
<text x="436.9" y="1564.7" font-size="36" fill="#1a1a1a" font-family="'Liberation Serif', 'Times New Roman', serif" textLength="10.71" lengthAdjust="spacingAndGlyphs" stroke="#1a1a1a" stroke-width="0.3">/</text>
<text x="447.57" y="1559.4" font-size="28" fill="#1a1a1a" font-family="'Liberation Serif', 'Times New Roman', serif" textLength="11.98" lengthAdjust="spacingAndGlyphs" stroke="#1a1a1a" stroke-width="0.6">s</text>
<text x="458.98" y="1559.7" font-size="28" fill="#1a1a1a" font-family="'Liberation Serif', 'Times New Roman', serif" textLength="5.92" lengthAdjust="spacingAndGlyphs" stroke="#1a1a1a" stroke-width="0.3">]</text>
<text transform="translate(78,1233.2) rotate(-90)" x="-0.33" y="0" font-size="28" fill="#1a1a1a" font-family="'Liberation Serif', 'Times New Roman', serif" font-style="italic" textLength="16.32" lengthAdjust="spacingAndGlyphs" stroke="#1a1a1a" stroke-width="0.3">S</text>
<text transform="translate(81.1,1219.7) rotate(-90)" x="-0.59" y="0" font-size="20" fill="#1a1a1a" font-family="'Liberation Serif', 'Times New Roman', serif" textLength="39.3" lengthAdjust="spacingAndGlyphs" stroke="#1a1a1a" stroke-width="0.3">MSS</text>
<text x="970.6" y="1436.6" font-size="21.5" text-anchor="end" fill="#1a1a1a" font-family="'Liberation Sans', Arial, Helvetica, sans-serif" stroke="#1a1a1a" stroke-width="0.45">0.0</text>
<text x="970.6" y="1324.55" font-size="21.5" text-anchor="end" fill="#1a1a1a" font-family="'Liberation Sans', Arial, Helvetica, sans-serif" stroke="#1a1a1a" stroke-width="0.45">0.2</text>
<text x="970.6" y="1212.5" font-size="21.5" text-anchor="end" fill="#1a1a1a" font-family="'Liberation Sans', Arial, Helvetica, sans-serif" stroke="#1a1a1a" stroke-width="0.45">0.4</text>
<text x="970.6" y="1100.45" font-size="21.5" text-anchor="end" fill="#1a1a1a" font-family="'Liberation Sans', Arial, Helvetica, sans-serif" stroke="#1a1a1a" stroke-width="0.45">0.6</text>
<text x="970.6" y="988.4" font-size="21.5" text-anchor="end" fill="#1a1a1a" font-family="'Liberation Sans', Arial, Helvetica, sans-serif" stroke="#1a1a1a" stroke-width="0.45">0.8</text>
<text x="960.2" y="1518.8" font-size="20.5" text-anchor="start" fill="#1a1a1a" font-family="'Liberation Sans', Arial, Helvetica, sans-serif" stroke="#1a1a1a" stroke-width="0.45">10</text>
<text x="984.5" y="1503.5" font-size="15" text-anchor="start" fill="#1a1a1a" font-family="'Liberation Sans', Arial, Helvetica, sans-serif" stroke="#1a1a1a" stroke-width="0.45">-4</text>
<text x="1052.07" y="1518.8" font-size="20.5" text-anchor="start" fill="#1a1a1a" font-family="'Liberation Sans', Arial, Helvetica, sans-serif" stroke="#1a1a1a" stroke-width="0.45">10</text>
<text x="1076.37" y="1503.5" font-size="15" text-anchor="start" fill="#1a1a1a" font-family="'Liberation Sans', Arial, Helvetica, sans-serif" stroke="#1a1a1a" stroke-width="0.45">-3</text>
<text x="1143.94" y="1518.8" font-size="20.5" text-anchor="start" fill="#1a1a1a" font-family="'Liberation Sans', Arial, Helvetica, sans-serif" stroke="#1a1a1a" stroke-width="0.45">10</text>
<text x="1168.24" y="1503.5" font-size="15" text-anchor="start" fill="#1a1a1a" font-family="'Liberation Sans', Arial, Helvetica, sans-serif" stroke="#1a1a1a" stroke-width="0.45">-2</text>
<text x="1235.81" y="1518.8" font-size="20.5" text-anchor="start" fill="#1a1a1a" font-family="'Liberation Sans', Arial, Helvetica, sans-serif" stroke="#1a1a1a" stroke-width="0.45">10</text>
<text x="1260.11" y="1503.5" font-size="15" text-anchor="start" fill="#1a1a1a" font-family="'Liberation Sans', Arial, Helvetica, sans-serif" stroke="#1a1a1a" stroke-width="0.45">-1</text>
<text x="1327.68" y="1518.8" font-size="20.5" text-anchor="start" fill="#1a1a1a" font-family="'Liberation Sans', Arial, Helvetica, sans-serif" stroke="#1a1a1a" stroke-width="0.45">10</text>
<text x="1351.98" y="1503.5" font-size="15" text-anchor="start" fill="#1a1a1a" font-family="'Liberation Sans', Arial, Helvetica, sans-serif" stroke="#1a1a1a" stroke-width="0.45">0</text>
<text x="1419.55" y="1518.8" font-size="20.5" text-anchor="start" fill="#1a1a1a" font-family="'Liberation Sans', Arial, Helvetica, sans-serif" stroke="#1a1a1a" stroke-width="0.45">10</text>
<text x="1443.85" y="1503.5" font-size="15" text-anchor="start" fill="#1a1a1a" font-family="'Liberation Sans', Arial, Helvetica, sans-serif" stroke="#1a1a1a" stroke-width="0.45">1</text>
<text x="1511.42" y="1518.8" font-size="20.5" text-anchor="start" fill="#1a1a1a" font-family="'Liberation Sans', Arial, Helvetica, sans-serif" stroke="#1a1a1a" stroke-width="0.45">10</text>
<text x="1535.72" y="1503.5" font-size="15" text-anchor="start" fill="#1a1a1a" font-family="'Liberation Sans', Arial, Helvetica, sans-serif" stroke="#1a1a1a" stroke-width="0.45">2</text>
<text x="1197.49" y="1559.4" font-size="28" fill="#1a1a1a" font-family="'Liberation Serif', 'Times New Roman', serif" font-style="italic" textLength="21.01" lengthAdjust="spacingAndGlyphs" stroke="#1a1a1a" stroke-width="0.3">D</text>
<text x="1225" y="1559.7" font-size="28" fill="#1a1a1a" font-family="'Liberation Serif', 'Times New Roman', serif" textLength="6.66" lengthAdjust="spacingAndGlyphs" stroke="#1a1a1a" stroke-width="0.3">[</text>
<text x="1232.5" y="1559.4" font-size="28" fill="#1a1a1a" font-family="'Liberation Serif', 'Times New Roman', serif" font-style="italic" textLength="13.24" lengthAdjust="spacingAndGlyphs" stroke="#1a1a1a" stroke-width="0.3">&#956;</text>
<text x="1244.5" y="1559.4" font-size="28" fill="#1a1a1a" font-family="'Liberation Serif', 'Times New Roman', serif" textLength="23.33" lengthAdjust="spacingAndGlyphs" stroke="#1a1a1a" stroke-width="0.3">m</text>
<text x="1268.84" y="1549.8" font-size="19.5" fill="#1a1a1a" font-family="'Liberation Serif', 'Times New Roman', serif" textLength="10.62" lengthAdjust="spacingAndGlyphs" stroke="#1a1a1a" stroke-width="0.3">2</text>
<text x="1282.2" y="1564.7" font-size="36" fill="#1a1a1a" font-family="'Liberation Serif', 'Times New Roman', serif" textLength="10.71" lengthAdjust="spacingAndGlyphs" stroke="#1a1a1a" stroke-width="0.3">/</text>
<text x="1292.87" y="1559.4" font-size="28" fill="#1a1a1a" font-family="'Liberation Serif', 'Times New Roman', serif" textLength="11.98" lengthAdjust="spacingAndGlyphs" stroke="#1a1a1a" stroke-width="0.6">s</text>
<text x="1304.28" y="1559.7" font-size="28" fill="#1a1a1a" font-family="'Liberation Serif', 'Times New Roman', serif" textLength="5.92" lengthAdjust="spacingAndGlyphs" stroke="#1a1a1a" stroke-width="0.3">]</text>
<text transform="translate(923.3,1233.2) rotate(-90)" x="-0.33" y="0" font-size="28" fill="#1a1a1a" font-family="'Liberation Serif', 'Times New Roman', serif" font-style="italic" textLength="16.32" lengthAdjust="spacingAndGlyphs" stroke="#1a1a1a" stroke-width="0.3">S</text>
<text transform="translate(926.4,1219.7) rotate(-90)" x="-0.59" y="0" font-size="20" fill="#1a1a1a" font-family="'Liberation Serif', 'Times New Roman', serif" textLength="39.3" lengthAdjust="spacingAndGlyphs" stroke="#1a1a1a" stroke-width="0.3">MSS</text>
</svg></body></html>
